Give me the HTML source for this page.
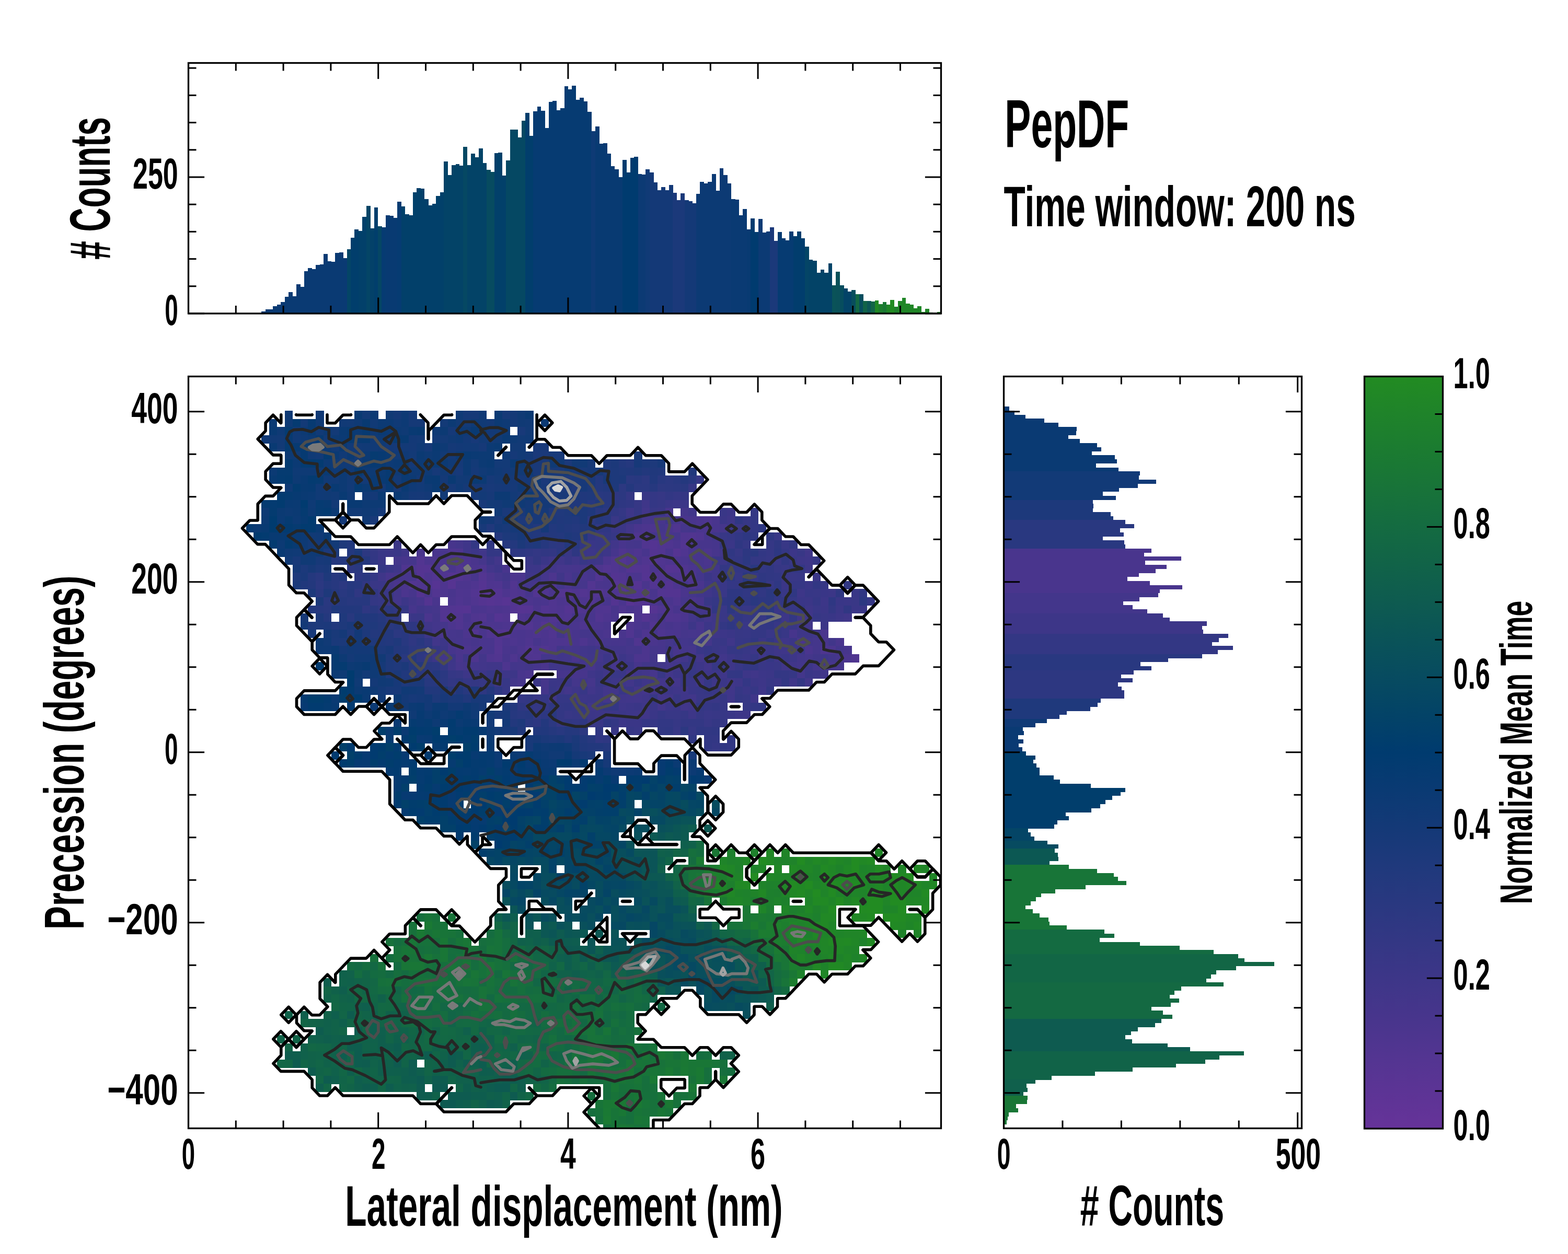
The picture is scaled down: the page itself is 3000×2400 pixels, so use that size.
<!DOCTYPE html>
<html><head><meta charset="utf-8"><title>PepDF</title>
<style>html,body{margin:0;padding:0;background:#fff;}svg{display:block;}</style>
</head><body>
<svg xmlns="http://www.w3.org/2000/svg" width="3000" height="2400" viewBox="0 0 3000 2400">
<rect x="0" y="0" width="3000" height="2400" fill="#fff"/>
<defs><clipPath id="mclip"><rect x="360.5" y="720.5" width="1440.0" height="1439.0"/></clipPath></defs>
<g shape-rendering="crispEdges">
<rect x="500.20" y="596.10" width="7.78" height="3.90" fill="#0a3a73"/>
<rect x="507.63" y="592.20" width="7.78" height="7.80" fill="#0a3a73"/>
<rect x="515.05" y="592.20" width="7.78" height="7.80" fill="#0a3a73"/>
<rect x="522.48" y="586.20" width="7.78" height="13.80" fill="#0a3a73"/>
<rect x="529.91" y="583.10" width="7.78" height="16.90" fill="#0a3a73"/>
<rect x="537.34" y="578.00" width="7.78" height="22.00" fill="#0a3a73"/>
<rect x="544.76" y="568.10" width="7.78" height="31.90" fill="#0a3a73"/>
<rect x="552.19" y="559.20" width="7.78" height="40.80" fill="#0a3a73"/>
<rect x="559.62" y="567.10" width="7.78" height="32.90" fill="#0a3a73"/>
<rect x="567.04" y="544.20" width="7.78" height="55.80" fill="#0a3a73"/>
<rect x="574.47" y="549.10" width="7.78" height="50.90" fill="#0a3a73"/>
<rect x="581.90" y="519.00" width="7.78" height="81.00" fill="#0a3a73"/>
<rect x="589.32" y="513.30" width="7.78" height="86.70" fill="#0a3a73"/>
<rect x="596.75" y="515.00" width="7.78" height="85.00" fill="#0a3a73"/>
<rect x="604.18" y="507.00" width="7.78" height="93.00" fill="#0a3a73"/>
<rect x="611.61" y="506.10" width="7.78" height="93.90" fill="#0a3a73"/>
<rect x="619.03" y="486.20" width="7.78" height="113.80" fill="#0a3a73"/>
<rect x="626.46" y="500.10" width="7.78" height="99.90" fill="#0a3a73"/>
<rect x="633.89" y="501.00" width="7.78" height="99.00" fill="#0a3a73"/>
<rect x="641.31" y="484.10" width="7.78" height="115.90" fill="#0a3a73"/>
<rect x="648.74" y="483.20" width="7.78" height="116.80" fill="#0a3a73"/>
<rect x="656.17" y="494.10" width="7.78" height="105.90" fill="#0a3a73"/>
<rect x="663.59" y="477.00" width="7.78" height="123.00" fill="#044566"/>
<rect x="671.02" y="455.10" width="7.78" height="144.90" fill="#013e6c"/>
<rect x="678.45" y="439.10" width="7.78" height="160.90" fill="#013e6c"/>
<rect x="685.88" y="441.90" width="7.78" height="158.10" fill="#02406a"/>
<rect x="693.30" y="415.20" width="7.78" height="184.80" fill="#02406a"/>
<rect x="700.73" y="394.10" width="7.78" height="205.90" fill="#044566"/>
<rect x="708.16" y="437.00" width="7.78" height="163.00" fill="#034169"/>
<rect x="715.58" y="397.10" width="7.78" height="202.90" fill="#013e6c"/>
<rect x="723.01" y="433.00" width="7.78" height="167.00" fill="#054664"/>
<rect x="730.44" y="435.10" width="7.78" height="164.90" fill="#063b72"/>
<rect x="737.86" y="412.10" width="7.78" height="187.90" fill="#083a72"/>
<rect x="745.29" y="413.00" width="7.78" height="187.00" fill="#083a72"/>
<rect x="752.72" y="417.00" width="7.78" height="183.00" fill="#083a72"/>
<rect x="760.14" y="386.10" width="7.78" height="213.90" fill="#063b72"/>
<rect x="767.57" y="395.00" width="7.78" height="205.00" fill="#02406a"/>
<rect x="775.00" y="410.00" width="7.78" height="190.00" fill="#02406a"/>
<rect x="782.43" y="412.10" width="7.78" height="187.90" fill="#02406a"/>
<rect x="789.85" y="368.20" width="7.78" height="231.80" fill="#02406a"/>
<rect x="797.28" y="360.20" width="7.78" height="239.80" fill="#02406a"/>
<rect x="804.71" y="361.20" width="7.78" height="238.80" fill="#02406a"/>
<rect x="812.13" y="381.20" width="7.78" height="218.80" fill="#02406a"/>
<rect x="819.56" y="393.00" width="7.78" height="207.00" fill="#02406a"/>
<rect x="826.99" y="390.10" width="7.78" height="209.90" fill="#02406a"/>
<rect x="834.41" y="375.10" width="7.78" height="224.90" fill="#02406a"/>
<rect x="841.84" y="367.80" width="7.78" height="232.20" fill="#02406a"/>
<rect x="849.27" y="309.10" width="7.78" height="290.90" fill="#034367"/>
<rect x="856.70" y="335.10" width="7.78" height="264.90" fill="#034367"/>
<rect x="864.12" y="316.20" width="7.78" height="283.80" fill="#034367"/>
<rect x="871.55" y="314.20" width="7.78" height="285.80" fill="#034367"/>
<rect x="878.98" y="317.10" width="7.78" height="282.90" fill="#034367"/>
<rect x="886.40" y="281.20" width="7.78" height="318.80" fill="#054863"/>
<rect x="893.83" y="316.10" width="7.78" height="283.90" fill="#034367"/>
<rect x="901.26" y="294.20" width="7.78" height="305.80" fill="#034367"/>
<rect x="908.68" y="301.00" width="7.78" height="299.00" fill="#034367"/>
<rect x="916.11" y="284.20" width="7.78" height="315.80" fill="#034367"/>
<rect x="923.54" y="312.00" width="7.78" height="288.00" fill="#034367"/>
<rect x="930.97" y="325.20" width="7.78" height="274.80" fill="#074b60"/>
<rect x="938.39" y="329.10" width="7.78" height="270.90" fill="#074b60"/>
<rect x="945.82" y="293.20" width="7.78" height="306.80" fill="#02406a"/>
<rect x="953.25" y="292.20" width="7.78" height="307.80" fill="#02406a"/>
<rect x="960.67" y="336.10" width="7.78" height="263.90" fill="#02406a"/>
<rect x="968.10" y="307.00" width="7.78" height="293.00" fill="#054863"/>
<rect x="975.53" y="248.10" width="7.78" height="351.90" fill="#054863"/>
<rect x="982.95" y="248.10" width="7.78" height="351.90" fill="#054863"/>
<rect x="990.38" y="263.00" width="7.78" height="337.00" fill="#054863"/>
<rect x="997.81" y="231.20" width="7.78" height="368.80" fill="#054863"/>
<rect x="1005.24" y="216.10" width="7.78" height="383.90" fill="#013e6c"/>
<rect x="1012.66" y="260.10" width="7.78" height="339.90" fill="#013e6c"/>
<rect x="1020.09" y="213.00" width="7.78" height="387.00" fill="#063b72"/>
<rect x="1027.52" y="204.10" width="7.78" height="395.90" fill="#063b72"/>
<rect x="1034.94" y="212.00" width="7.78" height="388.00" fill="#063b72"/>
<rect x="1042.37" y="245.10" width="7.78" height="354.90" fill="#063b72"/>
<rect x="1049.80" y="195.10" width="7.78" height="404.90" fill="#063b72"/>
<rect x="1057.22" y="193.10" width="7.78" height="406.90" fill="#063b72"/>
<rect x="1064.65" y="211.00" width="7.78" height="389.00" fill="#063b72"/>
<rect x="1072.08" y="207.10" width="7.78" height="392.90" fill="#063b72"/>
<rect x="1079.51" y="165.10" width="7.78" height="434.90" fill="#063b72"/>
<rect x="1086.93" y="171.00" width="7.78" height="429.00" fill="#063b72"/>
<rect x="1094.36" y="164.20" width="7.78" height="435.80" fill="#063b72"/>
<rect x="1101.79" y="191.20" width="7.78" height="408.80" fill="#063b72"/>
<rect x="1109.21" y="187.20" width="7.78" height="412.80" fill="#063b72"/>
<rect x="1116.64" y="194.10" width="7.78" height="405.90" fill="#063b72"/>
<rect x="1124.07" y="214.10" width="7.78" height="385.90" fill="#063b72"/>
<rect x="1131.49" y="251.20" width="7.78" height="348.80" fill="#0e3a75"/>
<rect x="1138.92" y="242.20" width="7.78" height="357.80" fill="#083a72"/>
<rect x="1146.35" y="275.10" width="7.78" height="324.90" fill="#083a72"/>
<rect x="1153.78" y="274.20" width="7.78" height="325.80" fill="#083a72"/>
<rect x="1161.20" y="294.20" width="7.78" height="305.80" fill="#083a72"/>
<rect x="1168.63" y="318.10" width="7.78" height="281.90" fill="#083a72"/>
<rect x="1176.06" y="324.10" width="7.78" height="275.90" fill="#083a72"/>
<rect x="1183.48" y="339.10" width="7.78" height="260.90" fill="#083a72"/>
<rect x="1190.91" y="306.20" width="7.78" height="293.80" fill="#003b6f"/>
<rect x="1198.34" y="330.10" width="7.78" height="269.90" fill="#003b6f"/>
<rect x="1205.76" y="302.00" width="7.78" height="298.00" fill="#003b6f"/>
<rect x="1213.19" y="300.10" width="7.78" height="299.90" fill="#003b6f"/>
<rect x="1220.62" y="333.20" width="7.78" height="266.80" fill="#0c3a74"/>
<rect x="1228.05" y="334.10" width="7.78" height="265.90" fill="#0c3a74"/>
<rect x="1235.47" y="324.10" width="7.78" height="275.90" fill="#103a76"/>
<rect x="1242.90" y="330.10" width="7.78" height="269.90" fill="#143977"/>
<rect x="1250.33" y="349.10" width="7.78" height="250.90" fill="#143977"/>
<rect x="1257.75" y="364.10" width="7.78" height="235.90" fill="#143977"/>
<rect x="1265.18" y="358.10" width="7.78" height="241.90" fill="#143977"/>
<rect x="1272.61" y="364.10" width="7.78" height="235.90" fill="#143977"/>
<rect x="1280.03" y="354.10" width="7.78" height="245.90" fill="#143977"/>
<rect x="1287.46" y="369.10" width="7.78" height="230.90" fill="#1b397a"/>
<rect x="1294.89" y="383.00" width="7.78" height="217.00" fill="#1b397a"/>
<rect x="1302.32" y="370.10" width="7.78" height="229.90" fill="#1b397a"/>
<rect x="1309.74" y="383.00" width="7.78" height="217.00" fill="#143977"/>
<rect x="1317.17" y="385.10" width="7.78" height="214.90" fill="#143977"/>
<rect x="1324.60" y="389.10" width="7.78" height="210.90" fill="#143977"/>
<rect x="1332.02" y="371.20" width="7.78" height="228.80" fill="#0c3a74"/>
<rect x="1339.45" y="348.10" width="7.78" height="251.90" fill="#0c3a74"/>
<rect x="1346.88" y="351.00" width="7.78" height="249.00" fill="#0c3a74"/>
<rect x="1354.30" y="348.10" width="7.78" height="251.90" fill="#0c3a74"/>
<rect x="1361.73" y="333.20" width="7.78" height="266.80" fill="#0c3a74"/>
<rect x="1369.16" y="365.10" width="7.78" height="234.90" fill="#0c3a74"/>
<rect x="1376.59" y="322.20" width="7.78" height="277.80" fill="#0c3a74"/>
<rect x="1384.01" y="335.10" width="7.78" height="264.90" fill="#0c3a74"/>
<rect x="1391.44" y="351.00" width="7.78" height="249.00" fill="#0c3a74"/>
<rect x="1398.87" y="381.20" width="7.78" height="218.80" fill="#0a3a73"/>
<rect x="1406.29" y="382.20" width="7.78" height="217.80" fill="#0a3a73"/>
<rect x="1413.72" y="412.00" width="7.78" height="188.00" fill="#0a3a73"/>
<rect x="1421.15" y="400.10" width="7.78" height="199.90" fill="#0a3a73"/>
<rect x="1428.58" y="439.10" width="7.78" height="160.90" fill="#083a72"/>
<rect x="1436.00" y="418.30" width="7.78" height="181.70" fill="#003b6f"/>
<rect x="1443.43" y="444.20" width="7.78" height="155.80" fill="#003b6f"/>
<rect x="1450.86" y="419.10" width="7.78" height="180.90" fill="#0c3a74"/>
<rect x="1458.28" y="445.20" width="7.78" height="154.80" fill="#0c3a74"/>
<rect x="1465.71" y="443.20" width="7.78" height="156.80" fill="#0c3a74"/>
<rect x="1473.14" y="435.20" width="7.78" height="164.80" fill="#1b397a"/>
<rect x="1480.56" y="461.00" width="7.78" height="139.00" fill="#1b397a"/>
<rect x="1487.99" y="444.20" width="7.78" height="155.80" fill="#063b72"/>
<rect x="1495.42" y="456.10" width="7.78" height="143.90" fill="#063b72"/>
<rect x="1502.85" y="460.10" width="7.78" height="139.90" fill="#063b72"/>
<rect x="1510.27" y="443.20" width="7.78" height="156.80" fill="#063b72"/>
<rect x="1517.70" y="452.20" width="7.78" height="147.80" fill="#013d6d"/>
<rect x="1525.13" y="443.20" width="7.78" height="156.80" fill="#013d6d"/>
<rect x="1532.55" y="456.10" width="7.78" height="143.90" fill="#013d6d"/>
<rect x="1539.98" y="472.20" width="7.78" height="127.80" fill="#044566"/>
<rect x="1547.41" y="497.10" width="7.78" height="102.90" fill="#034367"/>
<rect x="1554.83" y="499.10" width="7.78" height="100.90" fill="#034367"/>
<rect x="1562.26" y="522.00" width="7.78" height="78.00" fill="#034367"/>
<rect x="1569.69" y="516.10" width="7.78" height="83.90" fill="#034367"/>
<rect x="1577.12" y="522.00" width="7.78" height="78.00" fill="#034367"/>
<rect x="1584.54" y="504.20" width="7.78" height="95.80" fill="#034367"/>
<rect x="1591.97" y="546.00" width="7.78" height="54.00" fill="#0a5358"/>
<rect x="1599.40" y="520.10" width="7.78" height="79.90" fill="#0a5159"/>
<rect x="1606.82" y="546.20" width="7.78" height="53.80" fill="#074d5e"/>
<rect x="1614.25" y="552.20" width="7.78" height="47.80" fill="#034367"/>
<rect x="1621.68" y="558.20" width="7.78" height="41.80" fill="#034367"/>
<rect x="1629.10" y="555.20" width="7.78" height="44.80" fill="#084e5d"/>
<rect x="1636.53" y="563.30" width="7.78" height="36.70" fill="#136844"/>
<rect x="1643.96" y="563.30" width="7.78" height="36.70" fill="#074d5e"/>
<rect x="1651.38" y="576.20" width="7.78" height="23.80" fill="#116348"/>
<rect x="1658.81" y="576.20" width="7.78" height="23.80" fill="#0c5655"/>
<rect x="1666.24" y="577.20" width="7.78" height="22.80" fill="#126547"/>
<rect x="1673.67" y="575.30" width="7.78" height="24.70" fill="#218825"/>
<rect x="1681.09" y="582.30" width="7.78" height="17.70" fill="#1d7e2e"/>
<rect x="1688.52" y="578.40" width="7.78" height="21.60" fill="#1a7834"/>
<rect x="1695.95" y="583.20" width="7.78" height="16.80" fill="#208627"/>
<rect x="1703.37" y="574.30" width="7.78" height="25.70" fill="#228b22"/>
<rect x="1710.80" y="587.30" width="7.78" height="12.70" fill="#1e812b"/>
<rect x="1718.23" y="576.40" width="7.78" height="23.60" fill="#208627"/>
<rect x="1725.65" y="570.40" width="7.78" height="29.60" fill="#208627"/>
<rect x="1733.08" y="581.30" width="7.78" height="18.70" fill="#208627"/>
<rect x="1740.51" y="583.20" width="7.78" height="16.80" fill="#208627"/>
<rect x="1747.94" y="590.40" width="7.78" height="9.60" fill="#208627"/>
<rect x="1755.36" y="586.40" width="7.78" height="13.60" fill="#208627"/>
<rect x="1762.79" y="597.40" width="7.78" height="2.60" fill="#208627"/>
<rect x="1770.22" y="591.30" width="7.78" height="8.70" fill="#208627"/>
<rect x="1777.64" y="598.30" width="7.78" height="1.70" fill="#208627"/>
<rect x="1785.07" y="598.80" width="7.78" height="1.20" fill="#208627"/>
<rect x="1792.50" y="597.20" width="7.78" height="2.80" fill="#208627"/>
</g>
<g shape-rendering="crispEdges">
<rect x="1920.50" y="778.20" width="10.30" height="8.06" fill="#0a3a73"/>
<rect x="1920.50" y="785.96" width="20.30" height="8.06" fill="#0a3a73"/>
<rect x="1920.50" y="793.72" width="41.30" height="8.06" fill="#0a3a73"/>
<rect x="1920.50" y="801.48" width="77.30" height="8.06" fill="#0a3a73"/>
<rect x="1920.50" y="809.24" width="104.30" height="8.06" fill="#0a3a73"/>
<rect x="1920.50" y="817.00" width="139.30" height="8.06" fill="#0a3a73"/>
<rect x="1920.50" y="824.76" width="138.30" height="8.06" fill="#0a3a73"/>
<rect x="1920.50" y="832.52" width="123.50" height="8.06" fill="#0a3a73"/>
<rect x="1920.50" y="840.28" width="145.30" height="8.06" fill="#0a3a73"/>
<rect x="1920.50" y="848.04" width="178.40" height="8.06" fill="#0a3a73"/>
<rect x="1920.50" y="855.80" width="186.30" height="8.06" fill="#0a3a73"/>
<rect x="1920.50" y="863.56" width="168.30" height="8.06" fill="#0a3a73"/>
<rect x="1920.50" y="871.32" width="212.30" height="8.06" fill="#0a3a73"/>
<rect x="1920.50" y="879.08" width="216.20" height="8.06" fill="#0a3a73"/>
<rect x="1920.50" y="886.84" width="176.10" height="8.06" fill="#0a3a73"/>
<rect x="1920.50" y="894.60" width="219.20" height="8.06" fill="#0a3a73"/>
<rect x="1920.50" y="902.36" width="260.40" height="8.06" fill="#123a77"/>
<rect x="1920.50" y="910.12" width="258.30" height="8.06" fill="#123a77"/>
<rect x="1920.50" y="917.88" width="291.40" height="8.06" fill="#123a77"/>
<rect x="1920.50" y="925.64" width="256.30" height="8.06" fill="#123a77"/>
<rect x="1920.50" y="933.40" width="220.30" height="8.06" fill="#123a77"/>
<rect x="1920.50" y="941.16" width="189.30" height="8.06" fill="#123a77"/>
<rect x="1920.50" y="948.92" width="214.40" height="8.06" fill="#123a77"/>
<rect x="1920.50" y="956.68" width="170.40" height="8.06" fill="#1d397b"/>
<rect x="1920.50" y="964.44" width="171.30" height="8.06" fill="#1d397b"/>
<rect x="1920.50" y="972.20" width="170.40" height="8.06" fill="#1d397b"/>
<rect x="1920.50" y="979.96" width="204.30" height="8.06" fill="#1d397b"/>
<rect x="1920.50" y="987.72" width="209.40" height="8.06" fill="#1d397b"/>
<rect x="1920.50" y="995.48" width="232.40" height="8.06" fill="#293880"/>
<rect x="1920.50" y="1003.24" width="249.20" height="8.06" fill="#293880"/>
<rect x="1920.50" y="1011.00" width="222.30" height="8.06" fill="#293880"/>
<rect x="1920.50" y="1018.76" width="229.20" height="8.06" fill="#293880"/>
<rect x="1920.50" y="1026.52" width="189.30" height="8.06" fill="#293880"/>
<rect x="1920.50" y="1034.28" width="230.30" height="8.06" fill="#293880"/>
<rect x="1920.50" y="1042.04" width="232.40" height="8.06" fill="#293880"/>
<rect x="1920.50" y="1049.80" width="282.30" height="8.06" fill="#49358d"/>
<rect x="1920.50" y="1057.56" width="268.40" height="8.06" fill="#49358d"/>
<rect x="1920.50" y="1065.32" width="339.20" height="8.06" fill="#49358d"/>
<rect x="1920.50" y="1073.08" width="270.30" height="8.06" fill="#49358d"/>
<rect x="1920.50" y="1080.84" width="311.40" height="8.06" fill="#49358d"/>
<rect x="1920.50" y="1088.60" width="290.30" height="8.06" fill="#49358d"/>
<rect x="1920.50" y="1096.36" width="258.10" height="8.06" fill="#49358d"/>
<rect x="1920.50" y="1104.12" width="236.50" height="8.06" fill="#49358d"/>
<rect x="1920.50" y="1111.88" width="279.40" height="8.06" fill="#49358d"/>
<rect x="1920.50" y="1119.64" width="341.30" height="8.06" fill="#49358d"/>
<rect x="1920.50" y="1127.40" width="298.40" height="8.06" fill="#49358d"/>
<rect x="1920.50" y="1135.16" width="295.20" height="8.06" fill="#43368b"/>
<rect x="1920.50" y="1142.92" width="259.20" height="8.06" fill="#43368b"/>
<rect x="1920.50" y="1150.68" width="228.40" height="8.06" fill="#43368b"/>
<rect x="1920.50" y="1158.44" width="246.20" height="8.06" fill="#43368b"/>
<rect x="1920.50" y="1166.20" width="274.30" height="8.06" fill="#43368b"/>
<rect x="1920.50" y="1173.96" width="304.40" height="8.06" fill="#3d3688"/>
<rect x="1920.50" y="1181.72" width="317.20" height="8.06" fill="#3d3688"/>
<rect x="1920.50" y="1189.48" width="388.40" height="8.06" fill="#3d3688"/>
<rect x="1920.50" y="1197.24" width="379.60" height="8.06" fill="#3d3688"/>
<rect x="1920.50" y="1205.00" width="381.40" height="8.06" fill="#3d3688"/>
<rect x="1920.50" y="1212.76" width="429.40" height="8.06" fill="#333784"/>
<rect x="1920.50" y="1220.52" width="411.10" height="8.06" fill="#333784"/>
<rect x="1920.50" y="1228.28" width="398.40" height="8.06" fill="#333784"/>
<rect x="1920.50" y="1236.04" width="438.20" height="8.06" fill="#333784"/>
<rect x="1920.50" y="1243.80" width="409.30" height="8.06" fill="#333784"/>
<rect x="1920.50" y="1251.56" width="379.10" height="8.06" fill="#293880"/>
<rect x="1920.50" y="1259.32" width="314.20" height="8.06" fill="#293880"/>
<rect x="1920.50" y="1267.08" width="261.30" height="8.06" fill="#293880"/>
<rect x="1920.50" y="1274.84" width="282.20" height="8.06" fill="#293880"/>
<rect x="1920.50" y="1282.60" width="248.30" height="8.06" fill="#2d3781"/>
<rect x="1920.50" y="1290.36" width="224.40" height="8.06" fill="#2d3781"/>
<rect x="1920.50" y="1298.12" width="246.50" height="8.06" fill="#2d3781"/>
<rect x="1920.50" y="1305.88" width="218.40" height="8.06" fill="#2d3781"/>
<rect x="1920.50" y="1313.64" width="225.40" height="8.06" fill="#2d3781"/>
<rect x="1920.50" y="1321.40" width="230.20" height="8.06" fill="#2d3781"/>
<rect x="1920.50" y="1329.16" width="230.20" height="8.06" fill="#2d3781"/>
<rect x="1920.50" y="1336.92" width="185.50" height="8.06" fill="#1f397c"/>
<rect x="1920.50" y="1344.68" width="179.20" height="8.06" fill="#1f397c"/>
<rect x="1920.50" y="1352.44" width="165.10" height="8.06" fill="#1f397c"/>
<rect x="1920.50" y="1360.20" width="120.10" height="8.06" fill="#1f397c"/>
<rect x="1920.50" y="1367.96" width="106.20" height="8.06" fill="#1f397c"/>
<rect x="1920.50" y="1375.72" width="82.30" height="8.06" fill="#103a76"/>
<rect x="1920.50" y="1383.48" width="60.20" height="8.06" fill="#103a76"/>
<rect x="1920.50" y="1391.24" width="36.30" height="8.06" fill="#0a3a73"/>
<rect x="1920.50" y="1399.00" width="38.20" height="8.06" fill="#0a3a73"/>
<rect x="1920.50" y="1406.76" width="27.40" height="8.06" fill="#0a3a73"/>
<rect x="1920.50" y="1414.52" width="37.20" height="8.06" fill="#0a3a73"/>
<rect x="1920.50" y="1422.28" width="28.50" height="8.06" fill="#0a3a73"/>
<rect x="1920.50" y="1430.04" width="35.10" height="8.06" fill="#0a3a73"/>
<rect x="1920.50" y="1437.80" width="42.20" height="8.06" fill="#013e6c"/>
<rect x="1920.50" y="1445.56" width="60.10" height="8.06" fill="#013e6c"/>
<rect x="1920.50" y="1453.32" width="56.50" height="8.06" fill="#013e6c"/>
<rect x="1920.50" y="1461.08" width="62.10" height="8.06" fill="#013e6c"/>
<rect x="1920.50" y="1468.84" width="68.20" height="8.06" fill="#013e6c"/>
<rect x="1920.50" y="1476.60" width="68.20" height="8.06" fill="#013e6c"/>
<rect x="1920.50" y="1484.36" width="95.00" height="8.06" fill="#013e6c"/>
<rect x="1920.50" y="1492.12" width="107.20" height="8.06" fill="#013e6c"/>
<rect x="1920.50" y="1499.88" width="166.00" height="8.06" fill="#013e6c"/>
<rect x="1920.50" y="1507.64" width="232.10" height="8.06" fill="#013e6c"/>
<rect x="1920.50" y="1515.40" width="223.20" height="8.06" fill="#013e6c"/>
<rect x="1920.50" y="1523.16" width="207.20" height="8.06" fill="#013e6c"/>
<rect x="1920.50" y="1530.92" width="194.00" height="8.06" fill="#013e6c"/>
<rect x="1920.50" y="1538.68" width="184.30" height="8.06" fill="#013e6c"/>
<rect x="1920.50" y="1546.44" width="167.20" height="8.06" fill="#013e6c"/>
<rect x="1920.50" y="1554.20" width="118.30" height="8.06" fill="#013e6c"/>
<rect x="1920.50" y="1561.96" width="124.40" height="8.06" fill="#013e6c"/>
<rect x="1920.50" y="1569.72" width="102.10" height="8.06" fill="#013e6c"/>
<rect x="1920.50" y="1577.48" width="96.40" height="8.06" fill="#013e6c"/>
<rect x="1920.50" y="1585.24" width="46.30" height="8.06" fill="#044566"/>
<rect x="1920.50" y="1593.00" width="51.40" height="8.06" fill="#044566"/>
<rect x="1920.50" y="1600.76" width="58.50" height="8.06" fill="#044566"/>
<rect x="1920.50" y="1608.52" width="83.20" height="8.06" fill="#074b60"/>
<rect x="1920.50" y="1616.28" width="104.30" height="8.06" fill="#074b60"/>
<rect x="1920.50" y="1624.04" width="97.40" height="8.06" fill="#0c5853"/>
<rect x="1920.50" y="1631.80" width="103.10" height="8.06" fill="#0c5853"/>
<rect x="1920.50" y="1639.56" width="104.30" height="8.06" fill="#0c5853"/>
<rect x="1920.50" y="1647.32" width="87.30" height="8.06" fill="#0c5853"/>
<rect x="1920.50" y="1655.08" width="124.20" height="8.06" fill="#187538"/>
<rect x="1920.50" y="1662.84" width="178.20" height="8.06" fill="#187538"/>
<rect x="1920.50" y="1670.60" width="210.20" height="8.06" fill="#187538"/>
<rect x="1920.50" y="1678.36" width="218.30" height="8.06" fill="#187538"/>
<rect x="1920.50" y="1686.12" width="234.40" height="8.06" fill="#187538"/>
<rect x="1920.50" y="1693.88" width="156.30" height="8.06" fill="#187538"/>
<rect x="1920.50" y="1701.64" width="98.00" height="8.06" fill="#187538"/>
<rect x="1920.50" y="1709.40" width="71.10" height="8.06" fill="#187538"/>
<rect x="1920.50" y="1717.16" width="61.10" height="8.06" fill="#187538"/>
<rect x="1920.50" y="1724.92" width="51.30" height="8.06" fill="#187538"/>
<rect x="1920.50" y="1732.68" width="41.10" height="8.06" fill="#187538"/>
<rect x="1920.50" y="1740.44" width="55.20" height="8.06" fill="#187538"/>
<rect x="1920.50" y="1748.20" width="68.30" height="8.06" fill="#187538"/>
<rect x="1920.50" y="1755.96" width="85.20" height="8.06" fill="#187538"/>
<rect x="1920.50" y="1763.72" width="87.30" height="8.06" fill="#187538"/>
<rect x="1920.50" y="1771.48" width="120.40" height="8.06" fill="#187538"/>
<rect x="1920.50" y="1779.24" width="192.40" height="8.06" fill="#146b41"/>
<rect x="1920.50" y="1787.00" width="211.50" height="8.06" fill="#146b41"/>
<rect x="1920.50" y="1794.76" width="183.30" height="8.06" fill="#146b41"/>
<rect x="1920.50" y="1802.52" width="260.20" height="8.06" fill="#146b41"/>
<rect x="1920.50" y="1810.28" width="336.30" height="8.06" fill="#146b41"/>
<rect x="1920.50" y="1818.04" width="401.30" height="8.06" fill="#146b41"/>
<rect x="1920.50" y="1825.80" width="448.40" height="8.06" fill="#126645"/>
<rect x="1920.50" y="1833.56" width="460.40" height="8.06" fill="#126645"/>
<rect x="1920.50" y="1841.32" width="517.40" height="8.06" fill="#126645"/>
<rect x="1920.50" y="1849.08" width="444.30" height="8.06" fill="#126645"/>
<rect x="1920.50" y="1856.84" width="406.40" height="8.06" fill="#126645"/>
<rect x="1920.50" y="1864.60" width="396.30" height="8.06" fill="#126645"/>
<rect x="1920.50" y="1872.36" width="387.30" height="8.06" fill="#126645"/>
<rect x="1920.50" y="1880.12" width="420.50" height="8.06" fill="#146942"/>
<rect x="1920.50" y="1887.88" width="339.50" height="8.06" fill="#146942"/>
<rect x="1920.50" y="1895.64" width="326.50" height="8.06" fill="#146942"/>
<rect x="1920.50" y="1903.40" width="317.40" height="8.06" fill="#146942"/>
<rect x="1920.50" y="1911.16" width="335.60" height="8.06" fill="#146942"/>
<rect x="1920.50" y="1918.92" width="319.30" height="8.06" fill="#146942"/>
<rect x="1920.50" y="1926.68" width="282.30" height="8.06" fill="#146942"/>
<rect x="1920.50" y="1934.44" width="304.30" height="8.06" fill="#146942"/>
<rect x="1920.50" y="1942.20" width="322.50" height="8.06" fill="#146942"/>
<rect x="1920.50" y="1949.96" width="301.40" height="8.06" fill="#0e5b50"/>
<rect x="1920.50" y="1957.72" width="289.40" height="8.06" fill="#0e5b50"/>
<rect x="1920.50" y="1965.48" width="256.30" height="8.06" fill="#0e5b50"/>
<rect x="1920.50" y="1973.24" width="243.30" height="8.06" fill="#0e5b50"/>
<rect x="1920.50" y="1981.00" width="232.30" height="8.06" fill="#0e5b50"/>
<rect x="1920.50" y="1988.76" width="245.40" height="8.06" fill="#0e5b50"/>
<rect x="1920.50" y="1996.52" width="313.40" height="8.06" fill="#0e5b50"/>
<rect x="1920.50" y="2004.28" width="356.50" height="8.06" fill="#0e5b50"/>
<rect x="1920.50" y="2012.04" width="459.40" height="8.06" fill="#116348"/>
<rect x="1920.50" y="2019.80" width="412.50" height="8.06" fill="#116348"/>
<rect x="1920.50" y="2027.56" width="385.50" height="8.06" fill="#116348"/>
<rect x="1920.50" y="2035.32" width="329.40" height="8.06" fill="#116348"/>
<rect x="1920.50" y="2043.08" width="246.40" height="8.06" fill="#116348"/>
<rect x="1920.50" y="2050.84" width="174.40" height="8.06" fill="#116348"/>
<rect x="1920.50" y="2058.60" width="91.20" height="8.06" fill="#116348"/>
<rect x="1920.50" y="2066.36" width="60.40" height="8.06" fill="#10604c"/>
<rect x="1920.50" y="2074.12" width="43.20" height="8.06" fill="#10604c"/>
<rect x="1920.50" y="2081.88" width="45.10" height="8.06" fill="#10604c"/>
<rect x="1920.50" y="2089.64" width="37.20" height="8.06" fill="#10604c"/>
<rect x="1920.50" y="2097.40" width="45.10" height="8.06" fill="#197636"/>
<rect x="1920.50" y="2105.16" width="44.30" height="8.06" fill="#197636"/>
<rect x="1920.50" y="2112.92" width="23.40" height="8.06" fill="#197636"/>
<rect x="1920.50" y="2120.68" width="27.30" height="8.06" fill="#197636"/>
<rect x="1920.50" y="2128.44" width="9.10" height="8.06" fill="#197636"/>
<rect x="1920.50" y="2136.20" width="7.20" height="8.06" fill="#197636"/>
<rect x="1920.50" y="2143.96" width="5.10" height="8.06" fill="#197636"/>
</g>
<g clip-path="url(#mclip)"><g shape-rendering="crispEdges">
<rect x="544.8" y="786.0" width="15.3" height="15.9" fill="#0f3a75"/>
<rect x="604.2" y="786.0" width="15.3" height="15.9" fill="#113a76"/>
<rect x="678.4" y="786.0" width="15.3" height="15.9" fill="#0a3a73"/>
<rect x="693.3" y="786.0" width="15.3" height="15.9" fill="#133a77"/>
<rect x="708.2" y="786.0" width="15.3" height="15.9" fill="#0c3a74"/>
<rect x="737.9" y="786.0" width="15.3" height="15.9" fill="#103a75"/>
<rect x="752.7" y="786.0" width="15.3" height="15.9" fill="#143977"/>
<rect x="767.6" y="786.0" width="15.3" height="15.9" fill="#0e3a75"/>
<rect x="782.4" y="786.0" width="15.3" height="15.9" fill="#153978"/>
<rect x="871.5" y="786.0" width="15.3" height="15.9" fill="#103a76"/>
<rect x="886.4" y="786.0" width="30.1" height="15.9" fill="#163978"/>
<rect x="916.1" y="786.0" width="15.3" height="15.9" fill="#113a76"/>
<rect x="945.8" y="786.0" width="15.3" height="15.9" fill="#0c3a74"/>
<rect x="960.7" y="786.0" width="15.3" height="15.9" fill="#163978"/>
<rect x="975.5" y="786.0" width="15.3" height="15.9" fill="#143977"/>
<rect x="990.4" y="786.0" width="15.3" height="15.9" fill="#0f3a75"/>
<rect x="1005.2" y="786.0" width="15.3" height="15.9" fill="#0a3a73"/>
<rect x="515.1" y="801.5" width="15.3" height="15.9" fill="#0b3a74"/>
<rect x="544.8" y="801.5" width="15.3" height="15.9" fill="#0e3a75"/>
<rect x="559.6" y="801.5" width="15.3" height="15.9" fill="#053b71"/>
<rect x="574.5" y="801.5" width="15.3" height="15.9" fill="#133a77"/>
<rect x="589.3" y="801.5" width="15.3" height="15.9" fill="#073a72"/>
<rect x="604.2" y="801.5" width="15.3" height="15.9" fill="#0f3a75"/>
<rect x="648.7" y="801.5" width="15.3" height="15.9" fill="#113a76"/>
<rect x="663.6" y="801.5" width="15.3" height="15.9" fill="#123a76"/>
<rect x="678.4" y="801.5" width="15.3" height="15.9" fill="#0f3a75"/>
<rect x="693.3" y="801.5" width="15.3" height="15.9" fill="#083a72"/>
<rect x="708.2" y="801.5" width="15.3" height="15.9" fill="#113a76"/>
<rect x="723.0" y="801.5" width="30.1" height="15.9" fill="#0c3a74"/>
<rect x="752.7" y="801.5" width="15.3" height="15.9" fill="#103a76"/>
<rect x="767.6" y="801.5" width="15.3" height="15.9" fill="#0d3a75"/>
<rect x="782.4" y="801.5" width="30.1" height="15.9" fill="#153977"/>
<rect x="841.8" y="801.5" width="15.3" height="15.9" fill="#133a77"/>
<rect x="856.7" y="801.5" width="15.3" height="15.9" fill="#0c3a74"/>
<rect x="871.5" y="801.5" width="15.3" height="15.9" fill="#113a76"/>
<rect x="886.4" y="801.5" width="15.3" height="15.9" fill="#133a77"/>
<rect x="901.3" y="801.5" width="15.3" height="15.9" fill="#0f3a75"/>
<rect x="916.1" y="801.5" width="15.3" height="15.9" fill="#113a76"/>
<rect x="931.0" y="801.5" width="15.3" height="15.9" fill="#133977"/>
<rect x="945.8" y="801.5" width="15.3" height="15.9" fill="#0c3a74"/>
<rect x="960.7" y="801.5" width="15.3" height="15.9" fill="#0e3a75"/>
<rect x="975.5" y="801.5" width="15.3" height="15.9" fill="#143977"/>
<rect x="990.4" y="801.5" width="15.3" height="15.9" fill="#103a75"/>
<rect x="1005.2" y="801.5" width="15.3" height="15.9" fill="#113a76"/>
<rect x="1034.9" y="801.5" width="15.3" height="15.9" fill="#0c3a74"/>
<rect x="515.1" y="817.0" width="15.3" height="15.9" fill="#093a73"/>
<rect x="529.9" y="817.0" width="15.3" height="15.9" fill="#0f3a75"/>
<rect x="544.8" y="817.0" width="15.3" height="15.9" fill="#053b71"/>
<rect x="559.6" y="817.0" width="15.3" height="15.9" fill="#113a76"/>
<rect x="574.5" y="817.0" width="15.3" height="15.9" fill="#0d3a74"/>
<rect x="589.3" y="817.0" width="15.3" height="15.9" fill="#083a72"/>
<rect x="604.2" y="817.0" width="15.3" height="15.9" fill="#113a76"/>
<rect x="619.0" y="817.0" width="15.3" height="15.9" fill="#0c3a74"/>
<rect x="633.9" y="817.0" width="15.3" height="15.9" fill="#133a77"/>
<rect x="648.7" y="817.0" width="15.3" height="15.9" fill="#0a3a73"/>
<rect x="663.6" y="817.0" width="15.3" height="15.9" fill="#083a72"/>
<rect x="678.4" y="817.0" width="15.3" height="15.9" fill="#0b3a74"/>
<rect x="693.3" y="817.0" width="15.3" height="15.9" fill="#073a72"/>
<rect x="708.2" y="817.0" width="15.3" height="15.9" fill="#0f3a75"/>
<rect x="723.0" y="817.0" width="15.3" height="15.9" fill="#0a3a73"/>
<rect x="737.9" y="817.0" width="15.3" height="15.9" fill="#0c3a74"/>
<rect x="752.7" y="817.0" width="15.3" height="15.9" fill="#0d3a74"/>
<rect x="767.6" y="817.0" width="15.3" height="15.9" fill="#0f3a75"/>
<rect x="782.4" y="817.0" width="15.3" height="15.9" fill="#093a73"/>
<rect x="797.3" y="817.0" width="15.3" height="15.9" fill="#083a72"/>
<rect x="827.0" y="817.0" width="15.3" height="15.9" fill="#0f3a75"/>
<rect x="841.8" y="817.0" width="15.3" height="15.9" fill="#0c3a74"/>
<rect x="856.7" y="817.0" width="15.3" height="15.9" fill="#153978"/>
<rect x="871.5" y="817.0" width="15.3" height="15.9" fill="#0d3a74"/>
<rect x="886.4" y="817.0" width="15.3" height="15.9" fill="#0e3a75"/>
<rect x="901.3" y="817.0" width="15.3" height="15.9" fill="#093a73"/>
<rect x="916.1" y="817.0" width="15.3" height="15.9" fill="#0c3a74"/>
<rect x="931.0" y="817.0" width="15.3" height="15.9" fill="#133977"/>
<rect x="945.8" y="817.0" width="15.3" height="15.9" fill="#123a76"/>
<rect x="960.7" y="817.0" width="15.3" height="15.9" fill="#0e3a75"/>
<rect x="990.4" y="817.0" width="15.3" height="15.9" fill="#183979"/>
<rect x="1005.2" y="817.0" width="15.3" height="15.9" fill="#123a76"/>
<rect x="500.2" y="832.6" width="30.1" height="15.9" fill="#113a76"/>
<rect x="529.9" y="832.6" width="15.3" height="15.9" fill="#123a76"/>
<rect x="544.8" y="832.6" width="15.3" height="15.9" fill="#083a72"/>
<rect x="559.6" y="832.6" width="15.3" height="15.9" fill="#113a76"/>
<rect x="574.5" y="832.6" width="15.3" height="15.9" fill="#0f3a75"/>
<rect x="589.3" y="832.6" width="15.3" height="15.9" fill="#0d3a74"/>
<rect x="604.2" y="832.6" width="15.3" height="15.9" fill="#073a72"/>
<rect x="619.0" y="832.6" width="15.3" height="15.9" fill="#123a76"/>
<rect x="633.9" y="832.6" width="15.3" height="15.9" fill="#0d3a74"/>
<rect x="648.7" y="832.6" width="15.3" height="15.9" fill="#0b3a74"/>
<rect x="663.6" y="832.6" width="15.3" height="15.9" fill="#073a72"/>
<rect x="678.4" y="832.6" width="15.3" height="15.9" fill="#083a72"/>
<rect x="693.3" y="832.6" width="15.3" height="15.9" fill="#073a72"/>
<rect x="708.2" y="832.6" width="15.3" height="15.9" fill="#103a76"/>
<rect x="723.0" y="832.6" width="15.3" height="15.9" fill="#0e3a75"/>
<rect x="737.9" y="832.6" width="15.3" height="15.9" fill="#0f3a75"/>
<rect x="752.7" y="832.6" width="30.1" height="15.9" fill="#083a72"/>
<rect x="782.4" y="832.6" width="15.3" height="15.9" fill="#133977"/>
<rect x="797.3" y="832.6" width="15.3" height="15.9" fill="#133a77"/>
<rect x="827.0" y="832.6" width="30.1" height="15.9" fill="#133a77"/>
<rect x="856.7" y="832.6" width="15.3" height="15.9" fill="#103a75"/>
<rect x="871.5" y="832.6" width="15.3" height="15.9" fill="#0e3a75"/>
<rect x="886.4" y="832.6" width="15.3" height="15.9" fill="#133977"/>
<rect x="901.3" y="832.6" width="15.3" height="15.9" fill="#173979"/>
<rect x="916.1" y="832.6" width="15.3" height="15.9" fill="#123a76"/>
<rect x="931.0" y="832.6" width="15.3" height="15.9" fill="#123a77"/>
<rect x="945.8" y="832.6" width="15.3" height="15.9" fill="#103a75"/>
<rect x="960.7" y="832.6" width="15.3" height="15.9" fill="#0a3a73"/>
<rect x="975.5" y="832.6" width="15.3" height="15.9" fill="#0e3a75"/>
<rect x="990.4" y="832.6" width="15.3" height="15.9" fill="#113a76"/>
<rect x="1005.2" y="832.6" width="15.3" height="15.9" fill="#103a76"/>
<rect x="515.1" y="848.1" width="15.3" height="15.9" fill="#093a73"/>
<rect x="529.9" y="848.1" width="15.3" height="15.9" fill="#123a76"/>
<rect x="544.8" y="848.1" width="15.3" height="15.9" fill="#063b71"/>
<rect x="559.6" y="848.1" width="15.3" height="15.9" fill="#073a72"/>
<rect x="574.5" y="848.1" width="15.3" height="15.9" fill="#063b72"/>
<rect x="589.3" y="848.1" width="15.3" height="15.9" fill="#073a72"/>
<rect x="604.2" y="848.1" width="30.1" height="15.9" fill="#0d3a74"/>
<rect x="633.9" y="848.1" width="15.3" height="15.9" fill="#123a76"/>
<rect x="648.7" y="848.1" width="15.3" height="15.9" fill="#0a3a73"/>
<rect x="663.6" y="848.1" width="30.1" height="15.9" fill="#123a77"/>
<rect x="693.3" y="848.1" width="30.1" height="15.9" fill="#113a76"/>
<rect x="723.0" y="848.1" width="15.3" height="15.9" fill="#0f3a75"/>
<rect x="737.9" y="848.1" width="15.3" height="15.9" fill="#143977"/>
<rect x="752.7" y="848.1" width="15.3" height="15.9" fill="#153978"/>
<rect x="767.6" y="848.1" width="15.3" height="15.9" fill="#133a77"/>
<rect x="782.4" y="848.1" width="15.3" height="15.9" fill="#143977"/>
<rect x="797.3" y="848.1" width="15.3" height="15.9" fill="#103a76"/>
<rect x="812.1" y="848.1" width="15.3" height="15.9" fill="#153978"/>
<rect x="827.0" y="848.1" width="15.3" height="15.9" fill="#0a3a73"/>
<rect x="841.8" y="848.1" width="15.3" height="15.9" fill="#0e3a75"/>
<rect x="856.7" y="848.1" width="15.3" height="15.9" fill="#153977"/>
<rect x="871.5" y="848.1" width="15.3" height="15.9" fill="#133977"/>
<rect x="886.4" y="848.1" width="30.1" height="15.9" fill="#123a77"/>
<rect x="916.1" y="848.1" width="15.3" height="15.9" fill="#163978"/>
<rect x="931.0" y="848.1" width="15.3" height="15.9" fill="#0c3a74"/>
<rect x="945.8" y="848.1" width="15.3" height="15.9" fill="#0a3a73"/>
<rect x="975.5" y="848.1" width="30.1" height="15.9" fill="#123a76"/>
<rect x="1020.1" y="848.1" width="15.3" height="15.9" fill="#183979"/>
<rect x="1034.9" y="848.1" width="15.3" height="15.9" fill="#193979"/>
<rect x="544.8" y="863.6" width="15.3" height="15.9" fill="#0d3a75"/>
<rect x="559.6" y="863.6" width="15.3" height="15.9" fill="#0e3a75"/>
<rect x="574.5" y="863.6" width="15.3" height="15.9" fill="#063a72"/>
<rect x="589.3" y="863.6" width="15.3" height="15.9" fill="#103a76"/>
<rect x="604.2" y="863.6" width="15.3" height="15.9" fill="#123a77"/>
<rect x="619.0" y="863.6" width="15.3" height="15.9" fill="#053b71"/>
<rect x="633.9" y="863.6" width="15.3" height="15.9" fill="#0b3a74"/>
<rect x="648.7" y="863.6" width="15.3" height="15.9" fill="#113a76"/>
<rect x="663.6" y="863.6" width="15.3" height="15.9" fill="#0b3a74"/>
<rect x="678.4" y="863.6" width="15.3" height="15.9" fill="#133a77"/>
<rect x="693.3" y="863.6" width="15.3" height="15.9" fill="#0c3a74"/>
<rect x="708.2" y="863.6" width="15.3" height="15.9" fill="#063b71"/>
<rect x="723.0" y="863.6" width="15.3" height="15.9" fill="#083a72"/>
<rect x="737.9" y="863.6" width="15.3" height="15.9" fill="#0a3a73"/>
<rect x="752.7" y="863.6" width="15.3" height="15.9" fill="#113a76"/>
<rect x="767.6" y="863.6" width="15.3" height="15.9" fill="#103a76"/>
<rect x="782.4" y="863.6" width="15.3" height="15.9" fill="#133a77"/>
<rect x="797.3" y="863.6" width="15.3" height="15.9" fill="#0b3a73"/>
<rect x="812.1" y="863.6" width="15.3" height="15.9" fill="#0e3a75"/>
<rect x="827.0" y="863.6" width="15.3" height="15.9" fill="#0b3a74"/>
<rect x="841.8" y="863.6" width="15.3" height="15.9" fill="#123a76"/>
<rect x="856.7" y="863.6" width="15.3" height="15.9" fill="#143977"/>
<rect x="871.5" y="863.6" width="15.3" height="15.9" fill="#0c3a74"/>
<rect x="886.4" y="863.6" width="15.3" height="15.9" fill="#093a73"/>
<rect x="901.3" y="863.6" width="15.3" height="15.9" fill="#0b3a74"/>
<rect x="916.1" y="863.6" width="30.1" height="15.9" fill="#0c3a74"/>
<rect x="960.7" y="863.6" width="15.3" height="15.9" fill="#0e3a75"/>
<rect x="975.5" y="863.6" width="15.3" height="15.9" fill="#153978"/>
<rect x="990.4" y="863.6" width="15.3" height="15.9" fill="#123a76"/>
<rect x="1005.2" y="863.6" width="15.3" height="15.9" fill="#143977"/>
<rect x="1020.1" y="863.6" width="30.1" height="15.9" fill="#1a397a"/>
<rect x="1049.8" y="863.6" width="15.3" height="15.9" fill="#173979"/>
<rect x="1064.7" y="863.6" width="15.3" height="15.9" fill="#183979"/>
<rect x="1213.2" y="863.6" width="15.3" height="15.9" fill="#193979"/>
<rect x="544.8" y="879.1" width="15.3" height="15.9" fill="#043b71"/>
<rect x="559.6" y="879.1" width="15.3" height="15.9" fill="#0b3a74"/>
<rect x="574.5" y="879.1" width="15.3" height="15.9" fill="#053b71"/>
<rect x="589.3" y="879.1" width="15.3" height="15.9" fill="#043b71"/>
<rect x="604.2" y="879.1" width="15.3" height="15.9" fill="#053b71"/>
<rect x="619.0" y="879.1" width="15.3" height="15.9" fill="#0d3a75"/>
<rect x="633.9" y="879.1" width="15.3" height="15.9" fill="#103a75"/>
<rect x="648.7" y="879.1" width="45.0" height="15.9" fill="#103a76"/>
<rect x="693.3" y="879.1" width="15.3" height="15.9" fill="#0b3a73"/>
<rect x="708.2" y="879.1" width="15.3" height="15.9" fill="#073a72"/>
<rect x="723.0" y="879.1" width="15.3" height="15.9" fill="#083a72"/>
<rect x="737.9" y="879.1" width="15.3" height="15.9" fill="#0d3a75"/>
<rect x="752.7" y="879.1" width="15.3" height="15.9" fill="#0b3a74"/>
<rect x="767.6" y="879.1" width="15.3" height="15.9" fill="#0a3a73"/>
<rect x="782.4" y="879.1" width="15.3" height="15.9" fill="#143977"/>
<rect x="797.3" y="879.1" width="15.3" height="15.9" fill="#0c3a74"/>
<rect x="812.1" y="879.1" width="15.3" height="15.9" fill="#093a73"/>
<rect x="827.0" y="879.1" width="15.3" height="15.9" fill="#0b3a74"/>
<rect x="841.8" y="879.1" width="15.3" height="15.9" fill="#0c3a74"/>
<rect x="856.7" y="879.1" width="15.3" height="15.9" fill="#103a76"/>
<rect x="871.5" y="879.1" width="15.3" height="15.9" fill="#153978"/>
<rect x="886.4" y="879.1" width="15.3" height="15.9" fill="#0c3a74"/>
<rect x="901.3" y="879.1" width="15.3" height="15.9" fill="#133a77"/>
<rect x="916.1" y="879.1" width="15.3" height="15.9" fill="#0c3a74"/>
<rect x="931.0" y="879.1" width="15.3" height="15.9" fill="#0a3a73"/>
<rect x="945.8" y="879.1" width="30.1" height="15.9" fill="#133a77"/>
<rect x="975.5" y="879.1" width="15.3" height="15.9" fill="#0b3a74"/>
<rect x="990.4" y="879.1" width="15.3" height="15.9" fill="#0f3a75"/>
<rect x="1005.2" y="879.1" width="15.3" height="15.9" fill="#173979"/>
<rect x="1020.1" y="879.1" width="30.1" height="15.9" fill="#193979"/>
<rect x="1049.8" y="879.1" width="15.3" height="15.9" fill="#0f3a75"/>
<rect x="1064.7" y="879.1" width="15.3" height="15.9" fill="#113a76"/>
<rect x="1079.5" y="879.1" width="15.3" height="15.9" fill="#1b397a"/>
<rect x="1094.4" y="879.1" width="15.3" height="15.9" fill="#123a76"/>
<rect x="1109.2" y="879.1" width="15.3" height="15.9" fill="#113a76"/>
<rect x="1124.1" y="879.1" width="15.3" height="15.9" fill="#173978"/>
<rect x="1153.8" y="879.1" width="15.3" height="15.9" fill="#1e397b"/>
<rect x="1168.6" y="879.1" width="15.3" height="15.9" fill="#1c397a"/>
<rect x="1183.5" y="879.1" width="15.3" height="15.9" fill="#22387d"/>
<rect x="1198.3" y="879.1" width="15.3" height="15.9" fill="#25387e"/>
<rect x="1213.2" y="879.1" width="15.3" height="15.9" fill="#173979"/>
<rect x="1228.0" y="879.1" width="15.3" height="15.9" fill="#1c397a"/>
<rect x="1242.9" y="879.1" width="15.3" height="15.9" fill="#1d397b"/>
<rect x="1257.8" y="879.1" width="15.3" height="15.9" fill="#173979"/>
<rect x="515.1" y="894.6" width="15.3" height="15.9" fill="#0b3a74"/>
<rect x="529.9" y="894.6" width="30.1" height="15.9" fill="#053b71"/>
<rect x="559.6" y="894.6" width="45.0" height="15.9" fill="#0e3a75"/>
<rect x="604.2" y="894.6" width="15.3" height="15.9" fill="#0f3a75"/>
<rect x="619.0" y="894.6" width="15.3" height="15.9" fill="#0a3a73"/>
<rect x="633.9" y="894.6" width="15.3" height="15.9" fill="#0f3a75"/>
<rect x="648.7" y="894.6" width="15.3" height="15.9" fill="#0d3a74"/>
<rect x="663.6" y="894.6" width="15.3" height="15.9" fill="#113a76"/>
<rect x="678.4" y="894.6" width="15.3" height="15.9" fill="#063b72"/>
<rect x="693.3" y="894.6" width="15.3" height="15.9" fill="#0e3a75"/>
<rect x="708.2" y="894.6" width="15.3" height="15.9" fill="#0d3a74"/>
<rect x="723.0" y="894.6" width="15.3" height="15.9" fill="#0b3a74"/>
<rect x="737.9" y="894.6" width="15.3" height="15.9" fill="#073a72"/>
<rect x="752.7" y="894.6" width="15.3" height="15.9" fill="#0f3a75"/>
<rect x="767.6" y="894.6" width="15.3" height="15.9" fill="#083a72"/>
<rect x="782.4" y="894.6" width="45.0" height="15.9" fill="#0f3a75"/>
<rect x="827.0" y="894.6" width="15.3" height="15.9" fill="#163978"/>
<rect x="841.8" y="894.6" width="15.3" height="15.9" fill="#113a76"/>
<rect x="856.7" y="894.6" width="15.3" height="15.9" fill="#153977"/>
<rect x="871.5" y="894.6" width="15.3" height="15.9" fill="#173979"/>
<rect x="886.4" y="894.6" width="15.3" height="15.9" fill="#0c3a74"/>
<rect x="901.3" y="894.6" width="15.3" height="15.9" fill="#153978"/>
<rect x="916.1" y="894.6" width="15.3" height="15.9" fill="#113a76"/>
<rect x="931.0" y="894.6" width="15.3" height="15.9" fill="#0e3a75"/>
<rect x="945.8" y="894.6" width="15.3" height="15.9" fill="#113a76"/>
<rect x="960.7" y="894.6" width="15.3" height="15.9" fill="#143977"/>
<rect x="975.5" y="894.6" width="30.1" height="15.9" fill="#123a76"/>
<rect x="1005.2" y="894.6" width="15.3" height="15.9" fill="#0f3a75"/>
<rect x="1020.1" y="894.6" width="15.3" height="15.9" fill="#193979"/>
<rect x="1034.9" y="894.6" width="15.3" height="15.9" fill="#133977"/>
<rect x="1049.8" y="894.6" width="15.3" height="15.9" fill="#183979"/>
<rect x="1064.7" y="894.6" width="15.3" height="15.9" fill="#193979"/>
<rect x="1079.5" y="894.6" width="15.3" height="15.9" fill="#123a77"/>
<rect x="1094.4" y="894.6" width="15.3" height="15.9" fill="#173979"/>
<rect x="1109.2" y="894.6" width="15.3" height="15.9" fill="#183979"/>
<rect x="1124.1" y="894.6" width="30.1" height="15.9" fill="#163978"/>
<rect x="1153.8" y="894.6" width="15.3" height="15.9" fill="#1e397b"/>
<rect x="1168.6" y="894.6" width="15.3" height="15.9" fill="#1d397b"/>
<rect x="1183.5" y="894.6" width="15.3" height="15.9" fill="#1f397c"/>
<rect x="1198.3" y="894.6" width="15.3" height="15.9" fill="#20387c"/>
<rect x="1213.2" y="894.6" width="15.3" height="15.9" fill="#1e397b"/>
<rect x="1228.0" y="894.6" width="15.3" height="15.9" fill="#22387d"/>
<rect x="1242.9" y="894.6" width="15.3" height="15.9" fill="#20387c"/>
<rect x="1257.8" y="894.6" width="15.3" height="15.9" fill="#21387d"/>
<rect x="1317.2" y="894.6" width="15.3" height="15.9" fill="#21387c"/>
<rect x="515.1" y="910.2" width="15.3" height="15.9" fill="#073a72"/>
<rect x="529.9" y="910.2" width="15.3" height="15.9" fill="#043b71"/>
<rect x="544.8" y="910.2" width="15.3" height="15.9" fill="#033b70"/>
<rect x="559.6" y="910.2" width="15.3" height="15.9" fill="#0d3a74"/>
<rect x="574.5" y="910.2" width="15.3" height="15.9" fill="#093a73"/>
<rect x="589.3" y="910.2" width="15.3" height="15.9" fill="#043b71"/>
<rect x="604.2" y="910.2" width="15.3" height="15.9" fill="#063b71"/>
<rect x="619.0" y="910.2" width="15.3" height="15.9" fill="#103a76"/>
<rect x="633.9" y="910.2" width="15.3" height="15.9" fill="#113a76"/>
<rect x="648.7" y="910.2" width="15.3" height="15.9" fill="#0d3a74"/>
<rect x="663.6" y="910.2" width="15.3" height="15.9" fill="#123a76"/>
<rect x="678.4" y="910.2" width="15.3" height="15.9" fill="#103a76"/>
<rect x="693.3" y="910.2" width="15.3" height="15.9" fill="#133a77"/>
<rect x="708.2" y="910.2" width="15.3" height="15.9" fill="#0a3a73"/>
<rect x="723.0" y="910.2" width="15.3" height="15.9" fill="#093a73"/>
<rect x="737.9" y="910.2" width="15.3" height="15.9" fill="#073a72"/>
<rect x="752.7" y="910.2" width="15.3" height="15.9" fill="#133a77"/>
<rect x="767.6" y="910.2" width="15.3" height="15.9" fill="#0b3a74"/>
<rect x="782.4" y="910.2" width="15.3" height="15.9" fill="#0d3a74"/>
<rect x="797.3" y="910.2" width="15.3" height="15.9" fill="#143977"/>
<rect x="812.1" y="910.2" width="15.3" height="15.9" fill="#0a3a73"/>
<rect x="827.0" y="910.2" width="15.3" height="15.9" fill="#093a73"/>
<rect x="841.8" y="910.2" width="15.3" height="15.9" fill="#143977"/>
<rect x="856.7" y="910.2" width="15.3" height="15.9" fill="#0a3a73"/>
<rect x="871.5" y="910.2" width="15.3" height="15.9" fill="#123a76"/>
<rect x="886.4" y="910.2" width="15.3" height="15.9" fill="#113a76"/>
<rect x="901.3" y="910.2" width="15.3" height="15.9" fill="#0a3a73"/>
<rect x="916.1" y="910.2" width="15.3" height="15.9" fill="#0c3a74"/>
<rect x="931.0" y="910.2" width="15.3" height="15.9" fill="#163978"/>
<rect x="945.8" y="910.2" width="15.3" height="15.9" fill="#133a77"/>
<rect x="960.7" y="910.2" width="15.3" height="15.9" fill="#123a76"/>
<rect x="975.5" y="910.2" width="15.3" height="15.9" fill="#153978"/>
<rect x="990.4" y="910.2" width="15.3" height="15.9" fill="#173979"/>
<rect x="1005.2" y="910.2" width="15.3" height="15.9" fill="#163978"/>
<rect x="1020.1" y="910.2" width="15.3" height="15.9" fill="#113a76"/>
<rect x="1034.9" y="910.2" width="15.3" height="15.9" fill="#1b397a"/>
<rect x="1049.8" y="910.2" width="15.3" height="15.9" fill="#143977"/>
<rect x="1064.7" y="910.2" width="15.3" height="15.9" fill="#173978"/>
<rect x="1079.5" y="910.2" width="15.3" height="15.9" fill="#1e397b"/>
<rect x="1094.4" y="910.2" width="15.3" height="15.9" fill="#1a397a"/>
<rect x="1109.2" y="910.2" width="15.3" height="15.9" fill="#183979"/>
<rect x="1124.1" y="910.2" width="15.3" height="15.9" fill="#1b397a"/>
<rect x="1138.9" y="910.2" width="15.3" height="15.9" fill="#23387e"/>
<rect x="1153.8" y="910.2" width="15.3" height="15.9" fill="#183979"/>
<rect x="1168.6" y="910.2" width="15.3" height="15.9" fill="#1d397b"/>
<rect x="1183.5" y="910.2" width="15.3" height="15.9" fill="#1c397b"/>
<rect x="1198.3" y="910.2" width="15.3" height="15.9" fill="#2a3880"/>
<rect x="1213.2" y="910.2" width="15.3" height="15.9" fill="#283880"/>
<rect x="1228.0" y="910.2" width="15.3" height="15.9" fill="#2c3881"/>
<rect x="1242.9" y="910.2" width="15.3" height="15.9" fill="#21387d"/>
<rect x="1257.8" y="910.2" width="15.3" height="15.9" fill="#283880"/>
<rect x="1272.6" y="910.2" width="15.3" height="15.9" fill="#2b3881"/>
<rect x="1287.5" y="910.2" width="15.3" height="15.9" fill="#283880"/>
<rect x="1302.3" y="910.2" width="15.3" height="15.9" fill="#24387e"/>
<rect x="1317.2" y="910.2" width="15.3" height="15.9" fill="#293880"/>
<rect x="1332.0" y="910.2" width="15.3" height="15.9" fill="#353785"/>
<rect x="544.8" y="925.7" width="15.3" height="15.9" fill="#0e3a75"/>
<rect x="559.6" y="925.7" width="15.3" height="15.9" fill="#033b70"/>
<rect x="574.5" y="925.7" width="15.3" height="15.9" fill="#083a72"/>
<rect x="589.3" y="925.7" width="15.3" height="15.9" fill="#073a72"/>
<rect x="604.2" y="925.7" width="15.3" height="15.9" fill="#103a76"/>
<rect x="619.0" y="925.7" width="15.3" height="15.9" fill="#113a76"/>
<rect x="633.9" y="925.7" width="15.3" height="15.9" fill="#093a73"/>
<rect x="648.7" y="925.7" width="15.3" height="15.9" fill="#0d3a74"/>
<rect x="663.6" y="925.7" width="15.3" height="15.9" fill="#123a77"/>
<rect x="678.4" y="925.7" width="15.3" height="15.9" fill="#063b72"/>
<rect x="693.3" y="925.7" width="15.3" height="15.9" fill="#0b3a73"/>
<rect x="708.2" y="925.7" width="15.3" height="15.9" fill="#093a73"/>
<rect x="723.0" y="925.7" width="15.3" height="15.9" fill="#133977"/>
<rect x="737.9" y="925.7" width="15.3" height="15.9" fill="#093a73"/>
<rect x="752.7" y="925.7" width="15.3" height="15.9" fill="#153977"/>
<rect x="767.6" y="925.7" width="15.3" height="15.9" fill="#0a3a73"/>
<rect x="782.4" y="925.7" width="15.3" height="15.9" fill="#103a76"/>
<rect x="797.3" y="925.7" width="15.3" height="15.9" fill="#123a77"/>
<rect x="812.1" y="925.7" width="15.3" height="15.9" fill="#0f3a75"/>
<rect x="827.0" y="925.7" width="15.3" height="15.9" fill="#0a3a73"/>
<rect x="841.8" y="925.7" width="15.3" height="15.9" fill="#143977"/>
<rect x="856.7" y="925.7" width="15.3" height="15.9" fill="#163978"/>
<rect x="871.5" y="925.7" width="15.3" height="15.9" fill="#103a76"/>
<rect x="886.4" y="925.7" width="15.3" height="15.9" fill="#153977"/>
<rect x="901.3" y="925.7" width="15.3" height="15.9" fill="#173978"/>
<rect x="916.1" y="925.7" width="15.3" height="15.9" fill="#163978"/>
<rect x="931.0" y="925.7" width="15.3" height="15.9" fill="#183979"/>
<rect x="945.8" y="925.7" width="15.3" height="15.9" fill="#163978"/>
<rect x="960.7" y="925.7" width="15.3" height="15.9" fill="#153978"/>
<rect x="975.5" y="925.7" width="15.3" height="15.9" fill="#163978"/>
<rect x="990.4" y="925.7" width="15.3" height="15.9" fill="#103a75"/>
<rect x="1005.2" y="925.7" width="15.3" height="15.9" fill="#173978"/>
<rect x="1020.1" y="925.7" width="15.3" height="15.9" fill="#143977"/>
<rect x="1034.9" y="925.7" width="15.3" height="15.9" fill="#193979"/>
<rect x="1049.8" y="925.7" width="15.3" height="15.9" fill="#183979"/>
<rect x="1064.7" y="925.7" width="15.3" height="15.9" fill="#1d397b"/>
<rect x="1079.5" y="925.7" width="15.3" height="15.9" fill="#1b397a"/>
<rect x="1094.4" y="925.7" width="15.3" height="15.9" fill="#20397c"/>
<rect x="1109.2" y="925.7" width="15.3" height="15.9" fill="#173979"/>
<rect x="1124.1" y="925.7" width="15.3" height="15.9" fill="#1c397b"/>
<rect x="1138.9" y="925.7" width="15.3" height="15.9" fill="#24387e"/>
<rect x="1153.8" y="925.7" width="15.3" height="15.9" fill="#22387d"/>
<rect x="1168.6" y="925.7" width="15.3" height="15.9" fill="#1e397b"/>
<rect x="1183.5" y="925.7" width="15.3" height="15.9" fill="#2c3881"/>
<rect x="1198.3" y="925.7" width="15.3" height="15.9" fill="#24387e"/>
<rect x="1213.2" y="925.7" width="30.1" height="15.9" fill="#2b3881"/>
<rect x="1242.9" y="925.7" width="15.3" height="15.9" fill="#26387f"/>
<rect x="1257.8" y="925.7" width="15.3" height="15.9" fill="#2d3881"/>
<rect x="1272.6" y="925.7" width="15.3" height="15.9" fill="#2c3881"/>
<rect x="1287.5" y="925.7" width="15.3" height="15.9" fill="#2b3881"/>
<rect x="1302.3" y="925.7" width="15.3" height="15.9" fill="#2a3880"/>
<rect x="1317.2" y="925.7" width="15.3" height="15.9" fill="#363785"/>
<rect x="529.9" y="941.2" width="15.3" height="15.9" fill="#033b70"/>
<rect x="544.8" y="941.2" width="15.3" height="15.9" fill="#053b71"/>
<rect x="559.6" y="941.2" width="15.3" height="15.9" fill="#073a72"/>
<rect x="574.5" y="941.2" width="15.3" height="15.9" fill="#0a3a73"/>
<rect x="589.3" y="941.2" width="15.3" height="15.9" fill="#0b3a74"/>
<rect x="604.2" y="941.2" width="15.3" height="15.9" fill="#103a76"/>
<rect x="619.0" y="941.2" width="15.3" height="15.9" fill="#103a75"/>
<rect x="633.9" y="941.2" width="15.3" height="15.9" fill="#113a76"/>
<rect x="648.7" y="941.2" width="15.3" height="15.9" fill="#093a73"/>
<rect x="663.6" y="941.2" width="15.3" height="15.9" fill="#103a76"/>
<rect x="693.3" y="941.2" width="15.3" height="15.9" fill="#123a77"/>
<rect x="708.2" y="941.2" width="15.3" height="15.9" fill="#143977"/>
<rect x="723.0" y="941.2" width="15.3" height="15.9" fill="#0a3a73"/>
<rect x="752.7" y="941.2" width="15.3" height="15.9" fill="#0b3a74"/>
<rect x="767.6" y="941.2" width="15.3" height="15.9" fill="#0f3a75"/>
<rect x="782.4" y="941.2" width="15.3" height="15.9" fill="#153978"/>
<rect x="797.3" y="941.2" width="15.3" height="15.9" fill="#163978"/>
<rect x="812.1" y="941.2" width="15.3" height="15.9" fill="#143977"/>
<rect x="841.8" y="941.2" width="15.3" height="15.9" fill="#123a76"/>
<rect x="901.3" y="941.2" width="15.3" height="15.9" fill="#163978"/>
<rect x="916.1" y="941.2" width="15.3" height="15.9" fill="#133a77"/>
<rect x="931.0" y="941.2" width="15.3" height="15.9" fill="#163978"/>
<rect x="945.8" y="941.2" width="30.1" height="15.9" fill="#0c3a74"/>
<rect x="975.5" y="941.2" width="15.3" height="15.9" fill="#133a77"/>
<rect x="990.4" y="941.2" width="15.3" height="15.9" fill="#173979"/>
<rect x="1005.2" y="941.2" width="15.3" height="15.9" fill="#0d3a75"/>
<rect x="1020.1" y="941.2" width="30.1" height="15.9" fill="#173979"/>
<rect x="1049.8" y="941.2" width="15.3" height="15.9" fill="#1d397b"/>
<rect x="1064.7" y="941.2" width="30.1" height="15.9" fill="#193979"/>
<rect x="1094.4" y="941.2" width="15.3" height="15.9" fill="#1a397a"/>
<rect x="1109.2" y="941.2" width="15.3" height="15.9" fill="#20387c"/>
<rect x="1124.1" y="941.2" width="15.3" height="15.9" fill="#1f397c"/>
<rect x="1138.9" y="941.2" width="15.3" height="15.9" fill="#293880"/>
<rect x="1153.8" y="941.2" width="15.3" height="15.9" fill="#28387f"/>
<rect x="1168.6" y="941.2" width="15.3" height="15.9" fill="#2e3782"/>
<rect x="1183.5" y="941.2" width="15.3" height="15.9" fill="#2c3881"/>
<rect x="1198.3" y="941.2" width="15.3" height="15.9" fill="#343784"/>
<rect x="1228.0" y="941.2" width="15.3" height="15.9" fill="#383786"/>
<rect x="1242.9" y="941.2" width="15.3" height="15.9" fill="#343785"/>
<rect x="1257.8" y="941.2" width="15.3" height="15.9" fill="#363785"/>
<rect x="1272.6" y="941.2" width="15.3" height="15.9" fill="#323784"/>
<rect x="1287.5" y="941.2" width="15.3" height="15.9" fill="#353785"/>
<rect x="1302.3" y="941.2" width="15.3" height="15.9" fill="#343784"/>
<rect x="500.2" y="956.7" width="15.3" height="15.9" fill="#053b71"/>
<rect x="515.1" y="956.7" width="15.3" height="15.9" fill="#043b71"/>
<rect x="529.9" y="956.7" width="15.3" height="15.9" fill="#023b70"/>
<rect x="544.8" y="956.7" width="15.3" height="15.9" fill="#093a73"/>
<rect x="559.6" y="956.7" width="15.3" height="15.9" fill="#0a3a73"/>
<rect x="574.5" y="956.7" width="15.3" height="15.9" fill="#013b70"/>
<rect x="589.3" y="956.7" width="15.3" height="15.9" fill="#0e3a75"/>
<rect x="604.2" y="956.7" width="15.3" height="15.9" fill="#063b72"/>
<rect x="619.0" y="956.7" width="15.3" height="15.9" fill="#083a72"/>
<rect x="633.9" y="956.7" width="15.3" height="15.9" fill="#123a76"/>
<rect x="663.6" y="956.7" width="30.1" height="15.9" fill="#093a73"/>
<rect x="693.3" y="956.7" width="45.0" height="15.9" fill="#0d3a74"/>
<rect x="916.1" y="956.7" width="15.3" height="15.9" fill="#183979"/>
<rect x="931.0" y="956.7" width="15.3" height="15.9" fill="#133a77"/>
<rect x="945.8" y="956.7" width="15.3" height="15.9" fill="#133977"/>
<rect x="960.7" y="956.7" width="30.1" height="15.9" fill="#0f3a75"/>
<rect x="990.4" y="956.7" width="15.3" height="15.9" fill="#103a75"/>
<rect x="1005.2" y="956.7" width="15.3" height="15.9" fill="#143977"/>
<rect x="1020.1" y="956.7" width="15.3" height="15.9" fill="#103a75"/>
<rect x="1034.9" y="956.7" width="30.1" height="15.9" fill="#143977"/>
<rect x="1064.7" y="956.7" width="15.3" height="15.9" fill="#1c397a"/>
<rect x="1079.5" y="956.7" width="30.1" height="15.9" fill="#20387c"/>
<rect x="1109.2" y="956.7" width="15.3" height="15.9" fill="#20397c"/>
<rect x="1124.1" y="956.7" width="15.3" height="15.9" fill="#26387f"/>
<rect x="1138.9" y="956.7" width="15.3" height="15.9" fill="#1f397c"/>
<rect x="1153.8" y="956.7" width="15.3" height="15.9" fill="#27387f"/>
<rect x="1168.6" y="956.7" width="15.3" height="15.9" fill="#2a3880"/>
<rect x="1183.5" y="956.7" width="15.3" height="15.9" fill="#2e3782"/>
<rect x="1198.3" y="956.7" width="15.3" height="15.9" fill="#303783"/>
<rect x="1213.2" y="956.7" width="15.3" height="15.9" fill="#363785"/>
<rect x="1228.0" y="956.7" width="15.3" height="15.9" fill="#3f3689"/>
<rect x="1242.9" y="956.7" width="15.3" height="15.9" fill="#343785"/>
<rect x="1257.8" y="956.7" width="15.3" height="15.9" fill="#363785"/>
<rect x="1272.6" y="956.7" width="15.3" height="15.9" fill="#3a3687"/>
<rect x="1287.5" y="956.7" width="30.1" height="15.9" fill="#3c3688"/>
<rect x="500.2" y="972.2" width="15.3" height="15.9" fill="#0d3a74"/>
<rect x="515.1" y="972.2" width="15.3" height="15.9" fill="#043b70"/>
<rect x="529.9" y="972.2" width="15.3" height="15.9" fill="#0b3a73"/>
<rect x="544.8" y="972.2" width="15.3" height="15.9" fill="#0d3a74"/>
<rect x="559.6" y="972.2" width="15.3" height="15.9" fill="#0b3a73"/>
<rect x="574.5" y="972.2" width="15.3" height="15.9" fill="#053b71"/>
<rect x="589.3" y="972.2" width="15.3" height="15.9" fill="#0d3a74"/>
<rect x="604.2" y="972.2" width="15.3" height="15.9" fill="#063b71"/>
<rect x="619.0" y="972.2" width="15.3" height="15.9" fill="#043b71"/>
<rect x="633.9" y="972.2" width="15.3" height="15.9" fill="#0c3a74"/>
<rect x="663.6" y="972.2" width="30.1" height="15.9" fill="#113a76"/>
<rect x="693.3" y="972.2" width="15.3" height="15.9" fill="#0f3a75"/>
<rect x="708.2" y="972.2" width="15.3" height="15.9" fill="#103a76"/>
<rect x="723.0" y="972.2" width="15.3" height="15.9" fill="#153978"/>
<rect x="945.8" y="972.2" width="15.3" height="15.9" fill="#123a77"/>
<rect x="960.7" y="972.2" width="30.1" height="15.9" fill="#1a397a"/>
<rect x="990.4" y="972.2" width="15.3" height="15.9" fill="#193979"/>
<rect x="1005.2" y="972.2" width="15.3" height="15.9" fill="#123a76"/>
<rect x="1020.1" y="972.2" width="15.3" height="15.9" fill="#193979"/>
<rect x="1034.9" y="972.2" width="15.3" height="15.9" fill="#163978"/>
<rect x="1049.8" y="972.2" width="15.3" height="15.9" fill="#1f397c"/>
<rect x="1064.7" y="972.2" width="15.3" height="15.9" fill="#20397c"/>
<rect x="1079.5" y="972.2" width="15.3" height="15.9" fill="#1e397b"/>
<rect x="1094.4" y="972.2" width="15.3" height="15.9" fill="#1a397a"/>
<rect x="1109.2" y="972.2" width="15.3" height="15.9" fill="#1c397b"/>
<rect x="1124.1" y="972.2" width="15.3" height="15.9" fill="#20387c"/>
<rect x="1138.9" y="972.2" width="15.3" height="15.9" fill="#293880"/>
<rect x="1153.8" y="972.2" width="15.3" height="15.9" fill="#2b3881"/>
<rect x="1168.6" y="972.2" width="15.3" height="15.9" fill="#303783"/>
<rect x="1183.5" y="972.2" width="15.3" height="15.9" fill="#343785"/>
<rect x="1198.3" y="972.2" width="15.3" height="15.9" fill="#3d3688"/>
<rect x="1213.2" y="972.2" width="15.3" height="15.9" fill="#363785"/>
<rect x="1228.0" y="972.2" width="15.3" height="15.9" fill="#42368a"/>
<rect x="1242.9" y="972.2" width="15.3" height="15.9" fill="#383786"/>
<rect x="1257.8" y="972.2" width="15.3" height="15.9" fill="#3a3687"/>
<rect x="1272.6" y="972.2" width="15.3" height="15.9" fill="#48358d"/>
<rect x="1302.3" y="972.2" width="15.3" height="15.9" fill="#45368b"/>
<rect x="1317.2" y="972.2" width="15.3" height="15.9" fill="#41368a"/>
<rect x="1376.6" y="972.2" width="15.3" height="15.9" fill="#393787"/>
<rect x="1391.4" y="972.2" width="15.3" height="15.9" fill="#3c3688"/>
<rect x="1436.0" y="972.2" width="15.3" height="15.9" fill="#343784"/>
<rect x="500.2" y="987.8" width="15.3" height="15.9" fill="#0b3a73"/>
<rect x="515.1" y="987.8" width="15.3" height="15.9" fill="#003b6f"/>
<rect x="529.9" y="987.8" width="15.3" height="15.9" fill="#0b3a74"/>
<rect x="544.8" y="987.8" width="15.3" height="15.9" fill="#063b71"/>
<rect x="559.6" y="987.8" width="15.3" height="15.9" fill="#0c3a74"/>
<rect x="574.5" y="987.8" width="15.3" height="15.9" fill="#073a72"/>
<rect x="589.3" y="987.8" width="15.3" height="15.9" fill="#023b70"/>
<rect x="648.7" y="987.8" width="15.3" height="15.9" fill="#153977"/>
<rect x="693.3" y="987.8" width="15.3" height="15.9" fill="#113a76"/>
<rect x="708.2" y="987.8" width="15.3" height="15.9" fill="#193979"/>
<rect x="916.1" y="987.8" width="15.3" height="15.9" fill="#113a76"/>
<rect x="931.0" y="987.8" width="15.3" height="15.9" fill="#133977"/>
<rect x="945.8" y="987.8" width="15.3" height="15.9" fill="#1a397a"/>
<rect x="960.7" y="987.8" width="15.3" height="15.9" fill="#103a76"/>
<rect x="975.5" y="987.8" width="15.3" height="15.9" fill="#163978"/>
<rect x="990.4" y="987.8" width="15.3" height="15.9" fill="#1d397b"/>
<rect x="1005.2" y="987.8" width="15.3" height="15.9" fill="#1e397b"/>
<rect x="1020.1" y="987.8" width="15.3" height="15.9" fill="#183979"/>
<rect x="1034.9" y="987.8" width="15.3" height="15.9" fill="#1a397a"/>
<rect x="1049.8" y="987.8" width="15.3" height="15.9" fill="#1d397b"/>
<rect x="1064.7" y="987.8" width="15.3" height="15.9" fill="#20387c"/>
<rect x="1079.5" y="987.8" width="15.3" height="15.9" fill="#1f397c"/>
<rect x="1094.4" y="987.8" width="15.3" height="15.9" fill="#21387d"/>
<rect x="1109.2" y="987.8" width="15.3" height="15.9" fill="#1c397b"/>
<rect x="1124.1" y="987.8" width="15.3" height="15.9" fill="#2c3881"/>
<rect x="1138.9" y="987.8" width="15.3" height="15.9" fill="#26387e"/>
<rect x="1153.8" y="987.8" width="15.3" height="15.9" fill="#293880"/>
<rect x="1168.6" y="987.8" width="15.3" height="15.9" fill="#393786"/>
<rect x="1183.5" y="987.8" width="15.3" height="15.9" fill="#323784"/>
<rect x="1198.3" y="987.8" width="15.3" height="15.9" fill="#393787"/>
<rect x="1213.2" y="987.8" width="15.3" height="15.9" fill="#3a3687"/>
<rect x="1228.0" y="987.8" width="15.3" height="15.9" fill="#46368c"/>
<rect x="1242.9" y="987.8" width="15.3" height="15.9" fill="#46358c"/>
<rect x="1257.8" y="987.8" width="15.3" height="15.9" fill="#47358c"/>
<rect x="1272.6" y="987.8" width="15.3" height="15.9" fill="#3f3689"/>
<rect x="1287.5" y="987.8" width="15.3" height="15.9" fill="#46368c"/>
<rect x="1302.3" y="987.8" width="15.3" height="15.9" fill="#4a358d"/>
<rect x="1317.2" y="987.8" width="15.3" height="15.9" fill="#49358d"/>
<rect x="1332.0" y="987.8" width="15.3" height="15.9" fill="#4b358e"/>
<rect x="1346.9" y="987.8" width="15.3" height="15.9" fill="#4d358f"/>
<rect x="1361.7" y="987.8" width="15.3" height="15.9" fill="#49358d"/>
<rect x="1376.6" y="987.8" width="15.3" height="15.9" fill="#3b3687"/>
<rect x="1391.4" y="987.8" width="15.3" height="15.9" fill="#3e3688"/>
<rect x="1406.3" y="987.8" width="15.3" height="15.9" fill="#303783"/>
<rect x="1421.1" y="987.8" width="15.3" height="15.9" fill="#363785"/>
<rect x="1436.0" y="987.8" width="15.3" height="15.9" fill="#333784"/>
<rect x="470.5" y="1003.3" width="15.3" height="15.9" fill="#063b72"/>
<rect x="485.3" y="1003.3" width="15.3" height="15.9" fill="#0b3a73"/>
<rect x="500.2" y="1003.3" width="15.3" height="15.9" fill="#083a72"/>
<rect x="515.1" y="1003.3" width="15.3" height="15.9" fill="#003b6f"/>
<rect x="529.9" y="1003.3" width="15.3" height="15.9" fill="#013b70"/>
<rect x="544.8" y="1003.3" width="15.3" height="15.9" fill="#033b70"/>
<rect x="559.6" y="1003.3" width="15.3" height="15.9" fill="#063b71"/>
<rect x="574.5" y="1003.3" width="15.3" height="15.9" fill="#023b70"/>
<rect x="589.3" y="1003.3" width="15.3" height="15.9" fill="#033b70"/>
<rect x="604.2" y="1003.3" width="15.3" height="15.9" fill="#0a3a73"/>
<rect x="916.1" y="1003.3" width="15.3" height="15.9" fill="#183979"/>
<rect x="931.0" y="1003.3" width="15.3" height="15.9" fill="#20387c"/>
<rect x="945.8" y="1003.3" width="15.3" height="15.9" fill="#163978"/>
<rect x="960.7" y="1003.3" width="15.3" height="15.9" fill="#193979"/>
<rect x="975.5" y="1003.3" width="15.3" height="15.9" fill="#153978"/>
<rect x="990.4" y="1003.3" width="15.3" height="15.9" fill="#173978"/>
<rect x="1005.2" y="1003.3" width="15.3" height="15.9" fill="#1c397b"/>
<rect x="1020.1" y="1003.3" width="15.3" height="15.9" fill="#21387d"/>
<rect x="1034.9" y="1003.3" width="15.3" height="15.9" fill="#163978"/>
<rect x="1049.8" y="1003.3" width="15.3" height="15.9" fill="#22387d"/>
<rect x="1064.7" y="1003.3" width="15.3" height="15.9" fill="#1f397c"/>
<rect x="1079.5" y="1003.3" width="15.3" height="15.9" fill="#22387d"/>
<rect x="1094.4" y="1003.3" width="15.3" height="15.9" fill="#24387e"/>
<rect x="1109.2" y="1003.3" width="15.3" height="15.9" fill="#21387c"/>
<rect x="1124.1" y="1003.3" width="15.3" height="15.9" fill="#21387d"/>
<rect x="1138.9" y="1003.3" width="30.1" height="15.9" fill="#303783"/>
<rect x="1168.6" y="1003.3" width="15.3" height="15.9" fill="#3a3687"/>
<rect x="1183.5" y="1003.3" width="15.3" height="15.9" fill="#3b3687"/>
<rect x="1198.3" y="1003.3" width="15.3" height="15.9" fill="#42368a"/>
<rect x="1213.2" y="1003.3" width="15.3" height="15.9" fill="#49358d"/>
<rect x="1228.0" y="1003.3" width="15.3" height="15.9" fill="#4c358e"/>
<rect x="1242.9" y="1003.3" width="15.3" height="15.9" fill="#4d358f"/>
<rect x="1257.8" y="1003.3" width="15.3" height="15.9" fill="#44368b"/>
<rect x="1272.6" y="1003.3" width="15.3" height="15.9" fill="#4a358e"/>
<rect x="1287.5" y="1003.3" width="15.3" height="15.9" fill="#4f358f"/>
<rect x="1302.3" y="1003.3" width="15.3" height="15.9" fill="#45368b"/>
<rect x="1317.2" y="1003.3" width="15.3" height="15.9" fill="#43368b"/>
<rect x="1332.0" y="1003.3" width="15.3" height="15.9" fill="#4a358e"/>
<rect x="1346.9" y="1003.3" width="15.3" height="15.9" fill="#4c358e"/>
<rect x="1361.7" y="1003.3" width="15.3" height="15.9" fill="#48358d"/>
<rect x="1376.6" y="1003.3" width="15.3" height="15.9" fill="#45368b"/>
<rect x="1391.4" y="1003.3" width="15.3" height="15.9" fill="#3c3688"/>
<rect x="1406.3" y="1003.3" width="15.3" height="15.9" fill="#3b3687"/>
<rect x="1421.1" y="1003.3" width="15.3" height="15.9" fill="#363785"/>
<rect x="1436.0" y="1003.3" width="15.3" height="15.9" fill="#333784"/>
<rect x="1450.9" y="1003.3" width="15.3" height="15.9" fill="#2e3782"/>
<rect x="485.3" y="1018.8" width="15.3" height="15.9" fill="#013b6f"/>
<rect x="500.2" y="1018.8" width="15.3" height="15.9" fill="#033b70"/>
<rect x="515.1" y="1018.8" width="30.1" height="15.9" fill="#083a72"/>
<rect x="544.8" y="1018.8" width="15.3" height="15.9" fill="#073a72"/>
<rect x="559.6" y="1018.8" width="15.3" height="15.9" fill="#0a3a73"/>
<rect x="574.5" y="1018.8" width="15.3" height="15.9" fill="#0c3a74"/>
<rect x="589.3" y="1018.8" width="15.3" height="15.9" fill="#113a76"/>
<rect x="604.2" y="1018.8" width="15.3" height="15.9" fill="#103a76"/>
<rect x="619.0" y="1018.8" width="15.3" height="15.9" fill="#093a73"/>
<rect x="945.8" y="1018.8" width="15.3" height="15.9" fill="#24387e"/>
<rect x="960.7" y="1018.8" width="15.3" height="15.9" fill="#1d397b"/>
<rect x="975.5" y="1018.8" width="15.3" height="15.9" fill="#1b397a"/>
<rect x="990.4" y="1018.8" width="15.3" height="15.9" fill="#173979"/>
<rect x="1005.2" y="1018.8" width="15.3" height="15.9" fill="#21387d"/>
<rect x="1020.1" y="1018.8" width="15.3" height="15.9" fill="#22387d"/>
<rect x="1034.9" y="1018.8" width="15.3" height="15.9" fill="#24387e"/>
<rect x="1049.8" y="1018.8" width="15.3" height="15.9" fill="#23387d"/>
<rect x="1064.7" y="1018.8" width="15.3" height="15.9" fill="#23387e"/>
<rect x="1079.5" y="1018.8" width="15.3" height="15.9" fill="#1e397b"/>
<rect x="1094.4" y="1018.8" width="15.3" height="15.9" fill="#21387d"/>
<rect x="1109.2" y="1018.8" width="15.3" height="15.9" fill="#23387e"/>
<rect x="1124.1" y="1018.8" width="15.3" height="15.9" fill="#333784"/>
<rect x="1138.9" y="1018.8" width="15.3" height="15.9" fill="#383786"/>
<rect x="1153.8" y="1018.8" width="15.3" height="15.9" fill="#333784"/>
<rect x="1168.6" y="1018.8" width="15.3" height="15.9" fill="#363785"/>
<rect x="1183.5" y="1018.8" width="15.3" height="15.9" fill="#40368a"/>
<rect x="1198.3" y="1018.8" width="15.3" height="15.9" fill="#43368b"/>
<rect x="1213.2" y="1018.8" width="15.3" height="15.9" fill="#4f358f"/>
<rect x="1228.0" y="1018.8" width="15.3" height="15.9" fill="#4b358e"/>
<rect x="1242.9" y="1018.8" width="15.3" height="15.9" fill="#45368c"/>
<rect x="1257.8" y="1018.8" width="30.1" height="15.9" fill="#48358c"/>
<rect x="1287.5" y="1018.8" width="15.3" height="15.9" fill="#46368c"/>
<rect x="1302.3" y="1018.8" width="15.3" height="15.9" fill="#503590"/>
<rect x="1317.2" y="1018.8" width="15.3" height="15.9" fill="#513590"/>
<rect x="1332.0" y="1018.8" width="15.3" height="15.9" fill="#4f3590"/>
<rect x="1346.9" y="1018.8" width="15.3" height="15.9" fill="#47358c"/>
<rect x="1361.7" y="1018.8" width="15.3" height="15.9" fill="#40368a"/>
<rect x="1376.6" y="1018.8" width="15.3" height="15.9" fill="#383786"/>
<rect x="1391.4" y="1018.8" width="15.3" height="15.9" fill="#363785"/>
<rect x="1406.3" y="1018.8" width="15.3" height="15.9" fill="#323784"/>
<rect x="1421.1" y="1018.8" width="15.3" height="15.9" fill="#2e3782"/>
<rect x="1436.0" y="1018.8" width="15.3" height="15.9" fill="#303783"/>
<rect x="1465.7" y="1018.8" width="15.3" height="15.9" fill="#2f3782"/>
<rect x="1480.6" y="1018.8" width="15.3" height="15.9" fill="#383786"/>
<rect x="515.1" y="1034.3" width="15.3" height="15.9" fill="#033b70"/>
<rect x="529.9" y="1034.3" width="15.3" height="15.9" fill="#0c3a74"/>
<rect x="544.8" y="1034.3" width="15.3" height="15.9" fill="#033b70"/>
<rect x="559.6" y="1034.3" width="15.3" height="15.9" fill="#083a72"/>
<rect x="574.5" y="1034.3" width="15.3" height="15.9" fill="#0e3a75"/>
<rect x="589.3" y="1034.3" width="15.3" height="15.9" fill="#133a77"/>
<rect x="604.2" y="1034.3" width="15.3" height="15.9" fill="#143977"/>
<rect x="619.0" y="1034.3" width="15.3" height="15.9" fill="#113a76"/>
<rect x="633.9" y="1034.3" width="15.3" height="15.9" fill="#133a77"/>
<rect x="648.7" y="1034.3" width="15.3" height="15.9" fill="#1e397b"/>
<rect x="663.6" y="1034.3" width="15.3" height="15.9" fill="#21387d"/>
<rect x="752.7" y="1034.3" width="15.3" height="15.9" fill="#3b3687"/>
<rect x="856.7" y="1034.3" width="15.3" height="15.9" fill="#47358c"/>
<rect x="871.5" y="1034.3" width="15.3" height="15.9" fill="#44368b"/>
<rect x="886.4" y="1034.3" width="15.3" height="15.9" fill="#3f3689"/>
<rect x="901.3" y="1034.3" width="15.3" height="15.9" fill="#333784"/>
<rect x="931.0" y="1034.3" width="15.3" height="15.9" fill="#313783"/>
<rect x="960.7" y="1034.3" width="15.3" height="15.9" fill="#27387f"/>
<rect x="975.5" y="1034.3" width="15.3" height="15.9" fill="#23387e"/>
<rect x="990.4" y="1034.3" width="15.3" height="15.9" fill="#1c397a"/>
<rect x="1005.2" y="1034.3" width="15.3" height="15.9" fill="#21387d"/>
<rect x="1020.1" y="1034.3" width="15.3" height="15.9" fill="#1f397c"/>
<rect x="1034.9" y="1034.3" width="15.3" height="15.9" fill="#26387f"/>
<rect x="1049.8" y="1034.3" width="15.3" height="15.9" fill="#2b3881"/>
<rect x="1064.7" y="1034.3" width="15.3" height="15.9" fill="#2d3781"/>
<rect x="1079.5" y="1034.3" width="15.3" height="15.9" fill="#24387e"/>
<rect x="1094.4" y="1034.3" width="15.3" height="15.9" fill="#293880"/>
<rect x="1109.2" y="1034.3" width="15.3" height="15.9" fill="#323783"/>
<rect x="1124.1" y="1034.3" width="15.3" height="15.9" fill="#393687"/>
<rect x="1138.9" y="1034.3" width="15.3" height="15.9" fill="#373786"/>
<rect x="1153.8" y="1034.3" width="15.3" height="15.9" fill="#393787"/>
<rect x="1168.6" y="1034.3" width="15.3" height="15.9" fill="#41368a"/>
<rect x="1183.5" y="1034.3" width="15.3" height="15.9" fill="#48358d"/>
<rect x="1198.3" y="1034.3" width="15.3" height="15.9" fill="#45368b"/>
<rect x="1213.2" y="1034.3" width="15.3" height="15.9" fill="#44368b"/>
<rect x="1228.0" y="1034.3" width="15.3" height="15.9" fill="#503590"/>
<rect x="1242.9" y="1034.3" width="15.3" height="15.9" fill="#543492"/>
<rect x="1257.8" y="1034.3" width="15.3" height="15.9" fill="#503590"/>
<rect x="1272.6" y="1034.3" width="15.3" height="15.9" fill="#4f3590"/>
<rect x="1287.5" y="1034.3" width="15.3" height="15.9" fill="#4b358e"/>
<rect x="1302.3" y="1034.3" width="15.3" height="15.9" fill="#523591"/>
<rect x="1317.2" y="1034.3" width="15.3" height="15.9" fill="#48358d"/>
<rect x="1332.0" y="1034.3" width="30.1" height="15.9" fill="#47358c"/>
<rect x="1361.7" y="1034.3" width="15.3" height="15.9" fill="#46358c"/>
<rect x="1376.6" y="1034.3" width="15.3" height="15.9" fill="#363785"/>
<rect x="1391.4" y="1034.3" width="15.3" height="15.9" fill="#3a3687"/>
<rect x="1406.3" y="1034.3" width="15.3" height="15.9" fill="#2f3782"/>
<rect x="1421.1" y="1034.3" width="15.3" height="15.9" fill="#353785"/>
<rect x="1465.7" y="1034.3" width="15.3" height="15.9" fill="#353785"/>
<rect x="1480.6" y="1034.3" width="15.3" height="15.9" fill="#2f3782"/>
<rect x="1495.4" y="1034.3" width="15.3" height="15.9" fill="#383786"/>
<rect x="1510.3" y="1034.3" width="15.3" height="15.9" fill="#323783"/>
<rect x="529.9" y="1049.8" width="15.3" height="15.9" fill="#093a73"/>
<rect x="544.8" y="1049.8" width="15.3" height="15.9" fill="#0f3a75"/>
<rect x="559.6" y="1049.8" width="30.1" height="15.9" fill="#103a76"/>
<rect x="589.3" y="1049.8" width="15.3" height="15.9" fill="#0f3a75"/>
<rect x="604.2" y="1049.8" width="15.3" height="15.9" fill="#0e3a75"/>
<rect x="619.0" y="1049.8" width="15.3" height="15.9" fill="#1c397b"/>
<rect x="633.9" y="1049.8" width="15.3" height="15.9" fill="#1c397a"/>
<rect x="663.6" y="1049.8" width="15.3" height="15.9" fill="#23387e"/>
<rect x="678.4" y="1049.8" width="15.3" height="15.9" fill="#1c397b"/>
<rect x="693.3" y="1049.8" width="15.3" height="15.9" fill="#2c3881"/>
<rect x="708.2" y="1049.8" width="15.3" height="15.9" fill="#333784"/>
<rect x="723.0" y="1049.8" width="15.3" height="15.9" fill="#393787"/>
<rect x="737.9" y="1049.8" width="15.3" height="15.9" fill="#3b3687"/>
<rect x="752.7" y="1049.8" width="15.3" height="15.9" fill="#3a3687"/>
<rect x="767.6" y="1049.8" width="15.3" height="15.9" fill="#403689"/>
<rect x="797.3" y="1049.8" width="15.3" height="15.9" fill="#49358d"/>
<rect x="827.0" y="1049.8" width="30.1" height="15.9" fill="#48358d"/>
<rect x="856.7" y="1049.8" width="15.3" height="15.9" fill="#4f3590"/>
<rect x="871.5" y="1049.8" width="15.3" height="15.9" fill="#4e358f"/>
<rect x="886.4" y="1049.8" width="15.3" height="15.9" fill="#3f3689"/>
<rect x="901.3" y="1049.8" width="15.3" height="15.9" fill="#3c3688"/>
<rect x="916.1" y="1049.8" width="15.3" height="15.9" fill="#403689"/>
<rect x="931.0" y="1049.8" width="30.1" height="15.9" fill="#333784"/>
<rect x="975.5" y="1049.8" width="15.3" height="15.9" fill="#2e3782"/>
<rect x="990.4" y="1049.8" width="15.3" height="15.9" fill="#2d3782"/>
<rect x="1005.2" y="1049.8" width="15.3" height="15.9" fill="#303783"/>
<rect x="1020.1" y="1049.8" width="15.3" height="15.9" fill="#333784"/>
<rect x="1034.9" y="1049.8" width="15.3" height="15.9" fill="#313783"/>
<rect x="1049.8" y="1049.8" width="15.3" height="15.9" fill="#323783"/>
<rect x="1064.7" y="1049.8" width="15.3" height="15.9" fill="#2b3881"/>
<rect x="1079.5" y="1049.8" width="15.3" height="15.9" fill="#383786"/>
<rect x="1094.4" y="1049.8" width="15.3" height="15.9" fill="#2e3782"/>
<rect x="1109.2" y="1049.8" width="15.3" height="15.9" fill="#3b3687"/>
<rect x="1124.1" y="1049.8" width="15.3" height="15.9" fill="#3c3688"/>
<rect x="1138.9" y="1049.8" width="15.3" height="15.9" fill="#393687"/>
<rect x="1153.8" y="1049.8" width="15.3" height="15.9" fill="#3d3688"/>
<rect x="1168.6" y="1049.8" width="15.3" height="15.9" fill="#46358c"/>
<rect x="1183.5" y="1049.8" width="15.3" height="15.9" fill="#4f358f"/>
<rect x="1198.3" y="1049.8" width="15.3" height="15.9" fill="#4b358e"/>
<rect x="1213.2" y="1049.8" width="15.3" height="15.9" fill="#4e358f"/>
<rect x="1228.0" y="1049.8" width="15.3" height="15.9" fill="#48358d"/>
<rect x="1242.9" y="1049.8" width="15.3" height="15.9" fill="#533491"/>
<rect x="1257.8" y="1049.8" width="15.3" height="15.9" fill="#513590"/>
<rect x="1272.6" y="1049.8" width="15.3" height="15.9" fill="#49358d"/>
<rect x="1287.5" y="1049.8" width="15.3" height="15.9" fill="#553492"/>
<rect x="1302.3" y="1049.8" width="15.3" height="15.9" fill="#4f3590"/>
<rect x="1317.2" y="1049.8" width="15.3" height="15.9" fill="#48358d"/>
<rect x="1332.0" y="1049.8" width="15.3" height="15.9" fill="#46368c"/>
<rect x="1346.9" y="1049.8" width="15.3" height="15.9" fill="#4c358e"/>
<rect x="1361.7" y="1049.8" width="15.3" height="15.9" fill="#47358c"/>
<rect x="1376.6" y="1049.8" width="15.3" height="15.9" fill="#41368a"/>
<rect x="1391.4" y="1049.8" width="15.3" height="15.9" fill="#303783"/>
<rect x="1406.3" y="1049.8" width="15.3" height="15.9" fill="#363785"/>
<rect x="1421.1" y="1049.8" width="15.3" height="15.9" fill="#2d3781"/>
<rect x="1436.0" y="1049.8" width="15.3" height="15.9" fill="#2a3880"/>
<rect x="1450.9" y="1049.8" width="15.3" height="15.9" fill="#323784"/>
<rect x="1465.7" y="1049.8" width="15.3" height="15.9" fill="#353785"/>
<rect x="1480.6" y="1049.8" width="15.3" height="15.9" fill="#2d3782"/>
<rect x="1495.4" y="1049.8" width="15.3" height="15.9" fill="#343785"/>
<rect x="1510.3" y="1049.8" width="15.3" height="15.9" fill="#3c3688"/>
<rect x="1525.1" y="1049.8" width="15.3" height="15.9" fill="#383786"/>
<rect x="1540.0" y="1049.8" width="15.3" height="15.9" fill="#403689"/>
<rect x="544.8" y="1065.4" width="15.3" height="15.9" fill="#113a76"/>
<rect x="559.6" y="1065.4" width="15.3" height="15.9" fill="#173979"/>
<rect x="574.5" y="1065.4" width="15.3" height="15.9" fill="#103a75"/>
<rect x="589.3" y="1065.4" width="15.3" height="15.9" fill="#103a76"/>
<rect x="604.2" y="1065.4" width="15.3" height="15.9" fill="#173979"/>
<rect x="619.0" y="1065.4" width="15.3" height="15.9" fill="#163978"/>
<rect x="633.9" y="1065.4" width="30.1" height="15.9" fill="#25387e"/>
<rect x="663.6" y="1065.4" width="15.3" height="15.9" fill="#24387e"/>
<rect x="678.4" y="1065.4" width="15.3" height="15.9" fill="#20387c"/>
<rect x="693.3" y="1065.4" width="15.3" height="15.9" fill="#25387e"/>
<rect x="708.2" y="1065.4" width="15.3" height="15.9" fill="#323784"/>
<rect x="723.0" y="1065.4" width="15.3" height="15.9" fill="#3a3687"/>
<rect x="752.7" y="1065.4" width="15.3" height="15.9" fill="#44368b"/>
<rect x="767.6" y="1065.4" width="15.3" height="15.9" fill="#47358c"/>
<rect x="782.4" y="1065.4" width="15.3" height="15.9" fill="#45368b"/>
<rect x="797.3" y="1065.4" width="15.3" height="15.9" fill="#523591"/>
<rect x="812.1" y="1065.4" width="15.3" height="15.9" fill="#4b358e"/>
<rect x="827.0" y="1065.4" width="15.3" height="15.9" fill="#4c358e"/>
<rect x="841.8" y="1065.4" width="30.1" height="15.9" fill="#4b358e"/>
<rect x="871.5" y="1065.4" width="15.3" height="15.9" fill="#4c358e"/>
<rect x="886.4" y="1065.4" width="15.3" height="15.9" fill="#4d358f"/>
<rect x="901.3" y="1065.4" width="15.3" height="15.9" fill="#4a358d"/>
<rect x="916.1" y="1065.4" width="15.3" height="15.9" fill="#45368b"/>
<rect x="931.0" y="1065.4" width="15.3" height="15.9" fill="#3b3687"/>
<rect x="945.8" y="1065.4" width="15.3" height="15.9" fill="#42368a"/>
<rect x="1005.2" y="1065.4" width="15.3" height="15.9" fill="#393786"/>
<rect x="1020.1" y="1065.4" width="15.3" height="15.9" fill="#323783"/>
<rect x="1034.9" y="1065.4" width="15.3" height="15.9" fill="#3a3687"/>
<rect x="1049.8" y="1065.4" width="15.3" height="15.9" fill="#3e3689"/>
<rect x="1064.7" y="1065.4" width="15.3" height="15.9" fill="#403689"/>
<rect x="1079.5" y="1065.4" width="15.3" height="15.9" fill="#3a3687"/>
<rect x="1094.4" y="1065.4" width="15.3" height="15.9" fill="#3f3689"/>
<rect x="1109.2" y="1065.4" width="15.3" height="15.9" fill="#383786"/>
<rect x="1124.1" y="1065.4" width="15.3" height="15.9" fill="#3c3688"/>
<rect x="1138.9" y="1065.4" width="15.3" height="15.9" fill="#3e3688"/>
<rect x="1153.8" y="1065.4" width="15.3" height="15.9" fill="#4b358e"/>
<rect x="1168.6" y="1065.4" width="15.3" height="15.9" fill="#503590"/>
<rect x="1183.5" y="1065.4" width="15.3" height="15.9" fill="#523591"/>
<rect x="1198.3" y="1065.4" width="15.3" height="15.9" fill="#4d358f"/>
<rect x="1213.2" y="1065.4" width="15.3" height="15.9" fill="#4b358e"/>
<rect x="1228.0" y="1065.4" width="15.3" height="15.9" fill="#503590"/>
<rect x="1242.9" y="1065.4" width="15.3" height="15.9" fill="#533591"/>
<rect x="1257.8" y="1065.4" width="15.3" height="15.9" fill="#503590"/>
<rect x="1272.6" y="1065.4" width="15.3" height="15.9" fill="#4d358f"/>
<rect x="1287.5" y="1065.4" width="15.3" height="15.9" fill="#4c358e"/>
<rect x="1302.3" y="1065.4" width="15.3" height="15.9" fill="#4a358e"/>
<rect x="1317.2" y="1065.4" width="30.1" height="15.9" fill="#47358c"/>
<rect x="1346.9" y="1065.4" width="15.3" height="15.9" fill="#4a358d"/>
<rect x="1361.7" y="1065.4" width="15.3" height="15.9" fill="#3a3687"/>
<rect x="1376.6" y="1065.4" width="15.3" height="15.9" fill="#3c3688"/>
<rect x="1391.4" y="1065.4" width="30.1" height="15.9" fill="#333784"/>
<rect x="1421.1" y="1065.4" width="15.3" height="15.9" fill="#2c3881"/>
<rect x="1436.0" y="1065.4" width="30.1" height="15.9" fill="#343784"/>
<rect x="1465.7" y="1065.4" width="15.3" height="15.9" fill="#363785"/>
<rect x="1480.6" y="1065.4" width="15.3" height="15.9" fill="#393787"/>
<rect x="1495.4" y="1065.4" width="15.3" height="15.9" fill="#313783"/>
<rect x="1510.3" y="1065.4" width="15.3" height="15.9" fill="#383786"/>
<rect x="1525.1" y="1065.4" width="15.3" height="15.9" fill="#3d3688"/>
<rect x="1540.0" y="1065.4" width="15.3" height="15.9" fill="#3e3689"/>
<rect x="1554.8" y="1065.4" width="15.3" height="15.9" fill="#363785"/>
<rect x="559.6" y="1080.9" width="15.3" height="15.9" fill="#153978"/>
<rect x="574.5" y="1080.9" width="15.3" height="15.9" fill="#1c397b"/>
<rect x="589.3" y="1080.9" width="15.3" height="15.9" fill="#173978"/>
<rect x="604.2" y="1080.9" width="15.3" height="15.9" fill="#1c397b"/>
<rect x="619.0" y="1080.9" width="15.3" height="15.9" fill="#1a397a"/>
<rect x="663.6" y="1080.9" width="15.3" height="15.9" fill="#2d3781"/>
<rect x="678.4" y="1080.9" width="15.3" height="15.9" fill="#2a3880"/>
<rect x="723.0" y="1080.9" width="15.3" height="15.9" fill="#353785"/>
<rect x="737.9" y="1080.9" width="15.3" height="15.9" fill="#3a3687"/>
<rect x="752.7" y="1080.9" width="15.3" height="15.9" fill="#3f3689"/>
<rect x="767.6" y="1080.9" width="30.1" height="15.9" fill="#4f3590"/>
<rect x="797.3" y="1080.9" width="15.3" height="15.9" fill="#543491"/>
<rect x="812.1" y="1080.9" width="15.3" height="15.9" fill="#543492"/>
<rect x="827.0" y="1080.9" width="15.3" height="15.9" fill="#49358d"/>
<rect x="841.8" y="1080.9" width="15.3" height="15.9" fill="#4f3590"/>
<rect x="856.7" y="1080.9" width="15.3" height="15.9" fill="#4a358d"/>
<rect x="871.5" y="1080.9" width="15.3" height="15.9" fill="#513590"/>
<rect x="886.4" y="1080.9" width="15.3" height="15.9" fill="#48358d"/>
<rect x="901.3" y="1080.9" width="15.3" height="15.9" fill="#4c358e"/>
<rect x="916.1" y="1080.9" width="15.3" height="15.9" fill="#4d358f"/>
<rect x="931.0" y="1080.9" width="15.3" height="15.9" fill="#43368b"/>
<rect x="945.8" y="1080.9" width="15.3" height="15.9" fill="#3e3689"/>
<rect x="960.7" y="1080.9" width="15.3" height="15.9" fill="#48358d"/>
<rect x="1005.2" y="1080.9" width="30.1" height="15.9" fill="#3c3688"/>
<rect x="1034.9" y="1080.9" width="15.3" height="15.9" fill="#43368b"/>
<rect x="1049.8" y="1080.9" width="15.3" height="15.9" fill="#42368a"/>
<rect x="1064.7" y="1080.9" width="30.1" height="15.9" fill="#46368c"/>
<rect x="1094.4" y="1080.9" width="15.3" height="15.9" fill="#47358c"/>
<rect x="1109.2" y="1080.9" width="15.3" height="15.9" fill="#44368b"/>
<rect x="1124.1" y="1080.9" width="15.3" height="15.9" fill="#45368b"/>
<rect x="1138.9" y="1080.9" width="15.3" height="15.9" fill="#4e358f"/>
<rect x="1153.8" y="1080.9" width="15.3" height="15.9" fill="#533591"/>
<rect x="1168.6" y="1080.9" width="15.3" height="15.9" fill="#503590"/>
<rect x="1183.5" y="1080.9" width="15.3" height="15.9" fill="#4c358e"/>
<rect x="1198.3" y="1080.9" width="15.3" height="15.9" fill="#533491"/>
<rect x="1213.2" y="1080.9" width="15.3" height="15.9" fill="#523591"/>
<rect x="1228.0" y="1080.9" width="15.3" height="15.9" fill="#543491"/>
<rect x="1242.9" y="1080.9" width="15.3" height="15.9" fill="#4b358e"/>
<rect x="1257.8" y="1080.9" width="15.3" height="15.9" fill="#4e358f"/>
<rect x="1272.6" y="1080.9" width="15.3" height="15.9" fill="#553492"/>
<rect x="1287.5" y="1080.9" width="15.3" height="15.9" fill="#543492"/>
<rect x="1302.3" y="1080.9" width="15.3" height="15.9" fill="#4f358f"/>
<rect x="1317.2" y="1080.9" width="15.3" height="15.9" fill="#4b358e"/>
<rect x="1332.0" y="1080.9" width="15.3" height="15.9" fill="#46368c"/>
<rect x="1346.9" y="1080.9" width="15.3" height="15.9" fill="#48358d"/>
<rect x="1361.7" y="1080.9" width="15.3" height="15.9" fill="#41368a"/>
<rect x="1376.6" y="1080.9" width="15.3" height="15.9" fill="#333784"/>
<rect x="1391.4" y="1080.9" width="15.3" height="15.9" fill="#343784"/>
<rect x="1406.3" y="1080.9" width="15.3" height="15.9" fill="#333784"/>
<rect x="1421.1" y="1080.9" width="15.3" height="15.9" fill="#323784"/>
<rect x="1436.0" y="1080.9" width="15.3" height="15.9" fill="#293880"/>
<rect x="1450.9" y="1080.9" width="15.3" height="15.9" fill="#333784"/>
<rect x="1465.7" y="1080.9" width="15.3" height="15.9" fill="#313783"/>
<rect x="1480.6" y="1080.9" width="15.3" height="15.9" fill="#363785"/>
<rect x="1495.4" y="1080.9" width="15.3" height="15.9" fill="#383786"/>
<rect x="1510.3" y="1080.9" width="30.1" height="15.9" fill="#333784"/>
<rect x="1540.0" y="1080.9" width="15.3" height="15.9" fill="#3d3688"/>
<rect x="559.6" y="1096.4" width="15.3" height="15.9" fill="#1e397b"/>
<rect x="574.5" y="1096.4" width="15.3" height="15.9" fill="#1a397a"/>
<rect x="589.3" y="1096.4" width="15.3" height="15.9" fill="#24387e"/>
<rect x="604.2" y="1096.4" width="15.3" height="15.9" fill="#293880"/>
<rect x="619.0" y="1096.4" width="15.3" height="15.9" fill="#1e397b"/>
<rect x="633.9" y="1096.4" width="15.3" height="15.9" fill="#27387f"/>
<rect x="648.7" y="1096.4" width="15.3" height="15.9" fill="#23387d"/>
<rect x="678.4" y="1096.4" width="15.3" height="15.9" fill="#2d3782"/>
<rect x="693.3" y="1096.4" width="15.3" height="15.9" fill="#2a3880"/>
<rect x="708.2" y="1096.4" width="15.3" height="15.9" fill="#353785"/>
<rect x="723.0" y="1096.4" width="15.3" height="15.9" fill="#3f3689"/>
<rect x="737.9" y="1096.4" width="15.3" height="15.9" fill="#47358c"/>
<rect x="752.7" y="1096.4" width="15.3" height="15.9" fill="#45368b"/>
<rect x="767.6" y="1096.4" width="30.1" height="15.9" fill="#47358c"/>
<rect x="797.3" y="1096.4" width="15.3" height="15.9" fill="#543492"/>
<rect x="812.1" y="1096.4" width="15.3" height="15.9" fill="#4e358f"/>
<rect x="827.0" y="1096.4" width="15.3" height="15.9" fill="#523591"/>
<rect x="841.8" y="1096.4" width="15.3" height="15.9" fill="#503590"/>
<rect x="856.7" y="1096.4" width="15.3" height="15.9" fill="#553492"/>
<rect x="871.5" y="1096.4" width="15.3" height="15.9" fill="#533591"/>
<rect x="886.4" y="1096.4" width="15.3" height="15.9" fill="#4f358f"/>
<rect x="901.3" y="1096.4" width="15.3" height="15.9" fill="#48358d"/>
<rect x="916.1" y="1096.4" width="15.3" height="15.9" fill="#533591"/>
<rect x="931.0" y="1096.4" width="15.3" height="15.9" fill="#4c358e"/>
<rect x="945.8" y="1096.4" width="15.3" height="15.9" fill="#46368c"/>
<rect x="960.7" y="1096.4" width="15.3" height="15.9" fill="#42368a"/>
<rect x="975.5" y="1096.4" width="15.3" height="15.9" fill="#4c358e"/>
<rect x="990.4" y="1096.4" width="15.3" height="15.9" fill="#4b358e"/>
<rect x="1005.2" y="1096.4" width="15.3" height="15.9" fill="#3f3689"/>
<rect x="1020.1" y="1096.4" width="15.3" height="15.9" fill="#3e3689"/>
<rect x="1034.9" y="1096.4" width="15.3" height="15.9" fill="#45368c"/>
<rect x="1049.8" y="1096.4" width="15.3" height="15.9" fill="#4c358e"/>
<rect x="1064.7" y="1096.4" width="15.3" height="15.9" fill="#403689"/>
<rect x="1079.5" y="1096.4" width="15.3" height="15.9" fill="#49358d"/>
<rect x="1094.4" y="1096.4" width="15.3" height="15.9" fill="#42368a"/>
<rect x="1109.2" y="1096.4" width="15.3" height="15.9" fill="#48358d"/>
<rect x="1124.1" y="1096.4" width="15.3" height="15.9" fill="#46358c"/>
<rect x="1138.9" y="1096.4" width="15.3" height="15.9" fill="#513591"/>
<rect x="1153.8" y="1096.4" width="15.3" height="15.9" fill="#4a358d"/>
<rect x="1168.6" y="1096.4" width="15.3" height="15.9" fill="#533491"/>
<rect x="1183.5" y="1096.4" width="15.3" height="15.9" fill="#513590"/>
<rect x="1198.3" y="1096.4" width="30.1" height="15.9" fill="#4b358e"/>
<rect x="1228.0" y="1096.4" width="15.3" height="15.9" fill="#543492"/>
<rect x="1242.9" y="1096.4" width="15.3" height="15.9" fill="#533491"/>
<rect x="1257.8" y="1096.4" width="15.3" height="15.9" fill="#503590"/>
<rect x="1272.6" y="1096.4" width="15.3" height="15.9" fill="#4e358f"/>
<rect x="1287.5" y="1096.4" width="15.3" height="15.9" fill="#4f3590"/>
<rect x="1302.3" y="1096.4" width="15.3" height="15.9" fill="#523591"/>
<rect x="1317.2" y="1096.4" width="15.3" height="15.9" fill="#4e358f"/>
<rect x="1332.0" y="1096.4" width="15.3" height="15.9" fill="#43368b"/>
<rect x="1346.9" y="1096.4" width="15.3" height="15.9" fill="#3b3687"/>
<rect x="1361.7" y="1096.4" width="15.3" height="15.9" fill="#403689"/>
<rect x="1376.6" y="1096.4" width="15.3" height="15.9" fill="#333784"/>
<rect x="1391.4" y="1096.4" width="15.3" height="15.9" fill="#2d3782"/>
<rect x="1406.3" y="1096.4" width="15.3" height="15.9" fill="#363785"/>
<rect x="1421.1" y="1096.4" width="15.3" height="15.9" fill="#2a3880"/>
<rect x="1436.0" y="1096.4" width="15.3" height="15.9" fill="#353785"/>
<rect x="1450.9" y="1096.4" width="15.3" height="15.9" fill="#2f3782"/>
<rect x="1465.7" y="1096.4" width="15.3" height="15.9" fill="#313783"/>
<rect x="1480.6" y="1096.4" width="15.3" height="15.9" fill="#323784"/>
<rect x="1495.4" y="1096.4" width="30.1" height="15.9" fill="#393786"/>
<rect x="1525.1" y="1096.4" width="15.3" height="15.9" fill="#383786"/>
<rect x="1554.8" y="1096.4" width="15.3" height="15.9" fill="#3b3687"/>
<rect x="559.6" y="1111.9" width="15.3" height="15.9" fill="#1b397a"/>
<rect x="574.5" y="1111.9" width="15.3" height="15.9" fill="#20387c"/>
<rect x="589.3" y="1111.9" width="15.3" height="15.9" fill="#23387d"/>
<rect x="604.2" y="1111.9" width="15.3" height="15.9" fill="#2b3881"/>
<rect x="619.0" y="1111.9" width="15.3" height="15.9" fill="#24387e"/>
<rect x="633.9" y="1111.9" width="15.3" height="15.9" fill="#27387f"/>
<rect x="648.7" y="1111.9" width="15.3" height="15.9" fill="#2c3881"/>
<rect x="663.6" y="1111.9" width="15.3" height="15.9" fill="#26387f"/>
<rect x="678.4" y="1111.9" width="15.3" height="15.9" fill="#283880"/>
<rect x="693.3" y="1111.9" width="15.3" height="15.9" fill="#303783"/>
<rect x="708.2" y="1111.9" width="15.3" height="15.9" fill="#393786"/>
<rect x="723.0" y="1111.9" width="15.3" height="15.9" fill="#3a3687"/>
<rect x="737.9" y="1111.9" width="15.3" height="15.9" fill="#45368b"/>
<rect x="752.7" y="1111.9" width="30.1" height="15.9" fill="#4a358d"/>
<rect x="782.4" y="1111.9" width="15.3" height="15.9" fill="#523591"/>
<rect x="797.3" y="1111.9" width="15.3" height="15.9" fill="#4f358f"/>
<rect x="812.1" y="1111.9" width="15.3" height="15.9" fill="#4f3590"/>
<rect x="827.0" y="1111.9" width="15.3" height="15.9" fill="#563493"/>
<rect x="841.8" y="1111.9" width="15.3" height="15.9" fill="#4e358f"/>
<rect x="856.7" y="1111.9" width="15.3" height="15.9" fill="#563492"/>
<rect x="871.5" y="1111.9" width="30.1" height="15.9" fill="#4c358e"/>
<rect x="901.3" y="1111.9" width="15.3" height="15.9" fill="#4f3590"/>
<rect x="916.1" y="1111.9" width="15.3" height="15.9" fill="#553492"/>
<rect x="931.0" y="1111.9" width="15.3" height="15.9" fill="#4e358f"/>
<rect x="945.8" y="1111.9" width="15.3" height="15.9" fill="#4f3590"/>
<rect x="960.7" y="1111.9" width="15.3" height="15.9" fill="#46358c"/>
<rect x="975.5" y="1111.9" width="15.3" height="15.9" fill="#513590"/>
<rect x="990.4" y="1111.9" width="15.3" height="15.9" fill="#46368c"/>
<rect x="1005.2" y="1111.9" width="15.3" height="15.9" fill="#43368b"/>
<rect x="1020.1" y="1111.9" width="15.3" height="15.9" fill="#46358c"/>
<rect x="1034.9" y="1111.9" width="15.3" height="15.9" fill="#45368b"/>
<rect x="1049.8" y="1111.9" width="15.3" height="15.9" fill="#4e358f"/>
<rect x="1064.7" y="1111.9" width="15.3" height="15.9" fill="#43368b"/>
<rect x="1079.5" y="1111.9" width="15.3" height="15.9" fill="#4a358e"/>
<rect x="1094.4" y="1111.9" width="15.3" height="15.9" fill="#45368b"/>
<rect x="1109.2" y="1111.9" width="15.3" height="15.9" fill="#46368c"/>
<rect x="1124.1" y="1111.9" width="15.3" height="15.9" fill="#523591"/>
<rect x="1138.9" y="1111.9" width="15.3" height="15.9" fill="#4a358d"/>
<rect x="1153.8" y="1111.9" width="15.3" height="15.9" fill="#49358d"/>
<rect x="1168.6" y="1111.9" width="15.3" height="15.9" fill="#563492"/>
<rect x="1183.5" y="1111.9" width="15.3" height="15.9" fill="#523591"/>
<rect x="1198.3" y="1111.9" width="15.3" height="15.9" fill="#4c358e"/>
<rect x="1213.2" y="1111.9" width="15.3" height="15.9" fill="#553492"/>
<rect x="1228.0" y="1111.9" width="15.3" height="15.9" fill="#4a358d"/>
<rect x="1242.9" y="1111.9" width="15.3" height="15.9" fill="#523591"/>
<rect x="1257.8" y="1111.9" width="15.3" height="15.9" fill="#4a358e"/>
<rect x="1272.6" y="1111.9" width="15.3" height="15.9" fill="#533491"/>
<rect x="1287.5" y="1111.9" width="15.3" height="15.9" fill="#4d358f"/>
<rect x="1302.3" y="1111.9" width="15.3" height="15.9" fill="#46358c"/>
<rect x="1317.2" y="1111.9" width="15.3" height="15.9" fill="#4e358f"/>
<rect x="1332.0" y="1111.9" width="15.3" height="15.9" fill="#49358d"/>
<rect x="1346.9" y="1111.9" width="15.3" height="15.9" fill="#3f3689"/>
<rect x="1361.7" y="1111.9" width="15.3" height="15.9" fill="#3a3687"/>
<rect x="1376.6" y="1111.9" width="15.3" height="15.9" fill="#393787"/>
<rect x="1391.4" y="1111.9" width="15.3" height="15.9" fill="#343785"/>
<rect x="1406.3" y="1111.9" width="15.3" height="15.9" fill="#343784"/>
<rect x="1421.1" y="1111.9" width="15.3" height="15.9" fill="#283880"/>
<rect x="1436.0" y="1111.9" width="15.3" height="15.9" fill="#2d3881"/>
<rect x="1450.9" y="1111.9" width="15.3" height="15.9" fill="#2b3881"/>
<rect x="1465.7" y="1111.9" width="15.3" height="15.9" fill="#363785"/>
<rect x="1480.6" y="1111.9" width="15.3" height="15.9" fill="#2f3783"/>
<rect x="1495.4" y="1111.9" width="15.3" height="15.9" fill="#3b3687"/>
<rect x="1510.3" y="1111.9" width="30.1" height="15.9" fill="#363785"/>
<rect x="1540.0" y="1111.9" width="15.3" height="15.9" fill="#3a3687"/>
<rect x="1554.8" y="1111.9" width="15.3" height="15.9" fill="#323784"/>
<rect x="1569.7" y="1111.9" width="15.3" height="15.9" fill="#363785"/>
<rect x="1614.2" y="1111.9" width="15.3" height="15.9" fill="#313783"/>
<rect x="589.3" y="1127.4" width="15.3" height="15.9" fill="#1d397b"/>
<rect x="604.2" y="1127.4" width="15.3" height="15.9" fill="#293880"/>
<rect x="619.0" y="1127.4" width="15.3" height="15.9" fill="#1e397b"/>
<rect x="633.9" y="1127.4" width="15.3" height="15.9" fill="#25387e"/>
<rect x="648.7" y="1127.4" width="15.3" height="15.9" fill="#293880"/>
<rect x="663.6" y="1127.4" width="15.3" height="15.9" fill="#25387e"/>
<rect x="678.4" y="1127.4" width="15.3" height="15.9" fill="#2f3782"/>
<rect x="693.3" y="1127.4" width="15.3" height="15.9" fill="#27387f"/>
<rect x="708.2" y="1127.4" width="15.3" height="15.9" fill="#313783"/>
<rect x="723.0" y="1127.4" width="30.1" height="15.9" fill="#393786"/>
<rect x="752.7" y="1127.4" width="15.3" height="15.9" fill="#43368a"/>
<rect x="767.6" y="1127.4" width="15.3" height="15.9" fill="#4b358e"/>
<rect x="782.4" y="1127.4" width="15.3" height="15.9" fill="#47358c"/>
<rect x="797.3" y="1127.4" width="15.3" height="15.9" fill="#533491"/>
<rect x="812.1" y="1127.4" width="15.3" height="15.9" fill="#4a358d"/>
<rect x="827.0" y="1127.4" width="15.3" height="15.9" fill="#523591"/>
<rect x="841.8" y="1127.4" width="15.3" height="15.9" fill="#4d358f"/>
<rect x="856.7" y="1127.4" width="15.3" height="15.9" fill="#49358d"/>
<rect x="871.5" y="1127.4" width="15.3" height="15.9" fill="#4e358f"/>
<rect x="886.4" y="1127.4" width="15.3" height="15.9" fill="#4d358f"/>
<rect x="901.3" y="1127.4" width="15.3" height="15.9" fill="#523591"/>
<rect x="916.1" y="1127.4" width="15.3" height="15.9" fill="#573493"/>
<rect x="931.0" y="1127.4" width="15.3" height="15.9" fill="#563492"/>
<rect x="945.8" y="1127.4" width="15.3" height="15.9" fill="#543492"/>
<rect x="960.7" y="1127.4" width="15.3" height="15.9" fill="#4d358f"/>
<rect x="975.5" y="1127.4" width="15.3" height="15.9" fill="#503590"/>
<rect x="990.4" y="1127.4" width="15.3" height="15.9" fill="#4e358f"/>
<rect x="1005.2" y="1127.4" width="15.3" height="15.9" fill="#47358c"/>
<rect x="1020.1" y="1127.4" width="15.3" height="15.9" fill="#523591"/>
<rect x="1034.9" y="1127.4" width="15.3" height="15.9" fill="#503590"/>
<rect x="1049.8" y="1127.4" width="15.3" height="15.9" fill="#4a358d"/>
<rect x="1064.7" y="1127.4" width="15.3" height="15.9" fill="#533591"/>
<rect x="1079.5" y="1127.4" width="15.3" height="15.9" fill="#533491"/>
<rect x="1094.4" y="1127.4" width="15.3" height="15.9" fill="#4f358f"/>
<rect x="1109.2" y="1127.4" width="15.3" height="15.9" fill="#533591"/>
<rect x="1124.1" y="1127.4" width="15.3" height="15.9" fill="#503590"/>
<rect x="1138.9" y="1127.4" width="15.3" height="15.9" fill="#533591"/>
<rect x="1153.8" y="1127.4" width="30.1" height="15.9" fill="#4e358f"/>
<rect x="1183.5" y="1127.4" width="15.3" height="15.9" fill="#543492"/>
<rect x="1198.3" y="1127.4" width="15.3" height="15.9" fill="#4e358f"/>
<rect x="1213.2" y="1127.4" width="15.3" height="15.9" fill="#503590"/>
<rect x="1228.0" y="1127.4" width="15.3" height="15.9" fill="#553492"/>
<rect x="1242.9" y="1127.4" width="15.3" height="15.9" fill="#49358d"/>
<rect x="1257.8" y="1127.4" width="15.3" height="15.9" fill="#523591"/>
<rect x="1272.6" y="1127.4" width="30.1" height="15.9" fill="#533491"/>
<rect x="1302.3" y="1127.4" width="15.3" height="15.9" fill="#4a358d"/>
<rect x="1317.2" y="1127.4" width="15.3" height="15.9" fill="#44368b"/>
<rect x="1332.0" y="1127.4" width="15.3" height="15.9" fill="#41368a"/>
<rect x="1346.9" y="1127.4" width="15.3" height="15.9" fill="#3f3689"/>
<rect x="1361.7" y="1127.4" width="15.3" height="15.9" fill="#3a3687"/>
<rect x="1376.6" y="1127.4" width="15.3" height="15.9" fill="#393787"/>
<rect x="1391.4" y="1127.4" width="30.1" height="15.9" fill="#2e3782"/>
<rect x="1421.1" y="1127.4" width="15.3" height="15.9" fill="#313783"/>
<rect x="1436.0" y="1127.4" width="15.3" height="15.9" fill="#2d3782"/>
<rect x="1450.9" y="1127.4" width="15.3" height="15.9" fill="#313783"/>
<rect x="1465.7" y="1127.4" width="15.3" height="15.9" fill="#2b3881"/>
<rect x="1480.6" y="1127.4" width="15.3" height="15.9" fill="#303783"/>
<rect x="1495.4" y="1127.4" width="15.3" height="15.9" fill="#383786"/>
<rect x="1510.3" y="1127.4" width="15.3" height="15.9" fill="#303783"/>
<rect x="1525.1" y="1127.4" width="15.3" height="15.9" fill="#3d3688"/>
<rect x="1540.0" y="1127.4" width="15.3" height="15.9" fill="#373786"/>
<rect x="1554.8" y="1127.4" width="15.3" height="15.9" fill="#383786"/>
<rect x="1569.7" y="1127.4" width="15.3" height="15.9" fill="#393687"/>
<rect x="1584.5" y="1127.4" width="15.3" height="15.9" fill="#3b3687"/>
<rect x="1599.4" y="1127.4" width="15.3" height="15.9" fill="#2f3782"/>
<rect x="1629.1" y="1127.4" width="15.3" height="15.9" fill="#383786"/>
<rect x="1644.0" y="1127.4" width="15.3" height="15.9" fill="#303783"/>
<rect x="604.2" y="1143.0" width="15.3" height="15.9" fill="#1c397a"/>
<rect x="619.0" y="1143.0" width="30.1" height="15.9" fill="#293880"/>
<rect x="648.7" y="1143.0" width="15.3" height="15.9" fill="#25387e"/>
<rect x="663.6" y="1143.0" width="15.3" height="15.9" fill="#28387f"/>
<rect x="678.4" y="1143.0" width="30.1" height="15.9" fill="#27387f"/>
<rect x="708.2" y="1143.0" width="15.3" height="15.9" fill="#333784"/>
<rect x="723.0" y="1143.0" width="15.3" height="15.9" fill="#353785"/>
<rect x="737.9" y="1143.0" width="15.3" height="15.9" fill="#3a3687"/>
<rect x="752.7" y="1143.0" width="15.3" height="15.9" fill="#43368b"/>
<rect x="767.6" y="1143.0" width="15.3" height="15.9" fill="#3c3688"/>
<rect x="782.4" y="1143.0" width="15.3" height="15.9" fill="#42368a"/>
<rect x="797.3" y="1143.0" width="15.3" height="15.9" fill="#47358c"/>
<rect x="812.1" y="1143.0" width="15.3" height="15.9" fill="#533491"/>
<rect x="827.0" y="1143.0" width="15.3" height="15.9" fill="#49358d"/>
<rect x="856.7" y="1143.0" width="15.3" height="15.9" fill="#4b358e"/>
<rect x="871.5" y="1143.0" width="15.3" height="15.9" fill="#4f3590"/>
<rect x="886.4" y="1143.0" width="15.3" height="15.9" fill="#4c358e"/>
<rect x="901.3" y="1143.0" width="15.3" height="15.9" fill="#503590"/>
<rect x="916.1" y="1143.0" width="15.3" height="15.9" fill="#543491"/>
<rect x="931.0" y="1143.0" width="15.3" height="15.9" fill="#563492"/>
<rect x="945.8" y="1143.0" width="15.3" height="15.9" fill="#543492"/>
<rect x="960.7" y="1143.0" width="15.3" height="15.9" fill="#573493"/>
<rect x="975.5" y="1143.0" width="15.3" height="15.9" fill="#523591"/>
<rect x="990.4" y="1143.0" width="30.1" height="15.9" fill="#4c358e"/>
<rect x="1020.1" y="1143.0" width="15.3" height="15.9" fill="#49358d"/>
<rect x="1034.9" y="1143.0" width="15.3" height="15.9" fill="#4a358e"/>
<rect x="1049.8" y="1143.0" width="15.3" height="15.9" fill="#503590"/>
<rect x="1064.7" y="1143.0" width="15.3" height="15.9" fill="#4c358e"/>
<rect x="1079.5" y="1143.0" width="15.3" height="15.9" fill="#4e358f"/>
<rect x="1094.4" y="1143.0" width="15.3" height="15.9" fill="#49358d"/>
<rect x="1109.2" y="1143.0" width="15.3" height="15.9" fill="#4d358f"/>
<rect x="1124.1" y="1143.0" width="15.3" height="15.9" fill="#513590"/>
<rect x="1138.9" y="1143.0" width="15.3" height="15.9" fill="#4c358e"/>
<rect x="1153.8" y="1143.0" width="15.3" height="15.9" fill="#48358d"/>
<rect x="1168.6" y="1143.0" width="15.3" height="15.9" fill="#533491"/>
<rect x="1183.5" y="1143.0" width="15.3" height="15.9" fill="#4a358e"/>
<rect x="1198.3" y="1143.0" width="15.3" height="15.9" fill="#573493"/>
<rect x="1213.2" y="1143.0" width="30.1" height="15.9" fill="#533491"/>
<rect x="1242.9" y="1143.0" width="15.3" height="15.9" fill="#4b358e"/>
<rect x="1257.8" y="1143.0" width="15.3" height="15.9" fill="#48358d"/>
<rect x="1272.6" y="1143.0" width="15.3" height="15.9" fill="#4a358e"/>
<rect x="1287.5" y="1143.0" width="15.3" height="15.9" fill="#4f3590"/>
<rect x="1302.3" y="1143.0" width="15.3" height="15.9" fill="#46368c"/>
<rect x="1317.2" y="1143.0" width="15.3" height="15.9" fill="#4b358e"/>
<rect x="1332.0" y="1143.0" width="15.3" height="15.9" fill="#48358d"/>
<rect x="1346.9" y="1143.0" width="15.3" height="15.9" fill="#383786"/>
<rect x="1361.7" y="1143.0" width="15.3" height="15.9" fill="#353785"/>
<rect x="1376.6" y="1143.0" width="15.3" height="15.9" fill="#303783"/>
<rect x="1391.4" y="1143.0" width="15.3" height="15.9" fill="#2e3782"/>
<rect x="1406.3" y="1143.0" width="15.3" height="15.9" fill="#283880"/>
<rect x="1421.1" y="1143.0" width="15.3" height="15.9" fill="#2f3782"/>
<rect x="1436.0" y="1143.0" width="15.3" height="15.9" fill="#2a3880"/>
<rect x="1450.9" y="1143.0" width="15.3" height="15.9" fill="#2d3782"/>
<rect x="1465.7" y="1143.0" width="15.3" height="15.9" fill="#2c3881"/>
<rect x="1480.6" y="1143.0" width="15.3" height="15.9" fill="#343784"/>
<rect x="1495.4" y="1143.0" width="15.3" height="15.9" fill="#313783"/>
<rect x="1510.3" y="1143.0" width="15.3" height="15.9" fill="#353785"/>
<rect x="1525.1" y="1143.0" width="15.3" height="15.9" fill="#3a3687"/>
<rect x="1540.0" y="1143.0" width="15.3" height="15.9" fill="#3b3687"/>
<rect x="1554.8" y="1143.0" width="15.3" height="15.9" fill="#353785"/>
<rect x="1569.7" y="1143.0" width="15.3" height="15.9" fill="#3c3688"/>
<rect x="1584.5" y="1143.0" width="15.3" height="15.9" fill="#2f3783"/>
<rect x="1599.4" y="1143.0" width="15.3" height="15.9" fill="#393687"/>
<rect x="1614.2" y="1143.0" width="15.3" height="15.9" fill="#3a3687"/>
<rect x="1629.1" y="1143.0" width="15.3" height="15.9" fill="#393786"/>
<rect x="1644.0" y="1143.0" width="15.3" height="15.9" fill="#2c3881"/>
<rect x="1658.8" y="1143.0" width="15.3" height="15.9" fill="#353785"/>
<rect x="589.3" y="1158.5" width="15.3" height="15.9" fill="#23387e"/>
<rect x="604.2" y="1158.5" width="15.3" height="15.9" fill="#26387f"/>
<rect x="619.0" y="1158.5" width="15.3" height="15.9" fill="#28387f"/>
<rect x="633.9" y="1158.5" width="15.3" height="15.9" fill="#20397c"/>
<rect x="648.7" y="1158.5" width="30.1" height="15.9" fill="#22387d"/>
<rect x="678.4" y="1158.5" width="15.3" height="15.9" fill="#23387d"/>
<rect x="693.3" y="1158.5" width="15.3" height="15.9" fill="#2e3782"/>
<rect x="708.2" y="1158.5" width="15.3" height="15.9" fill="#293880"/>
<rect x="723.0" y="1158.5" width="15.3" height="15.9" fill="#2f3782"/>
<rect x="737.9" y="1158.5" width="15.3" height="15.9" fill="#2c3881"/>
<rect x="752.7" y="1158.5" width="15.3" height="15.9" fill="#313783"/>
<rect x="767.6" y="1158.5" width="15.3" height="15.9" fill="#353785"/>
<rect x="782.4" y="1158.5" width="15.3" height="15.9" fill="#46358c"/>
<rect x="797.3" y="1158.5" width="15.3" height="15.9" fill="#403689"/>
<rect x="812.1" y="1158.5" width="15.3" height="15.9" fill="#43368b"/>
<rect x="827.0" y="1158.5" width="15.3" height="15.9" fill="#45368b"/>
<rect x="841.8" y="1158.5" width="15.3" height="15.9" fill="#533591"/>
<rect x="856.7" y="1158.5" width="15.3" height="15.9" fill="#523591"/>
<rect x="871.5" y="1158.5" width="15.3" height="15.9" fill="#543492"/>
<rect x="886.4" y="1158.5" width="15.3" height="15.9" fill="#553492"/>
<rect x="901.3" y="1158.5" width="15.3" height="15.9" fill="#4a358e"/>
<rect x="916.1" y="1158.5" width="15.3" height="15.9" fill="#4b358e"/>
<rect x="931.0" y="1158.5" width="15.3" height="15.9" fill="#4e358f"/>
<rect x="945.8" y="1158.5" width="15.3" height="15.9" fill="#4c358e"/>
<rect x="960.7" y="1158.5" width="15.3" height="15.9" fill="#4e358f"/>
<rect x="975.5" y="1158.5" width="15.3" height="15.9" fill="#533491"/>
<rect x="990.4" y="1158.5" width="15.3" height="15.9" fill="#563492"/>
<rect x="1005.2" y="1158.5" width="15.3" height="15.9" fill="#553492"/>
<rect x="1020.1" y="1158.5" width="15.3" height="15.9" fill="#4b358e"/>
<rect x="1034.9" y="1158.5" width="15.3" height="15.9" fill="#523591"/>
<rect x="1049.8" y="1158.5" width="15.3" height="15.9" fill="#503590"/>
<rect x="1064.7" y="1158.5" width="15.3" height="15.9" fill="#4e358f"/>
<rect x="1079.5" y="1158.5" width="15.3" height="15.9" fill="#543492"/>
<rect x="1094.4" y="1158.5" width="30.1" height="15.9" fill="#503590"/>
<rect x="1124.1" y="1158.5" width="15.3" height="15.9" fill="#4a358d"/>
<rect x="1138.9" y="1158.5" width="15.3" height="15.9" fill="#4f3590"/>
<rect x="1153.8" y="1158.5" width="15.3" height="15.9" fill="#503590"/>
<rect x="1168.6" y="1158.5" width="15.3" height="15.9" fill="#48358c"/>
<rect x="1183.5" y="1158.5" width="15.3" height="15.9" fill="#4f358f"/>
<rect x="1198.3" y="1158.5" width="15.3" height="15.9" fill="#4a358d"/>
<rect x="1213.2" y="1158.5" width="15.3" height="15.9" fill="#4d358f"/>
<rect x="1242.9" y="1158.5" width="15.3" height="15.9" fill="#553492"/>
<rect x="1257.8" y="1158.5" width="15.3" height="15.9" fill="#4f3590"/>
<rect x="1272.6" y="1158.5" width="15.3" height="15.9" fill="#4e358f"/>
<rect x="1287.5" y="1158.5" width="15.3" height="15.9" fill="#48358d"/>
<rect x="1302.3" y="1158.5" width="15.3" height="15.9" fill="#4c358e"/>
<rect x="1317.2" y="1158.5" width="15.3" height="15.9" fill="#45368b"/>
<rect x="1332.0" y="1158.5" width="15.3" height="15.9" fill="#43368a"/>
<rect x="1346.9" y="1158.5" width="15.3" height="15.9" fill="#42368a"/>
<rect x="1361.7" y="1158.5" width="15.3" height="15.9" fill="#323784"/>
<rect x="1376.6" y="1158.5" width="15.3" height="15.9" fill="#393787"/>
<rect x="1391.4" y="1158.5" width="15.3" height="15.9" fill="#2d3881"/>
<rect x="1406.3" y="1158.5" width="15.3" height="15.9" fill="#353785"/>
<rect x="1421.1" y="1158.5" width="15.3" height="15.9" fill="#373786"/>
<rect x="1436.0" y="1158.5" width="15.3" height="15.9" fill="#343784"/>
<rect x="1450.9" y="1158.5" width="15.3" height="15.9" fill="#2d3781"/>
<rect x="1465.7" y="1158.5" width="15.3" height="15.9" fill="#2b3881"/>
<rect x="1480.6" y="1158.5" width="15.3" height="15.9" fill="#3a3687"/>
<rect x="1495.4" y="1158.5" width="15.3" height="15.9" fill="#353785"/>
<rect x="1510.3" y="1158.5" width="15.3" height="15.9" fill="#373786"/>
<rect x="1525.1" y="1158.5" width="15.3" height="15.9" fill="#343784"/>
<rect x="1540.0" y="1158.5" width="15.3" height="15.9" fill="#3e3688"/>
<rect x="1554.8" y="1158.5" width="15.3" height="15.9" fill="#393787"/>
<rect x="1569.7" y="1158.5" width="15.3" height="15.9" fill="#3b3687"/>
<rect x="1584.5" y="1158.5" width="15.3" height="15.9" fill="#333784"/>
<rect x="1599.4" y="1158.5" width="15.3" height="15.9" fill="#3b3687"/>
<rect x="1614.2" y="1158.5" width="15.3" height="15.9" fill="#313783"/>
<rect x="1629.1" y="1158.5" width="30.1" height="15.9" fill="#3a3687"/>
<rect x="574.5" y="1174.0" width="15.3" height="15.9" fill="#173978"/>
<rect x="604.2" y="1174.0" width="15.3" height="15.9" fill="#1d397b"/>
<rect x="619.0" y="1174.0" width="15.3" height="15.9" fill="#24387e"/>
<rect x="648.7" y="1174.0" width="15.3" height="15.9" fill="#1f397c"/>
<rect x="663.6" y="1174.0" width="15.3" height="15.9" fill="#28387f"/>
<rect x="678.4" y="1174.0" width="15.3" height="15.9" fill="#1f397c"/>
<rect x="693.3" y="1174.0" width="30.1" height="15.9" fill="#21387d"/>
<rect x="723.0" y="1174.0" width="15.3" height="15.9" fill="#25387e"/>
<rect x="737.9" y="1174.0" width="15.3" height="15.9" fill="#2c3881"/>
<rect x="752.7" y="1174.0" width="15.3" height="15.9" fill="#2f3782"/>
<rect x="782.4" y="1174.0" width="15.3" height="15.9" fill="#3a3687"/>
<rect x="797.3" y="1174.0" width="15.3" height="15.9" fill="#393786"/>
<rect x="812.1" y="1174.0" width="15.3" height="15.9" fill="#4a358d"/>
<rect x="827.0" y="1174.0" width="15.3" height="15.9" fill="#43368a"/>
<rect x="841.8" y="1174.0" width="15.3" height="15.9" fill="#523591"/>
<rect x="856.7" y="1174.0" width="30.1" height="15.9" fill="#513590"/>
<rect x="886.4" y="1174.0" width="15.3" height="15.9" fill="#48358d"/>
<rect x="901.3" y="1174.0" width="15.3" height="15.9" fill="#4f358f"/>
<rect x="916.1" y="1174.0" width="15.3" height="15.9" fill="#513590"/>
<rect x="931.0" y="1174.0" width="15.3" height="15.9" fill="#4a358e"/>
<rect x="945.8" y="1174.0" width="15.3" height="15.9" fill="#543492"/>
<rect x="960.7" y="1174.0" width="15.3" height="15.9" fill="#513590"/>
<rect x="990.4" y="1174.0" width="15.3" height="15.9" fill="#4f3590"/>
<rect x="1005.2" y="1174.0" width="15.3" height="15.9" fill="#4c358e"/>
<rect x="1020.1" y="1174.0" width="15.3" height="15.9" fill="#4b358e"/>
<rect x="1034.9" y="1174.0" width="15.3" height="15.9" fill="#4c358e"/>
<rect x="1049.8" y="1174.0" width="15.3" height="15.9" fill="#503590"/>
<rect x="1064.7" y="1174.0" width="15.3" height="15.9" fill="#4f3590"/>
<rect x="1079.5" y="1174.0" width="15.3" height="15.9" fill="#513591"/>
<rect x="1094.4" y="1174.0" width="15.3" height="15.9" fill="#47358c"/>
<rect x="1109.2" y="1174.0" width="15.3" height="15.9" fill="#4a358d"/>
<rect x="1124.1" y="1174.0" width="15.3" height="15.9" fill="#48358d"/>
<rect x="1138.9" y="1174.0" width="15.3" height="15.9" fill="#513590"/>
<rect x="1153.8" y="1174.0" width="15.3" height="15.9" fill="#4d358f"/>
<rect x="1168.6" y="1174.0" width="15.3" height="15.9" fill="#49358d"/>
<rect x="1213.2" y="1174.0" width="15.3" height="15.9" fill="#4d358f"/>
<rect x="1228.0" y="1174.0" width="15.3" height="15.9" fill="#543491"/>
<rect x="1242.9" y="1174.0" width="15.3" height="15.9" fill="#4e358f"/>
<rect x="1257.8" y="1174.0" width="15.3" height="15.9" fill="#48358d"/>
<rect x="1272.6" y="1174.0" width="15.3" height="15.9" fill="#503590"/>
<rect x="1287.5" y="1174.0" width="15.3" height="15.9" fill="#4f3590"/>
<rect x="1302.3" y="1174.0" width="15.3" height="15.9" fill="#4b358e"/>
<rect x="1317.2" y="1174.0" width="15.3" height="15.9" fill="#43368b"/>
<rect x="1332.0" y="1174.0" width="15.3" height="15.9" fill="#3d3688"/>
<rect x="1346.9" y="1174.0" width="15.3" height="15.9" fill="#42368a"/>
<rect x="1361.7" y="1174.0" width="15.3" height="15.9" fill="#3e3688"/>
<rect x="1376.6" y="1174.0" width="15.3" height="15.9" fill="#393786"/>
<rect x="1391.4" y="1174.0" width="15.3" height="15.9" fill="#353785"/>
<rect x="1406.3" y="1174.0" width="15.3" height="15.9" fill="#323783"/>
<rect x="1421.1" y="1174.0" width="15.3" height="15.9" fill="#363785"/>
<rect x="1436.0" y="1174.0" width="15.3" height="15.9" fill="#343784"/>
<rect x="1450.9" y="1174.0" width="15.3" height="15.9" fill="#363785"/>
<rect x="1465.7" y="1174.0" width="15.3" height="15.9" fill="#2c3881"/>
<rect x="1480.6" y="1174.0" width="15.3" height="15.9" fill="#323783"/>
<rect x="1495.4" y="1174.0" width="15.3" height="15.9" fill="#3d3688"/>
<rect x="1510.3" y="1174.0" width="15.3" height="15.9" fill="#333784"/>
<rect x="1525.1" y="1174.0" width="15.3" height="15.9" fill="#41368a"/>
<rect x="1540.0" y="1174.0" width="15.3" height="15.9" fill="#3f3689"/>
<rect x="1554.8" y="1174.0" width="15.3" height="15.9" fill="#363785"/>
<rect x="1569.7" y="1174.0" width="15.3" height="15.9" fill="#393786"/>
<rect x="1584.5" y="1174.0" width="15.3" height="15.9" fill="#393687"/>
<rect x="1599.4" y="1174.0" width="15.3" height="15.9" fill="#3d3688"/>
<rect x="1614.2" y="1174.0" width="15.3" height="15.9" fill="#403689"/>
<rect x="574.5" y="1189.5" width="15.3" height="15.9" fill="#143977"/>
<rect x="589.3" y="1189.5" width="30.1" height="15.9" fill="#1d397b"/>
<rect x="619.0" y="1189.5" width="15.3" height="15.9" fill="#1c397b"/>
<rect x="633.9" y="1189.5" width="15.3" height="15.9" fill="#22387d"/>
<rect x="648.7" y="1189.5" width="15.3" height="15.9" fill="#1e397b"/>
<rect x="663.6" y="1189.5" width="15.3" height="15.9" fill="#1a397a"/>
<rect x="678.4" y="1189.5" width="15.3" height="15.9" fill="#1c397a"/>
<rect x="693.3" y="1189.5" width="15.3" height="15.9" fill="#20397c"/>
<rect x="708.2" y="1189.5" width="15.3" height="15.9" fill="#1f397c"/>
<rect x="723.0" y="1189.5" width="15.3" height="15.9" fill="#23387d"/>
<rect x="737.9" y="1189.5" width="15.3" height="15.9" fill="#2a3880"/>
<rect x="752.7" y="1189.5" width="15.3" height="15.9" fill="#27387f"/>
<rect x="767.6" y="1189.5" width="30.1" height="15.9" fill="#2e3782"/>
<rect x="797.3" y="1189.5" width="15.3" height="15.9" fill="#323784"/>
<rect x="812.1" y="1189.5" width="15.3" height="15.9" fill="#403689"/>
<rect x="827.0" y="1189.5" width="15.3" height="15.9" fill="#43368b"/>
<rect x="841.8" y="1189.5" width="15.3" height="15.9" fill="#45368b"/>
<rect x="856.7" y="1189.5" width="15.3" height="15.9" fill="#4c358e"/>
<rect x="871.5" y="1189.5" width="15.3" height="15.9" fill="#503590"/>
<rect x="886.4" y="1189.5" width="15.3" height="15.9" fill="#4a358e"/>
<rect x="901.3" y="1189.5" width="15.3" height="15.9" fill="#49358d"/>
<rect x="916.1" y="1189.5" width="15.3" height="15.9" fill="#4b358e"/>
<rect x="931.0" y="1189.5" width="15.3" height="15.9" fill="#4c358e"/>
<rect x="945.8" y="1189.5" width="15.3" height="15.9" fill="#4b358e"/>
<rect x="960.7" y="1189.5" width="15.3" height="15.9" fill="#4d358f"/>
<rect x="975.5" y="1189.5" width="15.3" height="15.9" fill="#4e358f"/>
<rect x="990.4" y="1189.5" width="15.3" height="15.9" fill="#503590"/>
<rect x="1005.2" y="1189.5" width="15.3" height="15.9" fill="#523591"/>
<rect x="1020.1" y="1189.5" width="15.3" height="15.9" fill="#4c358e"/>
<rect x="1034.9" y="1189.5" width="15.3" height="15.9" fill="#533491"/>
<rect x="1049.8" y="1189.5" width="15.3" height="15.9" fill="#4e358f"/>
<rect x="1064.7" y="1189.5" width="15.3" height="15.9" fill="#48358d"/>
<rect x="1079.5" y="1189.5" width="30.1" height="15.9" fill="#49358d"/>
<rect x="1109.2" y="1189.5" width="15.3" height="15.9" fill="#4e358f"/>
<rect x="1124.1" y="1189.5" width="30.1" height="15.9" fill="#4b358e"/>
<rect x="1153.8" y="1189.5" width="15.3" height="15.9" fill="#48358d"/>
<rect x="1198.3" y="1189.5" width="15.3" height="15.9" fill="#4e358f"/>
<rect x="1213.2" y="1189.5" width="15.3" height="15.9" fill="#4a358e"/>
<rect x="1228.0" y="1189.5" width="15.3" height="15.9" fill="#47358c"/>
<rect x="1242.9" y="1189.5" width="15.3" height="15.9" fill="#513591"/>
<rect x="1257.8" y="1189.5" width="15.3" height="15.9" fill="#4a358d"/>
<rect x="1272.6" y="1189.5" width="15.3" height="15.9" fill="#47358c"/>
<rect x="1287.5" y="1189.5" width="15.3" height="15.9" fill="#4a358e"/>
<rect x="1302.3" y="1189.5" width="15.3" height="15.9" fill="#46358c"/>
<rect x="1317.2" y="1189.5" width="15.3" height="15.9" fill="#3d3688"/>
<rect x="1332.0" y="1189.5" width="15.3" height="15.9" fill="#47358c"/>
<rect x="1346.9" y="1189.5" width="15.3" height="15.9" fill="#3c3688"/>
<rect x="1361.7" y="1189.5" width="15.3" height="15.9" fill="#3f3689"/>
<rect x="1376.6" y="1189.5" width="15.3" height="15.9" fill="#333784"/>
<rect x="1391.4" y="1189.5" width="15.3" height="15.9" fill="#2f3782"/>
<rect x="1406.3" y="1189.5" width="15.3" height="15.9" fill="#343784"/>
<rect x="1421.1" y="1189.5" width="15.3" height="15.9" fill="#393787"/>
<rect x="1436.0" y="1189.5" width="30.1" height="15.9" fill="#333784"/>
<rect x="1465.7" y="1189.5" width="15.3" height="15.9" fill="#323784"/>
<rect x="1480.6" y="1189.5" width="15.3" height="15.9" fill="#373786"/>
<rect x="1495.4" y="1189.5" width="15.3" height="15.9" fill="#383786"/>
<rect x="1510.3" y="1189.5" width="15.3" height="15.9" fill="#393786"/>
<rect x="1525.1" y="1189.5" width="15.3" height="15.9" fill="#3f3689"/>
<rect x="1540.0" y="1189.5" width="15.3" height="15.9" fill="#42368a"/>
<rect x="1569.7" y="1189.5" width="15.3" height="15.9" fill="#3b3687"/>
<rect x="589.3" y="1205.0" width="15.3" height="15.9" fill="#183979"/>
<rect x="619.0" y="1205.0" width="15.3" height="15.9" fill="#143977"/>
<rect x="633.9" y="1205.0" width="15.3" height="15.9" fill="#193979"/>
<rect x="648.7" y="1205.0" width="15.3" height="15.9" fill="#153978"/>
<rect x="663.6" y="1205.0" width="15.3" height="15.9" fill="#1f397c"/>
<rect x="678.4" y="1205.0" width="15.3" height="15.9" fill="#133977"/>
<rect x="693.3" y="1205.0" width="15.3" height="15.9" fill="#1d397b"/>
<rect x="708.2" y="1205.0" width="15.3" height="15.9" fill="#23387d"/>
<rect x="723.0" y="1205.0" width="15.3" height="15.9" fill="#22387d"/>
<rect x="737.9" y="1205.0" width="15.3" height="15.9" fill="#23387d"/>
<rect x="752.7" y="1205.0" width="15.3" height="15.9" fill="#2b3881"/>
<rect x="767.6" y="1205.0" width="15.3" height="15.9" fill="#293880"/>
<rect x="782.4" y="1205.0" width="15.3" height="15.9" fill="#2e3782"/>
<rect x="797.3" y="1205.0" width="15.3" height="15.9" fill="#303783"/>
<rect x="812.1" y="1205.0" width="15.3" height="15.9" fill="#3c3688"/>
<rect x="827.0" y="1205.0" width="15.3" height="15.9" fill="#44368b"/>
<rect x="841.8" y="1205.0" width="15.3" height="15.9" fill="#4a358d"/>
<rect x="856.7" y="1205.0" width="15.3" height="15.9" fill="#46368c"/>
<rect x="871.5" y="1205.0" width="15.3" height="15.9" fill="#45368b"/>
<rect x="886.4" y="1205.0" width="15.3" height="15.9" fill="#4c358e"/>
<rect x="901.3" y="1205.0" width="15.3" height="15.9" fill="#523591"/>
<rect x="916.1" y="1205.0" width="15.3" height="15.9" fill="#4a358d"/>
<rect x="931.0" y="1205.0" width="15.3" height="15.9" fill="#503590"/>
<rect x="945.8" y="1205.0" width="15.3" height="15.9" fill="#533491"/>
<rect x="960.7" y="1205.0" width="15.3" height="15.9" fill="#543492"/>
<rect x="975.5" y="1205.0" width="15.3" height="15.9" fill="#4b358e"/>
<rect x="990.4" y="1205.0" width="15.3" height="15.9" fill="#4a358e"/>
<rect x="1005.2" y="1205.0" width="15.3" height="15.9" fill="#4c358e"/>
<rect x="1020.1" y="1205.0" width="15.3" height="15.9" fill="#4e358f"/>
<rect x="1034.9" y="1205.0" width="15.3" height="15.9" fill="#4c358e"/>
<rect x="1049.8" y="1205.0" width="15.3" height="15.9" fill="#503590"/>
<rect x="1064.7" y="1205.0" width="15.3" height="15.9" fill="#44368b"/>
<rect x="1079.5" y="1205.0" width="15.3" height="15.9" fill="#4c358e"/>
<rect x="1094.4" y="1205.0" width="15.3" height="15.9" fill="#48358c"/>
<rect x="1109.2" y="1205.0" width="30.1" height="15.9" fill="#44368b"/>
<rect x="1138.9" y="1205.0" width="15.3" height="15.9" fill="#48358d"/>
<rect x="1153.8" y="1205.0" width="15.3" height="15.9" fill="#4b358e"/>
<rect x="1183.5" y="1205.0" width="15.3" height="15.9" fill="#49358d"/>
<rect x="1198.3" y="1205.0" width="15.3" height="15.9" fill="#503590"/>
<rect x="1213.2" y="1205.0" width="15.3" height="15.9" fill="#46358c"/>
<rect x="1228.0" y="1205.0" width="15.3" height="15.9" fill="#4e358f"/>
<rect x="1242.9" y="1205.0" width="15.3" height="15.9" fill="#46358c"/>
<rect x="1257.8" y="1205.0" width="15.3" height="15.9" fill="#4e358f"/>
<rect x="1272.6" y="1205.0" width="15.3" height="15.9" fill="#4a358e"/>
<rect x="1287.5" y="1205.0" width="15.3" height="15.9" fill="#4a358d"/>
<rect x="1302.3" y="1205.0" width="15.3" height="15.9" fill="#45368b"/>
<rect x="1317.2" y="1205.0" width="15.3" height="15.9" fill="#46368c"/>
<rect x="1332.0" y="1205.0" width="15.3" height="15.9" fill="#46358c"/>
<rect x="1346.9" y="1205.0" width="15.3" height="15.9" fill="#3a3687"/>
<rect x="1361.7" y="1205.0" width="15.3" height="15.9" fill="#3e3688"/>
<rect x="1376.6" y="1205.0" width="15.3" height="15.9" fill="#3c3688"/>
<rect x="1391.4" y="1205.0" width="15.3" height="15.9" fill="#3a3687"/>
<rect x="1406.3" y="1205.0" width="15.3" height="15.9" fill="#373785"/>
<rect x="1421.1" y="1205.0" width="15.3" height="15.9" fill="#373786"/>
<rect x="1436.0" y="1205.0" width="30.1" height="15.9" fill="#343784"/>
<rect x="1465.7" y="1205.0" width="15.3" height="15.9" fill="#393787"/>
<rect x="1480.6" y="1205.0" width="15.3" height="15.9" fill="#343784"/>
<rect x="1495.4" y="1205.0" width="15.3" height="15.9" fill="#383786"/>
<rect x="1510.3" y="1205.0" width="15.3" height="15.9" fill="#46358c"/>
<rect x="1525.1" y="1205.0" width="30.1" height="15.9" fill="#3e3688"/>
<rect x="1554.8" y="1205.0" width="15.3" height="15.9" fill="#40368a"/>
<rect x="1569.7" y="1205.0" width="15.3" height="15.9" fill="#4a358d"/>
<rect x="604.2" y="1220.6" width="15.3" height="15.9" fill="#0d3a74"/>
<rect x="619.0" y="1220.6" width="15.3" height="15.9" fill="#113a76"/>
<rect x="633.9" y="1220.6" width="15.3" height="15.9" fill="#1a397a"/>
<rect x="648.7" y="1220.6" width="15.3" height="15.9" fill="#1b397a"/>
<rect x="663.6" y="1220.6" width="15.3" height="15.9" fill="#0e3a75"/>
<rect x="678.4" y="1220.6" width="15.3" height="15.9" fill="#143977"/>
<rect x="693.3" y="1220.6" width="15.3" height="15.9" fill="#1b397a"/>
<rect x="708.2" y="1220.6" width="15.3" height="15.9" fill="#1f397c"/>
<rect x="723.0" y="1220.6" width="15.3" height="15.9" fill="#21387d"/>
<rect x="737.9" y="1220.6" width="15.3" height="15.9" fill="#23387d"/>
<rect x="752.7" y="1220.6" width="15.3" height="15.9" fill="#1f397c"/>
<rect x="767.6" y="1220.6" width="15.3" height="15.9" fill="#283880"/>
<rect x="782.4" y="1220.6" width="15.3" height="15.9" fill="#2f3782"/>
<rect x="797.3" y="1220.6" width="15.3" height="15.9" fill="#293880"/>
<rect x="812.1" y="1220.6" width="15.3" height="15.9" fill="#313783"/>
<rect x="827.0" y="1220.6" width="15.3" height="15.9" fill="#41368a"/>
<rect x="841.8" y="1220.6" width="15.3" height="15.9" fill="#3d3688"/>
<rect x="856.7" y="1220.6" width="15.3" height="15.9" fill="#45368b"/>
<rect x="871.5" y="1220.6" width="15.3" height="15.9" fill="#46368c"/>
<rect x="886.4" y="1220.6" width="15.3" height="15.9" fill="#49358d"/>
<rect x="901.3" y="1220.6" width="15.3" height="15.9" fill="#47358c"/>
<rect x="916.1" y="1220.6" width="30.1" height="15.9" fill="#49358d"/>
<rect x="945.8" y="1220.6" width="15.3" height="15.9" fill="#523591"/>
<rect x="960.7" y="1220.6" width="15.3" height="15.9" fill="#4b358e"/>
<rect x="975.5" y="1220.6" width="15.3" height="15.9" fill="#4d358f"/>
<rect x="990.4" y="1220.6" width="15.3" height="15.9" fill="#4a358e"/>
<rect x="1005.2" y="1220.6" width="15.3" height="15.9" fill="#4e358f"/>
<rect x="1020.1" y="1220.6" width="15.3" height="15.9" fill="#47358c"/>
<rect x="1034.9" y="1220.6" width="15.3" height="15.9" fill="#4b358e"/>
<rect x="1049.8" y="1220.6" width="15.3" height="15.9" fill="#4e358f"/>
<rect x="1064.7" y="1220.6" width="15.3" height="15.9" fill="#4d358f"/>
<rect x="1079.5" y="1220.6" width="15.3" height="15.9" fill="#4e358f"/>
<rect x="1094.4" y="1220.6" width="15.3" height="15.9" fill="#48358d"/>
<rect x="1109.2" y="1220.6" width="15.3" height="15.9" fill="#4d358f"/>
<rect x="1124.1" y="1220.6" width="15.3" height="15.9" fill="#47358c"/>
<rect x="1138.9" y="1220.6" width="15.3" height="15.9" fill="#4b358e"/>
<rect x="1153.8" y="1220.6" width="15.3" height="15.9" fill="#46368c"/>
<rect x="1168.6" y="1220.6" width="15.3" height="15.9" fill="#46358c"/>
<rect x="1183.5" y="1220.6" width="15.3" height="15.9" fill="#47358c"/>
<rect x="1198.3" y="1220.6" width="15.3" height="15.9" fill="#43368b"/>
<rect x="1213.2" y="1220.6" width="15.3" height="15.9" fill="#503590"/>
<rect x="1228.0" y="1220.6" width="15.3" height="15.9" fill="#45368b"/>
<rect x="1242.9" y="1220.6" width="15.3" height="15.9" fill="#4a358d"/>
<rect x="1257.8" y="1220.6" width="15.3" height="15.9" fill="#47358c"/>
<rect x="1272.6" y="1220.6" width="15.3" height="15.9" fill="#44368b"/>
<rect x="1287.5" y="1220.6" width="15.3" height="15.9" fill="#3f3689"/>
<rect x="1302.3" y="1220.6" width="15.3" height="15.9" fill="#43368b"/>
<rect x="1317.2" y="1220.6" width="15.3" height="15.9" fill="#41368a"/>
<rect x="1332.0" y="1220.6" width="15.3" height="15.9" fill="#373786"/>
<rect x="1346.9" y="1220.6" width="15.3" height="15.9" fill="#43368a"/>
<rect x="1361.7" y="1220.6" width="15.3" height="15.9" fill="#393786"/>
<rect x="1376.6" y="1220.6" width="15.3" height="15.9" fill="#383786"/>
<rect x="1391.4" y="1220.6" width="15.3" height="15.9" fill="#3f3689"/>
<rect x="1406.3" y="1220.6" width="15.3" height="15.9" fill="#363785"/>
<rect x="1421.1" y="1220.6" width="15.3" height="15.9" fill="#353785"/>
<rect x="1436.0" y="1220.6" width="15.3" height="15.9" fill="#313783"/>
<rect x="1450.9" y="1220.6" width="15.3" height="15.9" fill="#3a3687"/>
<rect x="1465.7" y="1220.6" width="15.3" height="15.9" fill="#323784"/>
<rect x="1480.6" y="1220.6" width="15.3" height="15.9" fill="#3b3687"/>
<rect x="1495.4" y="1220.6" width="15.3" height="15.9" fill="#3e3689"/>
<rect x="1510.3" y="1220.6" width="15.3" height="15.9" fill="#3b3687"/>
<rect x="1525.1" y="1220.6" width="15.3" height="15.9" fill="#4a358d"/>
<rect x="1540.0" y="1220.6" width="15.3" height="15.9" fill="#41368a"/>
<rect x="1554.8" y="1220.6" width="15.3" height="15.9" fill="#44368b"/>
<rect x="1569.7" y="1220.6" width="15.3" height="15.9" fill="#48358d"/>
<rect x="1584.5" y="1220.6" width="15.3" height="15.9" fill="#41368a"/>
<rect x="1599.4" y="1220.6" width="15.3" height="15.9" fill="#49358d"/>
<rect x="604.2" y="1236.1" width="30.1" height="15.9" fill="#0e3a75"/>
<rect x="633.9" y="1236.1" width="15.3" height="15.9" fill="#0b3a74"/>
<rect x="648.7" y="1236.1" width="15.3" height="15.9" fill="#143977"/>
<rect x="663.6" y="1236.1" width="15.3" height="15.9" fill="#123a76"/>
<rect x="678.4" y="1236.1" width="30.1" height="15.9" fill="#133977"/>
<rect x="708.2" y="1236.1" width="15.3" height="15.9" fill="#123a76"/>
<rect x="723.0" y="1236.1" width="15.3" height="15.9" fill="#1d397b"/>
<rect x="737.9" y="1236.1" width="15.3" height="15.9" fill="#193979"/>
<rect x="752.7" y="1236.1" width="15.3" height="15.9" fill="#23387d"/>
<rect x="767.6" y="1236.1" width="15.3" height="15.9" fill="#24387e"/>
<rect x="782.4" y="1236.1" width="15.3" height="15.9" fill="#2b3881"/>
<rect x="797.3" y="1236.1" width="15.3" height="15.9" fill="#2c3881"/>
<rect x="812.1" y="1236.1" width="15.3" height="15.9" fill="#2b3881"/>
<rect x="827.0" y="1236.1" width="15.3" height="15.9" fill="#363785"/>
<rect x="841.8" y="1236.1" width="15.3" height="15.9" fill="#3b3687"/>
<rect x="856.7" y="1236.1" width="15.3" height="15.9" fill="#46358c"/>
<rect x="871.5" y="1236.1" width="15.3" height="15.9" fill="#4a358d"/>
<rect x="886.4" y="1236.1" width="15.3" height="15.9" fill="#4c358e"/>
<rect x="901.3" y="1236.1" width="30.1" height="15.9" fill="#49358d"/>
<rect x="931.0" y="1236.1" width="15.3" height="15.9" fill="#48358d"/>
<rect x="945.8" y="1236.1" width="15.3" height="15.9" fill="#533591"/>
<rect x="960.7" y="1236.1" width="15.3" height="15.9" fill="#49358d"/>
<rect x="975.5" y="1236.1" width="15.3" height="15.9" fill="#47358c"/>
<rect x="990.4" y="1236.1" width="15.3" height="15.9" fill="#4c358e"/>
<rect x="1005.2" y="1236.1" width="15.3" height="15.9" fill="#523591"/>
<rect x="1020.1" y="1236.1" width="15.3" height="15.9" fill="#4e358f"/>
<rect x="1034.9" y="1236.1" width="15.3" height="15.9" fill="#513590"/>
<rect x="1049.8" y="1236.1" width="15.3" height="15.9" fill="#4d358f"/>
<rect x="1064.7" y="1236.1" width="15.3" height="15.9" fill="#42368a"/>
<rect x="1079.5" y="1236.1" width="15.3" height="15.9" fill="#45368c"/>
<rect x="1094.4" y="1236.1" width="15.3" height="15.9" fill="#44368b"/>
<rect x="1109.2" y="1236.1" width="15.3" height="15.9" fill="#41368a"/>
<rect x="1124.1" y="1236.1" width="15.3" height="15.9" fill="#3f3689"/>
<rect x="1138.9" y="1236.1" width="59.8" height="15.9" fill="#42368a"/>
<rect x="1198.3" y="1236.1" width="15.3" height="15.9" fill="#45368b"/>
<rect x="1213.2" y="1236.1" width="15.3" height="15.9" fill="#44368b"/>
<rect x="1228.0" y="1236.1" width="15.3" height="15.9" fill="#4c358e"/>
<rect x="1242.9" y="1236.1" width="15.3" height="15.9" fill="#45368b"/>
<rect x="1257.8" y="1236.1" width="15.3" height="15.9" fill="#46358c"/>
<rect x="1272.6" y="1236.1" width="15.3" height="15.9" fill="#403689"/>
<rect x="1287.5" y="1236.1" width="15.3" height="15.9" fill="#47358c"/>
<rect x="1302.3" y="1236.1" width="15.3" height="15.9" fill="#44368b"/>
<rect x="1317.2" y="1236.1" width="15.3" height="15.9" fill="#45368b"/>
<rect x="1332.0" y="1236.1" width="15.3" height="15.9" fill="#393687"/>
<rect x="1346.9" y="1236.1" width="15.3" height="15.9" fill="#363785"/>
<rect x="1361.7" y="1236.1" width="15.3" height="15.9" fill="#393786"/>
<rect x="1376.6" y="1236.1" width="15.3" height="15.9" fill="#3c3688"/>
<rect x="1391.4" y="1236.1" width="30.1" height="15.9" fill="#353785"/>
<rect x="1421.1" y="1236.1" width="15.3" height="15.9" fill="#383786"/>
<rect x="1436.0" y="1236.1" width="30.1" height="15.9" fill="#3c3688"/>
<rect x="1465.7" y="1236.1" width="15.3" height="15.9" fill="#3b3687"/>
<rect x="1480.6" y="1236.1" width="15.3" height="15.9" fill="#3e3688"/>
<rect x="1495.4" y="1236.1" width="15.3" height="15.9" fill="#3f3689"/>
<rect x="1510.3" y="1236.1" width="15.3" height="15.9" fill="#3e3689"/>
<rect x="1525.1" y="1236.1" width="15.3" height="15.9" fill="#3c3688"/>
<rect x="1540.0" y="1236.1" width="15.3" height="15.9" fill="#4a358e"/>
<rect x="1554.8" y="1236.1" width="15.3" height="15.9" fill="#44368b"/>
<rect x="1569.7" y="1236.1" width="15.3" height="15.9" fill="#4d358f"/>
<rect x="1584.5" y="1236.1" width="15.3" height="15.9" fill="#4c358e"/>
<rect x="1599.4" y="1236.1" width="15.3" height="15.9" fill="#43368b"/>
<rect x="1614.2" y="1236.1" width="15.3" height="15.9" fill="#47358c"/>
<rect x="633.9" y="1251.6" width="15.3" height="15.9" fill="#063b71"/>
<rect x="648.7" y="1251.6" width="15.3" height="15.9" fill="#0d3a74"/>
<rect x="663.6" y="1251.6" width="15.3" height="15.9" fill="#143977"/>
<rect x="678.4" y="1251.6" width="30.1" height="15.9" fill="#103a76"/>
<rect x="708.2" y="1251.6" width="15.3" height="15.9" fill="#0e3a75"/>
<rect x="723.0" y="1251.6" width="15.3" height="15.9" fill="#123a76"/>
<rect x="737.9" y="1251.6" width="15.3" height="15.9" fill="#1d397b"/>
<rect x="752.7" y="1251.6" width="15.3" height="15.9" fill="#21387d"/>
<rect x="767.6" y="1251.6" width="15.3" height="15.9" fill="#293880"/>
<rect x="782.4" y="1251.6" width="15.3" height="15.9" fill="#24387e"/>
<rect x="797.3" y="1251.6" width="15.3" height="15.9" fill="#2e3782"/>
<rect x="812.1" y="1251.6" width="15.3" height="15.9" fill="#343784"/>
<rect x="827.0" y="1251.6" width="15.3" height="15.9" fill="#3c3688"/>
<rect x="841.8" y="1251.6" width="15.3" height="15.9" fill="#42368a"/>
<rect x="856.7" y="1251.6" width="15.3" height="15.9" fill="#3d3688"/>
<rect x="871.5" y="1251.6" width="15.3" height="15.9" fill="#49358d"/>
<rect x="886.4" y="1251.6" width="15.3" height="15.9" fill="#3f3689"/>
<rect x="901.3" y="1251.6" width="15.3" height="15.9" fill="#4d358f"/>
<rect x="916.1" y="1251.6" width="15.3" height="15.9" fill="#43368a"/>
<rect x="931.0" y="1251.6" width="15.3" height="15.9" fill="#4e358f"/>
<rect x="945.8" y="1251.6" width="15.3" height="15.9" fill="#513590"/>
<rect x="960.7" y="1251.6" width="15.3" height="15.9" fill="#47358c"/>
<rect x="975.5" y="1251.6" width="15.3" height="15.9" fill="#4e358f"/>
<rect x="990.4" y="1251.6" width="15.3" height="15.9" fill="#47358c"/>
<rect x="1005.2" y="1251.6" width="15.3" height="15.9" fill="#4f358f"/>
<rect x="1020.1" y="1251.6" width="15.3" height="15.9" fill="#503590"/>
<rect x="1034.9" y="1251.6" width="30.1" height="15.9" fill="#44368b"/>
<rect x="1064.7" y="1251.6" width="15.3" height="15.9" fill="#41368a"/>
<rect x="1079.5" y="1251.6" width="15.3" height="15.9" fill="#42368a"/>
<rect x="1094.4" y="1251.6" width="15.3" height="15.9" fill="#4a358d"/>
<rect x="1109.2" y="1251.6" width="15.3" height="15.9" fill="#42368a"/>
<rect x="1124.1" y="1251.6" width="15.3" height="15.9" fill="#403689"/>
<rect x="1138.9" y="1251.6" width="15.3" height="15.9" fill="#43368b"/>
<rect x="1153.8" y="1251.6" width="15.3" height="15.9" fill="#3c3688"/>
<rect x="1168.6" y="1251.6" width="15.3" height="15.9" fill="#46368c"/>
<rect x="1183.5" y="1251.6" width="15.3" height="15.9" fill="#3c3688"/>
<rect x="1198.3" y="1251.6" width="15.3" height="15.9" fill="#41368a"/>
<rect x="1213.2" y="1251.6" width="30.1" height="15.9" fill="#4c358e"/>
<rect x="1242.9" y="1251.6" width="15.3" height="15.9" fill="#43368a"/>
<rect x="1272.6" y="1251.6" width="15.3" height="15.9" fill="#3d3688"/>
<rect x="1287.5" y="1251.6" width="15.3" height="15.9" fill="#46368c"/>
<rect x="1302.3" y="1251.6" width="15.3" height="15.9" fill="#41368a"/>
<rect x="1317.2" y="1251.6" width="15.3" height="15.9" fill="#3a3687"/>
<rect x="1332.0" y="1251.6" width="15.3" height="15.9" fill="#42368a"/>
<rect x="1346.9" y="1251.6" width="15.3" height="15.9" fill="#373786"/>
<rect x="1361.7" y="1251.6" width="15.3" height="15.9" fill="#3b3687"/>
<rect x="1376.6" y="1251.6" width="15.3" height="15.9" fill="#41368a"/>
<rect x="1391.4" y="1251.6" width="15.3" height="15.9" fill="#3c3688"/>
<rect x="1406.3" y="1251.6" width="15.3" height="15.9" fill="#383786"/>
<rect x="1421.1" y="1251.6" width="15.3" height="15.9" fill="#3a3687"/>
<rect x="1436.0" y="1251.6" width="15.3" height="15.9" fill="#363785"/>
<rect x="1450.9" y="1251.6" width="15.3" height="15.9" fill="#3e3689"/>
<rect x="1465.7" y="1251.6" width="15.3" height="15.9" fill="#353785"/>
<rect x="1480.6" y="1251.6" width="15.3" height="15.9" fill="#3d3688"/>
<rect x="1495.4" y="1251.6" width="15.3" height="15.9" fill="#3a3687"/>
<rect x="1510.3" y="1251.6" width="15.3" height="15.9" fill="#3d3688"/>
<rect x="1525.1" y="1251.6" width="15.3" height="15.9" fill="#42368a"/>
<rect x="1540.0" y="1251.6" width="15.3" height="15.9" fill="#44368b"/>
<rect x="1554.8" y="1251.6" width="15.3" height="15.9" fill="#403689"/>
<rect x="1569.7" y="1251.6" width="15.3" height="15.9" fill="#3f3689"/>
<rect x="1584.5" y="1251.6" width="15.3" height="15.9" fill="#42368a"/>
<rect x="1599.4" y="1251.6" width="15.3" height="15.9" fill="#46358c"/>
<rect x="1614.2" y="1251.6" width="15.3" height="15.9" fill="#4b358e"/>
<rect x="1629.1" y="1251.6" width="15.3" height="15.9" fill="#4f358f"/>
<rect x="604.2" y="1267.1" width="15.3" height="15.9" fill="#023b70"/>
<rect x="633.9" y="1267.1" width="15.3" height="15.9" fill="#063b71"/>
<rect x="648.7" y="1267.1" width="15.3" height="15.9" fill="#053b71"/>
<rect x="663.6" y="1267.1" width="15.3" height="15.9" fill="#0d3a74"/>
<rect x="678.4" y="1267.1" width="15.3" height="15.9" fill="#0b3a73"/>
<rect x="693.3" y="1267.1" width="15.3" height="15.9" fill="#083a72"/>
<rect x="708.2" y="1267.1" width="15.3" height="15.9" fill="#0e3a75"/>
<rect x="723.0" y="1267.1" width="15.3" height="15.9" fill="#163978"/>
<rect x="737.9" y="1267.1" width="15.3" height="15.9" fill="#1e397b"/>
<rect x="752.7" y="1267.1" width="15.3" height="15.9" fill="#20397c"/>
<rect x="767.6" y="1267.1" width="15.3" height="15.9" fill="#1c397a"/>
<rect x="782.4" y="1267.1" width="15.3" height="15.9" fill="#26387e"/>
<rect x="797.3" y="1267.1" width="15.3" height="15.9" fill="#24387e"/>
<rect x="812.1" y="1267.1" width="15.3" height="15.9" fill="#2a3880"/>
<rect x="827.0" y="1267.1" width="15.3" height="15.9" fill="#2b3881"/>
<rect x="841.8" y="1267.1" width="15.3" height="15.9" fill="#323783"/>
<rect x="856.7" y="1267.1" width="15.3" height="15.9" fill="#3e3689"/>
<rect x="871.5" y="1267.1" width="15.3" height="15.9" fill="#46368c"/>
<rect x="886.4" y="1267.1" width="15.3" height="15.9" fill="#44368b"/>
<rect x="901.3" y="1267.1" width="15.3" height="15.9" fill="#43368b"/>
<rect x="916.1" y="1267.1" width="15.3" height="15.9" fill="#42368a"/>
<rect x="931.0" y="1267.1" width="30.1" height="15.9" fill="#403689"/>
<rect x="960.7" y="1267.1" width="15.3" height="15.9" fill="#4d358f"/>
<rect x="975.5" y="1267.1" width="15.3" height="15.9" fill="#43368b"/>
<rect x="990.4" y="1267.1" width="15.3" height="15.9" fill="#44368b"/>
<rect x="1005.2" y="1267.1" width="15.3" height="15.9" fill="#43368a"/>
<rect x="1020.1" y="1267.1" width="15.3" height="15.9" fill="#46358c"/>
<rect x="1034.9" y="1267.1" width="15.3" height="15.9" fill="#4a358d"/>
<rect x="1049.8" y="1267.1" width="30.1" height="15.9" fill="#403689"/>
<rect x="1079.5" y="1267.1" width="15.3" height="15.9" fill="#40368a"/>
<rect x="1094.4" y="1267.1" width="15.3" height="15.9" fill="#3d3688"/>
<rect x="1109.2" y="1267.1" width="15.3" height="15.9" fill="#44368b"/>
<rect x="1124.1" y="1267.1" width="15.3" height="15.9" fill="#47358c"/>
<rect x="1138.9" y="1267.1" width="15.3" height="15.9" fill="#403689"/>
<rect x="1153.8" y="1267.1" width="15.3" height="15.9" fill="#3d3688"/>
<rect x="1168.6" y="1267.1" width="15.3" height="15.9" fill="#45368c"/>
<rect x="1183.5" y="1267.1" width="15.3" height="15.9" fill="#3e3688"/>
<rect x="1198.3" y="1267.1" width="15.3" height="15.9" fill="#3c3688"/>
<rect x="1213.2" y="1267.1" width="15.3" height="15.9" fill="#46358c"/>
<rect x="1228.0" y="1267.1" width="15.3" height="15.9" fill="#41368a"/>
<rect x="1242.9" y="1267.1" width="15.3" height="15.9" fill="#403689"/>
<rect x="1257.8" y="1267.1" width="15.3" height="15.9" fill="#42368a"/>
<rect x="1272.6" y="1267.1" width="15.3" height="15.9" fill="#44368b"/>
<rect x="1287.5" y="1267.1" width="15.3" height="15.9" fill="#42368a"/>
<rect x="1302.3" y="1267.1" width="15.3" height="15.9" fill="#3a3687"/>
<rect x="1317.2" y="1267.1" width="15.3" height="15.9" fill="#393786"/>
<rect x="1332.0" y="1267.1" width="15.3" height="15.9" fill="#3d3688"/>
<rect x="1346.9" y="1267.1" width="15.3" height="15.9" fill="#42368a"/>
<rect x="1361.7" y="1267.1" width="15.3" height="15.9" fill="#373786"/>
<rect x="1376.6" y="1267.1" width="15.3" height="15.9" fill="#373785"/>
<rect x="1391.4" y="1267.1" width="15.3" height="15.9" fill="#3e3688"/>
<rect x="1406.3" y="1267.1" width="15.3" height="15.9" fill="#383786"/>
<rect x="1421.1" y="1267.1" width="30.1" height="15.9" fill="#333784"/>
<rect x="1450.9" y="1267.1" width="15.3" height="15.9" fill="#393786"/>
<rect x="1465.7" y="1267.1" width="15.3" height="15.9" fill="#393687"/>
<rect x="1480.6" y="1267.1" width="15.3" height="15.9" fill="#393786"/>
<rect x="1495.4" y="1267.1" width="15.3" height="15.9" fill="#403689"/>
<rect x="1510.3" y="1267.1" width="15.3" height="15.9" fill="#41368a"/>
<rect x="1525.1" y="1267.1" width="15.3" height="15.9" fill="#43368b"/>
<rect x="1540.0" y="1267.1" width="15.3" height="15.9" fill="#3d3688"/>
<rect x="1554.8" y="1267.1" width="15.3" height="15.9" fill="#44368b"/>
<rect x="1569.7" y="1267.1" width="15.3" height="15.9" fill="#43368a"/>
<rect x="1584.5" y="1267.1" width="15.3" height="15.9" fill="#46358c"/>
<rect x="1599.4" y="1267.1" width="15.3" height="15.9" fill="#46368c"/>
<rect x="633.9" y="1282.6" width="15.3" height="15.9" fill="#0c3a74"/>
<rect x="648.7" y="1282.6" width="15.3" height="15.9" fill="#0e3a75"/>
<rect x="663.6" y="1282.6" width="15.3" height="15.9" fill="#013b6f"/>
<rect x="678.4" y="1282.6" width="15.3" height="15.9" fill="#0c3a74"/>
<rect x="693.3" y="1282.6" width="15.3" height="15.9" fill="#123a77"/>
<rect x="708.2" y="1282.6" width="15.3" height="15.9" fill="#0f3a75"/>
<rect x="723.0" y="1282.6" width="15.3" height="15.9" fill="#113a76"/>
<rect x="737.9" y="1282.6" width="15.3" height="15.9" fill="#1e397c"/>
<rect x="752.7" y="1282.6" width="15.3" height="15.9" fill="#1b397a"/>
<rect x="767.6" y="1282.6" width="15.3" height="15.9" fill="#21387d"/>
<rect x="782.4" y="1282.6" width="15.3" height="15.9" fill="#21387c"/>
<rect x="797.3" y="1282.6" width="15.3" height="15.9" fill="#2a3880"/>
<rect x="812.1" y="1282.6" width="15.3" height="15.9" fill="#2d3782"/>
<rect x="827.0" y="1282.6" width="15.3" height="15.9" fill="#24387e"/>
<rect x="841.8" y="1282.6" width="15.3" height="15.9" fill="#2b3881"/>
<rect x="856.7" y="1282.6" width="15.3" height="15.9" fill="#353785"/>
<rect x="871.5" y="1282.6" width="15.3" height="15.9" fill="#373785"/>
<rect x="886.4" y="1282.6" width="15.3" height="15.9" fill="#3d3688"/>
<rect x="901.3" y="1282.6" width="15.3" height="15.9" fill="#363785"/>
<rect x="916.1" y="1282.6" width="15.3" height="15.9" fill="#3c3688"/>
<rect x="931.0" y="1282.6" width="15.3" height="15.9" fill="#373786"/>
<rect x="945.8" y="1282.6" width="15.3" height="15.9" fill="#3c3688"/>
<rect x="960.7" y="1282.6" width="30.1" height="15.9" fill="#3d3688"/>
<rect x="990.4" y="1282.6" width="15.3" height="15.9" fill="#48358d"/>
<rect x="1005.2" y="1282.6" width="15.3" height="15.9" fill="#4b358e"/>
<rect x="1064.7" y="1282.6" width="15.3" height="15.9" fill="#46358c"/>
<rect x="1079.5" y="1282.6" width="15.3" height="15.9" fill="#46368c"/>
<rect x="1094.4" y="1282.6" width="30.1" height="15.9" fill="#47358c"/>
<rect x="1124.1" y="1282.6" width="15.3" height="15.9" fill="#3f3689"/>
<rect x="1138.9" y="1282.6" width="15.3" height="15.9" fill="#3b3687"/>
<rect x="1153.8" y="1282.6" width="15.3" height="15.9" fill="#403689"/>
<rect x="1168.6" y="1282.6" width="15.3" height="15.9" fill="#393787"/>
<rect x="1183.5" y="1282.6" width="15.3" height="15.9" fill="#3a3687"/>
<rect x="1198.3" y="1282.6" width="15.3" height="15.9" fill="#46358c"/>
<rect x="1213.2" y="1282.6" width="15.3" height="15.9" fill="#3f3689"/>
<rect x="1228.0" y="1282.6" width="15.3" height="15.9" fill="#42368a"/>
<rect x="1242.9" y="1282.6" width="15.3" height="15.9" fill="#46368c"/>
<rect x="1257.8" y="1282.6" width="15.3" height="15.9" fill="#393786"/>
<rect x="1272.6" y="1282.6" width="15.3" height="15.9" fill="#42368a"/>
<rect x="1287.5" y="1282.6" width="15.3" height="15.9" fill="#3d3688"/>
<rect x="1302.3" y="1282.6" width="15.3" height="15.9" fill="#3b3687"/>
<rect x="1317.2" y="1282.6" width="15.3" height="15.9" fill="#363785"/>
<rect x="1332.0" y="1282.6" width="15.3" height="15.9" fill="#3a3687"/>
<rect x="1346.9" y="1282.6" width="15.3" height="15.9" fill="#3d3688"/>
<rect x="1361.7" y="1282.6" width="15.3" height="15.9" fill="#3c3688"/>
<rect x="1376.6" y="1282.6" width="15.3" height="15.9" fill="#3f3689"/>
<rect x="1391.4" y="1282.6" width="15.3" height="15.9" fill="#333784"/>
<rect x="1406.3" y="1282.6" width="15.3" height="15.9" fill="#323784"/>
<rect x="1421.1" y="1282.6" width="15.3" height="15.9" fill="#3d3688"/>
<rect x="1436.0" y="1282.6" width="15.3" height="15.9" fill="#403689"/>
<rect x="1450.9" y="1282.6" width="15.3" height="15.9" fill="#3c3688"/>
<rect x="1465.7" y="1282.6" width="15.3" height="15.9" fill="#3b3687"/>
<rect x="1480.6" y="1282.6" width="15.3" height="15.9" fill="#333784"/>
<rect x="1495.4" y="1282.6" width="15.3" height="15.9" fill="#343784"/>
<rect x="1510.3" y="1282.6" width="15.3" height="15.9" fill="#363785"/>
<rect x="1525.1" y="1282.6" width="15.3" height="15.9" fill="#43368b"/>
<rect x="1540.0" y="1282.6" width="15.3" height="15.9" fill="#3a3687"/>
<rect x="1554.8" y="1282.6" width="15.3" height="15.9" fill="#3d3688"/>
<rect x="1569.7" y="1282.6" width="15.3" height="15.9" fill="#403689"/>
<rect x="663.6" y="1298.2" width="15.3" height="15.9" fill="#003b6f"/>
<rect x="678.4" y="1298.2" width="15.3" height="15.9" fill="#0f3a75"/>
<rect x="708.2" y="1298.2" width="15.3" height="15.9" fill="#143977"/>
<rect x="723.0" y="1298.2" width="15.3" height="15.9" fill="#103a75"/>
<rect x="737.9" y="1298.2" width="15.3" height="15.9" fill="#113a76"/>
<rect x="752.7" y="1298.2" width="15.3" height="15.9" fill="#173979"/>
<rect x="767.6" y="1298.2" width="15.3" height="15.9" fill="#1e397c"/>
<rect x="782.4" y="1298.2" width="15.3" height="15.9" fill="#1c397a"/>
<rect x="797.3" y="1298.2" width="15.3" height="15.9" fill="#1b397a"/>
<rect x="812.1" y="1298.2" width="30.1" height="15.9" fill="#27387f"/>
<rect x="841.8" y="1298.2" width="15.3" height="15.9" fill="#2c3881"/>
<rect x="856.7" y="1298.2" width="15.3" height="15.9" fill="#323783"/>
<rect x="871.5" y="1298.2" width="15.3" height="15.9" fill="#2f3782"/>
<rect x="886.4" y="1298.2" width="15.3" height="15.9" fill="#353785"/>
<rect x="901.3" y="1298.2" width="15.3" height="15.9" fill="#343784"/>
<rect x="916.1" y="1298.2" width="15.3" height="15.9" fill="#363785"/>
<rect x="931.0" y="1298.2" width="15.3" height="15.9" fill="#313783"/>
<rect x="945.8" y="1298.2" width="15.3" height="15.9" fill="#3e3688"/>
<rect x="960.7" y="1298.2" width="15.3" height="15.9" fill="#373786"/>
<rect x="975.5" y="1298.2" width="15.3" height="15.9" fill="#42368a"/>
<rect x="990.4" y="1298.2" width="15.3" height="15.9" fill="#46368c"/>
<rect x="1020.1" y="1298.2" width="15.3" height="15.9" fill="#3b3687"/>
<rect x="1034.9" y="1298.2" width="15.3" height="15.9" fill="#45368b"/>
<rect x="1049.8" y="1298.2" width="15.3" height="15.9" fill="#3a3687"/>
<rect x="1064.7" y="1298.2" width="15.3" height="15.9" fill="#3b3687"/>
<rect x="1079.5" y="1298.2" width="15.3" height="15.9" fill="#3a3687"/>
<rect x="1094.4" y="1298.2" width="15.3" height="15.9" fill="#44368b"/>
<rect x="1109.2" y="1298.2" width="15.3" height="15.9" fill="#403689"/>
<rect x="1124.1" y="1298.2" width="15.3" height="15.9" fill="#45368b"/>
<rect x="1138.9" y="1298.2" width="15.3" height="15.9" fill="#393786"/>
<rect x="1153.8" y="1298.2" width="15.3" height="15.9" fill="#3a3687"/>
<rect x="1168.6" y="1298.2" width="15.3" height="15.9" fill="#3d3688"/>
<rect x="1183.5" y="1298.2" width="15.3" height="15.9" fill="#3f3689"/>
<rect x="1198.3" y="1298.2" width="15.3" height="15.9" fill="#41368a"/>
<rect x="1213.2" y="1298.2" width="15.3" height="15.9" fill="#3a3687"/>
<rect x="1228.0" y="1298.2" width="15.3" height="15.9" fill="#3f3689"/>
<rect x="1242.9" y="1298.2" width="15.3" height="15.9" fill="#3d3688"/>
<rect x="1257.8" y="1298.2" width="15.3" height="15.9" fill="#43368b"/>
<rect x="1272.6" y="1298.2" width="15.3" height="15.9" fill="#42368a"/>
<rect x="1287.5" y="1298.2" width="15.3" height="15.9" fill="#43368b"/>
<rect x="1302.3" y="1298.2" width="15.3" height="15.9" fill="#393787"/>
<rect x="1317.2" y="1298.2" width="15.3" height="15.9" fill="#3b3687"/>
<rect x="1332.0" y="1298.2" width="15.3" height="15.9" fill="#40368a"/>
<rect x="1346.9" y="1298.2" width="15.3" height="15.9" fill="#363785"/>
<rect x="1361.7" y="1298.2" width="15.3" height="15.9" fill="#3e3688"/>
<rect x="1376.6" y="1298.2" width="15.3" height="15.9" fill="#3b3687"/>
<rect x="1391.4" y="1298.2" width="15.3" height="15.9" fill="#3f3689"/>
<rect x="1406.3" y="1298.2" width="15.3" height="15.9" fill="#3d3688"/>
<rect x="1421.1" y="1298.2" width="15.3" height="15.9" fill="#343785"/>
<rect x="1436.0" y="1298.2" width="15.3" height="15.9" fill="#3b3687"/>
<rect x="1450.9" y="1298.2" width="15.3" height="15.9" fill="#3d3688"/>
<rect x="1465.7" y="1298.2" width="15.3" height="15.9" fill="#383786"/>
<rect x="1480.6" y="1298.2" width="15.3" height="15.9" fill="#3b3687"/>
<rect x="1495.4" y="1298.2" width="15.3" height="15.9" fill="#333784"/>
<rect x="1510.3" y="1298.2" width="15.3" height="15.9" fill="#3f3689"/>
<rect x="1525.1" y="1298.2" width="15.3" height="15.9" fill="#343784"/>
<rect x="1540.0" y="1298.2" width="15.3" height="15.9" fill="#42368a"/>
<rect x="648.7" y="1313.7" width="15.3" height="15.9" fill="#003c6e"/>
<rect x="663.6" y="1313.7" width="15.3" height="15.9" fill="#033b70"/>
<rect x="678.4" y="1313.7" width="15.3" height="15.9" fill="#0b3a73"/>
<rect x="693.3" y="1313.7" width="15.3" height="15.9" fill="#093a73"/>
<rect x="708.2" y="1313.7" width="15.3" height="15.9" fill="#0f3a75"/>
<rect x="723.0" y="1313.7" width="15.3" height="15.9" fill="#143977"/>
<rect x="737.9" y="1313.7" width="30.1" height="15.9" fill="#183979"/>
<rect x="767.6" y="1313.7" width="15.3" height="15.9" fill="#103a76"/>
<rect x="782.4" y="1313.7" width="15.3" height="15.9" fill="#113a76"/>
<rect x="797.3" y="1313.7" width="15.3" height="15.9" fill="#133a77"/>
<rect x="812.1" y="1313.7" width="30.1" height="15.9" fill="#21387c"/>
<rect x="841.8" y="1313.7" width="15.3" height="15.9" fill="#1b397a"/>
<rect x="856.7" y="1313.7" width="15.3" height="15.9" fill="#2a3880"/>
<rect x="871.5" y="1313.7" width="15.3" height="15.9" fill="#21387d"/>
<rect x="886.4" y="1313.7" width="15.3" height="15.9" fill="#28387f"/>
<rect x="901.3" y="1313.7" width="15.3" height="15.9" fill="#1e397c"/>
<rect x="916.1" y="1313.7" width="15.3" height="15.9" fill="#2d3782"/>
<rect x="931.0" y="1313.7" width="15.3" height="15.9" fill="#25387e"/>
<rect x="945.8" y="1313.7" width="15.3" height="15.9" fill="#2f3783"/>
<rect x="960.7" y="1313.7" width="15.3" height="15.9" fill="#373786"/>
<rect x="1034.9" y="1313.7" width="15.3" height="15.9" fill="#44368b"/>
<rect x="1049.8" y="1313.7" width="15.3" height="15.9" fill="#383786"/>
<rect x="1064.7" y="1313.7" width="15.3" height="15.9" fill="#3d3688"/>
<rect x="1079.5" y="1313.7" width="15.3" height="15.9" fill="#42368a"/>
<rect x="1094.4" y="1313.7" width="15.3" height="15.9" fill="#3e3689"/>
<rect x="1109.2" y="1313.7" width="15.3" height="15.9" fill="#383786"/>
<rect x="1124.1" y="1313.7" width="15.3" height="15.9" fill="#41368a"/>
<rect x="1138.9" y="1313.7" width="15.3" height="15.9" fill="#3c3688"/>
<rect x="1153.8" y="1313.7" width="30.1" height="15.9" fill="#42368a"/>
<rect x="1183.5" y="1313.7" width="15.3" height="15.9" fill="#393687"/>
<rect x="1198.3" y="1313.7" width="15.3" height="15.9" fill="#3a3687"/>
<rect x="1213.2" y="1313.7" width="15.3" height="15.9" fill="#42368a"/>
<rect x="1228.0" y="1313.7" width="15.3" height="15.9" fill="#44368b"/>
<rect x="1242.9" y="1313.7" width="15.3" height="15.9" fill="#43368b"/>
<rect x="1257.8" y="1313.7" width="15.3" height="15.9" fill="#3c3688"/>
<rect x="1272.6" y="1313.7" width="15.3" height="15.9" fill="#3d3688"/>
<rect x="1287.5" y="1313.7" width="15.3" height="15.9" fill="#3f3689"/>
<rect x="1302.3" y="1313.7" width="15.3" height="15.9" fill="#403689"/>
<rect x="1317.2" y="1313.7" width="15.3" height="15.9" fill="#3a3687"/>
<rect x="1332.0" y="1313.7" width="15.3" height="15.9" fill="#383786"/>
<rect x="1346.9" y="1313.7" width="15.3" height="15.9" fill="#363785"/>
<rect x="1361.7" y="1313.7" width="15.3" height="15.9" fill="#393786"/>
<rect x="1376.6" y="1313.7" width="15.3" height="15.9" fill="#3e3689"/>
<rect x="1391.4" y="1313.7" width="15.3" height="15.9" fill="#403689"/>
<rect x="1406.3" y="1313.7" width="15.3" height="15.9" fill="#363785"/>
<rect x="1421.1" y="1313.7" width="15.3" height="15.9" fill="#3a3687"/>
<rect x="1436.0" y="1313.7" width="15.3" height="15.9" fill="#363785"/>
<rect x="1450.9" y="1313.7" width="15.3" height="15.9" fill="#3e3689"/>
<rect x="1465.7" y="1313.7" width="15.3" height="15.9" fill="#333784"/>
<rect x="574.5" y="1329.2" width="15.3" height="15.9" fill="#053b71"/>
<rect x="589.3" y="1329.2" width="30.1" height="15.9" fill="#013d6d"/>
<rect x="619.0" y="1329.2" width="15.3" height="15.9" fill="#033b70"/>
<rect x="633.9" y="1329.2" width="15.3" height="15.9" fill="#0a3a73"/>
<rect x="648.7" y="1329.2" width="15.3" height="15.9" fill="#013d6d"/>
<rect x="663.6" y="1329.2" width="15.3" height="15.9" fill="#043b71"/>
<rect x="678.4" y="1329.2" width="15.3" height="15.9" fill="#003b6f"/>
<rect x="693.3" y="1329.2" width="15.3" height="15.9" fill="#0a3a73"/>
<rect x="723.0" y="1329.2" width="15.3" height="15.9" fill="#123a76"/>
<rect x="752.7" y="1329.2" width="15.3" height="15.9" fill="#0d3a74"/>
<rect x="767.6" y="1329.2" width="15.3" height="15.9" fill="#143977"/>
<rect x="782.4" y="1329.2" width="15.3" height="15.9" fill="#173979"/>
<rect x="797.3" y="1329.2" width="15.3" height="15.9" fill="#153978"/>
<rect x="812.1" y="1329.2" width="15.3" height="15.9" fill="#133977"/>
<rect x="827.0" y="1329.2" width="15.3" height="15.9" fill="#1d397b"/>
<rect x="841.8" y="1329.2" width="15.3" height="15.9" fill="#183979"/>
<rect x="856.7" y="1329.2" width="15.3" height="15.9" fill="#1b397a"/>
<rect x="871.5" y="1329.2" width="15.3" height="15.9" fill="#1a397a"/>
<rect x="886.4" y="1329.2" width="15.3" height="15.9" fill="#20387c"/>
<rect x="901.3" y="1329.2" width="30.1" height="15.9" fill="#183979"/>
<rect x="931.0" y="1329.2" width="15.3" height="15.9" fill="#1a397a"/>
<rect x="990.4" y="1329.2" width="15.3" height="15.9" fill="#343785"/>
<rect x="1005.2" y="1329.2" width="15.3" height="15.9" fill="#323783"/>
<rect x="1020.1" y="1329.2" width="15.3" height="15.9" fill="#383786"/>
<rect x="1034.9" y="1329.2" width="15.3" height="15.9" fill="#353785"/>
<rect x="1049.8" y="1329.2" width="15.3" height="15.9" fill="#403689"/>
<rect x="1064.7" y="1329.2" width="30.1" height="15.9" fill="#353785"/>
<rect x="1094.4" y="1329.2" width="30.1" height="15.9" fill="#3c3688"/>
<rect x="1124.1" y="1329.2" width="30.1" height="15.9" fill="#3b3687"/>
<rect x="1153.8" y="1329.2" width="15.3" height="15.9" fill="#43368a"/>
<rect x="1168.6" y="1329.2" width="15.3" height="15.9" fill="#353785"/>
<rect x="1183.5" y="1329.2" width="15.3" height="15.9" fill="#403689"/>
<rect x="1198.3" y="1329.2" width="15.3" height="15.9" fill="#41368a"/>
<rect x="1213.2" y="1329.2" width="15.3" height="15.9" fill="#42368a"/>
<rect x="1228.0" y="1329.2" width="15.3" height="15.9" fill="#403689"/>
<rect x="1242.9" y="1329.2" width="15.3" height="15.9" fill="#383786"/>
<rect x="1257.8" y="1329.2" width="15.3" height="15.9" fill="#43368b"/>
<rect x="1272.6" y="1329.2" width="15.3" height="15.9" fill="#42368a"/>
<rect x="1287.5" y="1329.2" width="15.3" height="15.9" fill="#393786"/>
<rect x="1302.3" y="1329.2" width="15.3" height="15.9" fill="#3f3689"/>
<rect x="1317.2" y="1329.2" width="15.3" height="15.9" fill="#41368a"/>
<rect x="1332.0" y="1329.2" width="30.1" height="15.9" fill="#393786"/>
<rect x="1361.7" y="1329.2" width="15.3" height="15.9" fill="#393787"/>
<rect x="1376.6" y="1329.2" width="15.3" height="15.9" fill="#373785"/>
<rect x="1391.4" y="1329.2" width="15.3" height="15.9" fill="#3f3689"/>
<rect x="1406.3" y="1329.2" width="15.3" height="15.9" fill="#343784"/>
<rect x="1421.1" y="1329.2" width="15.3" height="15.9" fill="#363785"/>
<rect x="1436.0" y="1329.2" width="15.3" height="15.9" fill="#3f3689"/>
<rect x="574.5" y="1344.7" width="15.3" height="15.9" fill="#073a72"/>
<rect x="589.3" y="1344.7" width="30.1" height="15.9" fill="#023b70"/>
<rect x="619.0" y="1344.7" width="15.3" height="15.9" fill="#053b71"/>
<rect x="633.9" y="1344.7" width="15.3" height="15.9" fill="#083a72"/>
<rect x="663.6" y="1344.7" width="15.3" height="15.9" fill="#043b71"/>
<rect x="708.2" y="1344.7" width="15.3" height="15.9" fill="#0c3a74"/>
<rect x="737.9" y="1344.7" width="15.3" height="15.9" fill="#0a3a73"/>
<rect x="752.7" y="1344.7" width="15.3" height="15.9" fill="#073a72"/>
<rect x="767.6" y="1344.7" width="15.3" height="15.9" fill="#123a76"/>
<rect x="782.4" y="1344.7" width="15.3" height="15.9" fill="#0c3a74"/>
<rect x="797.3" y="1344.7" width="15.3" height="15.9" fill="#0a3a73"/>
<rect x="812.1" y="1344.7" width="15.3" height="15.9" fill="#133977"/>
<rect x="827.0" y="1344.7" width="15.3" height="15.9" fill="#0b3a74"/>
<rect x="841.8" y="1344.7" width="15.3" height="15.9" fill="#0b3a73"/>
<rect x="856.7" y="1344.7" width="30.1" height="15.9" fill="#133977"/>
<rect x="886.4" y="1344.7" width="15.3" height="15.9" fill="#0d3a74"/>
<rect x="901.3" y="1344.7" width="15.3" height="15.9" fill="#123a76"/>
<rect x="916.1" y="1344.7" width="15.3" height="15.9" fill="#163978"/>
<rect x="960.7" y="1344.7" width="15.3" height="15.9" fill="#1c397b"/>
<rect x="975.5" y="1344.7" width="15.3" height="15.9" fill="#24387e"/>
<rect x="990.4" y="1344.7" width="15.3" height="15.9" fill="#2e3782"/>
<rect x="1005.2" y="1344.7" width="15.3" height="15.9" fill="#323784"/>
<rect x="1020.1" y="1344.7" width="15.3" height="15.9" fill="#343784"/>
<rect x="1034.9" y="1344.7" width="15.3" height="15.9" fill="#343785"/>
<rect x="1049.8" y="1344.7" width="15.3" height="15.9" fill="#2f3782"/>
<rect x="1064.7" y="1344.7" width="15.3" height="15.9" fill="#333784"/>
<rect x="1079.5" y="1344.7" width="15.3" height="15.9" fill="#323784"/>
<rect x="1094.4" y="1344.7" width="30.1" height="15.9" fill="#353785"/>
<rect x="1124.1" y="1344.7" width="15.3" height="15.9" fill="#403689"/>
<rect x="1138.9" y="1344.7" width="15.3" height="15.9" fill="#3a3687"/>
<rect x="1153.8" y="1344.7" width="15.3" height="15.9" fill="#343784"/>
<rect x="1168.6" y="1344.7" width="15.3" height="15.9" fill="#343785"/>
<rect x="1183.5" y="1344.7" width="15.3" height="15.9" fill="#3e3689"/>
<rect x="1198.3" y="1344.7" width="15.3" height="15.9" fill="#3c3688"/>
<rect x="1213.2" y="1344.7" width="15.3" height="15.9" fill="#3a3687"/>
<rect x="1228.0" y="1344.7" width="15.3" height="15.9" fill="#3e3688"/>
<rect x="1242.9" y="1344.7" width="15.3" height="15.9" fill="#3b3687"/>
<rect x="1257.8" y="1344.7" width="15.3" height="15.9" fill="#42368a"/>
<rect x="1272.6" y="1344.7" width="15.3" height="15.9" fill="#3c3688"/>
<rect x="1287.5" y="1344.7" width="15.3" height="15.9" fill="#3a3687"/>
<rect x="1302.3" y="1344.7" width="15.3" height="15.9" fill="#41368a"/>
<rect x="1317.2" y="1344.7" width="15.3" height="15.9" fill="#3f3689"/>
<rect x="1332.0" y="1344.7" width="15.3" height="15.9" fill="#333784"/>
<rect x="1346.9" y="1344.7" width="15.3" height="15.9" fill="#353785"/>
<rect x="1361.7" y="1344.7" width="15.3" height="15.9" fill="#333784"/>
<rect x="1376.6" y="1344.7" width="15.3" height="15.9" fill="#373786"/>
<rect x="1421.1" y="1344.7" width="15.3" height="15.9" fill="#353785"/>
<rect x="1436.0" y="1344.7" width="15.3" height="15.9" fill="#333784"/>
<rect x="1450.9" y="1344.7" width="15.3" height="15.9" fill="#323784"/>
<rect x="782.4" y="1360.2" width="15.3" height="15.9" fill="#0f3a75"/>
<rect x="797.3" y="1360.2" width="15.3" height="15.9" fill="#073a72"/>
<rect x="812.1" y="1360.2" width="15.3" height="15.9" fill="#0d3a74"/>
<rect x="827.0" y="1360.2" width="15.3" height="15.9" fill="#083a72"/>
<rect x="841.8" y="1360.2" width="15.3" height="15.9" fill="#0e3a75"/>
<rect x="856.7" y="1360.2" width="15.3" height="15.9" fill="#0b3a73"/>
<rect x="871.5" y="1360.2" width="15.3" height="15.9" fill="#053b71"/>
<rect x="886.4" y="1360.2" width="15.3" height="15.9" fill="#0a3a73"/>
<rect x="901.3" y="1360.2" width="15.3" height="15.9" fill="#103a76"/>
<rect x="931.0" y="1360.2" width="15.3" height="15.9" fill="#133a77"/>
<rect x="945.8" y="1360.2" width="15.3" height="15.9" fill="#193979"/>
<rect x="960.7" y="1360.2" width="15.3" height="15.9" fill="#173979"/>
<rect x="975.5" y="1360.2" width="15.3" height="15.9" fill="#26387f"/>
<rect x="990.4" y="1360.2" width="15.3" height="15.9" fill="#293880"/>
<rect x="1005.2" y="1360.2" width="15.3" height="15.9" fill="#27387f"/>
<rect x="1020.1" y="1360.2" width="15.3" height="15.9" fill="#313783"/>
<rect x="1034.9" y="1360.2" width="15.3" height="15.9" fill="#2d3782"/>
<rect x="1049.8" y="1360.2" width="15.3" height="15.9" fill="#2a3880"/>
<rect x="1064.7" y="1360.2" width="15.3" height="15.9" fill="#333784"/>
<rect x="1079.5" y="1360.2" width="15.3" height="15.9" fill="#383786"/>
<rect x="1094.4" y="1360.2" width="30.1" height="15.9" fill="#363785"/>
<rect x="1124.1" y="1360.2" width="15.3" height="15.9" fill="#3c3688"/>
<rect x="1138.9" y="1360.2" width="30.1" height="15.9" fill="#3d3688"/>
<rect x="1168.6" y="1360.2" width="15.3" height="15.9" fill="#3c3688"/>
<rect x="1183.5" y="1360.2" width="15.3" height="15.9" fill="#3b3687"/>
<rect x="1198.3" y="1360.2" width="15.3" height="15.9" fill="#3d3688"/>
<rect x="1213.2" y="1360.2" width="15.3" height="15.9" fill="#3e3688"/>
<rect x="1228.0" y="1360.2" width="15.3" height="15.9" fill="#403689"/>
<rect x="1242.9" y="1360.2" width="15.3" height="15.9" fill="#3a3687"/>
<rect x="1257.8" y="1360.2" width="15.3" height="15.9" fill="#353785"/>
<rect x="1272.6" y="1360.2" width="30.1" height="15.9" fill="#383786"/>
<rect x="1302.3" y="1360.2" width="15.3" height="15.9" fill="#363785"/>
<rect x="1317.2" y="1360.2" width="15.3" height="15.9" fill="#3d3688"/>
<rect x="1332.0" y="1360.2" width="15.3" height="15.9" fill="#363785"/>
<rect x="1346.9" y="1360.2" width="15.3" height="15.9" fill="#393787"/>
<rect x="1361.7" y="1360.2" width="15.3" height="15.9" fill="#383786"/>
<rect x="1376.6" y="1360.2" width="15.3" height="15.9" fill="#373786"/>
<rect x="1391.4" y="1360.2" width="15.3" height="15.9" fill="#393687"/>
<rect x="1406.3" y="1360.2" width="15.3" height="15.9" fill="#3c3688"/>
<rect x="1421.1" y="1360.2" width="15.3" height="15.9" fill="#3d3688"/>
<rect x="752.7" y="1375.8" width="15.3" height="15.9" fill="#093a73"/>
<rect x="782.4" y="1375.8" width="15.3" height="15.9" fill="#053b71"/>
<rect x="797.3" y="1375.8" width="15.3" height="15.9" fill="#073a72"/>
<rect x="812.1" y="1375.8" width="15.3" height="15.9" fill="#053b71"/>
<rect x="827.0" y="1375.8" width="15.3" height="15.9" fill="#0d3a74"/>
<rect x="841.8" y="1375.8" width="15.3" height="15.9" fill="#093a73"/>
<rect x="856.7" y="1375.8" width="15.3" height="15.9" fill="#023b70"/>
<rect x="871.5" y="1375.8" width="15.3" height="15.9" fill="#0b3a73"/>
<rect x="886.4" y="1375.8" width="15.3" height="15.9" fill="#073a72"/>
<rect x="901.3" y="1375.8" width="15.3" height="15.9" fill="#093a73"/>
<rect x="931.0" y="1375.8" width="15.3" height="15.9" fill="#133a77"/>
<rect x="960.7" y="1375.8" width="15.3" height="15.9" fill="#133977"/>
<rect x="975.5" y="1375.8" width="15.3" height="15.9" fill="#22387d"/>
<rect x="990.4" y="1375.8" width="15.3" height="15.9" fill="#1e397b"/>
<rect x="1005.2" y="1375.8" width="15.3" height="15.9" fill="#2a3880"/>
<rect x="1020.1" y="1375.8" width="15.3" height="15.9" fill="#2d3781"/>
<rect x="1034.9" y="1375.8" width="15.3" height="15.9" fill="#23387e"/>
<rect x="1049.8" y="1375.8" width="15.3" height="15.9" fill="#2c3881"/>
<rect x="1064.7" y="1375.8" width="15.3" height="15.9" fill="#343784"/>
<rect x="1079.5" y="1375.8" width="15.3" height="15.9" fill="#313783"/>
<rect x="1094.4" y="1375.8" width="15.3" height="15.9" fill="#323784"/>
<rect x="1109.2" y="1375.8" width="15.3" height="15.9" fill="#2f3782"/>
<rect x="1124.1" y="1375.8" width="15.3" height="15.9" fill="#393786"/>
<rect x="1138.9" y="1375.8" width="15.3" height="15.9" fill="#383786"/>
<rect x="1153.8" y="1375.8" width="15.3" height="15.9" fill="#2f3782"/>
<rect x="1168.6" y="1375.8" width="15.3" height="15.9" fill="#333784"/>
<rect x="1183.5" y="1375.8" width="15.3" height="15.9" fill="#3c3688"/>
<rect x="1198.3" y="1375.8" width="30.1" height="15.9" fill="#3a3687"/>
<rect x="1228.0" y="1375.8" width="15.3" height="15.9" fill="#353785"/>
<rect x="1242.9" y="1375.8" width="15.3" height="15.9" fill="#363785"/>
<rect x="1257.8" y="1375.8" width="30.1" height="15.9" fill="#323784"/>
<rect x="1287.5" y="1375.8" width="15.3" height="15.9" fill="#363785"/>
<rect x="1302.3" y="1375.8" width="45.0" height="15.9" fill="#333784"/>
<rect x="1346.9" y="1375.8" width="15.3" height="15.9" fill="#383786"/>
<rect x="1361.7" y="1375.8" width="15.3" height="15.9" fill="#343784"/>
<rect x="1376.6" y="1375.8" width="15.3" height="15.9" fill="#353785"/>
<rect x="723.0" y="1391.3" width="15.3" height="15.9" fill="#013e6c"/>
<rect x="737.9" y="1391.3" width="15.3" height="15.9" fill="#083a72"/>
<rect x="752.7" y="1391.3" width="15.3" height="15.9" fill="#013d6d"/>
<rect x="767.6" y="1391.3" width="15.3" height="15.9" fill="#0a3a73"/>
<rect x="782.4" y="1391.3" width="15.3" height="15.9" fill="#003c6e"/>
<rect x="797.3" y="1391.3" width="15.3" height="15.9" fill="#023b70"/>
<rect x="812.1" y="1391.3" width="15.3" height="15.9" fill="#033b70"/>
<rect x="827.0" y="1391.3" width="15.3" height="15.9" fill="#013d6d"/>
<rect x="856.7" y="1391.3" width="15.3" height="15.9" fill="#033b70"/>
<rect x="871.5" y="1391.3" width="15.3" height="15.9" fill="#053b71"/>
<rect x="886.4" y="1391.3" width="30.1" height="15.9" fill="#013b6f"/>
<rect x="916.1" y="1391.3" width="15.3" height="15.9" fill="#083a72"/>
<rect x="931.0" y="1391.3" width="15.3" height="15.9" fill="#0f3a75"/>
<rect x="945.8" y="1391.3" width="15.3" height="15.9" fill="#133a77"/>
<rect x="960.7" y="1391.3" width="15.3" height="15.9" fill="#173979"/>
<rect x="975.5" y="1391.3" width="15.3" height="15.9" fill="#183979"/>
<rect x="990.4" y="1391.3" width="15.3" height="15.9" fill="#21387c"/>
<rect x="1020.1" y="1391.3" width="15.3" height="15.9" fill="#22387d"/>
<rect x="1034.9" y="1391.3" width="15.3" height="15.9" fill="#21387d"/>
<rect x="1049.8" y="1391.3" width="15.3" height="15.9" fill="#25387e"/>
<rect x="1064.7" y="1391.3" width="15.3" height="15.9" fill="#283880"/>
<rect x="1079.5" y="1391.3" width="15.3" height="15.9" fill="#24387e"/>
<rect x="1094.4" y="1391.3" width="15.3" height="15.9" fill="#25387e"/>
<rect x="1109.2" y="1391.3" width="15.3" height="15.9" fill="#2c3881"/>
<rect x="1138.9" y="1391.3" width="15.3" height="15.9" fill="#313783"/>
<rect x="1168.6" y="1391.3" width="15.3" height="15.9" fill="#383786"/>
<rect x="1198.3" y="1391.3" width="15.3" height="15.9" fill="#373786"/>
<rect x="1213.2" y="1391.3" width="15.3" height="15.9" fill="#393787"/>
<rect x="1257.8" y="1391.3" width="15.3" height="15.9" fill="#313783"/>
<rect x="1272.6" y="1391.3" width="15.3" height="15.9" fill="#303783"/>
<rect x="1287.5" y="1391.3" width="15.3" height="15.9" fill="#373786"/>
<rect x="1302.3" y="1391.3" width="15.3" height="15.9" fill="#2c3881"/>
<rect x="1317.2" y="1391.3" width="15.3" height="15.9" fill="#363785"/>
<rect x="1332.0" y="1391.3" width="15.3" height="15.9" fill="#303783"/>
<rect x="1346.9" y="1391.3" width="15.3" height="15.9" fill="#313783"/>
<rect x="1361.7" y="1391.3" width="15.3" height="15.9" fill="#303783"/>
<rect x="737.9" y="1406.8" width="15.3" height="15.9" fill="#053b71"/>
<rect x="767.6" y="1406.8" width="15.3" height="15.9" fill="#023b70"/>
<rect x="782.4" y="1406.8" width="15.3" height="15.9" fill="#013e6c"/>
<rect x="797.3" y="1406.8" width="15.3" height="15.9" fill="#093a73"/>
<rect x="812.1" y="1406.8" width="15.3" height="15.9" fill="#083a72"/>
<rect x="827.0" y="1406.8" width="15.3" height="15.9" fill="#013b6f"/>
<rect x="841.8" y="1406.8" width="15.3" height="15.9" fill="#023b70"/>
<rect x="856.7" y="1406.8" width="15.3" height="15.9" fill="#013e6c"/>
<rect x="871.5" y="1406.8" width="15.3" height="15.9" fill="#003c6e"/>
<rect x="886.4" y="1406.8" width="15.3" height="15.9" fill="#033b70"/>
<rect x="901.3" y="1406.8" width="15.3" height="15.9" fill="#013d6d"/>
<rect x="931.0" y="1406.8" width="15.3" height="15.9" fill="#0a3a73"/>
<rect x="1005.2" y="1406.8" width="15.3" height="15.9" fill="#193979"/>
<rect x="1020.1" y="1406.8" width="15.3" height="15.9" fill="#173978"/>
<rect x="1034.9" y="1406.8" width="15.3" height="15.9" fill="#1b397a"/>
<rect x="1049.8" y="1406.8" width="15.3" height="15.9" fill="#1d397b"/>
<rect x="1064.7" y="1406.8" width="15.3" height="15.9" fill="#1b397a"/>
<rect x="1079.5" y="1406.8" width="15.3" height="15.9" fill="#21387d"/>
<rect x="1094.4" y="1406.8" width="15.3" height="15.9" fill="#1b397a"/>
<rect x="1109.2" y="1406.8" width="15.3" height="15.9" fill="#22387d"/>
<rect x="1124.1" y="1406.8" width="15.3" height="15.9" fill="#27387f"/>
<rect x="1138.9" y="1406.8" width="15.3" height="15.9" fill="#303783"/>
<rect x="1153.8" y="1406.8" width="15.3" height="15.9" fill="#2e3782"/>
<rect x="1317.2" y="1406.8" width="15.3" height="15.9" fill="#303783"/>
<rect x="1346.9" y="1406.8" width="15.3" height="15.9" fill="#323784"/>
<rect x="1361.7" y="1406.8" width="15.3" height="15.9" fill="#333784"/>
<rect x="1391.4" y="1406.8" width="15.3" height="15.9" fill="#313783"/>
<rect x="648.7" y="1422.3" width="15.3" height="15.9" fill="#02406a"/>
<rect x="663.6" y="1422.3" width="15.3" height="15.9" fill="#013b6f"/>
<rect x="708.2" y="1422.3" width="15.3" height="15.9" fill="#013b70"/>
<rect x="723.0" y="1422.3" width="15.3" height="15.9" fill="#003c6e"/>
<rect x="737.9" y="1422.3" width="15.3" height="15.9" fill="#02406a"/>
<rect x="752.7" y="1422.3" width="15.3" height="15.9" fill="#033b70"/>
<rect x="782.4" y="1422.3" width="15.3" height="15.9" fill="#003b6f"/>
<rect x="797.3" y="1422.3" width="15.3" height="15.9" fill="#013e6c"/>
<rect x="827.0" y="1422.3" width="15.3" height="15.9" fill="#063b71"/>
<rect x="841.8" y="1422.3" width="15.3" height="15.9" fill="#043b70"/>
<rect x="886.4" y="1422.3" width="15.3" height="15.9" fill="#023f6b"/>
<rect x="901.3" y="1422.3" width="15.3" height="15.9" fill="#003c6e"/>
<rect x="931.0" y="1422.3" width="15.3" height="15.9" fill="#083a72"/>
<rect x="1005.2" y="1422.3" width="15.3" height="15.9" fill="#183979"/>
<rect x="1020.1" y="1422.3" width="15.3" height="15.9" fill="#0c3a74"/>
<rect x="1034.9" y="1422.3" width="15.3" height="15.9" fill="#0f3a75"/>
<rect x="1049.8" y="1422.3" width="15.3" height="15.9" fill="#0d3a74"/>
<rect x="1064.7" y="1422.3" width="15.3" height="15.9" fill="#0c3a74"/>
<rect x="1079.5" y="1422.3" width="15.3" height="15.9" fill="#0f3a75"/>
<rect x="1094.4" y="1422.3" width="15.3" height="15.9" fill="#193979"/>
<rect x="1109.2" y="1422.3" width="15.3" height="15.9" fill="#20387c"/>
<rect x="1124.1" y="1422.3" width="30.1" height="15.9" fill="#22387d"/>
<rect x="1153.8" y="1422.3" width="15.3" height="15.9" fill="#25387e"/>
<rect x="1346.9" y="1422.3" width="15.3" height="15.9" fill="#323784"/>
<rect x="1361.7" y="1422.3" width="15.3" height="15.9" fill="#353785"/>
<rect x="1376.6" y="1422.3" width="15.3" height="15.9" fill="#303783"/>
<rect x="1391.4" y="1422.3" width="15.3" height="15.9" fill="#323784"/>
<rect x="633.9" y="1437.8" width="15.3" height="15.9" fill="#023b70"/>
<rect x="663.6" y="1437.8" width="15.3" height="15.9" fill="#02406a"/>
<rect x="678.4" y="1437.8" width="15.3" height="15.9" fill="#013c6e"/>
<rect x="693.3" y="1437.8" width="15.3" height="15.9" fill="#073a72"/>
<rect x="708.2" y="1437.8" width="15.3" height="15.9" fill="#013b70"/>
<rect x="723.0" y="1437.8" width="15.3" height="15.9" fill="#013e6c"/>
<rect x="737.9" y="1437.8" width="15.3" height="15.9" fill="#033b70"/>
<rect x="752.7" y="1437.8" width="15.3" height="15.9" fill="#013d6d"/>
<rect x="767.6" y="1437.8" width="15.3" height="15.9" fill="#073a72"/>
<rect x="812.1" y="1437.8" width="15.3" height="15.9" fill="#033b70"/>
<rect x="856.7" y="1437.8" width="15.3" height="15.9" fill="#013e6c"/>
<rect x="871.5" y="1437.8" width="15.3" height="15.9" fill="#003b6f"/>
<rect x="886.4" y="1437.8" width="15.3" height="15.9" fill="#003c6e"/>
<rect x="901.3" y="1437.8" width="15.3" height="15.9" fill="#073a72"/>
<rect x="916.1" y="1437.8" width="15.3" height="15.9" fill="#043b71"/>
<rect x="931.0" y="1437.8" width="15.3" height="15.9" fill="#053b71"/>
<rect x="945.8" y="1437.8" width="15.3" height="15.9" fill="#0b3a74"/>
<rect x="975.5" y="1437.8" width="15.3" height="15.9" fill="#0a3a73"/>
<rect x="990.4" y="1437.8" width="15.3" height="15.9" fill="#0c3a74"/>
<rect x="1005.2" y="1437.8" width="15.3" height="15.9" fill="#053b71"/>
<rect x="1020.1" y="1437.8" width="15.3" height="15.9" fill="#0a3a73"/>
<rect x="1034.9" y="1437.8" width="15.3" height="15.9" fill="#0c3a74"/>
<rect x="1049.8" y="1437.8" width="30.1" height="15.9" fill="#103a75"/>
<rect x="1079.5" y="1437.8" width="15.3" height="15.9" fill="#093a73"/>
<rect x="1094.4" y="1437.8" width="15.3" height="15.9" fill="#143977"/>
<rect x="1109.2" y="1437.8" width="15.3" height="15.9" fill="#183979"/>
<rect x="1124.1" y="1437.8" width="15.3" height="15.9" fill="#1b397a"/>
<rect x="1153.8" y="1437.8" width="15.3" height="15.9" fill="#1c397b"/>
<rect x="1317.2" y="1437.8" width="15.3" height="15.9" fill="#173979"/>
<rect x="648.7" y="1453.4" width="15.3" height="15.9" fill="#003c6e"/>
<rect x="663.6" y="1453.4" width="15.3" height="15.9" fill="#013e6c"/>
<rect x="678.4" y="1453.4" width="15.3" height="15.9" fill="#063a72"/>
<rect x="693.3" y="1453.4" width="15.3" height="15.9" fill="#073a72"/>
<rect x="708.2" y="1453.4" width="15.3" height="15.9" fill="#013e6c"/>
<rect x="723.0" y="1453.4" width="15.3" height="15.9" fill="#033b70"/>
<rect x="737.9" y="1453.4" width="15.3" height="15.9" fill="#013d6d"/>
<rect x="752.7" y="1453.4" width="15.3" height="15.9" fill="#023b70"/>
<rect x="767.6" y="1453.4" width="15.3" height="15.9" fill="#053b71"/>
<rect x="782.4" y="1453.4" width="15.3" height="15.9" fill="#033b70"/>
<rect x="856.7" y="1453.4" width="15.3" height="15.9" fill="#063b71"/>
<rect x="871.5" y="1453.4" width="15.3" height="15.9" fill="#023f6b"/>
<rect x="886.4" y="1453.4" width="15.3" height="15.9" fill="#003b6f"/>
<rect x="901.3" y="1453.4" width="15.3" height="15.9" fill="#043b70"/>
<rect x="916.1" y="1453.4" width="15.3" height="15.9" fill="#033b70"/>
<rect x="931.0" y="1453.4" width="15.3" height="15.9" fill="#053b71"/>
<rect x="945.8" y="1453.4" width="15.3" height="15.9" fill="#0b3a74"/>
<rect x="960.7" y="1453.4" width="15.3" height="15.9" fill="#013b6f"/>
<rect x="975.5" y="1453.4" width="15.3" height="15.9" fill="#063b72"/>
<rect x="990.4" y="1453.4" width="15.3" height="15.9" fill="#013b6f"/>
<rect x="1005.2" y="1453.4" width="15.3" height="15.9" fill="#083a72"/>
<rect x="1020.1" y="1453.4" width="15.3" height="15.9" fill="#043b71"/>
<rect x="1034.9" y="1453.4" width="15.3" height="15.9" fill="#093a73"/>
<rect x="1049.8" y="1453.4" width="15.3" height="15.9" fill="#0b3a74"/>
<rect x="1064.7" y="1453.4" width="15.3" height="15.9" fill="#003c6e"/>
<rect x="1079.5" y="1453.4" width="15.3" height="15.9" fill="#003b6f"/>
<rect x="1094.4" y="1453.4" width="15.3" height="15.9" fill="#0a3a73"/>
<rect x="1109.2" y="1453.4" width="15.3" height="15.9" fill="#043b71"/>
<rect x="1138.9" y="1453.4" width="15.3" height="15.9" fill="#0c3a74"/>
<rect x="1153.8" y="1453.4" width="15.3" height="15.9" fill="#163978"/>
<rect x="1257.8" y="1453.4" width="15.3" height="15.9" fill="#063a72"/>
<rect x="1272.6" y="1453.4" width="15.3" height="15.9" fill="#013b6f"/>
<rect x="1287.5" y="1453.4" width="15.3" height="15.9" fill="#0a3a73"/>
<rect x="1317.2" y="1453.4" width="15.3" height="15.9" fill="#0a3a73"/>
<rect x="737.9" y="1468.9" width="15.3" height="15.9" fill="#043b71"/>
<rect x="752.7" y="1468.9" width="15.3" height="15.9" fill="#023b70"/>
<rect x="782.4" y="1468.9" width="15.3" height="15.9" fill="#013d6d"/>
<rect x="797.3" y="1468.9" width="15.3" height="15.9" fill="#043b71"/>
<rect x="812.1" y="1468.9" width="15.3" height="15.9" fill="#033b70"/>
<rect x="827.0" y="1468.9" width="15.3" height="15.9" fill="#023f6b"/>
<rect x="841.8" y="1468.9" width="15.3" height="15.9" fill="#003b6f"/>
<rect x="856.7" y="1468.9" width="15.3" height="15.9" fill="#013e6c"/>
<rect x="871.5" y="1468.9" width="15.3" height="15.9" fill="#043b71"/>
<rect x="886.4" y="1468.9" width="15.3" height="15.9" fill="#053b71"/>
<rect x="901.3" y="1468.9" width="15.3" height="15.9" fill="#033b70"/>
<rect x="916.1" y="1468.9" width="15.3" height="15.9" fill="#063b71"/>
<rect x="931.0" y="1468.9" width="15.3" height="15.9" fill="#023f6b"/>
<rect x="945.8" y="1468.9" width="15.3" height="15.9" fill="#063b71"/>
<rect x="960.7" y="1468.9" width="15.3" height="15.9" fill="#033b70"/>
<rect x="975.5" y="1468.9" width="15.3" height="15.9" fill="#093a73"/>
<rect x="990.4" y="1468.9" width="15.3" height="15.9" fill="#033b70"/>
<rect x="1005.2" y="1468.9" width="15.3" height="15.9" fill="#053b71"/>
<rect x="1020.1" y="1468.9" width="15.3" height="15.9" fill="#043b71"/>
<rect x="1034.9" y="1468.9" width="15.3" height="15.9" fill="#083a72"/>
<rect x="1049.8" y="1468.9" width="15.3" height="15.9" fill="#063b72"/>
<rect x="1138.9" y="1468.9" width="15.3" height="15.9" fill="#043b71"/>
<rect x="1153.8" y="1468.9" width="15.3" height="15.9" fill="#0c3a74"/>
<rect x="1168.6" y="1468.9" width="30.1" height="15.9" fill="#0f3a75"/>
<rect x="1198.3" y="1468.9" width="15.3" height="15.9" fill="#0c3a74"/>
<rect x="1213.2" y="1468.9" width="15.3" height="15.9" fill="#0a3a73"/>
<rect x="1257.8" y="1468.9" width="15.3" height="15.9" fill="#063a72"/>
<rect x="1272.6" y="1468.9" width="15.3" height="15.9" fill="#013d6d"/>
<rect x="1287.5" y="1468.9" width="15.3" height="15.9" fill="#033b70"/>
<rect x="1317.2" y="1468.9" width="15.3" height="15.9" fill="#0c3a74"/>
<rect x="1332.0" y="1468.9" width="15.3" height="15.9" fill="#073a72"/>
<rect x="752.7" y="1484.4" width="15.3" height="15.9" fill="#063b71"/>
<rect x="767.6" y="1484.4" width="15.3" height="15.9" fill="#033b70"/>
<rect x="782.4" y="1484.4" width="15.3" height="15.9" fill="#023f6b"/>
<rect x="797.3" y="1484.4" width="15.3" height="15.9" fill="#053b71"/>
<rect x="812.1" y="1484.4" width="15.3" height="15.9" fill="#013b6f"/>
<rect x="827.0" y="1484.4" width="15.3" height="15.9" fill="#023f6b"/>
<rect x="841.8" y="1484.4" width="15.3" height="15.9" fill="#013e6c"/>
<rect x="856.7" y="1484.4" width="15.3" height="15.9" fill="#053b71"/>
<rect x="871.5" y="1484.4" width="15.3" height="15.9" fill="#023b70"/>
<rect x="886.4" y="1484.4" width="15.3" height="15.9" fill="#013d6d"/>
<rect x="901.3" y="1484.4" width="15.3" height="15.9" fill="#023b70"/>
<rect x="916.1" y="1484.4" width="15.3" height="15.9" fill="#02406b"/>
<rect x="931.0" y="1484.4" width="15.3" height="15.9" fill="#053b71"/>
<rect x="945.8" y="1484.4" width="15.3" height="15.9" fill="#023f6b"/>
<rect x="960.7" y="1484.4" width="15.3" height="15.9" fill="#013b70"/>
<rect x="975.5" y="1484.4" width="15.3" height="15.9" fill="#063b71"/>
<rect x="990.4" y="1484.4" width="15.3" height="15.9" fill="#023b70"/>
<rect x="1005.2" y="1484.4" width="15.3" height="15.9" fill="#063b71"/>
<rect x="1020.1" y="1484.4" width="15.3" height="15.9" fill="#013d6d"/>
<rect x="1034.9" y="1484.4" width="15.3" height="15.9" fill="#023b70"/>
<rect x="1049.8" y="1484.4" width="15.3" height="15.9" fill="#024169"/>
<rect x="1064.7" y="1484.4" width="15.3" height="15.9" fill="#013e6c"/>
<rect x="1079.5" y="1484.4" width="15.3" height="15.9" fill="#003b6f"/>
<rect x="1109.2" y="1484.4" width="15.3" height="15.9" fill="#033b70"/>
<rect x="1124.1" y="1484.4" width="15.3" height="15.9" fill="#003c6e"/>
<rect x="1138.9" y="1484.4" width="15.3" height="15.9" fill="#063b71"/>
<rect x="1153.8" y="1484.4" width="15.3" height="15.9" fill="#013d6d"/>
<rect x="1168.6" y="1484.4" width="15.3" height="15.9" fill="#083a72"/>
<rect x="1198.3" y="1484.4" width="15.3" height="15.9" fill="#013b6f"/>
<rect x="1213.2" y="1484.4" width="15.3" height="15.9" fill="#013c6e"/>
<rect x="1228.0" y="1484.4" width="15.3" height="15.9" fill="#003b6f"/>
<rect x="1242.9" y="1484.4" width="15.3" height="15.9" fill="#034269"/>
<rect x="1257.8" y="1484.4" width="15.3" height="15.9" fill="#013e6c"/>
<rect x="1272.6" y="1484.4" width="15.3" height="15.9" fill="#034169"/>
<rect x="1287.5" y="1484.4" width="15.3" height="15.9" fill="#02406b"/>
<rect x="1317.2" y="1484.4" width="15.3" height="15.9" fill="#013b70"/>
<rect x="1332.0" y="1484.4" width="15.3" height="15.9" fill="#033b70"/>
<rect x="1346.9" y="1484.4" width="15.3" height="15.9" fill="#0a3a73"/>
<rect x="752.7" y="1499.9" width="15.3" height="15.9" fill="#053b71"/>
<rect x="767.6" y="1499.9" width="15.3" height="15.9" fill="#023f6b"/>
<rect x="797.3" y="1499.9" width="15.3" height="15.9" fill="#033b70"/>
<rect x="812.1" y="1499.9" width="15.3" height="15.9" fill="#013d6d"/>
<rect x="827.0" y="1499.9" width="15.3" height="15.9" fill="#063b71"/>
<rect x="841.8" y="1499.9" width="15.3" height="15.9" fill="#003c6e"/>
<rect x="856.7" y="1499.9" width="15.3" height="15.9" fill="#023b70"/>
<rect x="871.5" y="1499.9" width="15.3" height="15.9" fill="#003b6f"/>
<rect x="886.4" y="1499.9" width="15.3" height="15.9" fill="#033b70"/>
<rect x="901.3" y="1499.9" width="15.3" height="15.9" fill="#063a72"/>
<rect x="916.1" y="1499.9" width="15.3" height="15.9" fill="#033b70"/>
<rect x="931.0" y="1499.9" width="15.3" height="15.9" fill="#043b71"/>
<rect x="945.8" y="1499.9" width="15.3" height="15.9" fill="#063b71"/>
<rect x="960.7" y="1499.9" width="15.3" height="15.9" fill="#013d6d"/>
<rect x="975.5" y="1499.9" width="15.3" height="15.9" fill="#033b70"/>
<rect x="1005.2" y="1499.9" width="15.3" height="15.9" fill="#003b6f"/>
<rect x="1020.1" y="1499.9" width="15.3" height="15.9" fill="#034169"/>
<rect x="1034.9" y="1499.9" width="15.3" height="15.9" fill="#02406a"/>
<rect x="1049.8" y="1499.9" width="30.1" height="15.9" fill="#034268"/>
<rect x="1079.5" y="1499.9" width="15.3" height="15.9" fill="#013b6f"/>
<rect x="1094.4" y="1499.9" width="15.3" height="15.9" fill="#003c6e"/>
<rect x="1109.2" y="1499.9" width="15.3" height="15.9" fill="#033b70"/>
<rect x="1124.1" y="1499.9" width="15.3" height="15.9" fill="#02406a"/>
<rect x="1138.9" y="1499.9" width="15.3" height="15.9" fill="#023f6b"/>
<rect x="1153.8" y="1499.9" width="15.3" height="15.9" fill="#003b6f"/>
<rect x="1168.6" y="1499.9" width="15.3" height="15.9" fill="#003c6e"/>
<rect x="1183.5" y="1499.9" width="15.3" height="15.9" fill="#023f6b"/>
<rect x="1198.3" y="1499.9" width="15.3" height="15.9" fill="#034169"/>
<rect x="1213.2" y="1499.9" width="15.3" height="15.9" fill="#013d6d"/>
<rect x="1228.0" y="1499.9" width="15.3" height="15.9" fill="#044566"/>
<rect x="1242.9" y="1499.9" width="15.3" height="15.9" fill="#02406a"/>
<rect x="1257.8" y="1499.9" width="15.3" height="15.9" fill="#044467"/>
<rect x="1272.6" y="1499.9" width="15.3" height="15.9" fill="#023f6b"/>
<rect x="1287.5" y="1499.9" width="15.3" height="15.9" fill="#013e6c"/>
<rect x="1302.3" y="1499.9" width="15.3" height="15.9" fill="#054664"/>
<rect x="1317.2" y="1499.9" width="15.3" height="15.9" fill="#034367"/>
<rect x="752.7" y="1515.4" width="15.3" height="15.9" fill="#013d6d"/>
<rect x="767.6" y="1515.4" width="30.1" height="15.9" fill="#073a72"/>
<rect x="797.3" y="1515.4" width="15.3" height="15.9" fill="#053b71"/>
<rect x="812.1" y="1515.4" width="15.3" height="15.9" fill="#043b71"/>
<rect x="827.0" y="1515.4" width="15.3" height="15.9" fill="#033b70"/>
<rect x="841.8" y="1515.4" width="15.3" height="15.9" fill="#023b70"/>
<rect x="856.7" y="1515.4" width="15.3" height="15.9" fill="#073a72"/>
<rect x="871.5" y="1515.4" width="15.3" height="15.9" fill="#033b70"/>
<rect x="886.4" y="1515.4" width="15.3" height="15.9" fill="#013d6e"/>
<rect x="901.3" y="1515.4" width="15.3" height="15.9" fill="#053b71"/>
<rect x="916.1" y="1515.4" width="15.3" height="15.9" fill="#023f6b"/>
<rect x="931.0" y="1515.4" width="15.3" height="15.9" fill="#003c6e"/>
<rect x="945.8" y="1515.4" width="15.3" height="15.9" fill="#013e6c"/>
<rect x="960.7" y="1515.4" width="15.3" height="15.9" fill="#033b70"/>
<rect x="975.5" y="1515.4" width="15.3" height="15.9" fill="#003b6f"/>
<rect x="990.4" y="1515.4" width="15.3" height="15.9" fill="#013e6c"/>
<rect x="1005.2" y="1515.4" width="15.3" height="15.9" fill="#003b6f"/>
<rect x="1020.1" y="1515.4" width="15.3" height="15.9" fill="#043b71"/>
<rect x="1034.9" y="1515.4" width="30.1" height="15.9" fill="#034268"/>
<rect x="1064.7" y="1515.4" width="15.3" height="15.9" fill="#013d6d"/>
<rect x="1079.5" y="1515.4" width="15.3" height="15.9" fill="#003b6f"/>
<rect x="1094.4" y="1515.4" width="15.3" height="15.9" fill="#044466"/>
<rect x="1109.2" y="1515.4" width="15.3" height="15.9" fill="#034169"/>
<rect x="1124.1" y="1515.4" width="15.3" height="15.9" fill="#003b6f"/>
<rect x="1138.9" y="1515.4" width="15.3" height="15.9" fill="#013d6d"/>
<rect x="1153.8" y="1515.4" width="15.3" height="15.9" fill="#003c6e"/>
<rect x="1168.6" y="1515.4" width="15.3" height="15.9" fill="#044367"/>
<rect x="1183.5" y="1515.4" width="15.3" height="15.9" fill="#013e6d"/>
<rect x="1198.3" y="1515.4" width="15.3" height="15.9" fill="#054664"/>
<rect x="1213.2" y="1515.4" width="15.3" height="15.9" fill="#044565"/>
<rect x="1228.0" y="1515.4" width="15.3" height="15.9" fill="#023f6b"/>
<rect x="1242.9" y="1515.4" width="15.3" height="15.9" fill="#054664"/>
<rect x="1257.8" y="1515.4" width="15.3" height="15.9" fill="#044367"/>
<rect x="1272.6" y="1515.4" width="15.3" height="15.9" fill="#054863"/>
<rect x="1287.5" y="1515.4" width="15.3" height="15.9" fill="#064862"/>
<rect x="1302.3" y="1515.4" width="15.3" height="15.9" fill="#034268"/>
<rect x="1317.2" y="1515.4" width="15.3" height="15.9" fill="#023f6b"/>
<rect x="1332.0" y="1515.4" width="15.3" height="15.9" fill="#064962"/>
<rect x="752.7" y="1531.0" width="15.3" height="15.9" fill="#013b6f"/>
<rect x="767.6" y="1531.0" width="15.3" height="15.9" fill="#02406a"/>
<rect x="782.4" y="1531.0" width="15.3" height="15.9" fill="#013d6d"/>
<rect x="797.3" y="1531.0" width="15.3" height="15.9" fill="#013e6c"/>
<rect x="812.1" y="1531.0" width="15.3" height="15.9" fill="#023f6b"/>
<rect x="827.0" y="1531.0" width="15.3" height="15.9" fill="#013c6e"/>
<rect x="841.8" y="1531.0" width="15.3" height="15.9" fill="#013b6f"/>
<rect x="856.7" y="1531.0" width="15.3" height="15.9" fill="#063b72"/>
<rect x="871.5" y="1531.0" width="15.3" height="15.9" fill="#013d6d"/>
<rect x="901.3" y="1531.0" width="15.3" height="15.9" fill="#013b6f"/>
<rect x="916.1" y="1531.0" width="15.3" height="15.9" fill="#003b6f"/>
<rect x="931.0" y="1531.0" width="15.3" height="15.9" fill="#02406a"/>
<rect x="945.8" y="1531.0" width="15.3" height="15.9" fill="#043b71"/>
<rect x="960.7" y="1531.0" width="15.3" height="15.9" fill="#023f6b"/>
<rect x="975.5" y="1531.0" width="15.3" height="15.9" fill="#043b71"/>
<rect x="990.4" y="1531.0" width="15.3" height="15.9" fill="#02406b"/>
<rect x="1005.2" y="1531.0" width="15.3" height="15.9" fill="#034269"/>
<rect x="1020.1" y="1531.0" width="15.3" height="15.9" fill="#013c6e"/>
<rect x="1034.9" y="1531.0" width="15.3" height="15.9" fill="#02406a"/>
<rect x="1049.8" y="1531.0" width="15.3" height="15.9" fill="#044565"/>
<rect x="1064.7" y="1531.0" width="15.3" height="15.9" fill="#034268"/>
<rect x="1079.5" y="1531.0" width="15.3" height="15.9" fill="#034169"/>
<rect x="1094.4" y="1531.0" width="15.3" height="15.9" fill="#013e6c"/>
<rect x="1109.2" y="1531.0" width="15.3" height="15.9" fill="#013c6e"/>
<rect x="1124.1" y="1531.0" width="15.3" height="15.9" fill="#02406a"/>
<rect x="1138.9" y="1531.0" width="15.3" height="15.9" fill="#02416a"/>
<rect x="1153.8" y="1531.0" width="15.3" height="15.9" fill="#023f6c"/>
<rect x="1168.6" y="1531.0" width="15.3" height="15.9" fill="#02406a"/>
<rect x="1183.5" y="1531.0" width="15.3" height="15.9" fill="#023f6b"/>
<rect x="1198.3" y="1531.0" width="15.3" height="15.9" fill="#054664"/>
<rect x="1228.0" y="1531.0" width="15.3" height="15.9" fill="#054863"/>
<rect x="1242.9" y="1531.0" width="15.3" height="15.9" fill="#044467"/>
<rect x="1257.8" y="1531.0" width="15.3" height="15.9" fill="#044466"/>
<rect x="1272.6" y="1531.0" width="15.3" height="15.9" fill="#054863"/>
<rect x="1287.5" y="1531.0" width="15.3" height="15.9" fill="#054764"/>
<rect x="1302.3" y="1531.0" width="15.3" height="15.9" fill="#074c5e"/>
<rect x="1317.2" y="1531.0" width="15.3" height="15.9" fill="#054665"/>
<rect x="1332.0" y="1531.0" width="15.3" height="15.9" fill="#044565"/>
<rect x="1361.7" y="1531.0" width="15.3" height="15.9" fill="#074c5f"/>
<rect x="767.6" y="1546.5" width="15.3" height="15.9" fill="#053b71"/>
<rect x="782.4" y="1546.5" width="15.3" height="15.9" fill="#003c6e"/>
<rect x="797.3" y="1546.5" width="15.3" height="15.9" fill="#023b70"/>
<rect x="812.1" y="1546.5" width="15.3" height="15.9" fill="#023f6c"/>
<rect x="827.0" y="1546.5" width="15.3" height="15.9" fill="#003c6e"/>
<rect x="841.8" y="1546.5" width="15.3" height="15.9" fill="#013e6c"/>
<rect x="856.7" y="1546.5" width="15.3" height="15.9" fill="#053b71"/>
<rect x="871.5" y="1546.5" width="15.3" height="15.9" fill="#013d6d"/>
<rect x="886.4" y="1546.5" width="15.3" height="15.9" fill="#013c6e"/>
<rect x="901.3" y="1546.5" width="15.3" height="15.9" fill="#003b6f"/>
<rect x="916.1" y="1546.5" width="15.3" height="15.9" fill="#013e6c"/>
<rect x="931.0" y="1546.5" width="15.3" height="15.9" fill="#02406b"/>
<rect x="945.8" y="1546.5" width="15.3" height="15.9" fill="#043b71"/>
<rect x="960.7" y="1546.5" width="15.3" height="15.9" fill="#013b6f"/>
<rect x="975.5" y="1546.5" width="15.3" height="15.9" fill="#003c6e"/>
<rect x="990.4" y="1546.5" width="15.3" height="15.9" fill="#003b6f"/>
<rect x="1005.2" y="1546.5" width="15.3" height="15.9" fill="#013b6f"/>
<rect x="1020.1" y="1546.5" width="15.3" height="15.9" fill="#013e6d"/>
<rect x="1034.9" y="1546.5" width="15.3" height="15.9" fill="#013d6d"/>
<rect x="1049.8" y="1546.5" width="15.3" height="15.9" fill="#044367"/>
<rect x="1064.7" y="1546.5" width="15.3" height="15.9" fill="#024169"/>
<rect x="1079.5" y="1546.5" width="15.3" height="15.9" fill="#013d6d"/>
<rect x="1094.4" y="1546.5" width="15.3" height="15.9" fill="#02406a"/>
<rect x="1109.2" y="1546.5" width="15.3" height="15.9" fill="#034268"/>
<rect x="1124.1" y="1546.5" width="15.3" height="15.9" fill="#034169"/>
<rect x="1138.9" y="1546.5" width="15.3" height="15.9" fill="#023f6b"/>
<rect x="1153.8" y="1546.5" width="30.1" height="15.9" fill="#013f6c"/>
<rect x="1183.5" y="1546.5" width="15.3" height="15.9" fill="#074a60"/>
<rect x="1198.3" y="1546.5" width="15.3" height="15.9" fill="#064962"/>
<rect x="1213.2" y="1546.5" width="15.3" height="15.9" fill="#034368"/>
<rect x="1228.0" y="1546.5" width="15.3" height="15.9" fill="#074b60"/>
<rect x="1242.9" y="1546.5" width="15.3" height="15.9" fill="#084f5c"/>
<rect x="1257.8" y="1546.5" width="15.3" height="15.9" fill="#074b60"/>
<rect x="1272.6" y="1546.5" width="15.3" height="15.9" fill="#054664"/>
<rect x="1287.5" y="1546.5" width="15.3" height="15.9" fill="#074b60"/>
<rect x="1302.3" y="1546.5" width="15.3" height="15.9" fill="#064a60"/>
<rect x="1317.2" y="1546.5" width="15.3" height="15.9" fill="#054863"/>
<rect x="1332.0" y="1546.5" width="15.3" height="15.9" fill="#074c5e"/>
<rect x="1361.7" y="1546.5" width="15.3" height="15.9" fill="#064862"/>
<rect x="797.3" y="1562.0" width="15.3" height="15.9" fill="#02406a"/>
<rect x="812.1" y="1562.0" width="30.1" height="15.9" fill="#013d6d"/>
<rect x="841.8" y="1562.0" width="15.3" height="15.9" fill="#02406a"/>
<rect x="856.7" y="1562.0" width="15.3" height="15.9" fill="#013d6d"/>
<rect x="871.5" y="1562.0" width="30.1" height="15.9" fill="#033b70"/>
<rect x="901.3" y="1562.0" width="15.3" height="15.9" fill="#053b71"/>
<rect x="916.1" y="1562.0" width="15.3" height="15.9" fill="#063b71"/>
<rect x="931.0" y="1562.0" width="15.3" height="15.9" fill="#023f6b"/>
<rect x="945.8" y="1562.0" width="15.3" height="15.9" fill="#024169"/>
<rect x="960.7" y="1562.0" width="30.1" height="15.9" fill="#003b6f"/>
<rect x="990.4" y="1562.0" width="15.3" height="15.9" fill="#034169"/>
<rect x="1005.2" y="1562.0" width="15.3" height="15.9" fill="#044466"/>
<rect x="1020.1" y="1562.0" width="15.3" height="15.9" fill="#054665"/>
<rect x="1034.9" y="1562.0" width="15.3" height="15.9" fill="#013e6c"/>
<rect x="1049.8" y="1562.0" width="15.3" height="15.9" fill="#044565"/>
<rect x="1064.7" y="1562.0" width="15.3" height="15.9" fill="#054665"/>
<rect x="1079.5" y="1562.0" width="15.3" height="15.9" fill="#044565"/>
<rect x="1094.4" y="1562.0" width="15.3" height="15.9" fill="#02416a"/>
<rect x="1109.2" y="1562.0" width="15.3" height="15.9" fill="#023f6b"/>
<rect x="1124.1" y="1562.0" width="15.3" height="15.9" fill="#054764"/>
<rect x="1138.9" y="1562.0" width="15.3" height="15.9" fill="#034268"/>
<rect x="1153.8" y="1562.0" width="15.3" height="15.9" fill="#034367"/>
<rect x="1168.6" y="1562.0" width="15.3" height="15.9" fill="#054664"/>
<rect x="1183.5" y="1562.0" width="15.3" height="15.9" fill="#044565"/>
<rect x="1198.3" y="1562.0" width="15.3" height="15.9" fill="#074c5f"/>
<rect x="1242.9" y="1562.0" width="15.3" height="15.9" fill="#064a61"/>
<rect x="1257.8" y="1562.0" width="15.3" height="15.9" fill="#064962"/>
<rect x="1272.6" y="1562.0" width="15.3" height="15.9" fill="#094f5c"/>
<rect x="1287.5" y="1562.0" width="15.3" height="15.9" fill="#09505a"/>
<rect x="1302.3" y="1562.0" width="30.1" height="15.9" fill="#0a5358"/>
<rect x="841.8" y="1577.5" width="30.1" height="15.9" fill="#02406a"/>
<rect x="871.5" y="1577.5" width="15.3" height="15.9" fill="#003b6f"/>
<rect x="886.4" y="1577.5" width="15.3" height="15.9" fill="#003c6e"/>
<rect x="901.3" y="1577.5" width="15.3" height="15.9" fill="#043b71"/>
<rect x="916.1" y="1577.5" width="15.3" height="15.9" fill="#013b6f"/>
<rect x="931.0" y="1577.5" width="15.3" height="15.9" fill="#013e6c"/>
<rect x="945.8" y="1577.5" width="15.3" height="15.9" fill="#023b70"/>
<rect x="960.7" y="1577.5" width="15.3" height="15.9" fill="#034169"/>
<rect x="975.5" y="1577.5" width="15.3" height="15.9" fill="#003c6e"/>
<rect x="990.4" y="1577.5" width="15.3" height="15.9" fill="#02406a"/>
<rect x="1005.2" y="1577.5" width="15.3" height="15.9" fill="#054764"/>
<rect x="1020.1" y="1577.5" width="30.1" height="15.9" fill="#013d6d"/>
<rect x="1049.8" y="1577.5" width="15.3" height="15.9" fill="#034268"/>
<rect x="1064.7" y="1577.5" width="15.3" height="15.9" fill="#023f6b"/>
<rect x="1079.5" y="1577.5" width="15.3" height="15.9" fill="#054665"/>
<rect x="1094.4" y="1577.5" width="15.3" height="15.9" fill="#013e6c"/>
<rect x="1109.2" y="1577.5" width="15.3" height="15.9" fill="#054763"/>
<rect x="1124.1" y="1577.5" width="15.3" height="15.9" fill="#064862"/>
<rect x="1138.9" y="1577.5" width="15.3" height="15.9" fill="#054863"/>
<rect x="1153.8" y="1577.5" width="15.3" height="15.9" fill="#044566"/>
<rect x="1168.6" y="1577.5" width="15.3" height="15.9" fill="#044466"/>
<rect x="1183.5" y="1577.5" width="15.3" height="15.9" fill="#064a61"/>
<rect x="1213.2" y="1577.5" width="15.3" height="15.9" fill="#074d5e"/>
<rect x="1228.0" y="1577.5" width="15.3" height="15.9" fill="#084e5d"/>
<rect x="1257.8" y="1577.5" width="15.3" height="15.9" fill="#09505b"/>
<rect x="1272.6" y="1577.5" width="15.3" height="15.9" fill="#0a5259"/>
<rect x="1287.5" y="1577.5" width="15.3" height="15.9" fill="#0b5655"/>
<rect x="1302.3" y="1577.5" width="15.3" height="15.9" fill="#0d5952"/>
<rect x="1317.2" y="1577.5" width="15.3" height="15.9" fill="#0e5c4f"/>
<rect x="1346.9" y="1577.5" width="15.3" height="15.9" fill="#0d5953"/>
<rect x="871.5" y="1593.0" width="15.3" height="15.9" fill="#013b70"/>
<rect x="901.3" y="1593.0" width="15.3" height="15.9" fill="#003c6e"/>
<rect x="931.0" y="1593.0" width="15.3" height="15.9" fill="#023f6b"/>
<rect x="945.8" y="1593.0" width="30.1" height="15.9" fill="#013d6d"/>
<rect x="975.5" y="1593.0" width="15.3" height="15.9" fill="#013c6e"/>
<rect x="990.4" y="1593.0" width="15.3" height="15.9" fill="#02406a"/>
<rect x="1005.2" y="1593.0" width="15.3" height="15.9" fill="#034268"/>
<rect x="1020.1" y="1593.0" width="15.3" height="15.9" fill="#064862"/>
<rect x="1034.9" y="1593.0" width="30.1" height="15.9" fill="#054863"/>
<rect x="1064.7" y="1593.0" width="30.1" height="15.9" fill="#064962"/>
<rect x="1094.4" y="1593.0" width="15.3" height="15.9" fill="#044565"/>
<rect x="1109.2" y="1593.0" width="15.3" height="15.9" fill="#054863"/>
<rect x="1124.1" y="1593.0" width="15.3" height="15.9" fill="#02406a"/>
<rect x="1138.9" y="1593.0" width="30.1" height="15.9" fill="#054763"/>
<rect x="1168.6" y="1593.0" width="15.3" height="15.9" fill="#044565"/>
<rect x="1213.2" y="1593.0" width="15.3" height="15.9" fill="#09505b"/>
<rect x="1242.9" y="1593.0" width="15.3" height="15.9" fill="#0d5953"/>
<rect x="1257.8" y="1593.0" width="15.3" height="15.9" fill="#0b5556"/>
<rect x="1272.6" y="1593.0" width="15.3" height="15.9" fill="#0d5952"/>
<rect x="1287.5" y="1593.0" width="15.3" height="15.9" fill="#0c5754"/>
<rect x="1302.3" y="1593.0" width="15.3" height="15.9" fill="#0d5a51"/>
<rect x="901.3" y="1608.6" width="15.3" height="15.9" fill="#034268"/>
<rect x="945.8" y="1608.6" width="15.3" height="15.9" fill="#003b6f"/>
<rect x="960.7" y="1608.6" width="15.3" height="15.9" fill="#013e6c"/>
<rect x="975.5" y="1608.6" width="15.3" height="15.9" fill="#044466"/>
<rect x="990.4" y="1608.6" width="15.3" height="15.9" fill="#034368"/>
<rect x="1005.2" y="1608.6" width="15.3" height="15.9" fill="#023f6b"/>
<rect x="1020.1" y="1608.6" width="15.3" height="15.9" fill="#054665"/>
<rect x="1034.9" y="1608.6" width="15.3" height="15.9" fill="#034368"/>
<rect x="1049.8" y="1608.6" width="15.3" height="15.9" fill="#044565"/>
<rect x="1064.7" y="1608.6" width="15.3" height="15.9" fill="#044367"/>
<rect x="1079.5" y="1608.6" width="15.3" height="15.9" fill="#044566"/>
<rect x="1094.4" y="1608.6" width="15.3" height="15.9" fill="#044565"/>
<rect x="1109.2" y="1608.6" width="15.3" height="15.9" fill="#044467"/>
<rect x="1124.1" y="1608.6" width="15.3" height="15.9" fill="#034169"/>
<rect x="1138.9" y="1608.6" width="15.3" height="15.9" fill="#034268"/>
<rect x="1153.8" y="1608.6" width="15.3" height="15.9" fill="#074b5f"/>
<rect x="1168.6" y="1608.6" width="15.3" height="15.9" fill="#064961"/>
<rect x="1183.5" y="1608.6" width="15.3" height="15.9" fill="#054664"/>
<rect x="1198.3" y="1608.6" width="15.3" height="15.9" fill="#0a5259"/>
<rect x="1302.3" y="1608.6" width="15.3" height="15.9" fill="#0f5f4d"/>
<rect x="1317.2" y="1608.6" width="15.3" height="15.9" fill="#10614a"/>
<rect x="1332.0" y="1608.6" width="15.3" height="15.9" fill="#146a41"/>
<rect x="916.1" y="1624.1" width="15.3" height="15.9" fill="#013e6c"/>
<rect x="931.0" y="1624.1" width="15.3" height="15.9" fill="#034169"/>
<rect x="945.8" y="1624.1" width="15.3" height="15.9" fill="#034367"/>
<rect x="960.7" y="1624.1" width="15.3" height="15.9" fill="#02406a"/>
<rect x="975.5" y="1624.1" width="15.3" height="15.9" fill="#044566"/>
<rect x="990.4" y="1624.1" width="15.3" height="15.9" fill="#02406a"/>
<rect x="1005.2" y="1624.1" width="15.3" height="15.9" fill="#044566"/>
<rect x="1020.1" y="1624.1" width="15.3" height="15.9" fill="#054665"/>
<rect x="1034.9" y="1624.1" width="15.3" height="15.9" fill="#02406a"/>
<rect x="1049.8" y="1624.1" width="15.3" height="15.9" fill="#044466"/>
<rect x="1064.7" y="1624.1" width="15.3" height="15.9" fill="#02406a"/>
<rect x="1079.5" y="1624.1" width="15.3" height="15.9" fill="#044466"/>
<rect x="1094.4" y="1624.1" width="15.3" height="15.9" fill="#064961"/>
<rect x="1109.2" y="1624.1" width="15.3" height="15.9" fill="#054664"/>
<rect x="1124.1" y="1624.1" width="15.3" height="15.9" fill="#064862"/>
<rect x="1138.9" y="1624.1" width="15.3" height="15.9" fill="#064961"/>
<rect x="1153.8" y="1624.1" width="15.3" height="15.9" fill="#044367"/>
<rect x="1168.6" y="1624.1" width="15.3" height="15.9" fill="#084f5c"/>
<rect x="1183.5" y="1624.1" width="15.3" height="15.9" fill="#084e5d"/>
<rect x="1198.3" y="1624.1" width="15.3" height="15.9" fill="#064a61"/>
<rect x="1213.2" y="1624.1" width="15.3" height="15.9" fill="#0b5556"/>
<rect x="1228.0" y="1624.1" width="30.1" height="15.9" fill="#0b5457"/>
<rect x="1257.8" y="1624.1" width="15.3" height="15.9" fill="#10604b"/>
<rect x="1272.6" y="1624.1" width="15.3" height="15.9" fill="#0f5f4c"/>
<rect x="1287.5" y="1624.1" width="15.3" height="15.9" fill="#126546"/>
<rect x="1302.3" y="1624.1" width="15.3" height="15.9" fill="#116349"/>
<rect x="1317.2" y="1624.1" width="15.3" height="15.9" fill="#166f3d"/>
<rect x="1332.0" y="1624.1" width="15.3" height="15.9" fill="#156c40"/>
<rect x="1361.7" y="1624.1" width="15.3" height="15.9" fill="#1a7735"/>
<rect x="1391.4" y="1624.1" width="15.3" height="15.9" fill="#1d802d"/>
<rect x="1436.0" y="1624.1" width="15.3" height="15.9" fill="#1e812c"/>
<rect x="1465.7" y="1624.1" width="15.3" height="15.9" fill="#218825"/>
<rect x="1495.4" y="1624.1" width="15.3" height="15.9" fill="#1f8428"/>
<rect x="1673.7" y="1624.1" width="15.3" height="15.9" fill="#208627"/>
<rect x="931.0" y="1639.6" width="15.3" height="15.9" fill="#054664"/>
<rect x="945.8" y="1639.6" width="15.3" height="15.9" fill="#034367"/>
<rect x="960.7" y="1639.6" width="15.3" height="15.9" fill="#064962"/>
<rect x="975.5" y="1639.6" width="15.3" height="15.9" fill="#054664"/>
<rect x="990.4" y="1639.6" width="15.3" height="15.9" fill="#064961"/>
<rect x="1005.2" y="1639.6" width="15.3" height="15.9" fill="#054664"/>
<rect x="1020.1" y="1639.6" width="15.3" height="15.9" fill="#064a60"/>
<rect x="1034.9" y="1639.6" width="15.3" height="15.9" fill="#064a61"/>
<rect x="1049.8" y="1639.6" width="15.3" height="15.9" fill="#034268"/>
<rect x="1064.7" y="1639.6" width="15.3" height="15.9" fill="#064862"/>
<rect x="1079.5" y="1639.6" width="15.3" height="15.9" fill="#044466"/>
<rect x="1094.4" y="1639.6" width="15.3" height="15.9" fill="#064962"/>
<rect x="1109.2" y="1639.6" width="15.3" height="15.9" fill="#064862"/>
<rect x="1124.1" y="1639.6" width="15.3" height="15.9" fill="#064a61"/>
<rect x="1138.9" y="1639.6" width="15.3" height="15.9" fill="#034368"/>
<rect x="1153.8" y="1639.6" width="15.3" height="15.9" fill="#054764"/>
<rect x="1168.6" y="1639.6" width="15.3" height="15.9" fill="#074c5e"/>
<rect x="1183.5" y="1639.6" width="30.1" height="15.9" fill="#09515a"/>
<rect x="1213.2" y="1639.6" width="15.3" height="15.9" fill="#084d5e"/>
<rect x="1228.0" y="1639.6" width="15.3" height="15.9" fill="#0c5754"/>
<rect x="1242.9" y="1639.6" width="15.3" height="15.9" fill="#0b5457"/>
<rect x="1257.8" y="1639.6" width="15.3" height="15.9" fill="#0e5d4e"/>
<rect x="1272.6" y="1639.6" width="15.3" height="15.9" fill="#116448"/>
<rect x="1317.2" y="1639.6" width="15.3" height="15.9" fill="#156c40"/>
<rect x="1332.0" y="1639.6" width="15.3" height="15.9" fill="#1b7a32"/>
<rect x="1376.6" y="1639.6" width="15.3" height="15.9" fill="#1f8429"/>
<rect x="1391.4" y="1639.6" width="15.3" height="15.9" fill="#1e812c"/>
<rect x="1406.3" y="1639.6" width="15.3" height="15.9" fill="#1e822b"/>
<rect x="1421.1" y="1639.6" width="15.3" height="15.9" fill="#208527"/>
<rect x="1450.9" y="1639.6" width="15.3" height="15.9" fill="#228b22"/>
<rect x="1465.7" y="1639.6" width="15.3" height="15.9" fill="#218825"/>
<rect x="1480.6" y="1639.6" width="15.3" height="15.9" fill="#1f832a"/>
<rect x="1495.4" y="1639.6" width="15.3" height="15.9" fill="#1e822b"/>
<rect x="1510.3" y="1639.6" width="15.3" height="15.9" fill="#1f832a"/>
<rect x="1525.1" y="1639.6" width="15.3" height="15.9" fill="#228b22"/>
<rect x="1540.0" y="1639.6" width="15.3" height="15.9" fill="#1f8429"/>
<rect x="1554.8" y="1639.6" width="15.3" height="15.9" fill="#218825"/>
<rect x="1569.7" y="1639.6" width="15.3" height="15.9" fill="#208527"/>
<rect x="1584.5" y="1639.6" width="15.3" height="15.9" fill="#228a23"/>
<rect x="1599.4" y="1639.6" width="15.3" height="15.9" fill="#208626"/>
<rect x="1614.2" y="1639.6" width="15.3" height="15.9" fill="#1f8429"/>
<rect x="1629.1" y="1639.6" width="15.3" height="15.9" fill="#228b22"/>
<rect x="1644.0" y="1639.6" width="15.3" height="15.9" fill="#218825"/>
<rect x="1658.8" y="1639.6" width="15.3" height="15.9" fill="#228a23"/>
<rect x="975.5" y="1655.1" width="15.3" height="15.9" fill="#064961"/>
<rect x="1034.9" y="1655.1" width="15.3" height="15.9" fill="#074b5f"/>
<rect x="1049.8" y="1655.1" width="15.3" height="15.9" fill="#024169"/>
<rect x="1079.5" y="1655.1" width="15.3" height="15.9" fill="#044466"/>
<rect x="1094.4" y="1655.1" width="15.3" height="15.9" fill="#034268"/>
<rect x="1109.2" y="1655.1" width="15.3" height="15.9" fill="#054664"/>
<rect x="1124.1" y="1655.1" width="30.1" height="15.9" fill="#074b60"/>
<rect x="1153.8" y="1655.1" width="15.3" height="15.9" fill="#034367"/>
<rect x="1168.6" y="1655.1" width="15.3" height="15.9" fill="#054664"/>
<rect x="1183.5" y="1655.1" width="15.3" height="15.9" fill="#094f5b"/>
<rect x="1198.3" y="1655.1" width="15.3" height="15.9" fill="#09505a"/>
<rect x="1213.2" y="1655.1" width="15.3" height="15.9" fill="#09505b"/>
<rect x="1228.0" y="1655.1" width="30.1" height="15.9" fill="#0b5457"/>
<rect x="1257.8" y="1655.1" width="15.3" height="15.9" fill="#10604b"/>
<rect x="1287.5" y="1655.1" width="15.3" height="15.9" fill="#126547"/>
<rect x="1302.3" y="1655.1" width="15.3" height="15.9" fill="#17703c"/>
<rect x="1317.2" y="1655.1" width="30.1" height="15.9" fill="#187339"/>
<rect x="1346.9" y="1655.1" width="15.3" height="15.9" fill="#1b7b31"/>
<rect x="1361.7" y="1655.1" width="15.3" height="15.9" fill="#1c7d2f"/>
<rect x="1376.6" y="1655.1" width="15.3" height="15.9" fill="#218825"/>
<rect x="1391.4" y="1655.1" width="15.3" height="15.9" fill="#208627"/>
<rect x="1406.3" y="1655.1" width="15.3" height="15.9" fill="#1e812c"/>
<rect x="1436.0" y="1655.1" width="15.3" height="15.9" fill="#1e832a"/>
<rect x="1450.9" y="1655.1" width="15.3" height="15.9" fill="#1f8528"/>
<rect x="1480.6" y="1655.1" width="15.3" height="15.9" fill="#208626"/>
<rect x="1510.3" y="1655.1" width="15.3" height="15.9" fill="#218825"/>
<rect x="1525.1" y="1655.1" width="30.1" height="15.9" fill="#208627"/>
<rect x="1554.8" y="1655.1" width="15.3" height="15.9" fill="#1e822b"/>
<rect x="1569.7" y="1655.1" width="15.3" height="15.9" fill="#218924"/>
<rect x="1584.5" y="1655.1" width="15.3" height="15.9" fill="#208627"/>
<rect x="1599.4" y="1655.1" width="15.3" height="15.9" fill="#1e822a"/>
<rect x="1614.2" y="1655.1" width="15.3" height="15.9" fill="#208726"/>
<rect x="1629.1" y="1655.1" width="15.3" height="15.9" fill="#228b22"/>
<rect x="1644.0" y="1655.1" width="15.3" height="15.9" fill="#1e832a"/>
<rect x="1658.8" y="1655.1" width="15.3" height="15.9" fill="#1f8429"/>
<rect x="1673.7" y="1655.1" width="15.3" height="15.9" fill="#218a23"/>
<rect x="1688.5" y="1655.1" width="15.3" height="15.9" fill="#208528"/>
<rect x="1718.2" y="1655.1" width="15.3" height="15.9" fill="#208528"/>
<rect x="1747.9" y="1655.1" width="15.3" height="15.9" fill="#218825"/>
<rect x="1762.8" y="1655.1" width="15.3" height="15.9" fill="#208528"/>
<rect x="975.5" y="1670.6" width="15.3" height="15.9" fill="#054863"/>
<rect x="1020.1" y="1670.6" width="15.3" height="15.9" fill="#054763"/>
<rect x="1034.9" y="1670.6" width="15.3" height="15.9" fill="#074c5f"/>
<rect x="1049.8" y="1670.6" width="15.3" height="15.9" fill="#074c5e"/>
<rect x="1064.7" y="1670.6" width="15.3" height="15.9" fill="#034269"/>
<rect x="1079.5" y="1670.6" width="15.3" height="15.9" fill="#054763"/>
<rect x="1094.4" y="1670.6" width="15.3" height="15.9" fill="#064a61"/>
<rect x="1109.2" y="1670.6" width="15.3" height="15.9" fill="#074b60"/>
<rect x="1124.1" y="1670.6" width="15.3" height="15.9" fill="#064a61"/>
<rect x="1138.9" y="1670.6" width="15.3" height="15.9" fill="#064962"/>
<rect x="1153.8" y="1670.6" width="15.3" height="15.9" fill="#064a61"/>
<rect x="1168.6" y="1670.6" width="15.3" height="15.9" fill="#064862"/>
<rect x="1183.5" y="1670.6" width="15.3" height="15.9" fill="#064961"/>
<rect x="1198.3" y="1670.6" width="15.3" height="15.9" fill="#09515a"/>
<rect x="1213.2" y="1670.6" width="15.3" height="15.9" fill="#0b5457"/>
<rect x="1228.0" y="1670.6" width="45.0" height="15.9" fill="#0c5853"/>
<rect x="1272.6" y="1670.6" width="15.3" height="15.9" fill="#116249"/>
<rect x="1287.5" y="1670.6" width="15.3" height="15.9" fill="#136744"/>
<rect x="1302.3" y="1670.6" width="15.3" height="15.9" fill="#156b40"/>
<rect x="1317.2" y="1670.6" width="15.3" height="15.9" fill="#187339"/>
<rect x="1332.0" y="1670.6" width="15.3" height="15.9" fill="#197736"/>
<rect x="1346.9" y="1670.6" width="15.3" height="15.9" fill="#1c7e2f"/>
<rect x="1361.7" y="1670.6" width="15.3" height="15.9" fill="#1d802d"/>
<rect x="1376.6" y="1670.6" width="15.3" height="15.9" fill="#1d7e2e"/>
<rect x="1391.4" y="1670.6" width="15.3" height="15.9" fill="#1f832a"/>
<rect x="1406.3" y="1670.6" width="15.3" height="15.9" fill="#1f8329"/>
<rect x="1436.0" y="1670.6" width="15.3" height="15.9" fill="#228b22"/>
<rect x="1465.7" y="1670.6" width="15.3" height="15.9" fill="#208627"/>
<rect x="1480.6" y="1670.6" width="15.3" height="15.9" fill="#1f8528"/>
<rect x="1495.4" y="1670.6" width="30.1" height="15.9" fill="#1f8429"/>
<rect x="1525.1" y="1670.6" width="15.3" height="15.9" fill="#208527"/>
<rect x="1540.0" y="1670.6" width="15.3" height="15.9" fill="#1f8329"/>
<rect x="1554.8" y="1670.6" width="15.3" height="15.9" fill="#1e822b"/>
<rect x="1569.7" y="1670.6" width="15.3" height="15.9" fill="#228b22"/>
<rect x="1584.5" y="1670.6" width="30.1" height="15.9" fill="#208726"/>
<rect x="1614.2" y="1670.6" width="15.3" height="15.9" fill="#218924"/>
<rect x="1629.1" y="1670.6" width="15.3" height="15.9" fill="#208627"/>
<rect x="1644.0" y="1670.6" width="15.3" height="15.9" fill="#1f8429"/>
<rect x="1658.8" y="1670.6" width="15.3" height="15.9" fill="#1f832a"/>
<rect x="1673.7" y="1670.6" width="30.1" height="15.9" fill="#208627"/>
<rect x="1703.4" y="1670.6" width="15.3" height="15.9" fill="#228a23"/>
<rect x="1718.2" y="1670.6" width="15.3" height="15.9" fill="#218825"/>
<rect x="1733.1" y="1670.6" width="15.3" height="15.9" fill="#228b22"/>
<rect x="1777.6" y="1670.6" width="15.3" height="15.9" fill="#208627"/>
<rect x="960.7" y="1686.2" width="15.3" height="15.9" fill="#084d5e"/>
<rect x="975.5" y="1686.2" width="15.3" height="15.9" fill="#064962"/>
<rect x="990.4" y="1686.2" width="15.3" height="15.9" fill="#034367"/>
<rect x="1005.2" y="1686.2" width="15.3" height="15.9" fill="#044466"/>
<rect x="1020.1" y="1686.2" width="15.3" height="15.9" fill="#064862"/>
<rect x="1034.9" y="1686.2" width="15.3" height="15.9" fill="#084d5e"/>
<rect x="1049.8" y="1686.2" width="15.3" height="15.9" fill="#054664"/>
<rect x="1064.7" y="1686.2" width="15.3" height="15.9" fill="#074b60"/>
<rect x="1079.5" y="1686.2" width="15.3" height="15.9" fill="#054764"/>
<rect x="1094.4" y="1686.2" width="15.3" height="15.9" fill="#074b5f"/>
<rect x="1109.2" y="1686.2" width="15.3" height="15.9" fill="#034268"/>
<rect x="1124.1" y="1686.2" width="15.3" height="15.9" fill="#054763"/>
<rect x="1138.9" y="1686.2" width="15.3" height="15.9" fill="#074c5e"/>
<rect x="1153.8" y="1686.2" width="15.3" height="15.9" fill="#054664"/>
<rect x="1168.6" y="1686.2" width="15.3" height="15.9" fill="#054764"/>
<rect x="1183.5" y="1686.2" width="15.3" height="15.9" fill="#054665"/>
<rect x="1198.3" y="1686.2" width="15.3" height="15.9" fill="#064962"/>
<rect x="1213.2" y="1686.2" width="15.3" height="15.9" fill="#074c5f"/>
<rect x="1228.0" y="1686.2" width="15.3" height="15.9" fill="#0a5358"/>
<rect x="1242.9" y="1686.2" width="15.3" height="15.9" fill="#09515a"/>
<rect x="1257.8" y="1686.2" width="15.3" height="15.9" fill="#0b5655"/>
<rect x="1272.6" y="1686.2" width="15.3" height="15.9" fill="#0c5853"/>
<rect x="1287.5" y="1686.2" width="15.3" height="15.9" fill="#116249"/>
<rect x="1302.3" y="1686.2" width="15.3" height="15.9" fill="#156c40"/>
<rect x="1317.2" y="1686.2" width="15.3" height="15.9" fill="#17713b"/>
<rect x="1332.0" y="1686.2" width="15.3" height="15.9" fill="#18733a"/>
<rect x="1346.9" y="1686.2" width="15.3" height="15.9" fill="#1d7e2e"/>
<rect x="1361.7" y="1686.2" width="15.3" height="15.9" fill="#1f8528"/>
<rect x="1376.6" y="1686.2" width="15.3" height="15.9" fill="#1f8329"/>
<rect x="1391.4" y="1686.2" width="15.3" height="15.9" fill="#1d7f2d"/>
<rect x="1406.3" y="1686.2" width="15.3" height="15.9" fill="#218825"/>
<rect x="1421.1" y="1686.2" width="15.3" height="15.9" fill="#218924"/>
<rect x="1450.9" y="1686.2" width="15.3" height="15.9" fill="#1f832a"/>
<rect x="1465.7" y="1686.2" width="15.3" height="15.9" fill="#1e812c"/>
<rect x="1480.6" y="1686.2" width="15.3" height="15.9" fill="#1e822b"/>
<rect x="1495.4" y="1686.2" width="15.3" height="15.9" fill="#208627"/>
<rect x="1510.3" y="1686.2" width="15.3" height="15.9" fill="#228a23"/>
<rect x="1525.1" y="1686.2" width="15.3" height="15.9" fill="#218825"/>
<rect x="1540.0" y="1686.2" width="15.3" height="15.9" fill="#228b22"/>
<rect x="1554.8" y="1686.2" width="15.3" height="15.9" fill="#1f8429"/>
<rect x="1569.7" y="1686.2" width="15.3" height="15.9" fill="#208627"/>
<rect x="1584.5" y="1686.2" width="15.3" height="15.9" fill="#228a23"/>
<rect x="1599.4" y="1686.2" width="15.3" height="15.9" fill="#218924"/>
<rect x="1614.2" y="1686.2" width="15.3" height="15.9" fill="#208726"/>
<rect x="1629.1" y="1686.2" width="15.3" height="15.9" fill="#218a23"/>
<rect x="1644.0" y="1686.2" width="15.3" height="15.9" fill="#208627"/>
<rect x="1658.8" y="1686.2" width="15.3" height="15.9" fill="#1f832a"/>
<rect x="1673.7" y="1686.2" width="15.3" height="15.9" fill="#208726"/>
<rect x="1688.5" y="1686.2" width="15.3" height="15.9" fill="#1e832a"/>
<rect x="1703.4" y="1686.2" width="15.3" height="15.9" fill="#218924"/>
<rect x="1718.2" y="1686.2" width="15.3" height="15.9" fill="#208627"/>
<rect x="1733.1" y="1686.2" width="15.3" height="15.9" fill="#218825"/>
<rect x="1747.9" y="1686.2" width="15.3" height="15.9" fill="#218924"/>
<rect x="1762.8" y="1686.2" width="15.3" height="15.9" fill="#1f8528"/>
<rect x="1777.6" y="1686.2" width="15.3" height="15.9" fill="#208725"/>
<rect x="960.7" y="1701.7" width="15.3" height="15.9" fill="#044566"/>
<rect x="975.5" y="1701.7" width="15.3" height="15.9" fill="#084e5d"/>
<rect x="990.4" y="1701.7" width="15.3" height="15.9" fill="#064961"/>
<rect x="1005.2" y="1701.7" width="15.3" height="15.9" fill="#084e5d"/>
<rect x="1020.1" y="1701.7" width="15.3" height="15.9" fill="#044467"/>
<rect x="1034.9" y="1701.7" width="15.3" height="15.9" fill="#064a61"/>
<rect x="1049.8" y="1701.7" width="15.3" height="15.9" fill="#074b60"/>
<rect x="1064.7" y="1701.7" width="15.3" height="15.9" fill="#054764"/>
<rect x="1079.5" y="1701.7" width="15.3" height="15.9" fill="#044467"/>
<rect x="1094.4" y="1701.7" width="30.1" height="15.9" fill="#044466"/>
<rect x="1138.9" y="1701.7" width="15.3" height="15.9" fill="#074b5f"/>
<rect x="1153.8" y="1701.7" width="15.3" height="15.9" fill="#044466"/>
<rect x="1168.6" y="1701.7" width="15.3" height="15.9" fill="#084d5e"/>
<rect x="1183.5" y="1701.7" width="15.3" height="15.9" fill="#064a61"/>
<rect x="1198.3" y="1701.7" width="15.3" height="15.9" fill="#074c5e"/>
<rect x="1213.2" y="1701.7" width="15.3" height="15.9" fill="#084e5d"/>
<rect x="1228.0" y="1701.7" width="15.3" height="15.9" fill="#094f5b"/>
<rect x="1242.9" y="1701.7" width="15.3" height="15.9" fill="#0a5358"/>
<rect x="1257.8" y="1701.7" width="30.1" height="15.9" fill="#0b5556"/>
<rect x="1287.5" y="1701.7" width="15.3" height="15.9" fill="#0f5f4c"/>
<rect x="1302.3" y="1701.7" width="15.3" height="15.9" fill="#10604c"/>
<rect x="1317.2" y="1701.7" width="15.3" height="15.9" fill="#156c40"/>
<rect x="1332.0" y="1701.7" width="15.3" height="15.9" fill="#187438"/>
<rect x="1346.9" y="1701.7" width="15.3" height="15.9" fill="#1b7b31"/>
<rect x="1361.7" y="1701.7" width="15.3" height="15.9" fill="#1b7b32"/>
<rect x="1376.6" y="1701.7" width="15.3" height="15.9" fill="#1f832a"/>
<rect x="1391.4" y="1701.7" width="15.3" height="15.9" fill="#208726"/>
<rect x="1406.3" y="1701.7" width="15.3" height="15.9" fill="#1e822a"/>
<rect x="1421.1" y="1701.7" width="15.3" height="15.9" fill="#1e812c"/>
<rect x="1436.0" y="1701.7" width="15.3" height="15.9" fill="#1f8329"/>
<rect x="1450.9" y="1701.7" width="15.3" height="15.9" fill="#218825"/>
<rect x="1465.7" y="1701.7" width="15.3" height="15.9" fill="#1d7f2d"/>
<rect x="1480.6" y="1701.7" width="15.3" height="15.9" fill="#1d7e2e"/>
<rect x="1495.4" y="1701.7" width="15.3" height="15.9" fill="#1f8429"/>
<rect x="1510.3" y="1701.7" width="15.3" height="15.9" fill="#208726"/>
<rect x="1525.1" y="1701.7" width="15.3" height="15.9" fill="#218924"/>
<rect x="1540.0" y="1701.7" width="15.3" height="15.9" fill="#1f8528"/>
<rect x="1554.8" y="1701.7" width="15.3" height="15.9" fill="#228b22"/>
<rect x="1569.7" y="1701.7" width="15.3" height="15.9" fill="#1f8429"/>
<rect x="1584.5" y="1701.7" width="15.3" height="15.9" fill="#228a23"/>
<rect x="1599.4" y="1701.7" width="15.3" height="15.9" fill="#1f832a"/>
<rect x="1614.2" y="1701.7" width="15.3" height="15.9" fill="#1e822a"/>
<rect x="1629.1" y="1701.7" width="15.3" height="15.9" fill="#1f8429"/>
<rect x="1644.0" y="1701.7" width="15.3" height="15.9" fill="#1f832a"/>
<rect x="1658.8" y="1701.7" width="30.1" height="15.9" fill="#218825"/>
<rect x="1688.5" y="1701.7" width="15.3" height="15.9" fill="#1f8429"/>
<rect x="1703.4" y="1701.7" width="15.3" height="15.9" fill="#228b22"/>
<rect x="1718.2" y="1701.7" width="15.3" height="15.9" fill="#208627"/>
<rect x="1733.1" y="1701.7" width="30.1" height="15.9" fill="#1f8429"/>
<rect x="1762.8" y="1701.7" width="15.3" height="15.9" fill="#228a23"/>
<rect x="960.7" y="1717.2" width="15.3" height="15.9" fill="#0a5358"/>
<rect x="975.5" y="1717.2" width="15.3" height="15.9" fill="#064863"/>
<rect x="990.4" y="1717.2" width="15.3" height="15.9" fill="#054665"/>
<rect x="1034.9" y="1717.2" width="15.3" height="15.9" fill="#084d5d"/>
<rect x="1049.8" y="1717.2" width="15.3" height="15.9" fill="#054763"/>
<rect x="1064.7" y="1717.2" width="15.3" height="15.9" fill="#094f5b"/>
<rect x="1079.5" y="1717.2" width="15.3" height="15.9" fill="#064a61"/>
<rect x="1124.1" y="1717.2" width="15.3" height="15.9" fill="#074a60"/>
<rect x="1138.9" y="1717.2" width="15.3" height="15.9" fill="#054763"/>
<rect x="1153.8" y="1717.2" width="15.3" height="15.9" fill="#074d5e"/>
<rect x="1168.6" y="1717.2" width="15.3" height="15.9" fill="#064961"/>
<rect x="1213.2" y="1717.2" width="15.3" height="15.9" fill="#064a61"/>
<rect x="1228.0" y="1717.2" width="15.3" height="15.9" fill="#0a5259"/>
<rect x="1242.9" y="1717.2" width="15.3" height="15.9" fill="#064a60"/>
<rect x="1257.8" y="1717.2" width="15.3" height="15.9" fill="#0a5358"/>
<rect x="1272.6" y="1717.2" width="15.3" height="15.9" fill="#084e5c"/>
<rect x="1287.5" y="1717.2" width="15.3" height="15.9" fill="#0d5952"/>
<rect x="1302.3" y="1717.2" width="15.3" height="15.9" fill="#0e5b50"/>
<rect x="1317.2" y="1717.2" width="15.3" height="15.9" fill="#136744"/>
<rect x="1332.0" y="1717.2" width="15.3" height="15.9" fill="#126646"/>
<rect x="1346.9" y="1717.2" width="15.3" height="15.9" fill="#187339"/>
<rect x="1376.6" y="1717.2" width="15.3" height="15.9" fill="#1b7b31"/>
<rect x="1391.4" y="1717.2" width="15.3" height="15.9" fill="#1f8329"/>
<rect x="1406.3" y="1717.2" width="15.3" height="15.9" fill="#1f8528"/>
<rect x="1421.1" y="1717.2" width="15.3" height="15.9" fill="#1e822b"/>
<rect x="1436.0" y="1717.2" width="15.3" height="15.9" fill="#1c7e2f"/>
<rect x="1450.9" y="1717.2" width="15.3" height="15.9" fill="#1d7f2e"/>
<rect x="1465.7" y="1717.2" width="15.3" height="15.9" fill="#1d7f2d"/>
<rect x="1480.6" y="1717.2" width="15.3" height="15.9" fill="#1e822b"/>
<rect x="1495.4" y="1717.2" width="15.3" height="15.9" fill="#1d802c"/>
<rect x="1540.0" y="1717.2" width="15.3" height="15.9" fill="#1e832a"/>
<rect x="1554.8" y="1717.2" width="30.1" height="15.9" fill="#218924"/>
<rect x="1584.5" y="1717.2" width="15.3" height="15.9" fill="#1f8528"/>
<rect x="1599.4" y="1717.2" width="15.3" height="15.9" fill="#228b22"/>
<rect x="1614.2" y="1717.2" width="15.3" height="15.9" fill="#1f8428"/>
<rect x="1629.1" y="1717.2" width="15.3" height="15.9" fill="#218825"/>
<rect x="1644.0" y="1717.2" width="15.3" height="15.9" fill="#1f8429"/>
<rect x="1658.8" y="1717.2" width="30.1" height="15.9" fill="#228b22"/>
<rect x="1688.5" y="1717.2" width="15.3" height="15.9" fill="#208528"/>
<rect x="1703.4" y="1717.2" width="30.1" height="15.9" fill="#228b22"/>
<rect x="1733.1" y="1717.2" width="15.3" height="15.9" fill="#208527"/>
<rect x="1747.9" y="1717.2" width="15.3" height="15.9" fill="#208627"/>
<rect x="1762.8" y="1717.2" width="15.3" height="15.9" fill="#218825"/>
<rect x="975.5" y="1732.7" width="15.3" height="15.9" fill="#0b5556"/>
<rect x="990.4" y="1732.7" width="15.3" height="15.9" fill="#074b60"/>
<rect x="1064.7" y="1732.7" width="15.3" height="15.9" fill="#084e5c"/>
<rect x="1079.5" y="1732.7" width="15.3" height="15.9" fill="#084d5e"/>
<rect x="1109.2" y="1732.7" width="15.3" height="15.9" fill="#074b60"/>
<rect x="1124.1" y="1732.7" width="15.3" height="15.9" fill="#074b5f"/>
<rect x="1138.9" y="1732.7" width="15.3" height="15.9" fill="#084f5c"/>
<rect x="1153.8" y="1732.7" width="15.3" height="15.9" fill="#054764"/>
<rect x="1168.6" y="1732.7" width="15.3" height="15.9" fill="#084e5c"/>
<rect x="1183.5" y="1732.7" width="15.3" height="15.9" fill="#064962"/>
<rect x="1198.3" y="1732.7" width="15.3" height="15.9" fill="#084e5d"/>
<rect x="1213.2" y="1732.7" width="15.3" height="15.9" fill="#094f5b"/>
<rect x="1228.0" y="1732.7" width="15.3" height="15.9" fill="#064862"/>
<rect x="1242.9" y="1732.7" width="15.3" height="15.9" fill="#09515a"/>
<rect x="1257.8" y="1732.7" width="15.3" height="15.9" fill="#0b5457"/>
<rect x="1272.6" y="1732.7" width="30.1" height="15.9" fill="#084e5d"/>
<rect x="1302.3" y="1732.7" width="15.3" height="15.9" fill="#0a5358"/>
<rect x="1317.2" y="1732.7" width="15.3" height="15.9" fill="#116249"/>
<rect x="1421.1" y="1732.7" width="15.3" height="15.9" fill="#1a7834"/>
<rect x="1450.9" y="1732.7" width="15.3" height="15.9" fill="#1f8429"/>
<rect x="1465.7" y="1732.7" width="15.3" height="15.9" fill="#1c7c30"/>
<rect x="1495.4" y="1732.7" width="15.3" height="15.9" fill="#1f8528"/>
<rect x="1510.3" y="1732.7" width="15.3" height="15.9" fill="#1d7f2e"/>
<rect x="1525.1" y="1732.7" width="15.3" height="15.9" fill="#1e802c"/>
<rect x="1540.0" y="1732.7" width="15.3" height="15.9" fill="#208726"/>
<rect x="1554.8" y="1732.7" width="15.3" height="15.9" fill="#1e812b"/>
<rect x="1569.7" y="1732.7" width="15.3" height="15.9" fill="#1f8528"/>
<rect x="1584.5" y="1732.7" width="15.3" height="15.9" fill="#228b22"/>
<rect x="1644.0" y="1732.7" width="15.3" height="15.9" fill="#228a23"/>
<rect x="1658.8" y="1732.7" width="30.1" height="15.9" fill="#228b22"/>
<rect x="1688.5" y="1732.7" width="15.3" height="15.9" fill="#1e832a"/>
<rect x="1703.4" y="1732.7" width="15.3" height="15.9" fill="#1f8528"/>
<rect x="1718.2" y="1732.7" width="15.3" height="15.9" fill="#228b22"/>
<rect x="1762.8" y="1732.7" width="15.3" height="15.9" fill="#228a23"/>
<rect x="797.3" y="1748.2" width="15.3" height="15.9" fill="#166f3d"/>
<rect x="812.1" y="1748.2" width="15.3" height="15.9" fill="#187438"/>
<rect x="827.0" y="1748.2" width="15.3" height="15.9" fill="#17713b"/>
<rect x="856.7" y="1748.2" width="15.3" height="15.9" fill="#187339"/>
<rect x="945.8" y="1748.2" width="15.3" height="15.9" fill="#0f5f4c"/>
<rect x="960.7" y="1748.2" width="15.3" height="15.9" fill="#0c5754"/>
<rect x="975.5" y="1748.2" width="15.3" height="15.9" fill="#0e5d4e"/>
<rect x="1005.2" y="1748.2" width="15.3" height="15.9" fill="#09515a"/>
<rect x="1020.1" y="1748.2" width="15.3" height="15.9" fill="#0b5655"/>
<rect x="1034.9" y="1748.2" width="15.3" height="15.9" fill="#074c5e"/>
<rect x="1049.8" y="1748.2" width="15.3" height="15.9" fill="#09505b"/>
<rect x="1079.5" y="1748.2" width="15.3" height="15.9" fill="#074b60"/>
<rect x="1094.4" y="1748.2" width="15.3" height="15.9" fill="#084e5d"/>
<rect x="1109.2" y="1748.2" width="15.3" height="15.9" fill="#064a60"/>
<rect x="1124.1" y="1748.2" width="15.3" height="15.9" fill="#094f5c"/>
<rect x="1138.9" y="1748.2" width="15.3" height="15.9" fill="#064862"/>
<rect x="1168.6" y="1748.2" width="15.3" height="15.9" fill="#084e5d"/>
<rect x="1183.5" y="1748.2" width="15.3" height="15.9" fill="#074b60"/>
<rect x="1198.3" y="1748.2" width="15.3" height="15.9" fill="#054764"/>
<rect x="1213.2" y="1748.2" width="15.3" height="15.9" fill="#064961"/>
<rect x="1228.0" y="1748.2" width="15.3" height="15.9" fill="#074b5f"/>
<rect x="1242.9" y="1748.2" width="15.3" height="15.9" fill="#09515a"/>
<rect x="1257.8" y="1748.2" width="30.1" height="15.9" fill="#074b5f"/>
<rect x="1287.5" y="1748.2" width="15.3" height="15.9" fill="#0b5655"/>
<rect x="1302.3" y="1748.2" width="15.3" height="15.9" fill="#0c5853"/>
<rect x="1317.2" y="1748.2" width="15.3" height="15.9" fill="#0d5b51"/>
<rect x="1421.1" y="1748.2" width="15.3" height="15.9" fill="#1a7735"/>
<rect x="1436.0" y="1748.2" width="15.3" height="15.9" fill="#1a7835"/>
<rect x="1450.9" y="1748.2" width="15.3" height="15.9" fill="#1b7a32"/>
<rect x="1465.7" y="1748.2" width="15.3" height="15.9" fill="#1a7933"/>
<rect x="1480.6" y="1748.2" width="15.3" height="15.9" fill="#1b7a32"/>
<rect x="1495.4" y="1748.2" width="30.1" height="15.9" fill="#1e812c"/>
<rect x="1525.1" y="1748.2" width="15.3" height="15.9" fill="#1f8429"/>
<rect x="1540.0" y="1748.2" width="15.3" height="15.9" fill="#1f832a"/>
<rect x="1554.8" y="1748.2" width="15.3" height="15.9" fill="#1d802d"/>
<rect x="1569.7" y="1748.2" width="30.1" height="15.9" fill="#218825"/>
<rect x="1629.1" y="1748.2" width="30.1" height="15.9" fill="#218825"/>
<rect x="1658.8" y="1748.2" width="15.3" height="15.9" fill="#218a23"/>
<rect x="1688.5" y="1748.2" width="30.1" height="15.9" fill="#228b22"/>
<rect x="1718.2" y="1748.2" width="15.3" height="15.9" fill="#228a23"/>
<rect x="1733.1" y="1748.2" width="15.3" height="15.9" fill="#208726"/>
<rect x="1747.9" y="1748.2" width="15.3" height="15.9" fill="#208627"/>
<rect x="782.4" y="1763.8" width="15.3" height="15.9" fill="#18733a"/>
<rect x="812.1" y="1763.8" width="15.3" height="15.9" fill="#1a7933"/>
<rect x="827.0" y="1763.8" width="15.3" height="15.9" fill="#187339"/>
<rect x="841.8" y="1763.8" width="15.3" height="15.9" fill="#18723a"/>
<rect x="945.8" y="1763.8" width="15.3" height="15.9" fill="#136843"/>
<rect x="960.7" y="1763.8" width="15.3" height="15.9" fill="#10604c"/>
<rect x="975.5" y="1763.8" width="15.3" height="15.9" fill="#126447"/>
<rect x="1005.2" y="1763.8" width="15.3" height="15.9" fill="#0a5358"/>
<rect x="1034.9" y="1763.8" width="15.3" height="15.9" fill="#0c5655"/>
<rect x="1049.8" y="1763.8" width="15.3" height="15.9" fill="#0d5952"/>
<rect x="1064.7" y="1763.8" width="15.3" height="15.9" fill="#09515a"/>
<rect x="1079.5" y="1763.8" width="15.3" height="15.9" fill="#0b5457"/>
<rect x="1109.2" y="1763.8" width="15.3" height="15.9" fill="#09505b"/>
<rect x="1124.1" y="1763.8" width="15.3" height="15.9" fill="#084d5e"/>
<rect x="1168.6" y="1763.8" width="15.3" height="15.9" fill="#064a61"/>
<rect x="1183.5" y="1763.8" width="15.3" height="15.9" fill="#064862"/>
<rect x="1198.3" y="1763.8" width="15.3" height="15.9" fill="#09505b"/>
<rect x="1213.2" y="1763.8" width="15.3" height="15.9" fill="#084f5c"/>
<rect x="1228.0" y="1763.8" width="15.3" height="15.9" fill="#09505b"/>
<rect x="1242.9" y="1763.8" width="15.3" height="15.9" fill="#054764"/>
<rect x="1257.8" y="1763.8" width="15.3" height="15.9" fill="#084f5c"/>
<rect x="1272.6" y="1763.8" width="15.3" height="15.9" fill="#074c5f"/>
<rect x="1287.5" y="1763.8" width="15.3" height="15.9" fill="#09515a"/>
<rect x="1302.3" y="1763.8" width="15.3" height="15.9" fill="#0a5259"/>
<rect x="1317.2" y="1763.8" width="15.3" height="15.9" fill="#0a5258"/>
<rect x="1332.0" y="1763.8" width="15.3" height="15.9" fill="#0f5e4d"/>
<rect x="1346.9" y="1763.8" width="15.3" height="15.9" fill="#0d5953"/>
<rect x="1361.7" y="1763.8" width="15.3" height="15.9" fill="#136745"/>
<rect x="1391.4" y="1763.8" width="30.1" height="15.9" fill="#17723a"/>
<rect x="1421.1" y="1763.8" width="15.3" height="15.9" fill="#197636"/>
<rect x="1436.0" y="1763.8" width="15.3" height="15.9" fill="#1c7d2f"/>
<rect x="1450.9" y="1763.8" width="15.3" height="15.9" fill="#197735"/>
<rect x="1465.7" y="1763.8" width="15.3" height="15.9" fill="#1c7d2f"/>
<rect x="1480.6" y="1763.8" width="15.3" height="15.9" fill="#1e812c"/>
<rect x="1495.4" y="1763.8" width="15.3" height="15.9" fill="#1d7e2e"/>
<rect x="1510.3" y="1763.8" width="15.3" height="15.9" fill="#1f8429"/>
<rect x="1525.1" y="1763.8" width="15.3" height="15.9" fill="#1e822b"/>
<rect x="1540.0" y="1763.8" width="15.3" height="15.9" fill="#1f8428"/>
<rect x="1554.8" y="1763.8" width="15.3" height="15.9" fill="#208626"/>
<rect x="1569.7" y="1763.8" width="15.3" height="15.9" fill="#218825"/>
<rect x="1584.5" y="1763.8" width="15.3" height="15.9" fill="#1f8428"/>
<rect x="1703.4" y="1763.8" width="15.3" height="15.9" fill="#218924"/>
<rect x="1718.2" y="1763.8" width="15.3" height="15.9" fill="#218825"/>
<rect x="1733.1" y="1763.8" width="15.3" height="15.9" fill="#1f8528"/>
<rect x="1747.9" y="1763.8" width="15.3" height="15.9" fill="#218924"/>
<rect x="782.4" y="1779.3" width="15.3" height="15.9" fill="#17713b"/>
<rect x="797.3" y="1779.3" width="15.3" height="15.9" fill="#1a7834"/>
<rect x="812.1" y="1779.3" width="15.3" height="15.9" fill="#187339"/>
<rect x="827.0" y="1779.3" width="15.3" height="15.9" fill="#197636"/>
<rect x="841.8" y="1779.3" width="15.3" height="15.9" fill="#187438"/>
<rect x="856.7" y="1779.3" width="15.3" height="15.9" fill="#187339"/>
<rect x="871.5" y="1779.3" width="15.3" height="15.9" fill="#16703c"/>
<rect x="931.0" y="1779.3" width="15.3" height="15.9" fill="#156c40"/>
<rect x="945.8" y="1779.3" width="15.3" height="15.9" fill="#17723a"/>
<rect x="960.7" y="1779.3" width="15.3" height="15.9" fill="#146943"/>
<rect x="975.5" y="1779.3" width="15.3" height="15.9" fill="#126547"/>
<rect x="1005.2" y="1779.3" width="15.3" height="15.9" fill="#0f5e4d"/>
<rect x="1020.1" y="1779.3" width="15.3" height="15.9" fill="#0f5f4c"/>
<rect x="1034.9" y="1779.3" width="15.3" height="15.9" fill="#0c5754"/>
<rect x="1049.8" y="1779.3" width="15.3" height="15.9" fill="#0b5556"/>
<rect x="1064.7" y="1779.3" width="15.3" height="15.9" fill="#0e5b50"/>
<rect x="1079.5" y="1779.3" width="15.3" height="15.9" fill="#0b5655"/>
<rect x="1094.4" y="1779.3" width="15.3" height="15.9" fill="#0c5754"/>
<rect x="1109.2" y="1779.3" width="15.3" height="15.9" fill="#0c5853"/>
<rect x="1138.9" y="1779.3" width="15.3" height="15.9" fill="#0c5754"/>
<rect x="1168.6" y="1779.3" width="15.3" height="15.9" fill="#0b5457"/>
<rect x="1242.9" y="1779.3" width="15.3" height="15.9" fill="#054763"/>
<rect x="1257.8" y="1779.3" width="15.3" height="15.9" fill="#074b5f"/>
<rect x="1272.6" y="1779.3" width="15.3" height="15.9" fill="#09515a"/>
<rect x="1287.5" y="1779.3" width="15.3" height="15.9" fill="#0a5259"/>
<rect x="1302.3" y="1779.3" width="15.3" height="15.9" fill="#074b5f"/>
<rect x="1317.2" y="1779.3" width="15.3" height="15.9" fill="#084e5d"/>
<rect x="1332.0" y="1779.3" width="15.3" height="15.9" fill="#0a5259"/>
<rect x="1346.9" y="1779.3" width="15.3" height="15.9" fill="#0b5457"/>
<rect x="1361.7" y="1779.3" width="15.3" height="15.9" fill="#0e5c50"/>
<rect x="1376.6" y="1779.3" width="15.3" height="15.9" fill="#126646"/>
<rect x="1391.4" y="1779.3" width="15.3" height="15.9" fill="#136745"/>
<rect x="1406.3" y="1779.3" width="30.1" height="15.9" fill="#146b41"/>
<rect x="1436.0" y="1779.3" width="15.3" height="15.9" fill="#17723a"/>
<rect x="1450.9" y="1779.3" width="15.3" height="15.9" fill="#1c7c31"/>
<rect x="1465.7" y="1779.3" width="15.3" height="15.9" fill="#1b7c31"/>
<rect x="1480.6" y="1779.3" width="15.3" height="15.9" fill="#1b7b31"/>
<rect x="1495.4" y="1779.3" width="15.3" height="15.9" fill="#1d7e2e"/>
<rect x="1510.3" y="1779.3" width="15.3" height="15.9" fill="#1f8429"/>
<rect x="1525.1" y="1779.3" width="15.3" height="15.9" fill="#1f8528"/>
<rect x="1540.0" y="1779.3" width="15.3" height="15.9" fill="#1d802d"/>
<rect x="1554.8" y="1779.3" width="15.3" height="15.9" fill="#208726"/>
<rect x="1569.7" y="1779.3" width="15.3" height="15.9" fill="#1f8429"/>
<rect x="1584.5" y="1779.3" width="15.3" height="15.9" fill="#208627"/>
<rect x="1599.4" y="1779.3" width="15.3" height="15.9" fill="#1f8429"/>
<rect x="1614.2" y="1779.3" width="30.1" height="15.9" fill="#208528"/>
<rect x="1644.0" y="1779.3" width="15.3" height="15.9" fill="#208627"/>
<rect x="1718.2" y="1779.3" width="15.3" height="15.9" fill="#1e822a"/>
<rect x="1747.9" y="1779.3" width="15.3" height="15.9" fill="#1f8428"/>
<rect x="737.9" y="1794.8" width="15.3" height="15.9" fill="#17713b"/>
<rect x="752.7" y="1794.8" width="15.3" height="15.9" fill="#156c40"/>
<rect x="767.6" y="1794.8" width="15.3" height="15.9" fill="#166f3d"/>
<rect x="782.4" y="1794.8" width="15.3" height="15.9" fill="#197537"/>
<rect x="797.3" y="1794.8" width="30.1" height="15.9" fill="#17713b"/>
<rect x="827.0" y="1794.8" width="15.3" height="15.9" fill="#17703c"/>
<rect x="841.8" y="1794.8" width="15.3" height="15.9" fill="#197735"/>
<rect x="856.7" y="1794.8" width="15.3" height="15.9" fill="#166e3e"/>
<rect x="871.5" y="1794.8" width="15.3" height="15.9" fill="#187438"/>
<rect x="886.4" y="1794.8" width="15.3" height="15.9" fill="#197636"/>
<rect x="916.1" y="1794.8" width="15.3" height="15.9" fill="#166e3e"/>
<rect x="931.0" y="1794.8" width="15.3" height="15.9" fill="#16703c"/>
<rect x="945.8" y="1794.8" width="15.3" height="15.9" fill="#17723a"/>
<rect x="960.7" y="1794.8" width="15.3" height="15.9" fill="#156d3f"/>
<rect x="975.5" y="1794.8" width="15.3" height="15.9" fill="#136744"/>
<rect x="990.4" y="1794.8" width="15.3" height="15.9" fill="#10604b"/>
<rect x="1005.2" y="1794.8" width="15.3" height="15.9" fill="#10624a"/>
<rect x="1020.1" y="1794.8" width="15.3" height="15.9" fill="#0f5e4d"/>
<rect x="1034.9" y="1794.8" width="15.3" height="15.9" fill="#10604b"/>
<rect x="1049.8" y="1794.8" width="30.1" height="15.9" fill="#0d5a51"/>
<rect x="1079.5" y="1794.8" width="15.3" height="15.9" fill="#0e5c50"/>
<rect x="1094.4" y="1794.8" width="15.3" height="15.9" fill="#0e5d4f"/>
<rect x="1124.1" y="1794.8" width="15.3" height="15.9" fill="#0b5556"/>
<rect x="1168.6" y="1794.8" width="15.3" height="15.9" fill="#0a5259"/>
<rect x="1183.5" y="1794.8" width="15.3" height="15.9" fill="#0a5358"/>
<rect x="1213.2" y="1794.8" width="15.3" height="15.9" fill="#0b5457"/>
<rect x="1228.0" y="1794.8" width="15.3" height="15.9" fill="#074a60"/>
<rect x="1242.9" y="1794.8" width="15.3" height="15.9" fill="#0a5258"/>
<rect x="1257.8" y="1794.8" width="15.3" height="15.9" fill="#094f5b"/>
<rect x="1272.6" y="1794.8" width="15.3" height="15.9" fill="#074c5f"/>
<rect x="1287.5" y="1794.8" width="15.3" height="15.9" fill="#09505b"/>
<rect x="1302.3" y="1794.8" width="15.3" height="15.9" fill="#084d5e"/>
<rect x="1317.2" y="1794.8" width="15.3" height="15.9" fill="#074b5f"/>
<rect x="1332.0" y="1794.8" width="15.3" height="15.9" fill="#0b5556"/>
<rect x="1346.9" y="1794.8" width="15.3" height="15.9" fill="#0a5358"/>
<rect x="1361.7" y="1794.8" width="15.3" height="15.9" fill="#0c5853"/>
<rect x="1376.6" y="1794.8" width="15.3" height="15.9" fill="#0e5c4f"/>
<rect x="1391.4" y="1794.8" width="15.3" height="15.9" fill="#126547"/>
<rect x="1406.3" y="1794.8" width="15.3" height="15.9" fill="#136844"/>
<rect x="1421.1" y="1794.8" width="15.3" height="15.9" fill="#116447"/>
<rect x="1436.0" y="1794.8" width="15.3" height="15.9" fill="#166f3d"/>
<rect x="1450.9" y="1794.8" width="15.3" height="15.9" fill="#17723a"/>
<rect x="1465.7" y="1794.8" width="15.3" height="15.9" fill="#197636"/>
<rect x="1480.6" y="1794.8" width="15.3" height="15.9" fill="#1c7e2f"/>
<rect x="1495.4" y="1794.8" width="15.3" height="15.9" fill="#1c7c30"/>
<rect x="1510.3" y="1794.8" width="15.3" height="15.9" fill="#1d7f2d"/>
<rect x="1525.1" y="1794.8" width="15.3" height="15.9" fill="#208627"/>
<rect x="1540.0" y="1794.8" width="15.3" height="15.9" fill="#1e832a"/>
<rect x="1554.8" y="1794.8" width="15.3" height="15.9" fill="#1f8428"/>
<rect x="1569.7" y="1794.8" width="15.3" height="15.9" fill="#208527"/>
<rect x="1584.5" y="1794.8" width="15.3" height="15.9" fill="#218924"/>
<rect x="1599.4" y="1794.8" width="15.3" height="15.9" fill="#218825"/>
<rect x="1614.2" y="1794.8" width="15.3" height="15.9" fill="#218924"/>
<rect x="1629.1" y="1794.8" width="15.3" height="15.9" fill="#208627"/>
<rect x="1644.0" y="1794.8" width="15.3" height="15.9" fill="#1e822b"/>
<rect x="1658.8" y="1794.8" width="15.3" height="15.9" fill="#218924"/>
<rect x="752.7" y="1810.3" width="15.3" height="15.9" fill="#17713b"/>
<rect x="767.6" y="1810.3" width="15.3" height="15.9" fill="#187538"/>
<rect x="782.4" y="1810.3" width="15.3" height="15.9" fill="#197537"/>
<rect x="797.3" y="1810.3" width="15.3" height="15.9" fill="#166e3e"/>
<rect x="812.1" y="1810.3" width="15.3" height="15.9" fill="#16703c"/>
<rect x="827.0" y="1810.3" width="15.3" height="15.9" fill="#166e3e"/>
<rect x="841.8" y="1810.3" width="15.3" height="15.9" fill="#197636"/>
<rect x="856.7" y="1810.3" width="15.3" height="15.9" fill="#166e3e"/>
<rect x="871.5" y="1810.3" width="15.3" height="15.9" fill="#156e3e"/>
<rect x="886.4" y="1810.3" width="15.3" height="15.9" fill="#197537"/>
<rect x="901.3" y="1810.3" width="15.3" height="15.9" fill="#18733a"/>
<rect x="916.1" y="1810.3" width="15.3" height="15.9" fill="#156c3f"/>
<rect x="931.0" y="1810.3" width="15.3" height="15.9" fill="#187339"/>
<rect x="945.8" y="1810.3" width="15.3" height="15.9" fill="#17723a"/>
<rect x="960.7" y="1810.3" width="15.3" height="15.9" fill="#156d3f"/>
<rect x="975.5" y="1810.3" width="15.3" height="15.9" fill="#126646"/>
<rect x="990.4" y="1810.3" width="15.3" height="15.9" fill="#146a41"/>
<rect x="1005.2" y="1810.3" width="15.3" height="15.9" fill="#126547"/>
<rect x="1020.1" y="1810.3" width="15.3" height="15.9" fill="#126447"/>
<rect x="1034.9" y="1810.3" width="15.3" height="15.9" fill="#136745"/>
<rect x="1049.8" y="1810.3" width="15.3" height="15.9" fill="#116348"/>
<rect x="1064.7" y="1810.3" width="15.3" height="15.9" fill="#116349"/>
<rect x="1079.5" y="1810.3" width="15.3" height="15.9" fill="#0d5952"/>
<rect x="1094.4" y="1810.3" width="15.3" height="15.9" fill="#0d5a51"/>
<rect x="1109.2" y="1810.3" width="15.3" height="15.9" fill="#0e5b50"/>
<rect x="1124.1" y="1810.3" width="15.3" height="15.9" fill="#0b5556"/>
<rect x="1138.9" y="1810.3" width="15.3" height="15.9" fill="#0f5f4d"/>
<rect x="1153.8" y="1810.3" width="15.3" height="15.9" fill="#0b5655"/>
<rect x="1168.6" y="1810.3" width="15.3" height="15.9" fill="#0b5457"/>
<rect x="1183.5" y="1810.3" width="15.3" height="15.9" fill="#0a5357"/>
<rect x="1198.3" y="1810.3" width="15.3" height="15.9" fill="#09515a"/>
<rect x="1213.2" y="1810.3" width="15.3" height="15.9" fill="#0c5655"/>
<rect x="1228.0" y="1810.3" width="15.3" height="15.9" fill="#09515a"/>
<rect x="1242.9" y="1810.3" width="15.3" height="15.9" fill="#084f5c"/>
<rect x="1257.8" y="1810.3" width="15.3" height="15.9" fill="#084d5e"/>
<rect x="1272.6" y="1810.3" width="15.3" height="15.9" fill="#064862"/>
<rect x="1287.5" y="1810.3" width="15.3" height="15.9" fill="#074b5f"/>
<rect x="1302.3" y="1810.3" width="30.1" height="15.9" fill="#0a5259"/>
<rect x="1332.0" y="1810.3" width="15.3" height="15.9" fill="#0b5457"/>
<rect x="1346.9" y="1810.3" width="15.3" height="15.9" fill="#084f5c"/>
<rect x="1361.7" y="1810.3" width="15.3" height="15.9" fill="#09515a"/>
<rect x="1376.6" y="1810.3" width="15.3" height="15.9" fill="#0a5259"/>
<rect x="1391.4" y="1810.3" width="15.3" height="15.9" fill="#0e5b50"/>
<rect x="1406.3" y="1810.3" width="15.3" height="15.9" fill="#0f5d4e"/>
<rect x="1421.1" y="1810.3" width="15.3" height="15.9" fill="#116348"/>
<rect x="1436.0" y="1810.3" width="15.3" height="15.9" fill="#136843"/>
<rect x="1450.9" y="1810.3" width="15.3" height="15.9" fill="#166f3d"/>
<rect x="1465.7" y="1810.3" width="15.3" height="15.9" fill="#17713b"/>
<rect x="1480.6" y="1810.3" width="15.3" height="15.9" fill="#1b7b32"/>
<rect x="1495.4" y="1810.3" width="15.3" height="15.9" fill="#1a7834"/>
<rect x="1510.3" y="1810.3" width="15.3" height="15.9" fill="#1f8329"/>
<rect x="1525.1" y="1810.3" width="15.3" height="15.9" fill="#1e822b"/>
<rect x="1540.0" y="1810.3" width="15.3" height="15.9" fill="#1c7e2f"/>
<rect x="1554.8" y="1810.3" width="15.3" height="15.9" fill="#1e822b"/>
<rect x="1569.7" y="1810.3" width="15.3" height="15.9" fill="#208528"/>
<rect x="1584.5" y="1810.3" width="15.3" height="15.9" fill="#1f8428"/>
<rect x="1599.4" y="1810.3" width="15.3" height="15.9" fill="#208726"/>
<rect x="1614.2" y="1810.3" width="30.1" height="15.9" fill="#1f8429"/>
<rect x="708.2" y="1825.8" width="15.3" height="15.9" fill="#17703c"/>
<rect x="737.9" y="1825.8" width="15.3" height="15.9" fill="#156d3f"/>
<rect x="752.7" y="1825.8" width="15.3" height="15.9" fill="#18723a"/>
<rect x="767.6" y="1825.8" width="15.3" height="15.9" fill="#187438"/>
<rect x="782.4" y="1825.8" width="15.3" height="15.9" fill="#187339"/>
<rect x="797.3" y="1825.8" width="15.3" height="15.9" fill="#17713b"/>
<rect x="812.1" y="1825.8" width="15.3" height="15.9" fill="#197735"/>
<rect x="827.0" y="1825.8" width="15.3" height="15.9" fill="#17713b"/>
<rect x="841.8" y="1825.8" width="15.3" height="15.9" fill="#197636"/>
<rect x="856.7" y="1825.8" width="15.3" height="15.9" fill="#156d3f"/>
<rect x="871.5" y="1825.8" width="15.3" height="15.9" fill="#17713b"/>
<rect x="886.4" y="1825.8" width="15.3" height="15.9" fill="#187339"/>
<rect x="901.3" y="1825.8" width="15.3" height="15.9" fill="#156c3f"/>
<rect x="916.1" y="1825.8" width="15.3" height="15.9" fill="#197537"/>
<rect x="931.0" y="1825.8" width="15.3" height="15.9" fill="#156c40"/>
<rect x="945.8" y="1825.8" width="15.3" height="15.9" fill="#17713b"/>
<rect x="960.7" y="1825.8" width="15.3" height="15.9" fill="#146b41"/>
<rect x="975.5" y="1825.8" width="15.3" height="15.9" fill="#17713b"/>
<rect x="990.4" y="1825.8" width="15.3" height="15.9" fill="#146b41"/>
<rect x="1005.2" y="1825.8" width="15.3" height="15.9" fill="#156b40"/>
<rect x="1020.1" y="1825.8" width="30.1" height="15.9" fill="#126646"/>
<rect x="1049.8" y="1825.8" width="15.3" height="15.9" fill="#126447"/>
<rect x="1064.7" y="1825.8" width="15.3" height="15.9" fill="#0f5f4d"/>
<rect x="1079.5" y="1825.8" width="15.3" height="15.9" fill="#0e5d4f"/>
<rect x="1094.4" y="1825.8" width="15.3" height="15.9" fill="#116349"/>
<rect x="1109.2" y="1825.8" width="15.3" height="15.9" fill="#0d5a51"/>
<rect x="1124.1" y="1825.8" width="15.3" height="15.9" fill="#116249"/>
<rect x="1138.9" y="1825.8" width="15.3" height="15.9" fill="#0d5952"/>
<rect x="1153.8" y="1825.8" width="15.3" height="15.9" fill="#0c5754"/>
<rect x="1168.6" y="1825.8" width="15.3" height="15.9" fill="#0c5655"/>
<rect x="1183.5" y="1825.8" width="15.3" height="15.9" fill="#0e5d4e"/>
<rect x="1198.3" y="1825.8" width="15.3" height="15.9" fill="#0f5d4e"/>
<rect x="1213.2" y="1825.8" width="30.1" height="15.9" fill="#0b5655"/>
<rect x="1242.9" y="1825.8" width="15.3" height="15.9" fill="#084f5c"/>
<rect x="1257.8" y="1825.8" width="15.3" height="15.9" fill="#0b5457"/>
<rect x="1272.6" y="1825.8" width="15.3" height="15.9" fill="#09505b"/>
<rect x="1287.5" y="1825.8" width="15.3" height="15.9" fill="#064a61"/>
<rect x="1302.3" y="1825.8" width="15.3" height="15.9" fill="#064962"/>
<rect x="1317.2" y="1825.8" width="15.3" height="15.9" fill="#09505b"/>
<rect x="1332.0" y="1825.8" width="15.3" height="15.9" fill="#064961"/>
<rect x="1346.9" y="1825.8" width="15.3" height="15.9" fill="#0a5358"/>
<rect x="1361.7" y="1825.8" width="15.3" height="15.9" fill="#084f5c"/>
<rect x="1376.6" y="1825.8" width="15.3" height="15.9" fill="#09505b"/>
<rect x="1391.4" y="1825.8" width="30.1" height="15.9" fill="#0c5754"/>
<rect x="1421.1" y="1825.8" width="15.3" height="15.9" fill="#0f5f4d"/>
<rect x="1436.0" y="1825.8" width="15.3" height="15.9" fill="#0f5f4c"/>
<rect x="1450.9" y="1825.8" width="15.3" height="15.9" fill="#156d3f"/>
<rect x="1465.7" y="1825.8" width="15.3" height="15.9" fill="#156c3f"/>
<rect x="1480.6" y="1825.8" width="15.3" height="15.9" fill="#1a7834"/>
<rect x="1495.4" y="1825.8" width="15.3" height="15.9" fill="#197537"/>
<rect x="1510.3" y="1825.8" width="15.3" height="15.9" fill="#1e812c"/>
<rect x="1525.1" y="1825.8" width="15.3" height="15.9" fill="#208627"/>
<rect x="1540.0" y="1825.8" width="15.3" height="15.9" fill="#1e812b"/>
<rect x="1554.8" y="1825.8" width="15.3" height="15.9" fill="#1d7e2e"/>
<rect x="1569.7" y="1825.8" width="15.3" height="15.9" fill="#1f832a"/>
<rect x="1584.5" y="1825.8" width="15.3" height="15.9" fill="#208726"/>
<rect x="1599.4" y="1825.8" width="15.3" height="15.9" fill="#1e822a"/>
<rect x="1614.2" y="1825.8" width="15.3" height="15.9" fill="#208626"/>
<rect x="1629.1" y="1825.8" width="15.3" height="15.9" fill="#1e822b"/>
<rect x="1644.0" y="1825.8" width="15.3" height="15.9" fill="#208627"/>
<rect x="663.6" y="1841.4" width="15.3" height="15.9" fill="#146b41"/>
<rect x="678.4" y="1841.4" width="15.3" height="15.9" fill="#136943"/>
<rect x="693.3" y="1841.4" width="15.3" height="15.9" fill="#156d3f"/>
<rect x="708.2" y="1841.4" width="15.3" height="15.9" fill="#136844"/>
<rect x="723.0" y="1841.4" width="15.3" height="15.9" fill="#17713b"/>
<rect x="752.7" y="1841.4" width="15.3" height="15.9" fill="#146b41"/>
<rect x="767.6" y="1841.4" width="15.3" height="15.9" fill="#197537"/>
<rect x="782.4" y="1841.4" width="30.1" height="15.9" fill="#197636"/>
<rect x="812.1" y="1841.4" width="15.3" height="15.9" fill="#17713b"/>
<rect x="827.0" y="1841.4" width="30.1" height="15.9" fill="#166f3d"/>
<rect x="856.7" y="1841.4" width="15.3" height="15.9" fill="#187438"/>
<rect x="871.5" y="1841.4" width="15.3" height="15.9" fill="#17713b"/>
<rect x="886.4" y="1841.4" width="15.3" height="15.9" fill="#197636"/>
<rect x="901.3" y="1841.4" width="15.3" height="15.9" fill="#156d3f"/>
<rect x="916.1" y="1841.4" width="15.3" height="15.9" fill="#17713b"/>
<rect x="931.0" y="1841.4" width="15.3" height="15.9" fill="#197537"/>
<rect x="945.8" y="1841.4" width="15.3" height="15.9" fill="#17713b"/>
<rect x="960.7" y="1841.4" width="15.3" height="15.9" fill="#166f3d"/>
<rect x="975.5" y="1841.4" width="15.3" height="15.9" fill="#136943"/>
<rect x="990.4" y="1841.4" width="15.3" height="15.9" fill="#136844"/>
<rect x="1005.2" y="1841.4" width="15.3" height="15.9" fill="#136745"/>
<rect x="1020.1" y="1841.4" width="15.3" height="15.9" fill="#156c40"/>
<rect x="1034.9" y="1841.4" width="15.3" height="15.9" fill="#146a42"/>
<rect x="1049.8" y="1841.4" width="15.3" height="15.9" fill="#10624a"/>
<rect x="1064.7" y="1841.4" width="15.3" height="15.9" fill="#136844"/>
<rect x="1079.5" y="1841.4" width="15.3" height="15.9" fill="#0e5d4e"/>
<rect x="1094.4" y="1841.4" width="15.3" height="15.9" fill="#116249"/>
<rect x="1109.2" y="1841.4" width="15.3" height="15.9" fill="#126646"/>
<rect x="1124.1" y="1841.4" width="15.3" height="15.9" fill="#0f5e4d"/>
<rect x="1138.9" y="1841.4" width="15.3" height="15.9" fill="#126547"/>
<rect x="1153.8" y="1841.4" width="15.3" height="15.9" fill="#10614b"/>
<rect x="1168.6" y="1841.4" width="15.3" height="15.9" fill="#0d5a52"/>
<rect x="1183.5" y="1841.4" width="30.1" height="15.9" fill="#0e5c4f"/>
<rect x="1213.2" y="1841.4" width="15.3" height="15.9" fill="#0d5853"/>
<rect x="1228.0" y="1841.4" width="15.3" height="15.9" fill="#0e5b50"/>
<rect x="1242.9" y="1841.4" width="15.3" height="15.9" fill="#0a5159"/>
<rect x="1257.8" y="1841.4" width="15.3" height="15.9" fill="#0b5556"/>
<rect x="1272.6" y="1841.4" width="15.3" height="15.9" fill="#074d5e"/>
<rect x="1287.5" y="1841.4" width="15.3" height="15.9" fill="#064962"/>
<rect x="1302.3" y="1841.4" width="15.3" height="15.9" fill="#084e5d"/>
<rect x="1317.2" y="1841.4" width="15.3" height="15.9" fill="#064962"/>
<rect x="1332.0" y="1841.4" width="15.3" height="15.9" fill="#084e5d"/>
<rect x="1346.9" y="1841.4" width="15.3" height="15.9" fill="#09515a"/>
<rect x="1361.7" y="1841.4" width="30.1" height="15.9" fill="#09505b"/>
<rect x="1391.4" y="1841.4" width="15.3" height="15.9" fill="#084d5d"/>
<rect x="1406.3" y="1841.4" width="15.3" height="15.9" fill="#0b5655"/>
<rect x="1421.1" y="1841.4" width="15.3" height="15.9" fill="#0b5556"/>
<rect x="1436.0" y="1841.4" width="15.3" height="15.9" fill="#105f4c"/>
<rect x="1450.9" y="1841.4" width="15.3" height="15.9" fill="#0f5f4c"/>
<rect x="1465.7" y="1841.4" width="15.3" height="15.9" fill="#146b41"/>
<rect x="1480.6" y="1841.4" width="15.3" height="15.9" fill="#166f3d"/>
<rect x="1495.4" y="1841.4" width="15.3" height="15.9" fill="#197537"/>
<rect x="1510.3" y="1841.4" width="15.3" height="15.9" fill="#1c7e2f"/>
<rect x="1525.1" y="1841.4" width="15.3" height="15.9" fill="#1c7c31"/>
<rect x="1540.0" y="1841.4" width="15.3" height="15.9" fill="#1d7e2e"/>
<rect x="1554.8" y="1841.4" width="15.3" height="15.9" fill="#218825"/>
<rect x="1569.7" y="1841.4" width="15.3" height="15.9" fill="#1e822a"/>
<rect x="1584.5" y="1841.4" width="30.1" height="15.9" fill="#218924"/>
<rect x="1614.2" y="1841.4" width="15.3" height="15.9" fill="#208527"/>
<rect x="648.7" y="1856.9" width="15.3" height="15.9" fill="#10614b"/>
<rect x="663.6" y="1856.9" width="15.3" height="15.9" fill="#11624a"/>
<rect x="678.4" y="1856.9" width="15.3" height="15.9" fill="#156c40"/>
<rect x="693.3" y="1856.9" width="15.3" height="15.9" fill="#126546"/>
<rect x="708.2" y="1856.9" width="15.3" height="15.9" fill="#146b41"/>
<rect x="723.0" y="1856.9" width="15.3" height="15.9" fill="#156c3f"/>
<rect x="737.9" y="1856.9" width="15.3" height="15.9" fill="#136943"/>
<rect x="752.7" y="1856.9" width="15.3" height="15.9" fill="#166e3e"/>
<rect x="767.6" y="1856.9" width="15.3" height="15.9" fill="#146b41"/>
<rect x="782.4" y="1856.9" width="30.1" height="15.9" fill="#16703c"/>
<rect x="812.1" y="1856.9" width="15.3" height="15.9" fill="#166e3e"/>
<rect x="827.0" y="1856.9" width="15.3" height="15.9" fill="#156c3f"/>
<rect x="841.8" y="1856.9" width="15.3" height="15.9" fill="#166f3d"/>
<rect x="856.7" y="1856.9" width="15.3" height="15.9" fill="#156d3f"/>
<rect x="871.5" y="1856.9" width="15.3" height="15.9" fill="#156c40"/>
<rect x="886.4" y="1856.9" width="15.3" height="15.9" fill="#166e3e"/>
<rect x="901.3" y="1856.9" width="15.3" height="15.9" fill="#197537"/>
<rect x="916.1" y="1856.9" width="15.3" height="15.9" fill="#17713b"/>
<rect x="931.0" y="1856.9" width="15.3" height="15.9" fill="#197537"/>
<rect x="945.8" y="1856.9" width="15.3" height="15.9" fill="#146a41"/>
<rect x="960.7" y="1856.9" width="15.3" height="15.9" fill="#187438"/>
<rect x="975.5" y="1856.9" width="15.3" height="15.9" fill="#166e3e"/>
<rect x="990.4" y="1856.9" width="15.3" height="15.9" fill="#16703c"/>
<rect x="1005.2" y="1856.9" width="15.3" height="15.9" fill="#156c40"/>
<rect x="1020.1" y="1856.9" width="15.3" height="15.9" fill="#156b41"/>
<rect x="1034.9" y="1856.9" width="15.3" height="15.9" fill="#126547"/>
<rect x="1049.8" y="1856.9" width="15.3" height="15.9" fill="#146943"/>
<rect x="1064.7" y="1856.9" width="30.1" height="15.9" fill="#10614a"/>
<rect x="1094.4" y="1856.9" width="15.3" height="15.9" fill="#0f5e4d"/>
<rect x="1109.2" y="1856.9" width="15.3" height="15.9" fill="#10624a"/>
<rect x="1124.1" y="1856.9" width="15.3" height="15.9" fill="#116349"/>
<rect x="1138.9" y="1856.9" width="15.3" height="15.9" fill="#10604b"/>
<rect x="1153.8" y="1856.9" width="15.3" height="15.9" fill="#136745"/>
<rect x="1168.6" y="1856.9" width="15.3" height="15.9" fill="#0f5d4e"/>
<rect x="1183.5" y="1856.9" width="15.3" height="15.9" fill="#116349"/>
<rect x="1198.3" y="1856.9" width="15.3" height="15.9" fill="#0f5e4d"/>
<rect x="1213.2" y="1856.9" width="15.3" height="15.9" fill="#10614a"/>
<rect x="1228.0" y="1856.9" width="15.3" height="15.9" fill="#10614b"/>
<rect x="1242.9" y="1856.9" width="15.3" height="15.9" fill="#0e5c50"/>
<rect x="1257.8" y="1856.9" width="15.3" height="15.9" fill="#094f5b"/>
<rect x="1272.6" y="1856.9" width="15.3" height="15.9" fill="#084d5d"/>
<rect x="1287.5" y="1856.9" width="15.3" height="15.9" fill="#094f5c"/>
<rect x="1302.3" y="1856.9" width="15.3" height="15.9" fill="#0a5258"/>
<rect x="1317.2" y="1856.9" width="15.3" height="15.9" fill="#054863"/>
<rect x="1332.0" y="1856.9" width="15.3" height="15.9" fill="#084e5d"/>
<rect x="1346.9" y="1856.9" width="15.3" height="15.9" fill="#094f5c"/>
<rect x="1361.7" y="1856.9" width="15.3" height="15.9" fill="#09515a"/>
<rect x="1376.6" y="1856.9" width="15.3" height="15.9" fill="#084d5e"/>
<rect x="1391.4" y="1856.9" width="15.3" height="15.9" fill="#0b5457"/>
<rect x="1406.3" y="1856.9" width="15.3" height="15.9" fill="#0a5259"/>
<rect x="1421.1" y="1856.9" width="15.3" height="15.9" fill="#0d5a51"/>
<rect x="1436.0" y="1856.9" width="15.3" height="15.9" fill="#0b5457"/>
<rect x="1450.9" y="1856.9" width="15.3" height="15.9" fill="#116448"/>
<rect x="1465.7" y="1856.9" width="15.3" height="15.9" fill="#126547"/>
<rect x="1480.6" y="1856.9" width="15.3" height="15.9" fill="#156c40"/>
<rect x="1495.4" y="1856.9" width="15.3" height="15.9" fill="#16703c"/>
<rect x="1510.3" y="1856.9" width="15.3" height="15.9" fill="#1a7735"/>
<rect x="1525.1" y="1856.9" width="15.3" height="15.9" fill="#1e812c"/>
<rect x="1569.7" y="1856.9" width="15.3" height="15.9" fill="#208627"/>
<rect x="619.0" y="1872.4" width="15.3" height="15.9" fill="#0f5e4d"/>
<rect x="648.7" y="1872.4" width="15.3" height="15.9" fill="#10624a"/>
<rect x="663.6" y="1872.4" width="15.3" height="15.9" fill="#10614b"/>
<rect x="678.4" y="1872.4" width="15.3" height="15.9" fill="#116349"/>
<rect x="693.3" y="1872.4" width="15.3" height="15.9" fill="#126447"/>
<rect x="708.2" y="1872.4" width="15.3" height="15.9" fill="#136745"/>
<rect x="723.0" y="1872.4" width="15.3" height="15.9" fill="#16703c"/>
<rect x="737.9" y="1872.4" width="15.3" height="15.9" fill="#17713b"/>
<rect x="752.7" y="1872.4" width="15.3" height="15.9" fill="#16703c"/>
<rect x="767.6" y="1872.4" width="15.3" height="15.9" fill="#156d3f"/>
<rect x="782.4" y="1872.4" width="15.3" height="15.9" fill="#166e3e"/>
<rect x="797.3" y="1872.4" width="15.3" height="15.9" fill="#17713b"/>
<rect x="812.1" y="1872.4" width="15.3" height="15.9" fill="#187339"/>
<rect x="827.0" y="1872.4" width="15.3" height="15.9" fill="#17713b"/>
<rect x="841.8" y="1872.4" width="15.3" height="15.9" fill="#17703c"/>
<rect x="856.7" y="1872.4" width="15.3" height="15.9" fill="#156c40"/>
<rect x="871.5" y="1872.4" width="15.3" height="15.9" fill="#17713b"/>
<rect x="886.4" y="1872.4" width="15.3" height="15.9" fill="#187439"/>
<rect x="901.3" y="1872.4" width="15.3" height="15.9" fill="#187339"/>
<rect x="916.1" y="1872.4" width="15.3" height="15.9" fill="#156b40"/>
<rect x="931.0" y="1872.4" width="15.3" height="15.9" fill="#17723a"/>
<rect x="945.8" y="1872.4" width="15.3" height="15.9" fill="#166e3e"/>
<rect x="960.7" y="1872.4" width="15.3" height="15.9" fill="#146b41"/>
<rect x="975.5" y="1872.4" width="15.3" height="15.9" fill="#187339"/>
<rect x="990.4" y="1872.4" width="15.3" height="15.9" fill="#166f3d"/>
<rect x="1005.2" y="1872.4" width="15.3" height="15.9" fill="#166e3e"/>
<rect x="1020.1" y="1872.4" width="15.3" height="15.9" fill="#126646"/>
<rect x="1034.9" y="1872.4" width="30.1" height="15.9" fill="#156d3f"/>
<rect x="1064.7" y="1872.4" width="15.3" height="15.9" fill="#146b41"/>
<rect x="1079.5" y="1872.4" width="15.3" height="15.9" fill="#136943"/>
<rect x="1094.4" y="1872.4" width="15.3" height="15.9" fill="#146943"/>
<rect x="1109.2" y="1872.4" width="15.3" height="15.9" fill="#136843"/>
<rect x="1124.1" y="1872.4" width="15.3" height="15.9" fill="#126646"/>
<rect x="1138.9" y="1872.4" width="15.3" height="15.9" fill="#126447"/>
<rect x="1153.8" y="1872.4" width="15.3" height="15.9" fill="#136943"/>
<rect x="1168.6" y="1872.4" width="15.3" height="15.9" fill="#136843"/>
<rect x="1183.5" y="1872.4" width="15.3" height="15.9" fill="#146942"/>
<rect x="1198.3" y="1872.4" width="15.3" height="15.9" fill="#116349"/>
<rect x="1213.2" y="1872.4" width="15.3" height="15.9" fill="#146942"/>
<rect x="1228.0" y="1872.4" width="30.1" height="15.9" fill="#116349"/>
<rect x="1257.8" y="1872.4" width="15.3" height="15.9" fill="#0a5358"/>
<rect x="1272.6" y="1872.4" width="15.3" height="15.9" fill="#0c5754"/>
<rect x="1287.5" y="1872.4" width="15.3" height="15.9" fill="#0a5259"/>
<rect x="1302.3" y="1872.4" width="15.3" height="15.9" fill="#064a60"/>
<rect x="1317.2" y="1872.4" width="15.3" height="15.9" fill="#09505b"/>
<rect x="1332.0" y="1872.4" width="15.3" height="15.9" fill="#064961"/>
<rect x="1346.9" y="1872.4" width="15.3" height="15.9" fill="#064962"/>
<rect x="1361.7" y="1872.4" width="15.3" height="15.9" fill="#074c5e"/>
<rect x="1376.6" y="1872.4" width="15.3" height="15.9" fill="#074b60"/>
<rect x="1391.4" y="1872.4" width="15.3" height="15.9" fill="#084f5c"/>
<rect x="1406.3" y="1872.4" width="30.1" height="15.9" fill="#0b5556"/>
<rect x="1436.0" y="1872.4" width="15.3" height="15.9" fill="#0d5952"/>
<rect x="1450.9" y="1872.4" width="15.3" height="15.9" fill="#0d5a51"/>
<rect x="1465.7" y="1872.4" width="15.3" height="15.9" fill="#126547"/>
<rect x="1480.6" y="1872.4" width="15.3" height="15.9" fill="#156d3f"/>
<rect x="1495.4" y="1872.4" width="15.3" height="15.9" fill="#187439"/>
<rect x="1510.3" y="1872.4" width="15.3" height="15.9" fill="#1c7d2f"/>
<rect x="619.0" y="1887.9" width="15.3" height="15.9" fill="#126546"/>
<rect x="633.9" y="1887.9" width="15.3" height="15.9" fill="#10614a"/>
<rect x="648.7" y="1887.9" width="15.3" height="15.9" fill="#0f5e4d"/>
<rect x="663.6" y="1887.9" width="15.3" height="15.9" fill="#126547"/>
<rect x="678.4" y="1887.9" width="15.3" height="15.9" fill="#136844"/>
<rect x="693.3" y="1887.9" width="15.3" height="15.9" fill="#116448"/>
<rect x="708.2" y="1887.9" width="15.3" height="15.9" fill="#136844"/>
<rect x="723.0" y="1887.9" width="15.3" height="15.9" fill="#156c40"/>
<rect x="737.9" y="1887.9" width="15.3" height="15.9" fill="#156d3f"/>
<rect x="752.7" y="1887.9" width="15.3" height="15.9" fill="#126547"/>
<rect x="767.6" y="1887.9" width="15.3" height="15.9" fill="#156b41"/>
<rect x="782.4" y="1887.9" width="15.3" height="15.9" fill="#126745"/>
<rect x="797.3" y="1887.9" width="15.3" height="15.9" fill="#136844"/>
<rect x="812.1" y="1887.9" width="15.3" height="15.9" fill="#17703c"/>
<rect x="827.0" y="1887.9" width="15.3" height="15.9" fill="#156c40"/>
<rect x="841.8" y="1887.9" width="15.3" height="15.9" fill="#166e3e"/>
<rect x="856.7" y="1887.9" width="15.3" height="15.9" fill="#156d3f"/>
<rect x="871.5" y="1887.9" width="15.3" height="15.9" fill="#156c40"/>
<rect x="886.4" y="1887.9" width="15.3" height="15.9" fill="#156b41"/>
<rect x="901.3" y="1887.9" width="15.3" height="15.9" fill="#156d3f"/>
<rect x="916.1" y="1887.9" width="15.3" height="15.9" fill="#187339"/>
<rect x="931.0" y="1887.9" width="15.3" height="15.9" fill="#17703c"/>
<rect x="945.8" y="1887.9" width="15.3" height="15.9" fill="#156c40"/>
<rect x="960.7" y="1887.9" width="15.3" height="15.9" fill="#146a42"/>
<rect x="975.5" y="1887.9" width="15.3" height="15.9" fill="#146b41"/>
<rect x="990.4" y="1887.9" width="15.3" height="15.9" fill="#166f3d"/>
<rect x="1005.2" y="1887.9" width="15.3" height="15.9" fill="#146b41"/>
<rect x="1020.1" y="1887.9" width="15.3" height="15.9" fill="#156c3f"/>
<rect x="1034.9" y="1887.9" width="15.3" height="15.9" fill="#156d3f"/>
<rect x="1049.8" y="1887.9" width="15.3" height="15.9" fill="#126547"/>
<rect x="1064.7" y="1887.9" width="15.3" height="15.9" fill="#146a41"/>
<rect x="1079.5" y="1887.9" width="15.3" height="15.9" fill="#116349"/>
<rect x="1094.4" y="1887.9" width="15.3" height="15.9" fill="#146b41"/>
<rect x="1109.2" y="1887.9" width="15.3" height="15.9" fill="#116448"/>
<rect x="1124.1" y="1887.9" width="15.3" height="15.9" fill="#126547"/>
<rect x="1138.9" y="1887.9" width="15.3" height="15.9" fill="#156c3f"/>
<rect x="1153.8" y="1887.9" width="15.3" height="15.9" fill="#126646"/>
<rect x="1168.6" y="1887.9" width="15.3" height="15.9" fill="#126547"/>
<rect x="1183.5" y="1887.9" width="15.3" height="15.9" fill="#156c40"/>
<rect x="1198.3" y="1887.9" width="15.3" height="15.9" fill="#146943"/>
<rect x="1213.2" y="1887.9" width="15.3" height="15.9" fill="#156c40"/>
<rect x="1228.0" y="1887.9" width="15.3" height="15.9" fill="#126547"/>
<rect x="1242.9" y="1887.9" width="15.3" height="15.9" fill="#116249"/>
<rect x="1257.8" y="1887.9" width="15.3" height="15.9" fill="#10614b"/>
<rect x="1272.6" y="1887.9" width="30.1" height="15.9" fill="#0b5556"/>
<rect x="1332.0" y="1887.9" width="15.3" height="15.9" fill="#064962"/>
<rect x="1346.9" y="1887.9" width="15.3" height="15.9" fill="#09505b"/>
<rect x="1361.7" y="1887.9" width="15.3" height="15.9" fill="#064962"/>
<rect x="1376.6" y="1887.9" width="15.3" height="15.9" fill="#084d5d"/>
<rect x="1391.4" y="1887.9" width="15.3" height="15.9" fill="#064862"/>
<rect x="1406.3" y="1887.9" width="15.3" height="15.9" fill="#074b5f"/>
<rect x="1421.1" y="1887.9" width="15.3" height="15.9" fill="#0b5655"/>
<rect x="1436.0" y="1887.9" width="15.3" height="15.9" fill="#0a5357"/>
<rect x="1450.9" y="1887.9" width="15.3" height="15.9" fill="#0e5c4f"/>
<rect x="1465.7" y="1887.9" width="15.3" height="15.9" fill="#0e5c50"/>
<rect x="1480.6" y="1887.9" width="15.3" height="15.9" fill="#126547"/>
<rect x="1495.4" y="1887.9" width="15.3" height="15.9" fill="#146a41"/>
<rect x="619.0" y="1903.4" width="15.3" height="15.9" fill="#116249"/>
<rect x="633.9" y="1903.4" width="15.3" height="15.9" fill="#126646"/>
<rect x="648.7" y="1903.4" width="15.3" height="15.9" fill="#116249"/>
<rect x="663.6" y="1903.4" width="15.3" height="15.9" fill="#10614a"/>
<rect x="678.4" y="1903.4" width="30.1" height="15.9" fill="#136844"/>
<rect x="708.2" y="1903.4" width="15.3" height="15.9" fill="#126645"/>
<rect x="723.0" y="1903.4" width="15.3" height="15.9" fill="#10614a"/>
<rect x="737.9" y="1903.4" width="15.3" height="15.9" fill="#136843"/>
<rect x="752.7" y="1903.4" width="15.3" height="15.9" fill="#136844"/>
<rect x="767.6" y="1903.4" width="15.3" height="15.9" fill="#166f3d"/>
<rect x="782.4" y="1903.4" width="15.3" height="15.9" fill="#136943"/>
<rect x="797.3" y="1903.4" width="30.1" height="15.9" fill="#156d3f"/>
<rect x="827.0" y="1903.4" width="15.3" height="15.9" fill="#146a42"/>
<rect x="841.8" y="1903.4" width="15.3" height="15.9" fill="#156c40"/>
<rect x="856.7" y="1903.4" width="15.3" height="15.9" fill="#166e3e"/>
<rect x="871.5" y="1903.4" width="15.3" height="15.9" fill="#17713b"/>
<rect x="886.4" y="1903.4" width="15.3" height="15.9" fill="#156d3f"/>
<rect x="901.3" y="1903.4" width="15.3" height="15.9" fill="#156c40"/>
<rect x="916.1" y="1903.4" width="15.3" height="15.9" fill="#187339"/>
<rect x="931.0" y="1903.4" width="15.3" height="15.9" fill="#136943"/>
<rect x="945.8" y="1903.4" width="15.3" height="15.9" fill="#17713b"/>
<rect x="960.7" y="1903.4" width="15.3" height="15.9" fill="#166f3d"/>
<rect x="975.5" y="1903.4" width="15.3" height="15.9" fill="#156d3f"/>
<rect x="990.4" y="1903.4" width="15.3" height="15.9" fill="#156b40"/>
<rect x="1005.2" y="1903.4" width="15.3" height="15.9" fill="#166e3e"/>
<rect x="1020.1" y="1903.4" width="15.3" height="15.9" fill="#166f3d"/>
<rect x="1034.9" y="1903.4" width="30.1" height="15.9" fill="#156d3f"/>
<rect x="1064.7" y="1903.4" width="15.3" height="15.9" fill="#126447"/>
<rect x="1079.5" y="1903.4" width="15.3" height="15.9" fill="#136844"/>
<rect x="1094.4" y="1903.4" width="15.3" height="15.9" fill="#126546"/>
<rect x="1109.2" y="1903.4" width="15.3" height="15.9" fill="#166f3d"/>
<rect x="1124.1" y="1903.4" width="15.3" height="15.9" fill="#166e3e"/>
<rect x="1138.9" y="1903.4" width="15.3" height="15.9" fill="#126546"/>
<rect x="1153.8" y="1903.4" width="30.1" height="15.9" fill="#146b41"/>
<rect x="1183.5" y="1903.4" width="15.3" height="15.9" fill="#126547"/>
<rect x="1198.3" y="1903.4" width="15.3" height="15.9" fill="#146943"/>
<rect x="1213.2" y="1903.4" width="15.3" height="15.9" fill="#156d3f"/>
<rect x="1228.0" y="1903.4" width="15.3" height="15.9" fill="#146b41"/>
<rect x="1242.9" y="1903.4" width="15.3" height="15.9" fill="#116448"/>
<rect x="1346.9" y="1903.4" width="15.3" height="15.9" fill="#084f5c"/>
<rect x="1361.7" y="1903.4" width="15.3" height="15.9" fill="#064a61"/>
<rect x="1376.6" y="1903.4" width="15.3" height="15.9" fill="#084d5e"/>
<rect x="1391.4" y="1903.4" width="15.3" height="15.9" fill="#074c5e"/>
<rect x="1406.3" y="1903.4" width="15.3" height="15.9" fill="#0a5457"/>
<rect x="1421.1" y="1903.4" width="15.3" height="15.9" fill="#0a5259"/>
<rect x="1436.0" y="1903.4" width="15.3" height="15.9" fill="#0b5655"/>
<rect x="1450.9" y="1903.4" width="15.3" height="15.9" fill="#0c5853"/>
<rect x="1465.7" y="1903.4" width="15.3" height="15.9" fill="#0d5b51"/>
<rect x="633.9" y="1919.0" width="15.3" height="15.9" fill="#136745"/>
<rect x="648.7" y="1919.0" width="15.3" height="15.9" fill="#116447"/>
<rect x="663.6" y="1919.0" width="15.3" height="15.9" fill="#116448"/>
<rect x="678.4" y="1919.0" width="15.3" height="15.9" fill="#10604c"/>
<rect x="693.3" y="1919.0" width="15.3" height="15.9" fill="#0f5f4d"/>
<rect x="708.2" y="1919.0" width="15.3" height="15.9" fill="#116448"/>
<rect x="723.0" y="1919.0" width="15.3" height="15.9" fill="#136844"/>
<rect x="737.9" y="1919.0" width="15.3" height="15.9" fill="#136843"/>
<rect x="752.7" y="1919.0" width="15.3" height="15.9" fill="#126547"/>
<rect x="767.6" y="1919.0" width="15.3" height="15.9" fill="#116448"/>
<rect x="782.4" y="1919.0" width="15.3" height="15.9" fill="#146943"/>
<rect x="797.3" y="1919.0" width="15.3" height="15.9" fill="#166e3e"/>
<rect x="812.1" y="1919.0" width="15.3" height="15.9" fill="#126645"/>
<rect x="827.0" y="1919.0" width="15.3" height="15.9" fill="#156d3f"/>
<rect x="841.8" y="1919.0" width="15.3" height="15.9" fill="#136745"/>
<rect x="856.7" y="1919.0" width="15.3" height="15.9" fill="#136943"/>
<rect x="871.5" y="1919.0" width="15.3" height="15.9" fill="#126646"/>
<rect x="886.4" y="1919.0" width="15.3" height="15.9" fill="#146943"/>
<rect x="901.3" y="1919.0" width="15.3" height="15.9" fill="#146a41"/>
<rect x="916.1" y="1919.0" width="30.1" height="15.9" fill="#17713b"/>
<rect x="945.8" y="1919.0" width="15.3" height="15.9" fill="#136943"/>
<rect x="960.7" y="1919.0" width="15.3" height="15.9" fill="#146a42"/>
<rect x="975.5" y="1919.0" width="15.3" height="15.9" fill="#17703c"/>
<rect x="990.4" y="1919.0" width="15.3" height="15.9" fill="#136844"/>
<rect x="1005.2" y="1919.0" width="15.3" height="15.9" fill="#136843"/>
<rect x="1020.1" y="1919.0" width="15.3" height="15.9" fill="#146942"/>
<rect x="1034.9" y="1919.0" width="15.3" height="15.9" fill="#126646"/>
<rect x="1049.8" y="1919.0" width="15.3" height="15.9" fill="#136844"/>
<rect x="1064.7" y="1919.0" width="15.3" height="15.9" fill="#146942"/>
<rect x="1079.5" y="1919.0" width="15.3" height="15.9" fill="#146a42"/>
<rect x="1094.4" y="1919.0" width="15.3" height="15.9" fill="#17703c"/>
<rect x="1109.2" y="1919.0" width="15.3" height="15.9" fill="#136943"/>
<rect x="1124.1" y="1919.0" width="15.3" height="15.9" fill="#136844"/>
<rect x="1138.9" y="1919.0" width="15.3" height="15.9" fill="#16703c"/>
<rect x="1153.8" y="1919.0" width="15.3" height="15.9" fill="#146b41"/>
<rect x="1168.6" y="1919.0" width="15.3" height="15.9" fill="#166f3d"/>
<rect x="1183.5" y="1919.0" width="15.3" height="15.9" fill="#156d3e"/>
<rect x="1198.3" y="1919.0" width="15.3" height="15.9" fill="#166f3d"/>
<rect x="1213.2" y="1919.0" width="15.3" height="15.9" fill="#146a41"/>
<rect x="1228.0" y="1919.0" width="15.3" height="15.9" fill="#136844"/>
<rect x="1257.8" y="1919.0" width="15.3" height="15.9" fill="#136844"/>
<rect x="1346.9" y="1919.0" width="15.3" height="15.9" fill="#074c5f"/>
<rect x="1361.7" y="1919.0" width="15.3" height="15.9" fill="#084d5e"/>
<rect x="1376.6" y="1919.0" width="15.3" height="15.9" fill="#084e5c"/>
<rect x="1391.4" y="1919.0" width="15.3" height="15.9" fill="#09505b"/>
<rect x="1406.3" y="1919.0" width="15.3" height="15.9" fill="#074b5f"/>
<rect x="1421.1" y="1919.0" width="15.3" height="15.9" fill="#084e5d"/>
<rect x="1465.7" y="1919.0" width="15.3" height="15.9" fill="#0f5f4d"/>
<rect x="544.8" y="1934.5" width="15.3" height="15.9" fill="#10624a"/>
<rect x="574.5" y="1934.5" width="15.3" height="15.9" fill="#0f5f4c"/>
<rect x="619.0" y="1934.5" width="15.3" height="15.9" fill="#116349"/>
<rect x="633.9" y="1934.5" width="15.3" height="15.9" fill="#0f5f4d"/>
<rect x="648.7" y="1934.5" width="15.3" height="15.9" fill="#126547"/>
<rect x="663.6" y="1934.5" width="15.3" height="15.9" fill="#0e5c4f"/>
<rect x="678.4" y="1934.5" width="15.3" height="15.9" fill="#126546"/>
<rect x="693.3" y="1934.5" width="15.3" height="15.9" fill="#116349"/>
<rect x="708.2" y="1934.5" width="15.3" height="15.9" fill="#10614b"/>
<rect x="723.0" y="1934.5" width="15.3" height="15.9" fill="#136844"/>
<rect x="737.9" y="1934.5" width="15.3" height="15.9" fill="#10614a"/>
<rect x="752.7" y="1934.5" width="15.3" height="15.9" fill="#116249"/>
<rect x="767.6" y="1934.5" width="15.3" height="15.9" fill="#10614a"/>
<rect x="782.4" y="1934.5" width="15.3" height="15.9" fill="#136844"/>
<rect x="797.3" y="1934.5" width="30.1" height="15.9" fill="#146b41"/>
<rect x="827.0" y="1934.5" width="15.3" height="15.9" fill="#136844"/>
<rect x="841.8" y="1934.5" width="15.3" height="15.9" fill="#156c40"/>
<rect x="856.7" y="1934.5" width="15.3" height="15.9" fill="#126547"/>
<rect x="871.5" y="1934.5" width="15.3" height="15.9" fill="#136745"/>
<rect x="886.4" y="1934.5" width="15.3" height="15.9" fill="#146b41"/>
<rect x="901.3" y="1934.5" width="15.3" height="15.9" fill="#166f3d"/>
<rect x="916.1" y="1934.5" width="15.3" height="15.9" fill="#156c40"/>
<rect x="931.0" y="1934.5" width="15.3" height="15.9" fill="#156d3f"/>
<rect x="945.8" y="1934.5" width="15.3" height="15.9" fill="#166e3e"/>
<rect x="960.7" y="1934.5" width="15.3" height="15.9" fill="#146942"/>
<rect x="975.5" y="1934.5" width="15.3" height="15.9" fill="#166f3d"/>
<rect x="990.4" y="1934.5" width="15.3" height="15.9" fill="#156c3f"/>
<rect x="1005.2" y="1934.5" width="30.1" height="15.9" fill="#136844"/>
<rect x="1034.9" y="1934.5" width="15.3" height="15.9" fill="#156d3f"/>
<rect x="1049.8" y="1934.5" width="15.3" height="15.9" fill="#136943"/>
<rect x="1064.7" y="1934.5" width="15.3" height="15.9" fill="#136844"/>
<rect x="1079.5" y="1934.5" width="15.3" height="15.9" fill="#16703c"/>
<rect x="1094.4" y="1934.5" width="15.3" height="15.9" fill="#156c3f"/>
<rect x="1109.2" y="1934.5" width="15.3" height="15.9" fill="#156d3f"/>
<rect x="1124.1" y="1934.5" width="15.3" height="15.9" fill="#166e3e"/>
<rect x="1138.9" y="1934.5" width="15.3" height="15.9" fill="#17713b"/>
<rect x="1153.8" y="1934.5" width="15.3" height="15.9" fill="#136943"/>
<rect x="1168.6" y="1934.5" width="15.3" height="15.9" fill="#156b41"/>
<rect x="1183.5" y="1934.5" width="15.3" height="15.9" fill="#136943"/>
<rect x="1198.3" y="1934.5" width="15.3" height="15.9" fill="#156d3f"/>
<rect x="1421.1" y="1934.5" width="15.3" height="15.9" fill="#084f5c"/>
<rect x="574.5" y="1950.0" width="15.3" height="15.9" fill="#126546"/>
<rect x="589.3" y="1950.0" width="15.3" height="15.9" fill="#116348"/>
<rect x="604.2" y="1950.0" width="15.3" height="15.9" fill="#116249"/>
<rect x="619.0" y="1950.0" width="15.3" height="15.9" fill="#10604b"/>
<rect x="633.9" y="1950.0" width="15.3" height="15.9" fill="#116249"/>
<rect x="648.7" y="1950.0" width="15.3" height="15.9" fill="#0f5f4c"/>
<rect x="663.6" y="1950.0" width="15.3" height="15.9" fill="#126546"/>
<rect x="678.4" y="1950.0" width="15.3" height="15.9" fill="#126547"/>
<rect x="693.3" y="1950.0" width="15.3" height="15.9" fill="#126546"/>
<rect x="708.2" y="1950.0" width="15.3" height="15.9" fill="#0f5e4d"/>
<rect x="723.0" y="1950.0" width="15.3" height="15.9" fill="#126447"/>
<rect x="737.9" y="1950.0" width="15.3" height="15.9" fill="#126646"/>
<rect x="752.7" y="1950.0" width="15.3" height="15.9" fill="#116448"/>
<rect x="767.6" y="1950.0" width="15.3" height="15.9" fill="#146942"/>
<rect x="782.4" y="1950.0" width="15.3" height="15.9" fill="#146a41"/>
<rect x="797.3" y="1950.0" width="15.3" height="15.9" fill="#146942"/>
<rect x="812.1" y="1950.0" width="15.3" height="15.9" fill="#146b41"/>
<rect x="827.0" y="1950.0" width="15.3" height="15.9" fill="#136943"/>
<rect x="841.8" y="1950.0" width="15.3" height="15.9" fill="#156b41"/>
<rect x="856.7" y="1950.0" width="15.3" height="15.9" fill="#116349"/>
<rect x="871.5" y="1950.0" width="15.3" height="15.9" fill="#146943"/>
<rect x="886.4" y="1950.0" width="15.3" height="15.9" fill="#146a42"/>
<rect x="901.3" y="1950.0" width="15.3" height="15.9" fill="#146943"/>
<rect x="916.1" y="1950.0" width="15.3" height="15.9" fill="#126646"/>
<rect x="931.0" y="1950.0" width="15.3" height="15.9" fill="#126447"/>
<rect x="945.8" y="1950.0" width="15.3" height="15.9" fill="#146a41"/>
<rect x="960.7" y="1950.0" width="15.3" height="15.9" fill="#156d3f"/>
<rect x="975.5" y="1950.0" width="15.3" height="15.9" fill="#126645"/>
<rect x="990.4" y="1950.0" width="30.1" height="15.9" fill="#126546"/>
<rect x="1020.1" y="1950.0" width="15.3" height="15.9" fill="#116448"/>
<rect x="1034.9" y="1950.0" width="15.3" height="15.9" fill="#146b41"/>
<rect x="1049.8" y="1950.0" width="15.3" height="15.9" fill="#166f3d"/>
<rect x="1064.7" y="1950.0" width="15.3" height="15.9" fill="#166e3d"/>
<rect x="1079.5" y="1950.0" width="15.3" height="15.9" fill="#146a41"/>
<rect x="1094.4" y="1950.0" width="15.3" height="15.9" fill="#166f3d"/>
<rect x="1109.2" y="1950.0" width="15.3" height="15.9" fill="#136844"/>
<rect x="1124.1" y="1950.0" width="15.3" height="15.9" fill="#17713b"/>
<rect x="1138.9" y="1950.0" width="15.3" height="15.9" fill="#156c40"/>
<rect x="1153.8" y="1950.0" width="15.3" height="15.9" fill="#136843"/>
<rect x="1168.6" y="1950.0" width="15.3" height="15.9" fill="#16703c"/>
<rect x="1183.5" y="1950.0" width="15.3" height="15.9" fill="#146b41"/>
<rect x="1198.3" y="1950.0" width="15.3" height="15.9" fill="#156d3f"/>
<rect x="604.2" y="1965.5" width="15.3" height="15.9" fill="#0e5c4f"/>
<rect x="619.0" y="1965.5" width="15.3" height="15.9" fill="#10614b"/>
<rect x="633.9" y="1965.5" width="15.3" height="15.9" fill="#116249"/>
<rect x="648.7" y="1965.5" width="15.3" height="15.9" fill="#126547"/>
<rect x="678.4" y="1965.5" width="15.3" height="15.9" fill="#0e5c4f"/>
<rect x="693.3" y="1965.5" width="15.3" height="15.9" fill="#126546"/>
<rect x="708.2" y="1965.5" width="15.3" height="15.9" fill="#0f5d4e"/>
<rect x="723.0" y="1965.5" width="15.3" height="15.9" fill="#0f5f4d"/>
<rect x="737.9" y="1965.5" width="15.3" height="15.9" fill="#116448"/>
<rect x="752.7" y="1965.5" width="15.3" height="15.9" fill="#10614a"/>
<rect x="767.6" y="1965.5" width="15.3" height="15.9" fill="#10624a"/>
<rect x="782.4" y="1965.5" width="15.3" height="15.9" fill="#126546"/>
<rect x="797.3" y="1965.5" width="15.3" height="15.9" fill="#11624a"/>
<rect x="812.1" y="1965.5" width="15.3" height="15.9" fill="#136943"/>
<rect x="827.0" y="1965.5" width="15.3" height="15.9" fill="#116249"/>
<rect x="841.8" y="1965.5" width="15.3" height="15.9" fill="#136943"/>
<rect x="856.7" y="1965.5" width="15.3" height="15.9" fill="#136844"/>
<rect x="871.5" y="1965.5" width="15.3" height="15.9" fill="#126546"/>
<rect x="886.4" y="1965.5" width="15.3" height="15.9" fill="#10604c"/>
<rect x="901.3" y="1965.5" width="15.3" height="15.9" fill="#146943"/>
<rect x="916.1" y="1965.5" width="15.3" height="15.9" fill="#10614a"/>
<rect x="931.0" y="1965.5" width="15.3" height="15.9" fill="#136744"/>
<rect x="945.8" y="1965.5" width="15.3" height="15.9" fill="#136745"/>
<rect x="960.7" y="1965.5" width="15.3" height="15.9" fill="#116349"/>
<rect x="975.5" y="1965.5" width="15.3" height="15.9" fill="#146943"/>
<rect x="990.4" y="1965.5" width="15.3" height="15.9" fill="#146a42"/>
<rect x="1005.2" y="1965.5" width="15.3" height="15.9" fill="#136844"/>
<rect x="1020.1" y="1965.5" width="15.3" height="15.9" fill="#136745"/>
<rect x="1034.9" y="1965.5" width="15.3" height="15.9" fill="#136943"/>
<rect x="1049.8" y="1965.5" width="15.3" height="15.9" fill="#146b41"/>
<rect x="1064.7" y="1965.5" width="15.3" height="15.9" fill="#136844"/>
<rect x="1079.5" y="1965.5" width="15.3" height="15.9" fill="#16703c"/>
<rect x="1094.4" y="1965.5" width="15.3" height="15.9" fill="#17723a"/>
<rect x="1109.2" y="1965.5" width="15.3" height="15.9" fill="#17713b"/>
<rect x="1124.1" y="1965.5" width="15.3" height="15.9" fill="#187339"/>
<rect x="1138.9" y="1965.5" width="15.3" height="15.9" fill="#156c40"/>
<rect x="1153.8" y="1965.5" width="15.3" height="15.9" fill="#187438"/>
<rect x="1168.6" y="1965.5" width="15.3" height="15.9" fill="#146a41"/>
<rect x="1183.5" y="1965.5" width="15.3" height="15.9" fill="#166f3d"/>
<rect x="1198.3" y="1965.5" width="15.3" height="15.9" fill="#156c40"/>
<rect x="1213.2" y="1965.5" width="15.3" height="15.9" fill="#17703c"/>
<rect x="529.9" y="1981.0" width="15.3" height="15.9" fill="#116348"/>
<rect x="559.6" y="1981.0" width="15.3" height="15.9" fill="#116448"/>
<rect x="589.3" y="1981.0" width="15.3" height="15.9" fill="#10614b"/>
<rect x="604.2" y="1981.0" width="15.3" height="15.9" fill="#10604c"/>
<rect x="619.0" y="1981.0" width="15.3" height="15.9" fill="#0f5e4d"/>
<rect x="633.9" y="1981.0" width="15.3" height="15.9" fill="#10604b"/>
<rect x="648.7" y="1981.0" width="15.3" height="15.9" fill="#0f5f4c"/>
<rect x="663.6" y="1981.0" width="15.3" height="15.9" fill="#0f5e4d"/>
<rect x="678.4" y="1981.0" width="15.3" height="15.9" fill="#116447"/>
<rect x="693.3" y="1981.0" width="15.3" height="15.9" fill="#10624a"/>
<rect x="708.2" y="1981.0" width="15.3" height="15.9" fill="#10614b"/>
<rect x="723.0" y="1981.0" width="15.3" height="15.9" fill="#0f5e4d"/>
<rect x="737.9" y="1981.0" width="15.3" height="15.9" fill="#126447"/>
<rect x="752.7" y="1981.0" width="15.3" height="15.9" fill="#0f5f4c"/>
<rect x="767.6" y="1981.0" width="15.3" height="15.9" fill="#10604b"/>
<rect x="782.4" y="1981.0" width="15.3" height="15.9" fill="#116448"/>
<rect x="797.3" y="1981.0" width="15.3" height="15.9" fill="#126646"/>
<rect x="812.1" y="1981.0" width="15.3" height="15.9" fill="#136943"/>
<rect x="827.0" y="1981.0" width="15.3" height="15.9" fill="#126646"/>
<rect x="841.8" y="1981.0" width="15.3" height="15.9" fill="#136844"/>
<rect x="856.7" y="1981.0" width="15.3" height="15.9" fill="#136744"/>
<rect x="871.5" y="1981.0" width="15.3" height="15.9" fill="#126546"/>
<rect x="886.4" y="1981.0" width="15.3" height="15.9" fill="#126646"/>
<rect x="901.3" y="1981.0" width="15.3" height="15.9" fill="#0f5f4c"/>
<rect x="916.1" y="1981.0" width="15.3" height="15.9" fill="#10614a"/>
<rect x="931.0" y="1981.0" width="15.3" height="15.9" fill="#10604b"/>
<rect x="945.8" y="1981.0" width="15.3" height="15.9" fill="#146a42"/>
<rect x="960.7" y="1981.0" width="15.3" height="15.9" fill="#136943"/>
<rect x="975.5" y="1981.0" width="15.3" height="15.9" fill="#136844"/>
<rect x="990.4" y="1981.0" width="15.3" height="15.9" fill="#116448"/>
<rect x="1005.2" y="1981.0" width="15.3" height="15.9" fill="#126547"/>
<rect x="1020.1" y="1981.0" width="15.3" height="15.9" fill="#116348"/>
<rect x="1034.9" y="1981.0" width="15.3" height="15.9" fill="#146a42"/>
<rect x="1049.8" y="1981.0" width="15.3" height="15.9" fill="#166f3d"/>
<rect x="1064.7" y="1981.0" width="15.3" height="15.9" fill="#136843"/>
<rect x="1079.5" y="1981.0" width="15.3" height="15.9" fill="#126645"/>
<rect x="1094.4" y="1981.0" width="15.3" height="15.9" fill="#136943"/>
<rect x="1109.2" y="1981.0" width="15.3" height="15.9" fill="#156c40"/>
<rect x="1124.1" y="1981.0" width="15.3" height="15.9" fill="#18723a"/>
<rect x="1138.9" y="1981.0" width="15.3" height="15.9" fill="#17723a"/>
<rect x="1153.8" y="1981.0" width="15.3" height="15.9" fill="#166f3d"/>
<rect x="1168.6" y="1981.0" width="15.3" height="15.9" fill="#156b40"/>
<rect x="1183.5" y="1981.0" width="15.3" height="15.9" fill="#156c40"/>
<rect x="1198.3" y="1981.0" width="15.3" height="15.9" fill="#156d3f"/>
<rect x="544.8" y="1996.6" width="15.3" height="15.9" fill="#126547"/>
<rect x="574.5" y="1996.6" width="15.3" height="15.9" fill="#10614a"/>
<rect x="589.3" y="1996.6" width="15.3" height="15.9" fill="#136745"/>
<rect x="604.2" y="1996.6" width="15.3" height="15.9" fill="#126646"/>
<rect x="619.0" y="1996.6" width="15.3" height="15.9" fill="#126547"/>
<rect x="633.9" y="1996.6" width="15.3" height="15.9" fill="#10614a"/>
<rect x="648.7" y="1996.6" width="15.3" height="15.9" fill="#126547"/>
<rect x="663.6" y="1996.6" width="15.3" height="15.9" fill="#0f5d4e"/>
<rect x="678.4" y="1996.6" width="15.3" height="15.9" fill="#0e5d4e"/>
<rect x="693.3" y="1996.6" width="15.3" height="15.9" fill="#116249"/>
<rect x="708.2" y="1996.6" width="15.3" height="15.9" fill="#10624a"/>
<rect x="723.0" y="1996.6" width="15.3" height="15.9" fill="#0f5e4d"/>
<rect x="737.9" y="1996.6" width="15.3" height="15.9" fill="#0f5f4d"/>
<rect x="752.7" y="1996.6" width="15.3" height="15.9" fill="#0e5c4f"/>
<rect x="767.6" y="1996.6" width="15.3" height="15.9" fill="#126645"/>
<rect x="782.4" y="1996.6" width="15.3" height="15.9" fill="#126447"/>
<rect x="797.3" y="1996.6" width="15.3" height="15.9" fill="#136745"/>
<rect x="812.1" y="1996.6" width="15.3" height="15.9" fill="#136744"/>
<rect x="827.0" y="1996.6" width="15.3" height="15.9" fill="#10614b"/>
<rect x="841.8" y="1996.6" width="15.3" height="15.9" fill="#116448"/>
<rect x="856.7" y="1996.6" width="15.3" height="15.9" fill="#10604c"/>
<rect x="871.5" y="1996.6" width="15.3" height="15.9" fill="#126547"/>
<rect x="886.4" y="1996.6" width="15.3" height="15.9" fill="#126546"/>
<rect x="901.3" y="1996.6" width="15.3" height="15.9" fill="#0f5e4d"/>
<rect x="916.1" y="1996.6" width="15.3" height="15.9" fill="#0f5d4e"/>
<rect x="931.0" y="1996.6" width="15.3" height="15.9" fill="#10614b"/>
<rect x="945.8" y="1996.6" width="15.3" height="15.9" fill="#126546"/>
<rect x="960.7" y="1996.6" width="15.3" height="15.9" fill="#116448"/>
<rect x="975.5" y="1996.6" width="15.3" height="15.9" fill="#10604c"/>
<rect x="990.4" y="1996.6" width="15.3" height="15.9" fill="#146943"/>
<rect x="1005.2" y="1996.6" width="15.3" height="15.9" fill="#146942"/>
<rect x="1020.1" y="1996.6" width="15.3" height="15.9" fill="#126645"/>
<rect x="1034.9" y="1996.6" width="15.3" height="15.9" fill="#116349"/>
<rect x="1049.8" y="1996.6" width="15.3" height="15.9" fill="#156d3e"/>
<rect x="1064.7" y="1996.6" width="15.3" height="15.9" fill="#146b41"/>
<rect x="1079.5" y="1996.6" width="15.3" height="15.9" fill="#126745"/>
<rect x="1094.4" y="1996.6" width="15.3" height="15.9" fill="#146a41"/>
<rect x="1109.2" y="1996.6" width="15.3" height="15.9" fill="#166f3d"/>
<rect x="1124.1" y="1996.6" width="15.3" height="15.9" fill="#18723a"/>
<rect x="1138.9" y="1996.6" width="15.3" height="15.9" fill="#166f3d"/>
<rect x="1153.8" y="1996.6" width="15.3" height="15.9" fill="#17713b"/>
<rect x="1168.6" y="1996.6" width="15.3" height="15.9" fill="#156d3f"/>
<rect x="1183.5" y="1996.6" width="15.3" height="15.9" fill="#166e3e"/>
<rect x="1198.3" y="1996.6" width="15.3" height="15.9" fill="#197636"/>
<rect x="1213.2" y="1996.6" width="15.3" height="15.9" fill="#17713b"/>
<rect x="1228.0" y="1996.6" width="15.3" height="15.9" fill="#166e3e"/>
<rect x="1242.9" y="1996.6" width="15.3" height="15.9" fill="#187339"/>
<rect x="544.8" y="2012.1" width="15.3" height="15.9" fill="#0f5d4e"/>
<rect x="559.6" y="2012.1" width="15.3" height="15.9" fill="#0f5e4d"/>
<rect x="574.5" y="2012.1" width="15.3" height="15.9" fill="#10614b"/>
<rect x="589.3" y="2012.1" width="15.3" height="15.9" fill="#116249"/>
<rect x="604.2" y="2012.1" width="15.3" height="15.9" fill="#116349"/>
<rect x="619.0" y="2012.1" width="15.3" height="15.9" fill="#116448"/>
<rect x="633.9" y="2012.1" width="15.3" height="15.9" fill="#10614b"/>
<rect x="648.7" y="2012.1" width="15.3" height="15.9" fill="#0e5d4f"/>
<rect x="663.6" y="2012.1" width="15.3" height="15.9" fill="#116448"/>
<rect x="678.4" y="2012.1" width="15.3" height="15.9" fill="#0e5c4f"/>
<rect x="693.3" y="2012.1" width="15.3" height="15.9" fill="#10614a"/>
<rect x="708.2" y="2012.1" width="15.3" height="15.9" fill="#10604b"/>
<rect x="723.0" y="2012.1" width="15.3" height="15.9" fill="#116348"/>
<rect x="737.9" y="2012.1" width="15.3" height="15.9" fill="#116448"/>
<rect x="752.7" y="2012.1" width="15.3" height="15.9" fill="#0f5e4d"/>
<rect x="767.6" y="2012.1" width="15.3" height="15.9" fill="#116349"/>
<rect x="782.4" y="2012.1" width="15.3" height="15.9" fill="#116348"/>
<rect x="797.3" y="2012.1" width="15.3" height="15.9" fill="#10604b"/>
<rect x="812.1" y="2012.1" width="15.3" height="15.9" fill="#0e5c4f"/>
<rect x="827.0" y="2012.1" width="15.3" height="15.9" fill="#126547"/>
<rect x="841.8" y="2012.1" width="15.3" height="15.9" fill="#10614a"/>
<rect x="856.7" y="2012.1" width="15.3" height="15.9" fill="#0e5b50"/>
<rect x="871.5" y="2012.1" width="15.3" height="15.9" fill="#0e5d4e"/>
<rect x="886.4" y="2012.1" width="15.3" height="15.9" fill="#126646"/>
<rect x="901.3" y="2012.1" width="15.3" height="15.9" fill="#0f5e4e"/>
<rect x="916.1" y="2012.1" width="15.3" height="15.9" fill="#10604b"/>
<rect x="931.0" y="2012.1" width="15.3" height="15.9" fill="#126546"/>
<rect x="945.8" y="2012.1" width="15.3" height="15.9" fill="#136745"/>
<rect x="960.7" y="2012.1" width="15.3" height="15.9" fill="#126546"/>
<rect x="975.5" y="2012.1" width="15.3" height="15.9" fill="#136745"/>
<rect x="990.4" y="2012.1" width="15.3" height="15.9" fill="#10604c"/>
<rect x="1005.2" y="2012.1" width="15.3" height="15.9" fill="#10614a"/>
<rect x="1020.1" y="2012.1" width="15.3" height="15.9" fill="#156c40"/>
<rect x="1034.9" y="2012.1" width="15.3" height="15.9" fill="#146b41"/>
<rect x="1049.8" y="2012.1" width="15.3" height="15.9" fill="#116448"/>
<rect x="1064.7" y="2012.1" width="15.3" height="15.9" fill="#126547"/>
<rect x="1079.5" y="2012.1" width="15.3" height="15.9" fill="#136843"/>
<rect x="1094.4" y="2012.1" width="15.3" height="15.9" fill="#17713b"/>
<rect x="1109.2" y="2012.1" width="15.3" height="15.9" fill="#146a42"/>
<rect x="1124.1" y="2012.1" width="15.3" height="15.9" fill="#17703c"/>
<rect x="1138.9" y="2012.1" width="15.3" height="15.9" fill="#187438"/>
<rect x="1153.8" y="2012.1" width="15.3" height="15.9" fill="#17723a"/>
<rect x="1168.6" y="2012.1" width="15.3" height="15.9" fill="#197636"/>
<rect x="1183.5" y="2012.1" width="15.3" height="15.9" fill="#166f3d"/>
<rect x="1198.3" y="2012.1" width="15.3" height="15.9" fill="#166e3e"/>
<rect x="1213.2" y="2012.1" width="15.3" height="15.9" fill="#156d3f"/>
<rect x="1228.0" y="2012.1" width="15.3" height="15.9" fill="#197537"/>
<rect x="1242.9" y="2012.1" width="15.3" height="15.9" fill="#166e3e"/>
<rect x="1257.8" y="2012.1" width="15.3" height="15.9" fill="#1a7834"/>
<rect x="1272.6" y="2012.1" width="15.3" height="15.9" fill="#197537"/>
<rect x="1287.5" y="2012.1" width="15.3" height="15.9" fill="#166f3c"/>
<rect x="1302.3" y="2012.1" width="15.3" height="15.9" fill="#197636"/>
<rect x="1332.0" y="2012.1" width="15.3" height="15.9" fill="#156d3f"/>
<rect x="1346.9" y="2012.1" width="15.3" height="15.9" fill="#166e3e"/>
<rect x="1376.6" y="2012.1" width="15.3" height="15.9" fill="#10614a"/>
<rect x="1391.4" y="2012.1" width="15.3" height="15.9" fill="#116249"/>
<rect x="529.9" y="2027.6" width="30.1" height="15.9" fill="#126646"/>
<rect x="559.6" y="2027.6" width="15.3" height="15.9" fill="#0e5c4f"/>
<rect x="574.5" y="2027.6" width="15.3" height="15.9" fill="#126546"/>
<rect x="589.3" y="2027.6" width="15.3" height="15.9" fill="#116249"/>
<rect x="604.2" y="2027.6" width="15.3" height="15.9" fill="#126547"/>
<rect x="619.0" y="2027.6" width="15.3" height="15.9" fill="#10614a"/>
<rect x="633.9" y="2027.6" width="15.3" height="15.9" fill="#116349"/>
<rect x="648.7" y="2027.6" width="15.3" height="15.9" fill="#116249"/>
<rect x="663.6" y="2027.6" width="15.3" height="15.9" fill="#126547"/>
<rect x="678.4" y="2027.6" width="15.3" height="15.9" fill="#0e5d4f"/>
<rect x="693.3" y="2027.6" width="15.3" height="15.9" fill="#0e5c4f"/>
<rect x="708.2" y="2027.6" width="15.3" height="15.9" fill="#11624a"/>
<rect x="723.0" y="2027.6" width="15.3" height="15.9" fill="#0f5f4c"/>
<rect x="737.9" y="2027.6" width="15.3" height="15.9" fill="#10604b"/>
<rect x="752.7" y="2027.6" width="15.3" height="15.9" fill="#0e5b50"/>
<rect x="767.6" y="2027.6" width="15.3" height="15.9" fill="#116348"/>
<rect x="782.4" y="2027.6" width="15.3" height="15.9" fill="#0e5b50"/>
<rect x="812.1" y="2027.6" width="15.3" height="15.9" fill="#116348"/>
<rect x="827.0" y="2027.6" width="15.3" height="15.9" fill="#116349"/>
<rect x="841.8" y="2027.6" width="15.3" height="15.9" fill="#0f5f4d"/>
<rect x="856.7" y="2027.6" width="15.3" height="15.9" fill="#0e5b50"/>
<rect x="871.5" y="2027.6" width="15.3" height="15.9" fill="#10614b"/>
<rect x="886.4" y="2027.6" width="15.3" height="15.9" fill="#0e5c4f"/>
<rect x="901.3" y="2027.6" width="15.3" height="15.9" fill="#0f5f4c"/>
<rect x="916.1" y="2027.6" width="15.3" height="15.9" fill="#0e5c4f"/>
<rect x="931.0" y="2027.6" width="15.3" height="15.9" fill="#126645"/>
<rect x="945.8" y="2027.6" width="15.3" height="15.9" fill="#116249"/>
<rect x="960.7" y="2027.6" width="15.3" height="15.9" fill="#10614b"/>
<rect x="975.5" y="2027.6" width="15.3" height="15.9" fill="#0f5f4d"/>
<rect x="990.4" y="2027.6" width="15.3" height="15.9" fill="#136745"/>
<rect x="1005.2" y="2027.6" width="15.3" height="15.9" fill="#146942"/>
<rect x="1020.1" y="2027.6" width="15.3" height="15.9" fill="#146b41"/>
<rect x="1034.9" y="2027.6" width="15.3" height="15.9" fill="#116348"/>
<rect x="1049.8" y="2027.6" width="30.1" height="15.9" fill="#136844"/>
<rect x="1079.5" y="2027.6" width="15.3" height="15.9" fill="#166e3e"/>
<rect x="1094.4" y="2027.6" width="15.3" height="15.9" fill="#136843"/>
<rect x="1109.2" y="2027.6" width="15.3" height="15.9" fill="#166f3d"/>
<rect x="1124.1" y="2027.6" width="15.3" height="15.9" fill="#187438"/>
<rect x="1138.9" y="2027.6" width="15.3" height="15.9" fill="#187339"/>
<rect x="1153.8" y="2027.6" width="15.3" height="15.9" fill="#156c40"/>
<rect x="1168.6" y="2027.6" width="15.3" height="15.9" fill="#156d3f"/>
<rect x="1183.5" y="2027.6" width="15.3" height="15.9" fill="#166e3e"/>
<rect x="1198.3" y="2027.6" width="15.3" height="15.9" fill="#197537"/>
<rect x="1213.2" y="2027.6" width="15.3" height="15.9" fill="#187438"/>
<rect x="1228.0" y="2027.6" width="30.1" height="15.9" fill="#187339"/>
<rect x="1257.8" y="2027.6" width="15.3" height="15.9" fill="#18723a"/>
<rect x="1272.6" y="2027.6" width="30.1" height="15.9" fill="#197537"/>
<rect x="1302.3" y="2027.6" width="15.3" height="15.9" fill="#1a7834"/>
<rect x="1317.2" y="2027.6" width="45.0" height="15.9" fill="#197636"/>
<rect x="1361.7" y="2027.6" width="15.3" height="15.9" fill="#187438"/>
<rect x="1376.6" y="2027.6" width="15.3" height="15.9" fill="#16703c"/>
<rect x="589.3" y="2043.1" width="15.3" height="15.9" fill="#0e5c4f"/>
<rect x="604.2" y="2043.1" width="15.3" height="15.9" fill="#116348"/>
<rect x="619.0" y="2043.1" width="15.3" height="15.9" fill="#126546"/>
<rect x="633.9" y="2043.1" width="15.3" height="15.9" fill="#10614b"/>
<rect x="648.7" y="2043.1" width="15.3" height="15.9" fill="#126646"/>
<rect x="663.6" y="2043.1" width="15.3" height="15.9" fill="#0f5e4d"/>
<rect x="678.4" y="2043.1" width="15.3" height="15.9" fill="#126645"/>
<rect x="693.3" y="2043.1" width="15.3" height="15.9" fill="#10614b"/>
<rect x="708.2" y="2043.1" width="15.3" height="15.9" fill="#116448"/>
<rect x="723.0" y="2043.1" width="15.3" height="15.9" fill="#0f5e4d"/>
<rect x="737.9" y="2043.1" width="15.3" height="15.9" fill="#0f5f4d"/>
<rect x="752.7" y="2043.1" width="15.3" height="15.9" fill="#0f5f4c"/>
<rect x="767.6" y="2043.1" width="15.3" height="15.9" fill="#0f5e4d"/>
<rect x="782.4" y="2043.1" width="15.3" height="15.9" fill="#0e5b50"/>
<rect x="797.3" y="2043.1" width="15.3" height="15.9" fill="#0f5f4d"/>
<rect x="812.1" y="2043.1" width="15.3" height="15.9" fill="#126447"/>
<rect x="827.0" y="2043.1" width="15.3" height="15.9" fill="#10614b"/>
<rect x="841.8" y="2043.1" width="15.3" height="15.9" fill="#116448"/>
<rect x="856.7" y="2043.1" width="15.3" height="15.9" fill="#10624a"/>
<rect x="871.5" y="2043.1" width="15.3" height="15.9" fill="#116249"/>
<rect x="886.4" y="2043.1" width="15.3" height="15.9" fill="#126447"/>
<rect x="901.3" y="2043.1" width="15.3" height="15.9" fill="#11624a"/>
<rect x="916.1" y="2043.1" width="15.3" height="15.9" fill="#0e5d4e"/>
<rect x="931.0" y="2043.1" width="15.3" height="15.9" fill="#0f5d4e"/>
<rect x="945.8" y="2043.1" width="15.3" height="15.9" fill="#10604c"/>
<rect x="960.7" y="2043.1" width="15.3" height="15.9" fill="#0e5c4f"/>
<rect x="975.5" y="2043.1" width="15.3" height="15.9" fill="#0f5f4c"/>
<rect x="990.4" y="2043.1" width="15.3" height="15.9" fill="#136844"/>
<rect x="1005.2" y="2043.1" width="15.3" height="15.9" fill="#146a42"/>
<rect x="1020.1" y="2043.1" width="15.3" height="15.9" fill="#126547"/>
<rect x="1034.9" y="2043.1" width="15.3" height="15.9" fill="#146b41"/>
<rect x="1049.8" y="2043.1" width="15.3" height="15.9" fill="#156c40"/>
<rect x="1064.7" y="2043.1" width="30.1" height="15.9" fill="#166f3d"/>
<rect x="1094.4" y="2043.1" width="15.3" height="15.9" fill="#156d3f"/>
<rect x="1109.2" y="2043.1" width="15.3" height="15.9" fill="#146942"/>
<rect x="1124.1" y="2043.1" width="15.3" height="15.9" fill="#187339"/>
<rect x="1138.9" y="2043.1" width="15.3" height="15.9" fill="#166f3d"/>
<rect x="1153.8" y="2043.1" width="15.3" height="15.9" fill="#187339"/>
<rect x="1168.6" y="2043.1" width="15.3" height="15.9" fill="#17713b"/>
<rect x="1183.5" y="2043.1" width="15.3" height="15.9" fill="#187339"/>
<rect x="1198.3" y="2043.1" width="15.3" height="15.9" fill="#1a7834"/>
<rect x="1213.2" y="2043.1" width="15.3" height="15.9" fill="#166f3d"/>
<rect x="1228.0" y="2043.1" width="15.3" height="15.9" fill="#187439"/>
<rect x="1242.9" y="2043.1" width="15.3" height="15.9" fill="#197537"/>
<rect x="1257.8" y="2043.1" width="15.3" height="15.9" fill="#187438"/>
<rect x="1272.6" y="2043.1" width="15.3" height="15.9" fill="#1a7934"/>
<rect x="1287.5" y="2043.1" width="15.3" height="15.9" fill="#187339"/>
<rect x="1302.3" y="2043.1" width="15.3" height="15.9" fill="#1a7934"/>
<rect x="1317.2" y="2043.1" width="15.3" height="15.9" fill="#197636"/>
<rect x="1332.0" y="2043.1" width="15.3" height="15.9" fill="#1a7933"/>
<rect x="1346.9" y="2043.1" width="15.3" height="15.9" fill="#166f3d"/>
<rect x="1376.6" y="2043.1" width="15.3" height="15.9" fill="#166e3e"/>
<rect x="1391.4" y="2043.1" width="15.3" height="15.9" fill="#156d3f"/>
<rect x="604.2" y="2058.6" width="15.3" height="15.9" fill="#126646"/>
<rect x="619.0" y="2058.6" width="15.3" height="15.9" fill="#0e5c4f"/>
<rect x="633.9" y="2058.6" width="15.3" height="15.9" fill="#0f5f4d"/>
<rect x="648.7" y="2058.6" width="15.3" height="15.9" fill="#116448"/>
<rect x="663.6" y="2058.6" width="15.3" height="15.9" fill="#136745"/>
<rect x="678.4" y="2058.6" width="15.3" height="15.9" fill="#0f5e4e"/>
<rect x="693.3" y="2058.6" width="15.3" height="15.9" fill="#10614b"/>
<rect x="708.2" y="2058.6" width="30.1" height="15.9" fill="#116348"/>
<rect x="737.9" y="2058.6" width="15.3" height="15.9" fill="#116448"/>
<rect x="752.7" y="2058.6" width="15.3" height="15.9" fill="#116348"/>
<rect x="767.6" y="2058.6" width="15.3" height="15.9" fill="#0e5d4e"/>
<rect x="782.4" y="2058.6" width="15.3" height="15.9" fill="#0e5d4f"/>
<rect x="797.3" y="2058.6" width="15.3" height="15.9" fill="#0d5a51"/>
<rect x="812.1" y="2058.6" width="15.3" height="15.9" fill="#10614b"/>
<rect x="827.0" y="2058.6" width="15.3" height="15.9" fill="#0e5b50"/>
<rect x="841.8" y="2058.6" width="15.3" height="15.9" fill="#0e5c4f"/>
<rect x="856.7" y="2058.6" width="15.3" height="15.9" fill="#116448"/>
<rect x="871.5" y="2058.6" width="15.3" height="15.9" fill="#10604b"/>
<rect x="886.4" y="2058.6" width="15.3" height="15.9" fill="#10604c"/>
<rect x="901.3" y="2058.6" width="30.1" height="15.9" fill="#10604b"/>
<rect x="931.0" y="2058.6" width="15.3" height="15.9" fill="#10614a"/>
<rect x="945.8" y="2058.6" width="15.3" height="15.9" fill="#0f5e4e"/>
<rect x="960.7" y="2058.6" width="15.3" height="15.9" fill="#0e5c50"/>
<rect x="975.5" y="2058.6" width="15.3" height="15.9" fill="#0e5d4f"/>
<rect x="990.4" y="2058.6" width="15.3" height="15.9" fill="#0f5e4e"/>
<rect x="1005.2" y="2058.6" width="15.3" height="15.9" fill="#116348"/>
<rect x="1020.1" y="2058.6" width="15.3" height="15.9" fill="#116249"/>
<rect x="1034.9" y="2058.6" width="15.3" height="15.9" fill="#116448"/>
<rect x="1049.8" y="2058.6" width="15.3" height="15.9" fill="#146943"/>
<rect x="1064.7" y="2058.6" width="15.3" height="15.9" fill="#16703c"/>
<rect x="1079.5" y="2058.6" width="15.3" height="15.9" fill="#156e3e"/>
<rect x="1094.4" y="2058.6" width="15.3" height="15.9" fill="#146a42"/>
<rect x="1109.2" y="2058.6" width="15.3" height="15.9" fill="#17713b"/>
<rect x="1124.1" y="2058.6" width="15.3" height="15.9" fill="#156c40"/>
<rect x="1138.9" y="2058.6" width="15.3" height="15.9" fill="#156d3f"/>
<rect x="1153.8" y="2058.6" width="15.3" height="15.9" fill="#17703c"/>
<rect x="1168.6" y="2058.6" width="15.3" height="15.9" fill="#17723a"/>
<rect x="1183.5" y="2058.6" width="15.3" height="15.9" fill="#197537"/>
<rect x="1198.3" y="2058.6" width="15.3" height="15.9" fill="#187339"/>
<rect x="1213.2" y="2058.6" width="15.3" height="15.9" fill="#197636"/>
<rect x="1228.0" y="2058.6" width="15.3" height="15.9" fill="#166f3d"/>
<rect x="1242.9" y="2058.6" width="15.3" height="15.9" fill="#1a7934"/>
<rect x="1317.2" y="2058.6" width="15.3" height="15.9" fill="#18723a"/>
<rect x="1332.0" y="2058.6" width="15.3" height="15.9" fill="#1a7834"/>
<rect x="1346.9" y="2058.6" width="15.3" height="15.9" fill="#166f3d"/>
<rect x="1376.6" y="2058.6" width="15.3" height="15.9" fill="#1a7735"/>
<rect x="604.2" y="2074.2" width="15.3" height="15.9" fill="#0f5e4d"/>
<rect x="619.0" y="2074.2" width="15.3" height="15.9" fill="#126546"/>
<rect x="648.7" y="2074.2" width="15.3" height="15.9" fill="#126547"/>
<rect x="663.6" y="2074.2" width="15.3" height="15.9" fill="#116348"/>
<rect x="678.4" y="2074.2" width="15.3" height="15.9" fill="#0f5f4c"/>
<rect x="693.3" y="2074.2" width="15.3" height="15.9" fill="#0e5c4f"/>
<rect x="708.2" y="2074.2" width="15.3" height="15.9" fill="#0f5e4e"/>
<rect x="723.0" y="2074.2" width="15.3" height="15.9" fill="#126546"/>
<rect x="737.9" y="2074.2" width="15.3" height="15.9" fill="#0e5d4f"/>
<rect x="752.7" y="2074.2" width="15.3" height="15.9" fill="#10624a"/>
<rect x="767.6" y="2074.2" width="15.3" height="15.9" fill="#10604b"/>
<rect x="782.4" y="2074.2" width="15.3" height="15.9" fill="#10614b"/>
<rect x="797.3" y="2074.2" width="15.3" height="15.9" fill="#0e5b50"/>
<rect x="827.0" y="2074.2" width="30.1" height="15.9" fill="#0d5a51"/>
<rect x="871.5" y="2074.2" width="15.3" height="15.9" fill="#116448"/>
<rect x="886.4" y="2074.2" width="15.3" height="15.9" fill="#0e5d4e"/>
<rect x="901.3" y="2074.2" width="15.3" height="15.9" fill="#10604b"/>
<rect x="916.1" y="2074.2" width="15.3" height="15.9" fill="#0f5f4c"/>
<rect x="931.0" y="2074.2" width="15.3" height="15.9" fill="#0e5c4f"/>
<rect x="945.8" y="2074.2" width="30.1" height="15.9" fill="#0d5a51"/>
<rect x="975.5" y="2074.2" width="15.3" height="15.9" fill="#126547"/>
<rect x="990.4" y="2074.2" width="15.3" height="15.9" fill="#0f5e4d"/>
<rect x="1020.1" y="2074.2" width="15.3" height="15.9" fill="#146b41"/>
<rect x="1034.9" y="2074.2" width="15.3" height="15.9" fill="#126645"/>
<rect x="1049.8" y="2074.2" width="15.3" height="15.9" fill="#156c40"/>
<rect x="1153.8" y="2074.2" width="15.3" height="15.9" fill="#166f3d"/>
<rect x="1168.6" y="2074.2" width="15.3" height="15.9" fill="#197736"/>
<rect x="1183.5" y="2074.2" width="15.3" height="15.9" fill="#17713b"/>
<rect x="1198.3" y="2074.2" width="15.3" height="15.9" fill="#17723a"/>
<rect x="1213.2" y="2074.2" width="15.3" height="15.9" fill="#187438"/>
<rect x="1228.0" y="2074.2" width="15.3" height="15.9" fill="#166f3c"/>
<rect x="1242.9" y="2074.2" width="15.3" height="15.9" fill="#17713b"/>
<rect x="1317.2" y="2074.2" width="15.3" height="15.9" fill="#1a7835"/>
<rect x="797.3" y="2089.7" width="15.3" height="15.9" fill="#0e5c4f"/>
<rect x="812.1" y="2089.7" width="15.3" height="15.9" fill="#0e5d4e"/>
<rect x="827.0" y="2089.7" width="15.3" height="15.9" fill="#10614a"/>
<rect x="856.7" y="2089.7" width="45.0" height="15.9" fill="#0e5b50"/>
<rect x="901.3" y="2089.7" width="30.1" height="15.9" fill="#0e5d4e"/>
<rect x="931.0" y="2089.7" width="15.3" height="15.9" fill="#10604b"/>
<rect x="945.8" y="2089.7" width="15.3" height="15.9" fill="#0f5f4d"/>
<rect x="960.7" y="2089.7" width="15.3" height="15.9" fill="#116448"/>
<rect x="975.5" y="2089.7" width="15.3" height="15.9" fill="#0e5b50"/>
<rect x="990.4" y="2089.7" width="15.3" height="15.9" fill="#116348"/>
<rect x="1005.2" y="2089.7" width="15.3" height="15.9" fill="#136745"/>
<rect x="1124.1" y="2089.7" width="15.3" height="15.9" fill="#166e3e"/>
<rect x="1153.8" y="2089.7" width="15.3" height="15.9" fill="#166e3e"/>
<rect x="1168.6" y="2089.7" width="15.3" height="15.9" fill="#187339"/>
<rect x="1183.5" y="2089.7" width="15.3" height="15.9" fill="#16703c"/>
<rect x="1198.3" y="2089.7" width="15.3" height="15.9" fill="#187439"/>
<rect x="1213.2" y="2089.7" width="15.3" height="15.9" fill="#197636"/>
<rect x="1228.0" y="2089.7" width="30.1" height="15.9" fill="#16703c"/>
<rect x="1257.8" y="2089.7" width="15.3" height="15.9" fill="#187438"/>
<rect x="1287.5" y="2089.7" width="30.1" height="15.9" fill="#17713b"/>
<rect x="1317.2" y="2089.7" width="15.3" height="15.9" fill="#187438"/>
<rect x="841.8" y="2105.2" width="15.3" height="15.9" fill="#0d5a51"/>
<rect x="856.7" y="2105.2" width="15.3" height="15.9" fill="#0d5952"/>
<rect x="871.5" y="2105.2" width="15.3" height="15.9" fill="#0e5d4f"/>
<rect x="886.4" y="2105.2" width="15.3" height="15.9" fill="#0f5e4d"/>
<rect x="901.3" y="2105.2" width="15.3" height="15.9" fill="#116348"/>
<rect x="916.1" y="2105.2" width="15.3" height="15.9" fill="#0f5f4c"/>
<rect x="931.0" y="2105.2" width="15.3" height="15.9" fill="#0d5a51"/>
<rect x="945.8" y="2105.2" width="15.3" height="15.9" fill="#0e5c50"/>
<rect x="960.7" y="2105.2" width="15.3" height="15.9" fill="#10624a"/>
<rect x="1138.9" y="2105.2" width="15.3" height="15.9" fill="#187438"/>
<rect x="1153.8" y="2105.2" width="15.3" height="15.9" fill="#1a7834"/>
<rect x="1168.6" y="2105.2" width="15.3" height="15.9" fill="#1a7933"/>
<rect x="1183.5" y="2105.2" width="15.3" height="15.9" fill="#1a7834"/>
<rect x="1198.3" y="2105.2" width="15.3" height="15.9" fill="#16703c"/>
<rect x="1213.2" y="2105.2" width="15.3" height="15.9" fill="#1a7933"/>
<rect x="1228.0" y="2105.2" width="15.3" height="15.9" fill="#187538"/>
<rect x="1242.9" y="2105.2" width="30.1" height="15.9" fill="#17713b"/>
<rect x="1272.6" y="2105.2" width="15.3" height="15.9" fill="#1a7834"/>
<rect x="1287.5" y="2105.2" width="15.3" height="15.9" fill="#17713b"/>
<rect x="1124.1" y="2120.7" width="15.3" height="15.9" fill="#166e3e"/>
<rect x="1138.9" y="2120.7" width="15.3" height="15.9" fill="#17713b"/>
<rect x="1153.8" y="2120.7" width="15.3" height="15.9" fill="#1a7934"/>
<rect x="1168.6" y="2120.7" width="15.3" height="15.9" fill="#187438"/>
<rect x="1183.5" y="2120.7" width="15.3" height="15.9" fill="#197735"/>
<rect x="1198.3" y="2120.7" width="15.3" height="15.9" fill="#16703c"/>
<rect x="1213.2" y="2120.7" width="15.3" height="15.9" fill="#187438"/>
<rect x="1228.0" y="2120.7" width="15.3" height="15.9" fill="#18723a"/>
<rect x="1242.9" y="2120.7" width="15.3" height="15.9" fill="#17713b"/>
<rect x="1257.8" y="2120.7" width="15.3" height="15.9" fill="#197636"/>
<rect x="1272.6" y="2120.7" width="15.3" height="15.9" fill="#187339"/>
<rect x="1138.9" y="2136.2" width="15.3" height="15.9" fill="#166f3d"/>
<rect x="1153.8" y="2136.2" width="15.3" height="15.9" fill="#1b7a33"/>
<rect x="1168.6" y="2136.2" width="15.3" height="15.9" fill="#187438"/>
<rect x="1183.5" y="2136.2" width="15.3" height="15.9" fill="#17713b"/>
<rect x="1198.3" y="2136.2" width="15.3" height="15.9" fill="#166f3d"/>
<rect x="1213.2" y="2136.2" width="15.3" height="15.9" fill="#197636"/>
<rect x="1228.0" y="2136.2" width="15.3" height="15.9" fill="#187538"/>
<rect x="1153.8" y="2151.8" width="15.3" height="15.9" fill="#166f3d"/>
<rect x="1168.6" y="2151.8" width="15.3" height="15.9" fill="#187438"/>
<rect x="1183.5" y="2151.8" width="15.3" height="15.9" fill="#1a7735"/>
<rect x="1198.3" y="2151.8" width="15.3" height="15.9" fill="#197537"/>
<rect x="1213.2" y="2151.8" width="15.3" height="15.9" fill="#17723b"/>
<rect x="1228.0" y="2151.8" width="15.3" height="15.9" fill="#187438"/>
</g>
<path d="M1146.8,2159.5 L1146.3,2159.1 L1131.9,2144.0 L1131.5,2143.5 L1117.1,2128.5 L1131.5,2113.4 L1131.9,2113.0 L1146.3,2097.9 L1146.8,2097.4 L1146.8,2081.9 L1146.3,2081.5 L1131.5,2081.5 L1116.6,2081.5 L1101.8,2081.5 L1086.9,2081.5 L1072.1,2081.5 L1071.6,2081.9 L1057.2,2097.0 L1042.4,2097.0 L1027.5,2097.0 L1013.1,2081.9 L1012.7,2081.5 L1012.2,2081.9 L1012.7,2082.4 L1027.1,2097.4 L1012.7,2112.5 L997.8,2112.5 L983.0,2112.5 L982.5,2113.0 L968.1,2128.0 L953.2,2128.0 L938.4,2128.0 L923.5,2128.0 L908.7,2128.0 L893.8,2128.0 L879.0,2128.0 L864.1,2128.0 L849.3,2128.0 L834.9,2113.0 L849.3,2097.9 L849.7,2097.4 L864.1,2082.4 L864.6,2081.9 L864.1,2081.5 L863.7,2081.9 L849.3,2097.0 L848.8,2097.4 L834.4,2112.5 L819.6,2112.5 L804.7,2112.5 L790.3,2097.4 L789.9,2097.0 L775.0,2097.0 L760.1,2097.0 L745.3,2097.0 L730.4,2097.0 L715.6,2097.0 L700.7,2097.0 L685.9,2097.0 L671.0,2097.0 L656.2,2097.0 L641.8,2081.9 L641.3,2081.5 L640.9,2081.9 L626.5,2097.0 L611.6,2097.0 L597.2,2081.9 L597.2,2066.4 L596.8,2065.9 L582.3,2050.9 L581.9,2050.4 L567.0,2050.4 L552.2,2050.4 L537.3,2050.4 L522.9,2035.4 L537.3,2020.3 L537.8,2019.8 L537.8,2004.3 L552.2,1989.3 L566.6,2004.3 L567.0,2004.8 L567.5,2004.3 L581.9,1989.3 L582.3,1988.8 L596.8,1973.7 L597.2,1973.3 L596.8,1972.8 L581.9,1972.8 L567.5,1957.8 L567.5,1942.2 L581.9,1927.2 L596.3,1942.2 L596.8,1942.7 L611.6,1942.7 L612.1,1942.2 L626.5,1927.2 L626.9,1926.7 L626.5,1926.3 L612.1,1911.2 L612.1,1895.7 L612.1,1880.2 L626.5,1865.1 L640.9,1880.2 L641.3,1880.6 L641.8,1880.2 L641.8,1864.6 L656.2,1849.6 L656.6,1849.1 L671.0,1834.1 L685.9,1834.1 L700.7,1834.1 L701.2,1833.6 L715.6,1818.5 L730.0,1833.6 L730.4,1834.1 L744.8,1849.1 L745.3,1849.6 L745.7,1849.1 L745.3,1848.7 L730.9,1833.6 L745.3,1818.5 L745.7,1818.1 L745.3,1817.6 L730.9,1802.6 L745.3,1787.5 L760.1,1787.5 L775.0,1787.5 L775.4,1787.0 L775.4,1771.5 L789.9,1756.5 L804.3,1771.5 L804.7,1772.0 L805.2,1771.5 L804.7,1771.1 L790.3,1756.0 L804.7,1740.9 L819.6,1740.9 L834.4,1740.9 L848.8,1756.0 L849.3,1756.5 L863.7,1771.5 L864.1,1772.0 L879.0,1772.0 L893.4,1787.0 L893.8,1787.5 L908.2,1802.6 L908.7,1803.0 L909.1,1802.6 L923.5,1787.5 L924.0,1787.0 L938.4,1772.0 L938.8,1771.5 L938.8,1756.0 L953.2,1740.9 L968.1,1740.9 L968.5,1740.5 L968.1,1740.0 L953.7,1725.0 L953.7,1709.4 L953.7,1693.9 L968.1,1678.9 L968.5,1678.4 L968.5,1662.9 L968.1,1662.4 L953.2,1662.4 L938.4,1662.4 L924.0,1647.4 L923.5,1646.9 L909.1,1631.8 L923.5,1616.8 L938.4,1616.8 L938.8,1616.3 L938.4,1615.9 L924.0,1600.8 L923.5,1600.3 L923.1,1600.8 L923.1,1616.3 L908.7,1631.4 L894.3,1616.3 L894.3,1600.8 L893.8,1600.3 L893.4,1600.8 L879.0,1615.9 L864.6,1600.8 L864.1,1600.3 L849.3,1600.3 L834.9,1585.3 L834.4,1584.8 L819.6,1584.8 L804.7,1584.8 L790.3,1569.8 L789.9,1569.3 L775.0,1569.3 L760.6,1554.2 L760.1,1553.8 L745.7,1538.7 L745.7,1523.2 L745.7,1507.7 L745.7,1492.2 L745.3,1491.7 L730.9,1476.6 L730.4,1476.2 L715.6,1476.2 L700.7,1476.2 L685.9,1476.2 L671.0,1476.2 L656.2,1476.2 L641.8,1461.1 L656.2,1446.1 L656.6,1445.6 L656.2,1445.1 L641.8,1430.1 L656.2,1415.0 L671.0,1415.0 L685.4,1430.1 L685.9,1430.5 L700.7,1430.5 L701.2,1430.1 L715.6,1415.0 L730.4,1415.0 L730.9,1414.6 L730.4,1414.1 L716.0,1399.0 L730.4,1384.0 L745.3,1384.0 L745.7,1383.5 L760.1,1368.5 L774.6,1383.5 L775.0,1384.0 L775.4,1383.5 L775.4,1368.0 L775.0,1367.5 L760.1,1367.5 L745.3,1367.5 L730.9,1352.5 L745.3,1337.4 L745.7,1337.0 L745.3,1336.5 L744.8,1337.0 L730.4,1352.0 L716.0,1337.0 L715.6,1336.5 L715.1,1337.0 L700.7,1352.0 L685.9,1352.0 L685.4,1352.5 L671.0,1367.5 L656.6,1352.5 L656.2,1352.0 L655.7,1352.5 L641.3,1367.5 L626.5,1367.5 L611.6,1367.5 L596.8,1367.5 L581.9,1367.5 L567.5,1352.5 L567.5,1337.0 L581.9,1321.9 L596.8,1321.9 L611.6,1321.9 L626.5,1321.9 L641.3,1321.9 L641.8,1321.4 L656.2,1306.4 L656.6,1305.9 L656.2,1305.5 L641.3,1305.5 L626.9,1290.4 L626.9,1274.9 L626.9,1259.4 L626.5,1258.9 L611.6,1258.9 L597.2,1243.8 L597.2,1228.3 L611.6,1213.3 L612.1,1212.8 L611.6,1212.3 L611.2,1212.8 L596.8,1227.9 L582.3,1212.8 L581.9,1212.3 L567.5,1197.3 L567.5,1181.8 L581.9,1166.7 L596.3,1181.8 L596.8,1182.2 L597.2,1181.8 L596.8,1181.3 L582.3,1166.2 L596.8,1151.2 L597.2,1150.7 L596.8,1150.3 L582.3,1135.2 L581.9,1134.7 L567.0,1134.7 L552.6,1119.7 L552.6,1104.2 L552.6,1088.6 L552.2,1088.2 L537.8,1073.1 L537.3,1072.7 L522.9,1057.6 L522.5,1057.1 L508.1,1042.1 L507.6,1041.6 L492.8,1041.6 L478.4,1026.6 L477.9,1026.1 L463.5,1011.0 L477.9,996.0 L492.8,996.0 L493.2,995.5 L493.2,980.0 L493.2,964.5 L507.6,949.4 L522.5,949.4 L522.9,949.0 L537.3,933.9 L537.8,933.4 L537.3,933.0 L522.5,933.0 L508.1,917.9 L508.1,902.4 L522.5,887.3 L537.3,887.3 L537.8,886.9 L537.8,871.4 L537.3,870.9 L522.5,870.9 L508.1,855.8 L507.6,855.4 L493.2,840.3 L507.6,825.3 L508.1,824.8 L508.1,809.3 L522.5,794.2 L536.9,809.3 L537.3,809.7 L537.8,809.3 L537.8,793.8 M566.6,793.8 L567.0,794.2 L581.9,794.2 L596.8,794.2 L597.2,793.8 M626.0,793.8 L626.0,809.3 L626.5,809.7 L641.3,809.7 L641.8,809.3 L656.2,794.2 L671.0,794.2 L671.5,793.8 M804.3,793.8 L804.7,794.2 L819.1,809.3 L819.1,824.8 L819.1,840.3 L819.6,840.8 L820.0,840.3 L820.0,824.8 L834.4,809.7 L834.9,809.3 L849.3,794.2 L864.1,794.2 L864.6,793.8 M1027.1,793.8 L1027.1,809.3 L1027.1,824.8 L1027.1,840.3 L1012.7,855.4 L1012.2,855.8 L1012.7,856.3 L1013.1,855.8 L1027.5,840.8 L1042.4,840.8 L1056.8,855.8 L1057.2,856.3 L1072.1,856.3 L1086.5,871.4 L1086.9,871.8 L1101.8,871.8 L1116.6,871.8 L1131.5,871.8 L1145.9,886.9 L1146.3,887.3 L1146.8,886.9 L1161.2,871.8 L1176.1,871.8 L1190.9,871.8 L1205.8,871.8 L1206.2,871.4 L1220.6,856.3 L1235.0,871.4 L1235.5,871.8 L1250.3,871.8 L1265.2,871.8 L1279.6,886.9 L1279.6,902.4 L1280.0,902.9 L1294.9,902.9 L1309.7,902.9 L1310.2,902.4 L1324.6,887.3 L1339.0,902.4 L1339.5,902.9 L1353.9,917.9 L1339.5,933.0 L1339.0,933.4 L1324.6,948.5 L1324.2,949.0 L1324.2,964.5 L1324.6,964.9 L1339.0,980.0 L1339.5,980.5 L1354.3,980.5 L1369.2,980.5 L1369.6,980.0 L1384.0,964.9 L1398.9,964.9 L1413.3,980.0 L1413.7,980.5 L1428.6,980.5 L1429.0,980.0 L1443.4,964.9 L1457.8,980.0 L1457.8,995.5 L1458.3,996.0 L1472.7,1011.0 L1458.3,1026.1 L1457.8,1026.6 L1443.4,1041.6 L1443.0,1042.1 L1443.4,1042.5 L1458.3,1042.5 L1458.7,1042.1 L1458.7,1026.6 L1473.1,1011.5 L1488.0,1011.5 L1502.4,1026.6 L1502.8,1027.0 L1517.7,1027.0 L1532.1,1042.1 L1532.6,1042.5 L1547.4,1042.5 L1561.8,1057.6 L1562.3,1058.1 L1576.7,1073.1 L1562.3,1088.2 L1561.8,1088.6 L1547.4,1103.7 L1547.0,1104.2 L1547.4,1104.6 L1547.9,1104.2 L1562.3,1089.1 L1576.7,1104.2 L1577.1,1104.6 L1591.5,1119.7 L1592.0,1120.1 L1606.8,1120.1 L1621.2,1135.2 L1621.7,1135.7 L1622.1,1135.2 L1636.5,1120.1 L1651.4,1120.1 L1665.8,1135.2 L1666.2,1135.7 L1680.6,1150.7 L1666.2,1165.8 L1665.8,1166.2 L1651.4,1181.3 L1636.5,1181.3 L1636.1,1181.8 L1636.5,1182.2 L1651.4,1182.2 L1665.8,1197.3 L1665.8,1212.8 L1666.2,1213.3 L1680.6,1228.3 L1681.1,1228.8 L1695.9,1228.8 L1710.4,1243.8 L1695.9,1258.9 L1695.5,1259.4 L1681.1,1274.4 L1666.2,1274.4 L1651.4,1274.4 L1650.9,1274.9 L1636.5,1289.9 L1621.7,1289.9 L1606.8,1289.9 L1592.0,1289.9 L1591.5,1290.4 L1577.1,1305.5 L1562.3,1305.5 L1561.8,1305.9 L1547.4,1321.0 L1532.6,1321.0 L1517.7,1321.0 L1502.8,1321.0 L1488.0,1321.0 L1487.5,1321.4 L1473.1,1336.5 L1458.3,1336.5 L1457.8,1337.0 L1458.3,1337.4 L1472.7,1352.5 L1458.3,1367.5 L1443.4,1367.5 L1443.0,1368.0 L1428.6,1383.1 L1413.7,1383.1 L1398.9,1383.1 L1398.4,1383.5 L1384.0,1398.6 L1383.6,1399.0 L1383.6,1414.6 L1384.0,1415.0 L1384.5,1414.6 L1398.9,1399.5 L1413.3,1414.6 L1413.3,1430.1 L1398.9,1445.1 L1384.0,1445.1 L1369.2,1445.1 L1354.3,1445.1 L1339.9,1430.1 L1339.9,1414.6 L1339.5,1414.1 L1339.0,1414.6 L1324.6,1429.6 L1310.2,1414.6 L1309.7,1414.1 L1294.9,1414.1 L1280.0,1414.1 L1265.2,1414.1 L1250.8,1399.0 L1250.3,1398.6 L1235.5,1398.6 L1235.0,1399.0 L1220.6,1414.1 L1205.8,1414.1 L1191.4,1399.0 L1190.9,1398.6 L1190.5,1399.0 L1176.1,1414.1 L1161.6,1399.0 L1161.2,1398.6 L1160.8,1399.0 L1161.2,1399.5 L1175.6,1414.6 L1175.6,1430.1 L1175.6,1445.6 L1175.6,1461.1 L1176.1,1461.6 L1190.9,1461.6 L1205.8,1461.6 L1220.6,1461.6 L1235.0,1476.6 L1235.5,1477.1 L1250.3,1477.1 L1250.8,1476.6 L1250.8,1461.1 L1265.2,1446.1 L1280.0,1446.1 L1294.9,1446.1 L1309.3,1461.1 L1309.3,1476.6 L1309.3,1492.2 L1309.7,1492.6 L1310.2,1492.2 L1310.2,1476.6 L1310.2,1461.1 L1310.2,1445.6 L1324.6,1430.5 L1339.0,1445.6 L1339.0,1461.1 L1339.5,1461.6 L1353.9,1476.6 L1354.3,1477.1 L1368.7,1492.2 L1354.3,1507.2 L1339.5,1507.2 L1339.0,1507.7 L1339.5,1508.1 L1353.9,1523.2 L1353.9,1538.7 L1353.9,1554.2 L1339.5,1569.3 L1339.0,1569.8 L1339.0,1585.3 L1324.6,1600.3 L1324.2,1600.8 L1324.6,1601.3 L1339.5,1601.3 L1353.9,1616.3 L1353.9,1631.8 L1353.9,1647.4 L1354.3,1647.8 L1369.2,1647.8 L1369.6,1647.4 L1384.0,1632.3 L1384.5,1631.8 L1398.9,1616.8 L1413.3,1631.8 L1413.7,1632.3 L1428.6,1632.3 L1443.0,1647.4 L1428.6,1662.4 L1428.1,1662.9 L1428.1,1678.4 L1428.6,1678.9 L1443.0,1693.9 L1443.4,1694.4 L1443.9,1693.9 L1458.3,1678.9 L1458.7,1678.4 L1473.1,1663.3 L1473.6,1662.9 L1473.1,1662.4 L1472.7,1662.9 L1458.3,1677.9 L1457.8,1678.4 L1443.4,1693.5 L1429.0,1678.4 L1429.0,1662.9 L1443.4,1647.8 L1443.9,1647.4 L1458.3,1632.3 L1458.7,1631.8 L1473.1,1616.8 L1487.5,1631.8 L1488.0,1632.3 L1488.4,1631.8 L1502.8,1616.8 L1517.3,1631.8 L1517.7,1632.3 L1532.6,1632.3 L1547.4,1632.3 L1562.3,1632.3 L1577.1,1632.3 L1592.0,1632.3 L1606.8,1632.3 L1621.7,1632.3 L1636.5,1632.3 L1651.4,1632.3 L1666.2,1632.3 L1680.6,1647.4 L1681.1,1647.8 L1695.9,1647.8 L1710.4,1662.9 L1710.8,1663.3 L1711.2,1662.9 L1725.7,1647.8 L1740.1,1662.9 L1740.5,1663.3 L1754.9,1678.4 L1755.4,1678.9 L1770.2,1678.9 L1770.7,1678.4 L1785.1,1663.3 L1799.5,1678.4 L1799.5,1693.9 L1785.1,1709.0 L1784.6,1709.4 L1784.6,1725.0 L1784.6,1740.5 L1770.2,1755.5 L1755.8,1740.5 L1755.4,1740.0 L1740.5,1740.0 L1740.1,1740.5 L1740.5,1740.9 L1755.4,1740.9 L1769.8,1756.0 L1769.8,1771.5 L1769.8,1787.0 L1755.4,1802.1 L1741.0,1787.0 L1740.5,1786.6 L1740.1,1787.0 L1725.7,1802.1 L1711.2,1787.0 L1710.8,1786.6 L1696.4,1771.5 L1695.9,1771.1 L1681.5,1756.0 L1681.1,1755.5 L1680.6,1756.0 L1666.2,1771.1 L1651.4,1771.1 L1636.5,1771.1 L1622.1,1756.0 L1636.5,1740.9 L1637.0,1740.5 L1636.5,1740.0 L1621.7,1740.0 L1606.8,1740.0 L1606.4,1740.5 L1606.4,1756.0 L1606.4,1771.5 L1606.8,1772.0 L1621.7,1772.0 L1636.5,1772.0 L1651.4,1772.0 L1665.8,1787.0 L1666.2,1787.5 L1680.6,1802.6 L1666.2,1817.6 L1651.4,1817.6 L1650.9,1818.1 L1651.4,1818.5 L1665.8,1833.6 L1651.4,1848.7 L1636.5,1848.7 L1636.1,1849.1 L1621.7,1864.2 L1606.8,1864.2 L1592.0,1864.2 L1591.5,1864.6 L1577.1,1879.7 L1562.7,1864.6 L1562.3,1864.2 L1547.4,1864.2 L1547.0,1864.6 L1532.6,1879.7 L1532.1,1880.2 L1517.7,1895.2 L1517.3,1895.7 L1502.8,1910.7 L1488.0,1910.7 L1487.5,1911.2 L1487.5,1926.7 L1473.1,1941.8 L1458.7,1926.7 L1458.3,1926.3 L1443.4,1926.3 L1443.0,1926.7 L1443.0,1942.2 L1428.6,1957.3 L1414.2,1942.2 L1413.7,1941.8 L1398.9,1941.8 L1384.0,1941.8 L1369.2,1941.8 L1354.3,1941.8 L1339.9,1926.7 L1339.9,1911.2 L1339.5,1910.7 L1325.0,1895.7 L1324.6,1895.2 L1309.7,1895.2 L1309.3,1895.7 L1294.9,1910.7 L1280.0,1910.7 L1265.2,1910.7 L1264.7,1911.2 L1250.3,1926.3 L1249.9,1926.7 L1235.5,1941.8 L1220.6,1941.8 L1220.2,1942.2 L1220.2,1957.8 L1220.6,1958.2 L1235.0,1973.3 L1220.6,1988.3 L1220.2,1988.8 L1220.6,1989.3 L1235.5,1989.3 L1250.3,1989.3 L1264.7,2004.3 L1265.2,2004.8 L1280.0,2004.8 L1294.9,2004.8 L1309.7,2004.8 L1324.2,2019.8 L1324.6,2020.3 L1325.0,2019.8 L1339.5,2004.8 L1354.3,2004.8 L1368.7,2019.8 L1369.2,2020.3 L1369.6,2019.8 L1384.0,2004.8 L1398.9,2004.8 L1413.3,2019.8 L1398.9,2034.9 L1398.4,2035.4 L1398.9,2035.8 L1413.3,2050.9 L1398.9,2065.9 L1398.4,2066.4 L1384.0,2081.5 L1369.6,2066.4 L1369.6,2050.9 L1369.2,2050.4 L1368.7,2050.9 L1368.7,2066.4 L1354.3,2081.5 L1339.5,2081.5 L1339.0,2081.9 L1339.0,2097.4 L1324.6,2112.5 L1309.7,2112.5 L1309.3,2113.0 L1294.9,2128.0 L1294.4,2128.5 L1280.0,2143.5 L1265.2,2143.5 L1250.3,2143.5 L1249.9,2144.0 L1249.9,2159.5 M1042.4,824.3 L1028.0,809.3 L1042.4,794.2 L1056.8,809.3 L1042.4,824.3 M953.7,871.4 L968.1,856.3 L968.5,855.8 L968.1,855.4 L967.7,855.8 L953.2,870.9 L952.8,871.4 L953.2,871.8 L953.7,871.4 M998.3,1088.6 L998.3,1073.1 L997.8,1072.7 L983.0,1072.7 L968.5,1057.6 L968.1,1057.1 L953.7,1042.1 L953.2,1041.6 L938.8,1026.6 L938.4,1026.1 L923.5,1026.1 L909.1,1011.0 L909.1,995.5 L923.5,980.5 L938.4,980.5 L938.8,980.0 L938.4,979.5 L923.5,979.5 L909.1,964.5 L908.7,964.0 L894.3,949.0 L893.8,948.5 L879.0,948.5 L864.1,948.5 L863.7,949.0 L849.3,964.0 L834.9,949.0 L834.4,948.5 L834.0,949.0 L819.6,964.0 L804.7,964.0 L789.9,964.0 L775.0,964.0 L760.1,964.0 L745.7,949.0 L745.3,948.5 L744.8,949.0 L744.8,964.5 L744.8,980.0 L730.4,995.1 L730.0,995.5 L715.6,1010.6 L700.7,1010.6 L686.3,995.5 L685.9,995.1 L671.0,995.1 L656.6,980.0 L656.6,964.5 L656.2,964.0 L655.7,964.5 L655.7,980.0 L641.3,995.1 L626.5,995.1 L611.6,995.1 L611.2,995.5 L611.6,996.0 L626.0,1011.0 L626.5,1011.5 L640.9,1026.6 L641.3,1027.0 L656.2,1027.0 L671.0,1027.0 L685.4,1042.1 L685.9,1042.5 L700.7,1042.5 L715.6,1042.5 L730.4,1042.5 L745.3,1042.5 L745.7,1042.1 L760.1,1027.0 L774.6,1042.1 L775.0,1042.5 L789.4,1057.6 L789.9,1058.1 L790.3,1057.6 L804.7,1042.5 L819.1,1057.6 L819.6,1058.1 L820.0,1057.6 L834.4,1042.5 L849.3,1042.5 L849.7,1042.1 L864.1,1027.0 L879.0,1027.0 L893.8,1027.0 L908.7,1027.0 L923.1,1042.1 L923.5,1042.5 L924.0,1042.1 L938.4,1027.0 L952.8,1042.1 L953.2,1042.5 L967.7,1057.6 L967.7,1073.1 L968.1,1073.6 L982.5,1088.6 L983.0,1089.1 L997.8,1089.1 L998.3,1088.6 M656.2,1010.6 L641.8,995.5 L656.2,980.5 L670.6,995.5 L656.2,1010.6 M671.5,1104.2 L671.0,1103.7 L656.6,1088.6 L656.2,1088.2 L641.3,1088.2 L640.9,1088.6 L641.3,1089.1 L656.2,1089.1 L670.6,1104.2 L671.0,1104.6 L671.5,1104.2 M716.0,1088.6 L715.6,1088.2 L700.7,1088.2 L700.3,1088.6 L700.7,1089.1 L715.6,1089.1 L716.0,1088.6 M1621.7,1134.7 L1607.3,1119.7 L1621.7,1104.6 L1636.1,1119.7 L1621.7,1134.7 M1176.5,1212.8 L1190.9,1197.7 L1191.4,1197.3 L1205.8,1182.2 L1206.2,1181.8 L1205.8,1181.3 L1190.9,1181.3 L1190.5,1181.8 L1176.1,1196.8 L1175.6,1197.3 L1175.6,1212.8 L1176.1,1213.3 L1176.5,1212.8 M611.6,1289.9 L597.2,1274.9 L611.6,1259.8 L626.0,1274.9 L611.6,1289.9 M924.0,1383.5 L924.0,1368.0 L938.4,1352.9 L953.2,1352.9 L953.7,1352.5 L968.1,1337.4 L983.0,1337.4 L983.4,1337.0 L997.8,1321.9 L1012.7,1321.9 L1027.5,1321.9 L1028.0,1321.4 L1027.5,1321.0 L1013.1,1305.9 L1027.5,1290.9 L1042.4,1290.9 L1057.2,1290.9 L1057.7,1290.4 L1057.2,1289.9 L1042.4,1289.9 L1027.5,1289.9 L1027.1,1290.4 L1012.7,1305.5 L1012.2,1305.9 L997.8,1321.0 L983.0,1321.0 L982.5,1321.4 L968.1,1336.5 L953.2,1336.5 L952.8,1337.0 L938.4,1352.0 L937.9,1352.5 L923.5,1367.5 L923.1,1368.0 L923.1,1383.5 L923.5,1384.0 L924.0,1383.5 M715.6,1367.5 L701.2,1352.5 L715.6,1337.4 L730.0,1352.5 L715.6,1367.5 M1414.2,1352.5 L1413.7,1352.0 L1398.9,1352.0 L1398.4,1352.5 L1398.9,1352.9 L1413.7,1352.9 L1414.2,1352.5 M968.5,1445.6 L983.0,1430.5 L997.8,1430.5 L998.3,1430.1 L998.3,1414.6 L1012.7,1399.5 L1013.1,1399.0 L1012.7,1398.6 L1012.2,1399.0 L997.8,1414.1 L983.0,1414.1 L968.1,1414.1 L953.2,1414.1 L952.8,1414.6 L952.8,1430.1 L953.2,1430.5 L967.7,1445.6 L968.1,1446.1 L968.5,1445.6 M849.7,1461.1 L849.7,1445.6 L864.1,1430.5 L879.0,1430.5 L879.4,1430.1 L879.0,1429.6 L864.1,1429.6 L863.7,1430.1 L849.3,1445.1 L834.4,1445.1 L820.0,1430.1 L819.6,1429.6 L819.1,1430.1 L804.7,1445.1 L789.9,1445.1 L775.4,1430.1 L775.0,1429.6 L760.6,1414.6 L760.1,1414.1 L759.7,1414.6 L760.1,1415.0 L774.6,1430.1 L775.0,1430.5 L789.4,1445.6 L789.9,1446.1 L804.3,1461.1 L804.7,1461.6 L819.6,1461.6 L834.4,1461.6 L849.3,1461.6 L849.7,1461.1 M924.0,1430.1 L924.0,1414.6 L923.5,1414.1 L923.1,1414.6 L923.1,1430.1 L923.5,1430.5 L924.0,1430.1 M641.3,1460.7 L626.9,1445.6 L641.3,1430.5 L655.7,1445.6 L641.3,1460.7 M819.6,1460.7 L805.2,1445.6 L819.6,1430.5 L834.0,1445.6 L819.6,1460.7 M1102.2,1492.2 L1116.6,1477.1 L1131.5,1477.1 L1131.9,1476.6 L1131.9,1461.1 L1146.3,1446.1 L1146.8,1445.6 L1146.3,1445.1 L1145.9,1445.6 L1131.5,1460.7 L1131.0,1461.1 L1116.6,1476.2 L1101.8,1476.2 L1086.9,1476.2 L1072.1,1476.2 L1071.6,1476.6 L1072.1,1477.1 L1086.9,1477.1 L1101.3,1492.2 L1101.8,1492.6 L1102.2,1492.2 M1369.2,1569.3 L1354.8,1554.2 L1354.8,1538.7 L1369.2,1523.7 L1383.6,1538.7 L1383.6,1554.2 L1369.2,1569.3 M1295.3,1616.3 L1294.9,1615.9 L1280.0,1615.9 L1265.2,1615.9 L1250.3,1615.9 L1235.9,1600.8 L1250.3,1585.7 L1250.8,1585.3 L1250.3,1584.8 L1235.9,1569.8 L1235.5,1569.3 L1220.6,1569.3 L1220.2,1569.8 L1205.8,1584.8 L1205.3,1585.3 L1190.9,1600.3 L1190.5,1600.8 L1190.9,1601.3 L1205.8,1601.3 L1220.2,1616.3 L1220.6,1616.8 L1235.5,1616.8 L1250.3,1616.8 L1265.2,1616.8 L1280.0,1616.8 L1294.9,1616.8 L1295.3,1616.3 M1220.6,1615.9 L1206.2,1600.8 L1206.2,1585.3 L1220.6,1570.2 L1235.5,1570.2 L1249.9,1585.3 L1235.5,1600.3 L1235.0,1600.8 L1220.6,1615.9 M1354.3,1600.3 L1339.9,1585.3 L1354.3,1570.2 L1368.7,1585.3 L1354.3,1600.3 M1369.2,1646.9 L1354.8,1631.8 L1369.2,1616.8 L1383.6,1631.8 L1369.2,1646.9 M1443.4,1646.9 L1429.0,1631.8 L1443.4,1616.8 L1457.8,1631.8 L1443.4,1646.9 M1681.1,1646.9 L1666.7,1631.8 L1681.1,1616.8 L1695.5,1631.8 L1681.1,1646.9 M1280.5,1662.9 L1294.9,1647.8 L1309.7,1647.8 L1310.2,1647.4 L1309.7,1646.9 L1294.9,1646.9 L1294.4,1647.4 L1280.0,1662.4 L1279.6,1662.9 L1280.0,1663.3 L1280.5,1662.9 M1013.1,1678.4 L1027.5,1663.3 L1028.0,1662.9 L1027.5,1662.4 L1012.7,1662.4 L997.8,1662.4 L997.4,1662.9 L997.4,1678.4 L997.8,1678.9 L1012.7,1678.9 L1013.1,1678.4 M1770.2,1677.9 L1755.4,1677.9 L1741.0,1662.9 L1755.4,1647.8 L1770.2,1647.8 L1784.6,1662.9 L1770.2,1677.9 M1102.2,1740.5 L1116.6,1725.4 L1117.1,1725.0 L1131.5,1709.9 L1131.9,1709.4 L1131.5,1709.0 L1131.0,1709.4 L1116.6,1724.5 L1101.8,1724.5 L1101.3,1725.0 L1101.3,1740.5 L1101.8,1740.9 L1102.2,1740.5 M998.3,1787.0 L998.3,1771.5 L998.3,1756.0 L1012.7,1740.9 L1027.5,1740.9 L1042.4,1740.9 L1057.2,1740.9 L1071.6,1756.0 L1072.1,1756.5 L1072.5,1756.0 L1072.1,1755.5 L1057.7,1740.5 L1057.2,1740.0 L1042.4,1740.0 L1028.0,1725.0 L1027.5,1724.5 L1012.7,1724.5 L1012.2,1725.0 L1012.2,1740.5 L997.8,1755.5 L997.4,1756.0 L997.4,1771.5 L997.4,1787.0 L997.8,1787.5 L998.3,1787.0 M1206.2,1725.0 L1205.8,1724.5 L1190.9,1724.5 L1190.5,1725.0 L1190.9,1725.4 L1205.8,1725.4 L1206.2,1725.0 M1384.5,1771.5 L1398.9,1756.5 L1413.7,1756.5 L1414.2,1756.0 L1414.2,1740.5 L1413.7,1740.0 L1398.9,1740.0 L1384.0,1740.0 L1369.6,1725.0 L1369.2,1724.5 L1368.7,1725.0 L1354.3,1740.0 L1339.5,1740.0 L1339.0,1740.5 L1339.0,1756.0 L1339.5,1756.5 L1354.3,1756.5 L1369.2,1756.5 L1383.6,1771.5 L1384.0,1772.0 L1384.5,1771.5 M1533.0,1725.0 L1532.6,1724.5 L1517.7,1724.5 L1517.3,1725.0 L1517.7,1725.4 L1532.6,1725.4 L1533.0,1725.0 M864.1,1771.1 L849.7,1756.0 L864.1,1740.9 L878.5,1756.0 L864.1,1771.1 M1161.6,1802.6 L1161.6,1787.0 L1161.6,1771.5 L1161.6,1756.0 L1161.2,1755.5 L1160.8,1756.0 L1146.3,1771.1 L1145.9,1771.5 L1131.5,1786.6 L1131.0,1787.0 L1116.6,1802.1 L1116.2,1802.6 L1116.6,1803.0 L1117.1,1802.6 L1131.5,1787.5 L1145.9,1802.6 L1146.3,1803.0 L1161.2,1803.0 L1161.6,1802.6 M1146.3,1802.1 L1131.9,1787.0 L1146.3,1772.0 L1160.8,1787.0 L1146.3,1802.1 M1206.2,1802.6 L1220.6,1787.5 L1235.5,1787.5 L1235.9,1787.0 L1235.5,1786.6 L1220.6,1786.6 L1205.8,1786.6 L1190.9,1786.6 L1190.5,1787.0 L1190.9,1787.5 L1205.3,1802.6 L1205.8,1803.0 L1206.2,1802.6 M1265.2,1941.8 L1250.8,1926.7 L1265.2,1911.7 L1279.6,1926.7 L1265.2,1941.8 M552.2,1957.3 L537.8,1942.2 L552.2,1927.2 L566.6,1942.2 L552.2,1957.3 M537.3,2003.9 L522.9,1988.8 L537.3,1973.7 L551.7,1988.8 L537.3,2003.9 M567.0,2003.9 L552.6,1988.8 L567.0,1973.7 L581.5,1988.8 L567.0,2003.9 M1280.5,2097.4 L1294.9,2082.4 L1309.7,2082.4 L1310.2,2081.9 L1310.2,2066.4 L1309.7,2065.9 L1294.9,2065.9 L1280.0,2065.9 L1265.2,2065.9 L1264.7,2066.4 L1264.7,2081.9 L1265.2,2082.4 L1279.6,2097.4 L1280.0,2097.9 L1280.5,2097.4 M1131.5,2112.5 L1117.1,2097.4 L1131.5,2082.4 L1145.9,2097.4 L1131.5,2112.5" fill="none" stroke="#000" stroke-width="5.6" stroke-linejoin="round" stroke-linecap="round"/>
<path d="M548.5,839.3 L554.1,826.8 L562.4,822.6 L579.1,821.8 L595.8,826.2 L609.7,817.9 L629.2,822.6 L629.2,839.3 L654.2,849.0 L670.9,839.3 L670.9,822.6 L684.9,817.9 L712.7,822.6 L729.4,825.4 L746.1,817.0 L757.2,825.4 L762.8,840.7 L762.8,854.6 L773.9,885.2 L787.8,879.6 L810.1,901.9 L804.5,920.0 L787.8,920.0 L760.0,932.5 L746.1,918.6 L754.4,901.9 L746.1,896.3 L732.2,896.3 L721.0,901.9 L729.4,932.5 L712.7,935.3 L707.1,918.6 L696.0,901.9 L670.9,907.5 L659.8,899.1 L640.3,911.6 L623.6,896.3 L609.7,911.6 L606.9,896.3 L606.9,888.0 L581.9,885.2 L565.2,871.3 L556.9,851.8 Z M734.9,840.7 L757.2,826.8 L746.1,849.0 Z M764.2,900.5 L773.9,889.4 L785.0,901.9 L773.9,906.1 Z M620.9,932.5 L625.0,926.9 L630.6,932.5 L625.0,936.7 Z M680.7,918.6 L684.9,913.0 L691.8,918.6 L684.9,924.2 Z M812.8,888.0 L819.8,879.6 L828.1,888.0 L819.8,897.7 Z M843.5,932.5 L849.0,926.9 L856.0,932.5 L849.0,938.1 Z M837.9,886.6 L857.4,869.9 L885.2,869.9 L862.9,904.7 Z M874.1,824.0 L888.0,807.3 L907.4,807.3 L920.0,819.8 M920.0,829.6 L910.2,837.9 L893.5,825.4 L879.6,829.6 L874.1,824.0 M920.0,915.8 L907.4,911.6 L901.9,918.6 L899.1,929.7 L910.2,939.5 L920.0,935.3 M551.3,1025.7 L568.0,1016.0 L581.9,1016.0 L609.7,1049.4 L623.6,1034.1 L640.3,1057.7 L640.3,1064.7 L612.5,1057.7 L595.8,1052.2 L581.9,1059.1 L573.6,1041.0 Z M530.4,1010.4 L536.0,1004.9 L542.9,1010.4 L536.0,1017.4 Z M665.4,1073.0 L673.7,1064.7 L687.6,1066.1 L693.2,1071.6 L670.9,1080.0 Z M696.0,1134.2 L701.5,1118.9 L715.5,1135.6 Z M634.8,1149.5 L640.3,1134.2 L647.3,1149.5 L640.3,1155.1 Z M729.4,1135.6 L743.3,1113.4 L771.1,1098.1 L787.8,1085.5 L790.6,1102.2 L801.7,1105.0 L821.2,1121.7 L819.8,1135.6 L798.9,1127.3 L773.9,1113.4 L746.1,1134.2 L748.8,1152.3 L765.5,1166.2 L760.0,1177.4 L740.5,1177.4 L729.4,1166.2 L740.5,1149.5 Z M920.0,1066.1 L885.2,1060.5 L862.9,1059.1 L840.7,1068.8 L826.8,1088.3 L849.0,1110.6 L885.2,1098.1 L910.2,1093.9 L920.0,1091.1 M857.4,1181.5 L862.9,1176.0 L869.9,1181.5 L862.9,1187.1 Z M679.3,1196.8 L684.9,1191.3 L691.8,1196.8 L684.9,1202.4 Z M800.3,1198.2 L804.5,1189.9 L808.7,1198.2 L804.5,1206.6 Z M665.4,1227.4 L670.9,1219.1 L679.3,1227.4 L670.9,1234.4 Z M694.6,1227.4 L700.2,1221.9 L707.1,1227.4 L700.2,1233.0 Z M718.2,1240.0 L734.9,1208.0 L746.1,1188.5 L771.1,1194.1 L776.7,1208.0 L787.8,1210.8 L812.8,1210.8 L832.3,1216.3 L849.0,1205.2 L851.8,1219.1 L865.7,1233.0 L885.2,1240.0 M920.0,1191.3 L907.4,1194.1 L899.1,1205.2 L904.7,1216.3 L920.0,1219.1 M920.0,822.6 L936.7,818.4 L953.4,818.4 L968.7,824.0 L950.6,832.9 L938.1,843.5 L927.0,828.2 L920.0,824.6 M964.5,917.2 L968.7,908.9 L972.9,917.2 L968.7,924.2 Z M986.8,915.8 L989.6,885.2 L1003.5,882.4 L1011.8,888.0 L1039.6,875.5 L1056.3,876.9 L1070.3,890.8 L1098.1,896.3 L1131.5,911.6 L1148.2,900.5 L1164.9,901.9 L1162.1,918.6 L1173.2,943.6 L1173.2,965.9 L1162.1,982.6 L1131.5,990.9 L1128.7,1004.9 L1142.6,1011.8 L1159.3,1004.9 L1176.0,1007.6 L1198.2,996.5 L1226.1,988.2 L1253.9,982.6 L1278.9,979.8 L1292.8,996.5 L1304.0,993.7 L1320.7,1004.9 L1340.1,1010.4 L1354.1,1002.1 L1359.6,1010.4 L1354.1,1021.5 L1381.9,1035.5 L1387.4,1052.2 L1390.2,1068.8 L1400.0,1074.4 M986.8,915.8 L1011.8,932.5 L986.8,963.1 L986.8,977.0 L967.3,993.7 L984.0,1004.9 L1003.5,1018.8 L1014.6,1035.5 L1039.6,1029.9 L1067.5,1034.1 L1086.9,1035.5 L1100.9,1041.0 L1070.3,1063.3 L1050.8,1085.5 L1031.3,1099.5 L995.1,1118.9 L997.9,1124.5 L1014.6,1130.1 L1031.3,1116.1 L1056.3,1114.8 L1100.9,1118.9 L1114.8,1093.9 L1131.5,1082.8 L1148.2,1098.1 L1159.3,1099.5 L1170.4,1110.6 L1176.0,1121.7 L1164.9,1132.8 L1178.8,1144.0 L1212.2,1149.5 L1231.6,1146.8 L1251.1,1152.3 L1265.0,1144.0 L1278.9,1166.2 L1267.8,1182.9 L1245.5,1210.8 L1259.5,1221.9 L1290.1,1219.1 L1298.4,1233.0 L1301.2,1240.0 M1004.9,900.5 L1010.4,889.4 L1016.0,900.5 L1010.4,911.6 Z M1181.5,1027.1 L1187.1,1022.9 L1209.4,1024.3 L1212.2,1028.5 L1203.8,1031.3 L1184.3,1031.3 Z M1226.1,1027.1 L1237.2,1020.2 L1251.1,1027.1 L1237.2,1032.7 Z M1315.1,1041.0 L1323.5,1032.7 L1331.8,1041.0 L1323.5,1046.6 Z M1245.5,1068.8 L1265.0,1063.3 L1287.3,1068.8 L1304.0,1088.3 L1309.5,1110.6 L1323.5,1093.9 L1331.8,1118.9 L1315.1,1121.7 L1295.6,1113.4 L1276.1,1102.2 L1253.9,1080.0 Z M1245.5,1105.0 L1249.7,1098.1 L1253.9,1105.0 L1249.7,1110.6 Z M1260.8,1118.9 L1265.0,1113.4 L1269.2,1118.9 L1265.0,1123.1 Z M1376.3,1102.2 L1381.9,1095.3 L1387.4,1103.6 L1381.9,1112.0 Z M1201.0,1118.9 L1205.2,1105.0 L1209.4,1118.9 Z M920.0,1132.8 L939.5,1130.1 L945.0,1135.6 L936.7,1141.2 L920.0,1139.8 M981.2,1149.5 L995.1,1144.0 L1006.3,1149.5 L995.1,1155.1 Z M1031.3,1132.8 L1042.4,1124.5 L1053.6,1120.3 L1067.5,1132.8 L1059.1,1144.0 L1050.8,1145.4 L1036.9,1138.4 Z M1084.2,1135.6 L1098.1,1138.4 L1109.2,1157.9 L1120.3,1163.5 L1131.5,1146.8 L1131.5,1132.8 L1148.2,1132.8 L1153.7,1149.5 L1134.2,1160.7 L1125.9,1171.8 L1120.3,1185.7 L1131.5,1205.2 L1148.2,1227.4 L1153.7,1240.0 M1084.2,1135.6 L1086.9,1149.5 L1100.9,1160.7 L1103.6,1177.4 L1086.9,1194.1 L1075.8,1191.3 L1064.7,1177.4 L1039.6,1177.4 L1022.9,1171.8 L1011.8,1188.5 L1003.5,1194.1 L989.6,1188.5 L981.2,1199.6 L975.6,1210.8 L953.4,1216.3 L936.7,1202.4 L920.0,1199.6 M1304.0,1166.2 L1320.7,1149.5 L1334.6,1160.7 L1356.8,1166.2 L1356.8,1177.4 L1340.1,1180.1 L1326.2,1171.8 L1309.5,1169.0 Z M1230.2,1227.4 L1235.8,1221.9 L1241.4,1227.4 L1235.8,1233.0 Z M1385.4,1052.2 L1386.8,1068.8 L1403.5,1077.2 L1436.9,1091.1 L1450.8,1088.3 L1459.1,1077.2 L1473.0,1080.0 L1484.2,1068.8 L1503.6,1060.5 L1517.6,1071.6 L1520.3,1082.8 L1534.2,1088.3 L1514.8,1091.1 L1503.6,1093.9 L1498.1,1105.0 L1512.0,1118.9 L1512.0,1132.8 L1503.6,1144.0 L1500.9,1160.7 L1517.6,1152.3 L1537.0,1166.2 L1550.9,1182.9 L1542.6,1191.3 L1531.5,1199.6 L1548.2,1208.0 L1564.9,1213.5 L1576.0,1230.2 L1576.0,1240.0 M1389.6,1011.8 L1399.3,1004.9 L1409.0,1011.8 L1399.3,1018.8 Z M1421.6,1011.8 L1427.1,1007.6 L1432.7,1011.8 L1427.1,1016.0 Z M1375.6,1103.6 L1382.6,1095.3 L1388.2,1105.0 L1382.6,1112.0 Z M1416.0,1118.9 L1431.3,1114.8 L1456.3,1117.5 L1473.0,1120.3 L1445.2,1121.7 L1422.9,1123.1 Z M1482.8,1134.2 L1486.9,1128.7 L1491.1,1134.2 L1486.9,1138.4 Z M1407.6,1150.9 L1414.6,1144.0 L1421.6,1150.9 L1414.6,1157.9 Z M718.2,1240.0 L721.0,1262.3 L729.4,1290.1 L746.1,1288.7 L773.9,1305.4 L801.7,1299.8 L818.4,1284.5 L835.1,1304.0 L849.0,1317.9 L862.9,1329.0 L879.6,1306.8 L896.3,1315.1 L907.4,1334.6 L920.0,1317.9 M920.0,1240.0 L899.1,1256.7 L896.3,1276.2 L907.4,1298.4 L920.0,1295.6 M754.4,1259.5 L760.0,1253.9 L765.5,1259.5 L760.0,1265.0 Z M664.0,1336.0 L669.5,1330.4 L675.1,1337.4 L669.5,1341.6 Z M755.8,1351.3 L762.8,1347.1 L769.7,1352.7 L761.4,1355.5 Z M854.6,1491.8 L864.3,1483.5 L874.1,1491.8 L864.3,1500.2 Z M920.0,1497.4 L907.4,1496.0 L879.6,1501.5 L862.9,1514.1 L840.7,1523.8 L824.0,1521.0 L822.6,1537.7 L840.7,1548.8 L862.9,1548.8 L879.6,1565.5 L893.5,1573.9 L907.4,1560.0 L920.0,1568.3 M1014.6,1242.8 L997.9,1259.5 L1011.8,1267.8 L1053.6,1265.0 L1086.9,1270.6 L1117.6,1274.8 L1100.9,1281.7 L1084.2,1298.4 L1075.8,1312.3 L1070.3,1323.5 L1056.3,1331.8 L1053.6,1337.4 L1067.5,1351.3 L1050.8,1368.0 L1059.1,1376.3 L1075.8,1384.7 L1100.9,1390.3 L1120.3,1390.3 L1139.8,1379.1 L1159.3,1368.0 L1189.9,1370.8 L1220.5,1373.6 L1228.8,1365.2 L1237.2,1351.3 L1248.3,1337.4 L1265.0,1345.7 L1281.7,1337.4 L1292.8,1351.3 L1309.5,1342.9 L1320.7,1340.2 L1334.6,1359.6 L1348.5,1340.2 L1365.2,1334.6 L1393.0,1315.1 L1400.0,1304.0 M1150.9,1240.0 L1173.2,1248.3 L1178.8,1262.3 L1156.5,1276.2 L1173.2,1284.5 L1150.9,1305.4 L1178.8,1315.1 L1198.2,1295.6 L1220.5,1279.0 L1251.1,1279.0 L1276.1,1284.5 L1301.2,1273.4 L1309.5,1290.1 L1309.5,1320.7 M1309.5,1290.1 L1320.7,1279.0 L1329.0,1256.7 L1315.1,1251.1 L1295.6,1256.7 L1281.7,1265.0 L1277.5,1251.1 L1281.7,1240.0 M1181.5,1274.8 L1189.9,1267.8 L1198.2,1274.8 L1189.9,1281.7 Z M1349.9,1260.9 L1365.2,1252.5 L1373.5,1256.7 L1368.0,1265.0 L1354.1,1266.4 Z M1376.3,1276.2 L1384.7,1267.8 L1393.0,1276.2 L1384.7,1284.5 Z M1276.1,1304.0 L1281.7,1298.4 L1287.3,1305.4 L1281.7,1311.0 Z M1234.4,1320.7 L1242.8,1317.9 L1248.3,1320.7 L1242.8,1323.5 Z M1255.3,1320.7 L1265.0,1315.1 L1274.8,1320.7 L1265.0,1326.3 Z M1329.0,1295.6 L1342.9,1285.9 L1354.1,1298.4 L1368.0,1290.1 L1376.3,1301.2 L1370.8,1315.1 L1356.8,1320.7 L1340.1,1312.3 Z M1009.0,1351.3 L1025.7,1341.6 L1042.4,1348.5 L1039.6,1356.9 L1025.7,1370.8 Z M920.0,1290.1 L936.7,1304.0 L928.3,1315.1 L920.0,1320.7 M945.0,1306.8 L950.6,1284.5 L957.6,1290.1 L956.2,1309.6 Z M978.4,1473.7 L984.0,1459.8 L995.1,1454.2 L1011.8,1451.5 L1028.5,1462.6 L1034.1,1479.3 L1031.3,1490.4 L1017.4,1484.9 L1000.7,1484.9 L986.8,1482.1 Z M920.0,1496.0 L936.7,1493.2 L953.4,1498.8 L967.3,1507.1 L986.8,1501.5 L1011.8,1496.0 L1031.3,1490.4 L1048.0,1504.3 L1070.3,1515.5 L1086.9,1515.5 L1095.3,1534.9 L1112.0,1554.4 L1098.1,1565.5 L1070.3,1565.5 L1059.1,1576.7 L1042.4,1593.4 L1025.7,1593.4 L1011.8,1582.2 L997.9,1601.7 L984.0,1590.6 L967.3,1596.1 L947.8,1590.6 L931.1,1596.1 L920.0,1598.9 M931.1,1554.4 L936.7,1548.8 L943.7,1555.8 L936.7,1562.8 Z M1164.9,1537.7 L1173.2,1532.2 L1181.5,1537.7 L1173.2,1543.3 Z M1201.0,1507.1 L1205.2,1502.9 L1209.4,1507.1 L1205.2,1511.3 Z M1276.1,1507.1 L1280.3,1502.9 L1284.5,1507.1 L1280.3,1511.3 Z M1267.8,1551.6 L1281.7,1543.3 L1309.5,1554.4 L1281.7,1561.4 Z M961.7,1630.9 L975.6,1626.8 L1003.5,1629.5 L992.3,1635.1 L970.1,1635.1 Z M1020.2,1615.6 L1028.5,1611.5 L1036.9,1615.6 L1028.5,1621.2 Z M1034.1,1629.5 L1048.0,1610.1 L1059.1,1604.5 L1075.8,1615.6 L1073.0,1635.1 L1053.6,1640.7 Z M1092.5,1610.1 L1103.6,1607.3 L1131.5,1617.0 L1117.6,1624.0 L1114.8,1635.1 L1142.6,1640.7 L1162.1,1629.5 L1153.7,1612.8 L1164.9,1612.8 L1178.8,1626.8 L1173.2,1649.0 L1178.8,1660.1 L1189.9,1643.5 L1209.4,1651.8 L1223.3,1657.4 L1234.4,1643.5 L1240.0,1665.7 L1234.4,1682.4 L1214.9,1668.5 L1192.7,1679.6 L1176.0,1668.5 L1159.3,1679.6 L1142.6,1665.7 L1120.3,1654.6 L1100.9,1654.6 L1095.3,1640.7 Z M1048.0,1693.5 L1064.7,1682.4 L1086.9,1674.1 L1095.3,1676.8 L1086.9,1688.0 L1070.3,1699.1 Z M1103.6,1678.2 L1114.8,1669.9 L1124.5,1678.2 L1114.8,1686.6 Z M1400.0,1676.8 L1381.9,1668.5 L1356.8,1662.9 L1331.8,1661.5 L1309.5,1662.9 L1301.2,1674.1 L1306.8,1693.5 L1320.7,1704.7 L1345.7,1710.2 L1370.8,1713.0 L1390.2,1707.4 L1400.0,1701.9 M1378.5,1690.8 L1381.9,1686.6 L1386.1,1690.8 L1381.9,1694.9 Z M1403.5,1265.0 L1414.6,1266.4 L1442.4,1269.2 L1473.0,1256.7 L1489.7,1259.5 L1514.8,1279.0 L1531.5,1284.5 L1548.2,1265.0 L1562.1,1267.8 L1576.0,1279.0 L1598.2,1273.4 L1612.2,1259.5 L1606.6,1248.3 L1587.1,1245.6 L1576.0,1242.8 M1450.8,1244.2 L1456.3,1240.0 L1461.9,1244.2 L1456.3,1251.1 Z M1528.1,1244.2 L1531.5,1241.4 L1534.8,1244.2 L1531.5,1247.0 Z M1516.2,1678.2 L1531.5,1667.1 L1544.0,1678.2 L1531.5,1689.4 Z M1491.1,1696.3 L1502.2,1686.6 L1512.0,1696.3 L1502.2,1710.2 Z M1570.4,1678.2 L1577.4,1672.7 L1584.3,1679.6 L1577.4,1686.6 Z M1584.3,1693.5 L1595.5,1679.6 L1606.6,1674.1 L1620.5,1676.8 L1637.2,1672.7 L1652.5,1693.5 L1634.4,1699.1 L1620.5,1713.0 L1601.0,1699.1 Z M1658.1,1678.2 L1665.0,1672.7 L1681.7,1672.7 L1701.2,1668.5 L1704.0,1679.6 L1690.1,1688.0 L1665.0,1688.0 Z M1726.2,1720.0 L1737.4,1707.4 L1751.3,1693.5 L1726.2,1679.6 L1715.1,1685.2 L1704.0,1693.5 L1715.1,1707.4 L1723.5,1720.0 M1662.2,1713.0 L1667.8,1701.9 L1681.7,1707.4 L1704.0,1710.2 L1687.3,1715.8 L1670.6,1713.0 Z M776.7,1802.4 L787.8,1791.3 L801.7,1802.4 L818.4,1791.3 L840.7,1810.8 L862.9,1810.8 L893.5,1816.3 L890.8,1830.3 L901.9,1824.7 L920.0,1821.9 M776.7,1802.4 L796.1,1816.3 L804.5,1835.8 L818.4,1841.4 L835.1,1838.6 L840.7,1846.9 L835.1,1863.6 L818.4,1855.3 L801.7,1863.6 L787.8,1872.0 L773.9,1869.2 L757.2,1874.8 L751.6,1885.9 L754.4,1897.0 L746.1,1910.9 L754.4,1922.1 L762.8,1936.0 L765.5,1944.3 L746.1,1944.3 L729.4,1949.9 L715.5,1944.3 L712.7,1927.6 L707.1,1916.5 L701.5,1894.2 L684.9,1885.9 L670.9,1894.2 L690.4,1910.9 L682.1,1924.9 L684.9,1938.8 L679.3,1955.5 L687.6,1974.9 L701.5,1986.1 L687.6,1991.6 L668.2,1997.2 L654.2,1997.2 L640.3,2008.3 L620.9,2019.5 L640.3,2030.6 L659.8,2044.5 L673.7,2047.3 L698.8,2058.4 L729.4,2075.1 L737.7,2066.8 L734.9,2041.7 L732.2,2022.2 L729.4,2005.5 L743.3,2013.9 L760.0,2030.6 L776.7,2013.9 L790.6,2011.1 L807.3,2019.5 L801.7,2002.8 L796.1,1994.4 L804.5,1974.9 L801.7,1963.8 L790.6,1955.5 L773.9,1958.2 L768.3,1952.7 L773.9,1947.1 L798.9,1955.5 L824.0,1974.9 L832.3,1974.9 L824.0,1988.8 L824.0,1997.2 L840.7,2002.8 L857.4,2005.5 M696.0,2019.5 L718.2,2018.1 L732.2,2020.8 M854.6,2002.8 L864.3,1991.6 L875.4,2004.2 L862.9,2016.7 Z M824.0,2019.5 L837.9,2030.6 L846.2,2041.7 L849.0,2047.3 L835.1,2050.1 L830.9,2050.1 L846.2,2047.3 L862.9,2047.3 L885.2,2058.4 L907.4,2064.0 L910.2,2077.9 L920.0,2080.7 M771.1,1834.4 L775.3,1830.3 L780.8,1834.4 L775.3,1838.6 Z M693.2,1958.2 L697.4,1954.1 L702.9,1958.2 L697.4,1962.4 Z M903.3,1988.8 L907.4,1984.7 L912.5,1988.8 L907.4,1993.0 Z M886.6,2002.8 L890.8,1998.6 L895.8,2002.8 L890.8,2006.9 Z M920.0,1827.5 L947.8,1830.3 L967.3,1835.8 L981.2,1810.8 L1011.8,1827.5 L1025.7,1813.6 L1056.3,1833.0 L1064.7,1819.1 L1064.7,1802.4 L1073.0,1799.6 L1075.8,1810.8 L1086.9,1824.7 L1109.2,1821.9 L1131.5,1833.0 L1145.4,1838.6 L1162.1,1830.3 L1181.5,1824.7 L1203.8,1821.9 L1209.4,1813.6 L1226.1,1808.0 L1248.3,1805.2 L1265.0,1796.9 L1290.1,1805.2 L1309.5,1808.0 L1331.8,1808.0 L1354.1,1802.4 L1370.8,1796.9 L1381.9,1802.4 L1400.0,1796.9 M1176.0,1880.3 L1170.4,1894.2 L1164.9,1908.2 L1145.4,1924.9 L1131.5,1919.3 L1114.8,1924.9 L1103.6,1913.7 L1092.5,1922.1 L1092.5,1930.4 L1103.6,1941.5 L1114.8,1941.5 L1131.5,1938.8 L1134.2,1952.7 L1125.9,1963.8 L1112.0,1974.9 L1100.9,1988.8 L1120.3,1994.4 L1139.8,2000.0 L1170.4,2002.8 L1198.2,2002.8 L1209.4,2005.5 L1220.5,2022.2 L1242.8,2013.9 L1256.7,2022.2 L1259.5,2036.1 L1237.2,2041.7 L1231.6,2050.1 L1212.2,2061.2 L1195.5,2064.0 L1176.0,2069.5 L1156.5,2064.0 L1134.2,2061.2 L1109.2,2061.2 L1086.9,2061.2 L1056.3,2061.2 L1028.5,2066.8 L1011.8,2058.4 L984.0,2066.8 L956.2,2066.8 L936.7,2069.5 L920.0,2072.3 M1176.0,1880.3 L1189.9,1894.2 L1214.9,1885.9 L1237.2,1877.6 L1262.2,1877.6 L1278.9,1883.1 L1290.1,1877.6 L1315.1,1874.8 L1337.4,1874.8 L1354.1,1883.1 L1365.2,1891.5 L1381.9,1910.9 L1393.0,1899.8 L1400.0,1891.5 M1036.9,1874.8 L1042.4,1872.0 L1059.1,1894.2 L1056.3,1905.4 L1039.6,1899.8 Z M1050.8,1865.0 L1059.1,1862.2 L1063.3,1865.0 L1056.3,1867.0 Z M1038.3,1924.9 L1041.0,1919.8 L1044.7,1924.9 L1041.0,1929.0 Z M1240.0,1895.6 L1249.7,1885.9 L1258.1,1895.6 L1249.7,1905.4 Z M1139.8,1958.2 L1148.2,1951.3 L1153.7,1958.2 L1146.8,1963.8 Z M1178.8,2111.3 L1195.5,2100.1 L1206.6,2087.6 L1223.3,2089.0 L1226.1,2102.9 L1214.9,2116.8 L1206.6,2125.2 L1189.9,2119.6 Z M1260.8,2112.7 L1265.0,2108.5 L1269.2,2112.7 L1265.0,2117.4 Z M1473.0,1802.4 L1486.9,1791.3 L1484.2,1780.2 L1481.4,1769.0 L1486.9,1757.9 L1509.2,1753.7 L1517.6,1753.7 L1548.2,1760.7 L1559.3,1769.0 L1581.5,1780.2 L1595.5,1794.1 L1598.2,1810.8 L1596.9,1838.6 L1581.5,1838.6 L1559.3,1841.4 L1542.6,1846.9 L1531.5,1846.9 L1514.8,1838.6 L1503.6,1824.7 L1486.9,1810.8 Z M1559.8,1820.5 L1563.5,1815.8 L1567.6,1820.5 L1563.5,1826.1 Z M1399.9,1891.5 L1411.8,1897.0 L1431.3,1899.8 L1453.6,1899.8 L1475.8,1897.0 L1473.0,1885.9 L1470.3,1866.4 L1464.7,1855.3 L1475.8,1852.5 L1475.8,1833.0 L1450.8,1819.1 L1453.6,1813.6 L1464.7,1805.2 L1459.1,1799.6 L1442.4,1802.4 L1425.7,1810.8 L1399.9,1796.9 M1442.4,1724.5 L1456.3,1720.3 L1467.5,1724.5 L1456.3,1728.7 Z M1646.9,1724.5 L1651.1,1720.3 L1655.3,1725.9 L1651.1,1730.1 Z" fill="none" stroke="#262626" stroke-width="5.6" stroke-linejoin="round" stroke-linecap="round"/>
<path d="M576.3,854.6 L584.7,846.3 L609.7,839.3 L626.4,854.6 L651.5,851.8 L662.6,861.6 L687.6,874.1 L696.0,871.3 L679.3,854.6 L682.1,835.1 L715.5,836.5 L729.4,854.6 L754.4,871.3 L746.1,879.6 L729.4,885.2 L715.5,882.4 L684.9,892.2 L657.0,879.6 L640.3,893.6 L637.6,869.9 L612.5,864.3 L587.5,860.2 Z M857.4,1073.0 L874.1,1068.8 L885.2,1073.0 L874.1,1080.0 L857.4,1077.2 Z M978.4,993.7 L997.9,979.8 L986.8,963.1 L1003.5,949.2 L1028.5,949.2 L1017.4,929.7 L1020.2,915.8 L1036.9,910.3 L1039.6,888.0 L1049.4,886.6 L1049.4,901.9 L1086.9,904.7 L1120.3,915.8 L1134.2,932.5 L1142.6,949.2 L1153.7,963.1 L1131.5,968.7 L1114.8,965.9 L1100.9,982.6 L1086.9,971.5 L1064.7,971.5 L1053.6,993.7 L1036.9,1007.6 L1011.8,1016.0 L989.6,1002.1 Z M1022.9,965.9 L1031.3,960.3 L1035.5,965.9 L1029.9,982.6 L1024.3,979.8 Z M1007.6,993.7 L1011.8,984.0 L1016.8,993.7 L1011.8,1000.7 Z M1038.3,993.7 L1042.4,984.0 L1047.4,993.7 L1042.4,1000.7 Z M1098.1,977.0 L1101.4,971.5 L1104.8,977.0 L1101.4,982.6 Z M1112.0,1021.5 L1125.9,1017.4 L1153.7,1027.1 L1164.9,1041.0 L1150.9,1052.2 L1139.8,1066.1 L1117.6,1068.8 L1112.0,1054.9 L1128.7,1043.8 L1114.8,1036.9 Z M1178.8,1071.6 L1201.0,1060.5 L1214.9,1068.8 L1217.7,1074.4 L1201.0,1085.5 L1184.3,1077.2 Z M1253.9,993.7 L1278.9,992.3 L1281.7,1004.9 L1276.1,1024.3 L1287.3,1027.1 L1265.0,1041.0 L1259.5,1016.0 Z M1320.7,1063.3 L1337.4,1052.2 L1359.6,1068.8 L1370.8,1074.4 L1362.4,1088.3 L1345.7,1093.9 L1334.6,1080.0 L1323.5,1071.6 Z M1184.3,1121.7 L1187.1,1118.9 L1214.9,1132.8 L1198.2,1135.6 L1187.1,1132.8 Z M1230.2,1134.2 L1234.4,1130.1 L1240.0,1134.2 L1234.4,1138.4 Z M1320.7,1134.2 L1342.9,1132.8 L1368.0,1116.1 L1376.3,1132.8 L1379.1,1149.5 L1373.5,1177.4 L1370.8,1205.2 L1359.6,1216.3 M1025.7,1210.8 L1039.6,1199.6 L1050.8,1194.1 L1064.7,1205.2 L1078.6,1210.8 L1086.9,1205.2 L1092.5,1233.0 M1393.7,1096.7 L1399.3,1085.5 L1403.5,1096.7 L1399.3,1107.8 Z M1422.9,1103.6 L1431.3,1100.8 L1445.2,1103.6 L1434.1,1106.4 Z M1438.3,1135.6 L1442.4,1132.8 L1446.6,1135.6 L1442.4,1138.4 Z M1400.1,1160.7 L1417.4,1171.8 L1436.9,1174.6 L1459.1,1155.1 L1470.3,1163.5 L1486.9,1152.3 L1492.5,1163.5 L1506.4,1171.8 L1520.3,1174.6 L1537.0,1177.4 L1537.0,1188.5 L1514.8,1194.1 L1498.1,1194.1 L1484.2,1205.2 L1486.9,1219.1 L1495.3,1233.0 L1492.5,1240.0 M1394.6,1182.9 L1397.9,1178.8 L1402.1,1182.9 L1397.9,1187.1 Z M1411.3,1195.4 L1414.6,1191.3 L1418.8,1195.4 L1414.6,1201.0 Z M1498.9,1195.4 L1502.2,1191.3 L1505.9,1195.4 L1502.2,1199.6 Z M1523.1,1230.2 L1537.0,1221.9 L1548.2,1230.2 L1537.0,1235.8 Z M1411.8,1240.0 L1431.3,1233.0 L1459.1,1230.2 L1486.9,1233.0 L1514.8,1238.6 M782.2,1256.7 L798.9,1245.6 L815.6,1242.8 L832.3,1245.6 L818.4,1256.7 L810.1,1276.2 L804.5,1281.7 L787.8,1265.0 Z M835.1,1259.5 L849.0,1247.0 L862.9,1259.5 L849.0,1270.6 Z M785.0,1290.1 L789.2,1284.5 L793.9,1290.1 L789.2,1294.3 Z M874.1,1537.7 L882.4,1529.4 L896.3,1529.4 L899.1,1534.9 L890.8,1554.4 L879.6,1546.1 Z M896.3,1529.4 L910.2,1511.3 L920.0,1507.1 M899.1,1534.9 L913.0,1540.5 L920.0,1540.5 M1034.1,1242.8 L1050.8,1248.3 L1064.7,1251.1 L1075.8,1245.6 L1100.9,1253.9 L1120.3,1262.3 L1131.5,1273.4 L1139.8,1262.3 L1142.6,1245.6 M1187.1,1306.8 L1201.0,1298.4 L1231.6,1295.6 L1251.1,1298.4 L1259.5,1306.8 L1240.0,1312.3 L1220.5,1323.5 L1209.4,1329.0 L1192.7,1320.7 Z M1092.5,1337.4 L1100.9,1329.0 L1109.2,1345.7 L1120.3,1351.3 L1125.9,1362.4 L1117.6,1373.6 L1103.6,1354.1 Z M1134.2,1351.3 L1153.7,1337.4 L1170.4,1329.0 L1184.3,1337.4 L1170.4,1348.5 L1150.9,1354.1 L1142.6,1356.9 Z M1112.5,1311.0 L1116.2,1302.6 L1120.3,1311.0 L1116.2,1317.9 Z M1379.7,1320.7 L1383.3,1317.4 L1386.9,1320.7 L1383.3,1324.0 Z M920.0,1507.1 L942.3,1504.3 L967.3,1507.1 L989.6,1511.3 L1017.4,1509.9 L1045.2,1504.3 L1042.4,1518.2 L1025.7,1529.4 L1003.5,1534.9 L989.6,1543.3 L970.1,1562.8 L959.0,1543.3 L936.7,1534.9 L920.0,1529.4 M964.0,1582.2 L967.3,1575.3 L970.6,1582.2 L967.3,1587.8 Z M1053.0,1565.5 L1056.3,1558.6 L1059.7,1565.5 L1056.3,1572.5 Z M1320.7,1690.8 L1337.4,1679.6 L1354.1,1676.8 L1368.0,1679.6 L1365.2,1696.3 L1348.5,1701.9 L1323.5,1696.3 Z M1570.4,1273.4 L1577.4,1262.3 L1584.3,1273.4 L1577.4,1279.0 Z M1509.2,1244.2 L1514.8,1240.0 L1521.7,1244.2 L1514.8,1249.7 Z M1528.1,1678.2 L1531.5,1674.9 L1534.8,1678.2 L1531.5,1681.6 Z M1612.2,1693.5 L1620.5,1686.6 L1628.8,1693.5 L1620.5,1701.9 Z M776.7,1897.0 L793.4,1883.1 L835.1,1874.8 L843.5,1858.1 L860.1,1846.9 L876.8,1833.0 L896.3,1833.0 L920.0,1835.8 M776.7,1897.0 L785.0,1908.2 L779.5,1924.9 L785.0,1938.8 L796.1,1947.1 L818.4,1947.1 L840.7,1944.3 L849.0,1958.2 L862.9,1958.2 L879.6,1947.1 L896.3,1947.1 L920.0,1952.7 M701.5,1969.4 L712.7,1952.7 L723.8,1958.2 L723.8,1974.9 L715.5,1986.1 L704.3,1977.7 Z M737.7,1961.0 L748.8,1955.5 L760.0,1972.2 L746.1,1974.9 L740.5,1969.4 Z M768.3,1986.1 L772.5,1980.5 L778.1,1986.1 L772.5,1993.0 Z M645.9,2019.5 L657.0,2011.1 L673.7,2022.2 L673.7,2036.1 L662.6,2036.1 L651.5,2027.8 Z M885.2,1849.7 L890.8,1846.4 L896.3,1849.7 L890.8,1853.1 Z M844.8,1865.0 L849.0,1861.7 L854.0,1865.0 L849.0,1868.4 Z M886.6,2052.8 L901.9,2030.6 L913.0,2016.7 L920.0,2013.9 M886.6,2052.8 L907.4,2050.1 L920.0,2047.3 M1200.5,2111.3 L1204.4,2107.1 L1208.5,2111.3 L1204.4,2115.4 Z M1178.8,1863.6 L1192.7,1846.9 L1214.9,1830.3 L1231.6,1821.9 L1253.9,1816.3 L1281.7,1821.9 L1295.6,1833.0 L1281.7,1844.2 L1262.2,1855.3 L1226.1,1866.4 L1201.0,1872.0 L1184.3,1872.0 Z M1331.8,1833.0 L1342.9,1827.5 L1365.2,1819.1 L1381.9,1816.3 L1400.0,1819.1 M1331.8,1833.0 L1348.5,1849.7 L1356.8,1869.2 L1365.2,1885.9 L1381.9,1885.9 L1400.0,1874.8 M1298.4,1849.7 L1306.8,1844.2 L1315.1,1851.1 L1308.1,1858.1 Z M1320.1,1863.6 L1323.5,1860.9 L1327.6,1863.6 L1323.5,1866.4 Z M920.0,1835.8 L936.7,1852.5 L942.3,1863.6 L931.1,1874.8 L920.0,1880.3 M970.1,1835.8 L986.8,1824.7 L1003.5,1833.0 L1020.2,1841.4 L1042.4,1846.9 L1020.2,1858.1 L1017.4,1874.8 L1003.5,1880.3 L992.3,1872.0 L975.6,1872.0 L964.5,1880.3 L956.2,1897.0 L967.3,1908.2 L992.3,1908.2 L1009.0,1908.2 L1017.4,1922.1 L1022.9,1944.3 L1028.5,1961.0 L1039.6,1949.9 L1059.1,1947.1 L1064.7,1958.2 L1053.6,1969.4 L1039.6,1974.9 L1031.3,1991.6 L1028.5,2013.9 L1017.4,2030.6 L1003.5,2041.7 L992.3,2050.1 L975.6,2055.6 L956.2,2055.6 L945.0,2044.5 L936.7,2030.6 L920.0,2027.8 M920.0,1913.7 L936.7,1916.5 L947.8,1927.6 L936.7,1938.8 L920.0,1952.7 M920.0,1977.7 L931.1,1991.6 L939.5,2005.5 L928.3,2019.5 L920.0,2022.2 M1078.6,1944.3 L1086.9,1936.0 L1098.1,1947.1 L1109.2,1958.2 L1095.3,1972.2 L1086.9,1974.9 L1081.4,1961.0 Z M1067.5,1891.5 L1075.8,1874.8 L1086.9,1872.0 L1114.8,1874.8 L1128.7,1880.3 L1120.3,1894.2 L1092.5,1897.0 L1075.8,1899.8 Z M1139.8,1894.2 L1145.4,1888.7 L1150.9,1895.6 L1145.4,1901.2 Z M1048.0,2005.5 L1064.7,1997.2 L1086.9,1994.4 L1114.8,1997.2 L1142.6,2002.8 L1170.4,2008.3 L1198.2,2013.9 L1209.4,2022.2 L1214.9,2036.1 L1201.0,2047.3 L1178.8,2052.8 L1153.7,2050.1 L1131.5,2047.3 L1103.6,2047.3 L1078.6,2041.7 L1056.3,2030.6 L1048.0,2016.7 Z M964.5,1994.4 L967.3,1986.1 L970.1,1994.4 L967.3,2005.5 Z M947.8,2019.5 L951.2,2016.7 L954.8,2019.5 L951.2,2022.2 Z M1498.1,1785.7 L1514.8,1771.8 L1542.6,1777.4 L1570.4,1785.7 L1564.9,1802.4 L1545.4,1802.4 L1525.9,1808.0 L1517.6,1810.8 L1503.6,1796.9 Z M1542.6,1817.7 L1546.8,1813.6 L1550.9,1817.7 L1546.8,1822.5 Z M1400.1,1819.1 L1414.6,1824.7 L1425.7,1835.8 L1436.9,1841.4 L1445.2,1846.9 L1439.6,1858.1 L1448.0,1880.3 L1431.3,1874.8 L1411.8,1874.8 L1400.1,1874.8" fill="none" stroke="#4d4d4d" stroke-width="5.6" stroke-linejoin="round" stroke-linecap="round"/>
<path d="M1022.9,918.6 L1036.9,911.6 L1075.8,914.4 L1098.1,924.2 L1109.2,932.5 L1098.1,954.8 L1086.9,965.9 L1070.3,968.7 L1053.6,960.3 L1039.6,943.6 L1028.5,932.5 Z M1329.0,1230.2 L1342.9,1216.3 L1356.8,1208.0 L1359.6,1216.3 L1342.9,1235.8 Z M1434.1,1196.8 L1453.6,1174.6 L1475.8,1174.6 L1492.5,1180.1 L1475.8,1185.7 L1453.6,1194.1 L1442.4,1202.4 Z M967.3,1522.4 L981.2,1518.2 L1003.5,1518.2 L1017.4,1523.8 L1003.5,1529.4 L981.2,1529.4 Z M1345.7,1674.1 L1359.6,1674.1 L1356.8,1693.5 L1351.3,1696.3 Z M787.8,1924.9 L801.7,1908.2 L826.8,1908.2 L812.8,1930.4 L798.9,1930.4 Z M837.9,1897.0 L860.1,1880.3 L874.1,1905.4 L857.4,1913.7 Z M888.0,1924.9 L899.1,1910.9 L913.0,1919.3 L920.0,1922.1 M865.7,1860.9 L878.2,1852.5 L889.4,1863.6 L878.2,1874.8 Z M901.9,2036.1 L913.0,2025.0 L920.0,2022.2 M1194.1,1849.7 L1209.4,1845.6 L1223.3,1841.4 L1237.2,1827.5 L1253.9,1821.9 L1260.8,1831.6 L1248.3,1846.9 L1237.2,1858.1 L1226.1,1852.5 L1214.9,1852.5 L1198.2,1853.9 Z M1348.5,1835.8 L1365.2,1830.3 L1381.9,1824.7 L1387.4,1835.8 L1400.0,1838.6 M1348.5,1835.8 L1354.1,1852.5 L1370.8,1863.6 L1393.0,1866.4 L1400.0,1863.6 M986.8,1846.9 L997.9,1844.2 L1009.0,1846.9 L997.9,1852.5 Z M992.3,1863.6 L997.9,1858.1 L1003.5,1869.2 L997.9,1874.8 Z M972.9,1927.6 L981.2,1922.1 L991.0,1926.2 L981.2,1931.8 Z M942.3,1958.2 L959.0,1952.7 L975.6,1955.5 L986.8,1949.9 L1003.5,1952.7 L1014.6,1958.2 L1003.5,1966.6 L986.8,1966.6 L964.5,1961.0 L947.8,1961.0 Z M1049.4,1958.2 L1053.6,1954.9 L1058.3,1958.2 L1053.6,1961.6 Z M947.8,2036.1 L967.3,2027.8 L984.0,2041.7 L981.2,2050.1 L959.0,2047.3 Z M989.6,2027.8 L1000.7,2005.5 L1014.6,2004.2 L1000.7,2011.1 M1082.8,1880.3 L1086.9,1877.0 L1092.5,1880.3 L1086.9,1883.7 Z M1078.6,2016.7 L1092.5,2011.1 L1114.8,2016.7 L1134.2,2022.2 L1150.9,2016.7 L1170.4,2025.0 L1181.5,2033.4 L1164.9,2038.9 L1134.2,2036.1 L1109.2,2038.9 L1095.3,2044.5 L1084.2,2030.6 Z M1514.8,1785.7 L1525.9,1782.9 L1539.8,1785.7 L1534.2,1792.7 L1520.3,1791.3 Z M1400.1,1835.8 L1414.6,1830.3 L1425.7,1841.4 L1431.3,1852.5 L1428.5,1863.6 L1414.6,1863.6 L1400.1,1863.6" fill="none" stroke="#777777" stroke-width="5.6" stroke-linejoin="round" stroke-linecap="round"/>
<path d="M1048.0,932.5 L1056.3,924.2 L1073.0,921.4 L1084.2,932.5 L1092.5,949.2 L1084.2,957.6 L1070.3,958.9 L1059.1,952.0 L1049.4,940.9 Z M1226.1,1846.9 L1240.0,1831.6 L1253.9,1830.3 L1245.5,1844.2 L1234.4,1855.3 Z M1379.1,1862.2 L1383.3,1852.5 L1388.0,1862.2 L1383.3,1866.4 Z M1098.1,2030.6 L1101.4,2025.0 L1105.0,2030.6 L1101.4,2037.5 Z" fill="none" stroke="#a3a3a3" stroke-width="5.6" stroke-linejoin="round" stroke-linecap="round"/>
<path d="M591.6,856.0 L598.6,851.8 L612.5,850.4 L618.1,856.0 L609.7,861.6 L597.2,860.7 Z M680.7,886.6 L684.9,882.4 L689.0,886.6 L684.9,890.2 Z M844.8,1086.9 L850.4,1082.8 L856.0,1088.3 L849.0,1091.1 Z M889.4,1086.9 L894.9,1082.8 L899.1,1088.3 L893.5,1092.5 Z M815.6,1244.2 L819.0,1241.4 L822.6,1244.2 L819.0,1247.0 Z M1169.9,1337.4 L1173.2,1334.0 L1177.4,1337.4 L1173.2,1340.7 Z M858.8,1924.9 L865.7,1919.3 L874.1,1924.9 L865.7,1930.4 Z M874.1,1863.6 L878.2,1859.5 L883.0,1863.6 L878.2,1867.8 Z" fill="#7a7a7a" stroke="#7a7a7a" stroke-width="5.6" stroke-linejoin="round" stroke-linecap="round"/>
<path d="M1059.1,933.9 L1067.5,929.7 L1074.4,932.5 L1070.3,939.5 L1062.5,938.1 Z M1229.4,1846.9 L1234.4,1842.8 L1239.4,1847.8 L1234.4,1852.5 Z" fill="#d9d9d9" stroke="#d9d9d9" stroke-width="5.6" stroke-linejoin="round" stroke-linecap="round"/></g>
<defs><linearGradient id="cbg" x1="0" y1="1" x2="0" y2="0">
<stop offset="0.000" stop-color="#663399"/>
<stop offset="0.050" stop-color="#5c3495"/>
<stop offset="0.100" stop-color="#523591"/>
<stop offset="0.150" stop-color="#47358c"/>
<stop offset="0.200" stop-color="#3d3688"/>
<stop offset="0.250" stop-color="#333784"/>
<stop offset="0.300" stop-color="#293880"/>
<stop offset="0.350" stop-color="#1f397c"/>
<stop offset="0.400" stop-color="#143977"/>
<stop offset="0.450" stop-color="#0a3a73"/>
<stop offset="0.500" stop-color="#003b6f"/>
<stop offset="0.550" stop-color="#034367"/>
<stop offset="0.600" stop-color="#074b60"/>
<stop offset="0.650" stop-color="#0a5358"/>
<stop offset="0.700" stop-color="#0e5b50"/>
<stop offset="0.750" stop-color="#116348"/>
<stop offset="0.800" stop-color="#146b41"/>
<stop offset="0.850" stop-color="#187339"/>
<stop offset="0.900" stop-color="#1b7b31"/>
<stop offset="0.950" stop-color="#1f832a"/>
<stop offset="1.000" stop-color="#228b22"/>
</linearGradient></defs>
<rect x="2610.5" y="720.5" width="150.0" height="1439.5" fill="url(#cbg)"/>
<line x1="360.50" y1="600.00" x2="360.50" y2="569.40" stroke="#000" stroke-width="3.00"/>
<line x1="360.50" y1="120.50" x2="360.50" y2="151.10" stroke="#000" stroke-width="3.00"/>
<line x1="723.70" y1="600.00" x2="723.70" y2="569.40" stroke="#000" stroke-width="3.00"/>
<line x1="723.70" y1="120.50" x2="723.70" y2="151.10" stroke="#000" stroke-width="3.00"/>
<line x1="1086.90" y1="600.00" x2="1086.90" y2="569.40" stroke="#000" stroke-width="3.00"/>
<line x1="1086.90" y1="120.50" x2="1086.90" y2="151.10" stroke="#000" stroke-width="3.00"/>
<line x1="1450.10" y1="600.00" x2="1450.10" y2="569.40" stroke="#000" stroke-width="3.00"/>
<line x1="1450.10" y1="120.50" x2="1450.10" y2="151.10" stroke="#000" stroke-width="3.00"/>
<line x1="451.30" y1="600.00" x2="451.30" y2="585.00" stroke="#000" stroke-width="3.00"/>
<line x1="451.30" y1="120.50" x2="451.30" y2="135.50" stroke="#000" stroke-width="3.00"/>
<line x1="542.10" y1="600.00" x2="542.10" y2="585.00" stroke="#000" stroke-width="3.00"/>
<line x1="542.10" y1="120.50" x2="542.10" y2="135.50" stroke="#000" stroke-width="3.00"/>
<line x1="632.90" y1="600.00" x2="632.90" y2="585.00" stroke="#000" stroke-width="3.00"/>
<line x1="632.90" y1="120.50" x2="632.90" y2="135.50" stroke="#000" stroke-width="3.00"/>
<line x1="814.50" y1="600.00" x2="814.50" y2="585.00" stroke="#000" stroke-width="3.00"/>
<line x1="814.50" y1="120.50" x2="814.50" y2="135.50" stroke="#000" stroke-width="3.00"/>
<line x1="905.30" y1="600.00" x2="905.30" y2="585.00" stroke="#000" stroke-width="3.00"/>
<line x1="905.30" y1="120.50" x2="905.30" y2="135.50" stroke="#000" stroke-width="3.00"/>
<line x1="996.10" y1="600.00" x2="996.10" y2="585.00" stroke="#000" stroke-width="3.00"/>
<line x1="996.10" y1="120.50" x2="996.10" y2="135.50" stroke="#000" stroke-width="3.00"/>
<line x1="1177.70" y1="600.00" x2="1177.70" y2="585.00" stroke="#000" stroke-width="3.00"/>
<line x1="1177.70" y1="120.50" x2="1177.70" y2="135.50" stroke="#000" stroke-width="3.00"/>
<line x1="1268.50" y1="600.00" x2="1268.50" y2="585.00" stroke="#000" stroke-width="3.00"/>
<line x1="1268.50" y1="120.50" x2="1268.50" y2="135.50" stroke="#000" stroke-width="3.00"/>
<line x1="1359.30" y1="600.00" x2="1359.30" y2="585.00" stroke="#000" stroke-width="3.00"/>
<line x1="1359.30" y1="120.50" x2="1359.30" y2="135.50" stroke="#000" stroke-width="3.00"/>
<line x1="1540.90" y1="600.00" x2="1540.90" y2="585.00" stroke="#000" stroke-width="3.00"/>
<line x1="1540.90" y1="120.50" x2="1540.90" y2="135.50" stroke="#000" stroke-width="3.00"/>
<line x1="1631.70" y1="600.00" x2="1631.70" y2="585.00" stroke="#000" stroke-width="3.00"/>
<line x1="1631.70" y1="120.50" x2="1631.70" y2="135.50" stroke="#000" stroke-width="3.00"/>
<line x1="1722.50" y1="600.00" x2="1722.50" y2="585.00" stroke="#000" stroke-width="3.00"/>
<line x1="1722.50" y1="120.50" x2="1722.50" y2="135.50" stroke="#000" stroke-width="3.00"/>
<line x1="360.50" y1="600.00" x2="391.10" y2="600.00" stroke="#000" stroke-width="3.00"/>
<line x1="1800.50" y1="600.00" x2="1769.90" y2="600.00" stroke="#000" stroke-width="3.00"/>
<line x1="360.50" y1="339.00" x2="391.10" y2="339.00" stroke="#000" stroke-width="3.00"/>
<line x1="1800.50" y1="339.00" x2="1769.90" y2="339.00" stroke="#000" stroke-width="3.00"/>
<line x1="360.50" y1="547.80" x2="375.50" y2="547.80" stroke="#000" stroke-width="3.00"/>
<line x1="1800.50" y1="547.80" x2="1785.50" y2="547.80" stroke="#000" stroke-width="3.00"/>
<line x1="360.50" y1="495.60" x2="375.50" y2="495.60" stroke="#000" stroke-width="3.00"/>
<line x1="1800.50" y1="495.60" x2="1785.50" y2="495.60" stroke="#000" stroke-width="3.00"/>
<line x1="360.50" y1="443.40" x2="375.50" y2="443.40" stroke="#000" stroke-width="3.00"/>
<line x1="1800.50" y1="443.40" x2="1785.50" y2="443.40" stroke="#000" stroke-width="3.00"/>
<line x1="360.50" y1="391.20" x2="375.50" y2="391.20" stroke="#000" stroke-width="3.00"/>
<line x1="1800.50" y1="391.20" x2="1785.50" y2="391.20" stroke="#000" stroke-width="3.00"/>
<line x1="360.50" y1="286.80" x2="375.50" y2="286.80" stroke="#000" stroke-width="3.00"/>
<line x1="1800.50" y1="286.80" x2="1785.50" y2="286.80" stroke="#000" stroke-width="3.00"/>
<line x1="360.50" y1="234.60" x2="375.50" y2="234.60" stroke="#000" stroke-width="3.00"/>
<line x1="1800.50" y1="234.60" x2="1785.50" y2="234.60" stroke="#000" stroke-width="3.00"/>
<line x1="360.50" y1="182.40" x2="375.50" y2="182.40" stroke="#000" stroke-width="3.00"/>
<line x1="1800.50" y1="182.40" x2="1785.50" y2="182.40" stroke="#000" stroke-width="3.00"/>
<line x1="360.50" y1="130.20" x2="375.50" y2="130.20" stroke="#000" stroke-width="3.00"/>
<line x1="1800.50" y1="130.20" x2="1785.50" y2="130.20" stroke="#000" stroke-width="3.00"/>
<rect x="360.50" y="120.50" width="1440.00" height="479.50" fill="none" stroke="#000" stroke-width="3.30"/>
<line x1="360.50" y1="2159.50" x2="360.50" y2="2128.90" stroke="#000" stroke-width="3.00"/>
<line x1="360.50" y1="720.50" x2="360.50" y2="751.10" stroke="#000" stroke-width="3.00"/>
<line x1="723.70" y1="2159.50" x2="723.70" y2="2128.90" stroke="#000" stroke-width="3.00"/>
<line x1="723.70" y1="720.50" x2="723.70" y2="751.10" stroke="#000" stroke-width="3.00"/>
<line x1="1086.90" y1="2159.50" x2="1086.90" y2="2128.90" stroke="#000" stroke-width="3.00"/>
<line x1="1086.90" y1="720.50" x2="1086.90" y2="751.10" stroke="#000" stroke-width="3.00"/>
<line x1="1450.10" y1="2159.50" x2="1450.10" y2="2128.90" stroke="#000" stroke-width="3.00"/>
<line x1="1450.10" y1="720.50" x2="1450.10" y2="751.10" stroke="#000" stroke-width="3.00"/>
<line x1="451.30" y1="2159.50" x2="451.30" y2="2144.50" stroke="#000" stroke-width="3.00"/>
<line x1="451.30" y1="720.50" x2="451.30" y2="735.50" stroke="#000" stroke-width="3.00"/>
<line x1="542.10" y1="2159.50" x2="542.10" y2="2144.50" stroke="#000" stroke-width="3.00"/>
<line x1="542.10" y1="720.50" x2="542.10" y2="735.50" stroke="#000" stroke-width="3.00"/>
<line x1="632.90" y1="2159.50" x2="632.90" y2="2144.50" stroke="#000" stroke-width="3.00"/>
<line x1="632.90" y1="720.50" x2="632.90" y2="735.50" stroke="#000" stroke-width="3.00"/>
<line x1="814.50" y1="2159.50" x2="814.50" y2="2144.50" stroke="#000" stroke-width="3.00"/>
<line x1="814.50" y1="720.50" x2="814.50" y2="735.50" stroke="#000" stroke-width="3.00"/>
<line x1="905.30" y1="2159.50" x2="905.30" y2="2144.50" stroke="#000" stroke-width="3.00"/>
<line x1="905.30" y1="720.50" x2="905.30" y2="735.50" stroke="#000" stroke-width="3.00"/>
<line x1="996.10" y1="2159.50" x2="996.10" y2="2144.50" stroke="#000" stroke-width="3.00"/>
<line x1="996.10" y1="720.50" x2="996.10" y2="735.50" stroke="#000" stroke-width="3.00"/>
<line x1="1177.70" y1="2159.50" x2="1177.70" y2="2144.50" stroke="#000" stroke-width="3.00"/>
<line x1="1177.70" y1="720.50" x2="1177.70" y2="735.50" stroke="#000" stroke-width="3.00"/>
<line x1="1268.50" y1="2159.50" x2="1268.50" y2="2144.50" stroke="#000" stroke-width="3.00"/>
<line x1="1268.50" y1="720.50" x2="1268.50" y2="735.50" stroke="#000" stroke-width="3.00"/>
<line x1="1359.30" y1="2159.50" x2="1359.30" y2="2144.50" stroke="#000" stroke-width="3.00"/>
<line x1="1359.30" y1="720.50" x2="1359.30" y2="735.50" stroke="#000" stroke-width="3.00"/>
<line x1="1540.90" y1="2159.50" x2="1540.90" y2="2144.50" stroke="#000" stroke-width="3.00"/>
<line x1="1540.90" y1="720.50" x2="1540.90" y2="735.50" stroke="#000" stroke-width="3.00"/>
<line x1="1631.70" y1="2159.50" x2="1631.70" y2="2144.50" stroke="#000" stroke-width="3.00"/>
<line x1="1631.70" y1="720.50" x2="1631.70" y2="735.50" stroke="#000" stroke-width="3.00"/>
<line x1="1722.50" y1="2159.50" x2="1722.50" y2="2144.50" stroke="#000" stroke-width="3.00"/>
<line x1="1722.50" y1="720.50" x2="1722.50" y2="735.50" stroke="#000" stroke-width="3.00"/>
<line x1="360.50" y1="2091.75" x2="391.10" y2="2091.75" stroke="#000" stroke-width="3.00"/>
<line x1="1800.50" y1="2091.75" x2="1769.90" y2="2091.75" stroke="#000" stroke-width="3.00"/>
<line x1="360.50" y1="1765.75" x2="391.10" y2="1765.75" stroke="#000" stroke-width="3.00"/>
<line x1="1800.50" y1="1765.75" x2="1769.90" y2="1765.75" stroke="#000" stroke-width="3.00"/>
<line x1="360.50" y1="1439.75" x2="391.10" y2="1439.75" stroke="#000" stroke-width="3.00"/>
<line x1="1800.50" y1="1439.75" x2="1769.90" y2="1439.75" stroke="#000" stroke-width="3.00"/>
<line x1="360.50" y1="1113.75" x2="391.10" y2="1113.75" stroke="#000" stroke-width="3.00"/>
<line x1="1800.50" y1="1113.75" x2="1769.90" y2="1113.75" stroke="#000" stroke-width="3.00"/>
<line x1="360.50" y1="787.75" x2="391.10" y2="787.75" stroke="#000" stroke-width="3.00"/>
<line x1="1800.50" y1="787.75" x2="1769.90" y2="787.75" stroke="#000" stroke-width="3.00"/>
<line x1="360.50" y1="2010.25" x2="375.50" y2="2010.25" stroke="#000" stroke-width="3.00"/>
<line x1="1800.50" y1="2010.25" x2="1785.50" y2="2010.25" stroke="#000" stroke-width="3.00"/>
<line x1="360.50" y1="1928.75" x2="375.50" y2="1928.75" stroke="#000" stroke-width="3.00"/>
<line x1="1800.50" y1="1928.75" x2="1785.50" y2="1928.75" stroke="#000" stroke-width="3.00"/>
<line x1="360.50" y1="1847.25" x2="375.50" y2="1847.25" stroke="#000" stroke-width="3.00"/>
<line x1="1800.50" y1="1847.25" x2="1785.50" y2="1847.25" stroke="#000" stroke-width="3.00"/>
<line x1="360.50" y1="1684.25" x2="375.50" y2="1684.25" stroke="#000" stroke-width="3.00"/>
<line x1="1800.50" y1="1684.25" x2="1785.50" y2="1684.25" stroke="#000" stroke-width="3.00"/>
<line x1="360.50" y1="1602.75" x2="375.50" y2="1602.75" stroke="#000" stroke-width="3.00"/>
<line x1="1800.50" y1="1602.75" x2="1785.50" y2="1602.75" stroke="#000" stroke-width="3.00"/>
<line x1="360.50" y1="1521.25" x2="375.50" y2="1521.25" stroke="#000" stroke-width="3.00"/>
<line x1="1800.50" y1="1521.25" x2="1785.50" y2="1521.25" stroke="#000" stroke-width="3.00"/>
<line x1="360.50" y1="1358.25" x2="375.50" y2="1358.25" stroke="#000" stroke-width="3.00"/>
<line x1="1800.50" y1="1358.25" x2="1785.50" y2="1358.25" stroke="#000" stroke-width="3.00"/>
<line x1="360.50" y1="1276.75" x2="375.50" y2="1276.75" stroke="#000" stroke-width="3.00"/>
<line x1="1800.50" y1="1276.75" x2="1785.50" y2="1276.75" stroke="#000" stroke-width="3.00"/>
<line x1="360.50" y1="1195.25" x2="375.50" y2="1195.25" stroke="#000" stroke-width="3.00"/>
<line x1="1800.50" y1="1195.25" x2="1785.50" y2="1195.25" stroke="#000" stroke-width="3.00"/>
<line x1="360.50" y1="1032.25" x2="375.50" y2="1032.25" stroke="#000" stroke-width="3.00"/>
<line x1="1800.50" y1="1032.25" x2="1785.50" y2="1032.25" stroke="#000" stroke-width="3.00"/>
<line x1="360.50" y1="950.75" x2="375.50" y2="950.75" stroke="#000" stroke-width="3.00"/>
<line x1="1800.50" y1="950.75" x2="1785.50" y2="950.75" stroke="#000" stroke-width="3.00"/>
<line x1="360.50" y1="869.25" x2="375.50" y2="869.25" stroke="#000" stroke-width="3.00"/>
<line x1="1800.50" y1="869.25" x2="1785.50" y2="869.25" stroke="#000" stroke-width="3.00"/>
<rect x="360.50" y="720.50" width="1440.00" height="1439.00" fill="none" stroke="#000" stroke-width="3.30"/>
<line x1="1920.50" y1="2159.50" x2="1920.50" y2="2128.90" stroke="#000" stroke-width="3.00"/>
<line x1="1920.50" y1="720.50" x2="1920.50" y2="751.10" stroke="#000" stroke-width="3.00"/>
<line x1="2482.70" y1="2159.50" x2="2482.70" y2="2128.90" stroke="#000" stroke-width="3.00"/>
<line x1="2482.70" y1="720.50" x2="2482.70" y2="751.10" stroke="#000" stroke-width="3.00"/>
<line x1="2032.94" y1="2159.50" x2="2032.94" y2="2144.50" stroke="#000" stroke-width="3.00"/>
<line x1="2032.94" y1="720.50" x2="2032.94" y2="735.50" stroke="#000" stroke-width="3.00"/>
<line x1="2145.38" y1="2159.50" x2="2145.38" y2="2144.50" stroke="#000" stroke-width="3.00"/>
<line x1="2145.38" y1="720.50" x2="2145.38" y2="735.50" stroke="#000" stroke-width="3.00"/>
<line x1="2257.82" y1="2159.50" x2="2257.82" y2="2144.50" stroke="#000" stroke-width="3.00"/>
<line x1="2257.82" y1="720.50" x2="2257.82" y2="735.50" stroke="#000" stroke-width="3.00"/>
<line x1="2370.26" y1="2159.50" x2="2370.26" y2="2144.50" stroke="#000" stroke-width="3.00"/>
<line x1="2370.26" y1="720.50" x2="2370.26" y2="735.50" stroke="#000" stroke-width="3.00"/>
<line x1="1920.50" y1="2091.75" x2="1951.10" y2="2091.75" stroke="#000" stroke-width="3.00"/>
<line x1="2490.50" y1="2091.75" x2="2459.90" y2="2091.75" stroke="#000" stroke-width="3.00"/>
<line x1="1920.50" y1="1765.75" x2="1951.10" y2="1765.75" stroke="#000" stroke-width="3.00"/>
<line x1="2490.50" y1="1765.75" x2="2459.90" y2="1765.75" stroke="#000" stroke-width="3.00"/>
<line x1="1920.50" y1="1439.75" x2="1951.10" y2="1439.75" stroke="#000" stroke-width="3.00"/>
<line x1="2490.50" y1="1439.75" x2="2459.90" y2="1439.75" stroke="#000" stroke-width="3.00"/>
<line x1="1920.50" y1="1113.75" x2="1951.10" y2="1113.75" stroke="#000" stroke-width="3.00"/>
<line x1="2490.50" y1="1113.75" x2="2459.90" y2="1113.75" stroke="#000" stroke-width="3.00"/>
<line x1="1920.50" y1="787.75" x2="1951.10" y2="787.75" stroke="#000" stroke-width="3.00"/>
<line x1="2490.50" y1="787.75" x2="2459.90" y2="787.75" stroke="#000" stroke-width="3.00"/>
<line x1="1920.50" y1="2010.25" x2="1935.50" y2="2010.25" stroke="#000" stroke-width="3.00"/>
<line x1="2490.50" y1="2010.25" x2="2475.50" y2="2010.25" stroke="#000" stroke-width="3.00"/>
<line x1="1920.50" y1="1928.75" x2="1935.50" y2="1928.75" stroke="#000" stroke-width="3.00"/>
<line x1="2490.50" y1="1928.75" x2="2475.50" y2="1928.75" stroke="#000" stroke-width="3.00"/>
<line x1="1920.50" y1="1847.25" x2="1935.50" y2="1847.25" stroke="#000" stroke-width="3.00"/>
<line x1="2490.50" y1="1847.25" x2="2475.50" y2="1847.25" stroke="#000" stroke-width="3.00"/>
<line x1="1920.50" y1="1684.25" x2="1935.50" y2="1684.25" stroke="#000" stroke-width="3.00"/>
<line x1="2490.50" y1="1684.25" x2="2475.50" y2="1684.25" stroke="#000" stroke-width="3.00"/>
<line x1="1920.50" y1="1602.75" x2="1935.50" y2="1602.75" stroke="#000" stroke-width="3.00"/>
<line x1="2490.50" y1="1602.75" x2="2475.50" y2="1602.75" stroke="#000" stroke-width="3.00"/>
<line x1="1920.50" y1="1521.25" x2="1935.50" y2="1521.25" stroke="#000" stroke-width="3.00"/>
<line x1="2490.50" y1="1521.25" x2="2475.50" y2="1521.25" stroke="#000" stroke-width="3.00"/>
<line x1="1920.50" y1="1358.25" x2="1935.50" y2="1358.25" stroke="#000" stroke-width="3.00"/>
<line x1="2490.50" y1="1358.25" x2="2475.50" y2="1358.25" stroke="#000" stroke-width="3.00"/>
<line x1="1920.50" y1="1276.75" x2="1935.50" y2="1276.75" stroke="#000" stroke-width="3.00"/>
<line x1="2490.50" y1="1276.75" x2="2475.50" y2="1276.75" stroke="#000" stroke-width="3.00"/>
<line x1="1920.50" y1="1195.25" x2="1935.50" y2="1195.25" stroke="#000" stroke-width="3.00"/>
<line x1="2490.50" y1="1195.25" x2="2475.50" y2="1195.25" stroke="#000" stroke-width="3.00"/>
<line x1="1920.50" y1="1032.25" x2="1935.50" y2="1032.25" stroke="#000" stroke-width="3.00"/>
<line x1="2490.50" y1="1032.25" x2="2475.50" y2="1032.25" stroke="#000" stroke-width="3.00"/>
<line x1="1920.50" y1="950.75" x2="1935.50" y2="950.75" stroke="#000" stroke-width="3.00"/>
<line x1="2490.50" y1="950.75" x2="2475.50" y2="950.75" stroke="#000" stroke-width="3.00"/>
<line x1="1920.50" y1="869.25" x2="1935.50" y2="869.25" stroke="#000" stroke-width="3.00"/>
<line x1="2490.50" y1="869.25" x2="2475.50" y2="869.25" stroke="#000" stroke-width="3.00"/>
<rect x="1920.50" y="720.50" width="570.00" height="1439.00" fill="none" stroke="#000" stroke-width="3.30"/>
<line x1="2760.50" y1="2088.03" x2="2745.50" y2="2088.03" stroke="#000" stroke-width="3.00"/>
<line x1="2760.50" y1="2016.05" x2="2745.50" y2="2016.05" stroke="#000" stroke-width="3.00"/>
<line x1="2760.50" y1="1944.08" x2="2745.50" y2="1944.08" stroke="#000" stroke-width="3.00"/>
<line x1="2760.50" y1="1872.10" x2="2729.90" y2="1872.10" stroke="#000" stroke-width="3.00"/>
<line x1="2760.50" y1="1800.12" x2="2745.50" y2="1800.12" stroke="#000" stroke-width="3.00"/>
<line x1="2760.50" y1="1728.15" x2="2745.50" y2="1728.15" stroke="#000" stroke-width="3.00"/>
<line x1="2760.50" y1="1656.17" x2="2745.50" y2="1656.17" stroke="#000" stroke-width="3.00"/>
<line x1="2760.50" y1="1584.20" x2="2729.90" y2="1584.20" stroke="#000" stroke-width="3.00"/>
<line x1="2760.50" y1="1512.22" x2="2745.50" y2="1512.22" stroke="#000" stroke-width="3.00"/>
<line x1="2760.50" y1="1440.25" x2="2745.50" y2="1440.25" stroke="#000" stroke-width="3.00"/>
<line x1="2760.50" y1="1368.28" x2="2745.50" y2="1368.28" stroke="#000" stroke-width="3.00"/>
<line x1="2760.50" y1="1296.30" x2="2729.90" y2="1296.30" stroke="#000" stroke-width="3.00"/>
<line x1="2760.50" y1="1224.32" x2="2745.50" y2="1224.32" stroke="#000" stroke-width="3.00"/>
<line x1="2760.50" y1="1152.35" x2="2745.50" y2="1152.35" stroke="#000" stroke-width="3.00"/>
<line x1="2760.50" y1="1080.38" x2="2745.50" y2="1080.38" stroke="#000" stroke-width="3.00"/>
<line x1="2760.50" y1="1008.40" x2="2729.90" y2="1008.40" stroke="#000" stroke-width="3.00"/>
<line x1="2760.50" y1="936.42" x2="2745.50" y2="936.42" stroke="#000" stroke-width="3.00"/>
<line x1="2760.50" y1="864.45" x2="2745.50" y2="864.45" stroke="#000" stroke-width="3.00"/>
<line x1="2760.50" y1="792.48" x2="2745.50" y2="792.48" stroke="#000" stroke-width="3.00"/>
<rect x="2610.50" y="720.50" width="150.00" height="1439.50" fill="none" stroke="#000" stroke-width="3.30"/>
<g font-family="'Liberation Sans', 'DejaVu Sans', sans-serif" font-weight="bold" fill="#000">
<text x="340.80" y="361.40" font-size="84.0" text-anchor="end" textLength="86.80" lengthAdjust="spacingAndGlyphs" >250</text>
<text x="340.80" y="621.50" font-size="84.0" text-anchor="end" textLength="25.50" lengthAdjust="spacingAndGlyphs" >0</text>
<text x="340.60" y="810.15" font-size="84.0" text-anchor="end" textLength="89.30" lengthAdjust="spacingAndGlyphs" >400</text>
<text x="340.60" y="1136.15" font-size="84.0" text-anchor="end" textLength="89.30" lengthAdjust="spacingAndGlyphs" >200</text>
<text x="340.60" y="1462.15" font-size="84.0" text-anchor="end" textLength="25.50" lengthAdjust="spacingAndGlyphs" >0</text>
<text x="340.60" y="1788.15" font-size="84.0" text-anchor="end" textLength="135.30" lengthAdjust="spacingAndGlyphs" >−200</text>
<text x="340.60" y="2114.15" font-size="84.0" text-anchor="end" textLength="135.30" lengthAdjust="spacingAndGlyphs" >−400</text>
<text x="360.50" y="2236.80" font-size="84.0" text-anchor="middle" textLength="25.30" lengthAdjust="spacingAndGlyphs" >0</text>
<text x="724.20" y="2236.80" font-size="84.0" text-anchor="middle" textLength="26.50" lengthAdjust="spacingAndGlyphs" >2</text>
<text x="1086.90" y="2236.80" font-size="84.0" text-anchor="middle" textLength="29.70" lengthAdjust="spacingAndGlyphs" >4</text>
<text x="1450.10" y="2236.80" font-size="84.0" text-anchor="middle" textLength="28.00" lengthAdjust="spacingAndGlyphs" >6</text>
<text x="1920.70" y="2237.20" font-size="84.0" text-anchor="middle" textLength="25.80" lengthAdjust="spacingAndGlyphs" >0</text>
<text x="2483.90" y="2237.20" font-size="84.0" text-anchor="middle" textLength="86.40" lengthAdjust="spacingAndGlyphs" >500</text>
<text x="2780.60" y="2182.00" font-size="84.0" text-anchor="start" textLength="70.30" lengthAdjust="spacingAndGlyphs" >0.0</text>
<text x="2780.60" y="1894.10" font-size="84.0" text-anchor="start" textLength="70.30" lengthAdjust="spacingAndGlyphs" >0.2</text>
<text x="2780.60" y="1606.20" font-size="84.0" text-anchor="start" textLength="70.30" lengthAdjust="spacingAndGlyphs" >0.4</text>
<text x="2780.60" y="1318.30" font-size="84.0" text-anchor="start" textLength="70.30" lengthAdjust="spacingAndGlyphs" >0.6</text>
<text x="2780.60" y="1030.40" font-size="84.0" text-anchor="start" textLength="70.30" lengthAdjust="spacingAndGlyphs" >0.8</text>
<text x="2780.60" y="742.50" font-size="84.0" text-anchor="start" textLength="70.30" lengthAdjust="spacingAndGlyphs" >1.0</text>
<text x="1078.90" y="2345.50" font-size="109.0" text-anchor="middle" textLength="837.20" lengthAdjust="spacingAndGlyphs" >Lateral displacement (nm)</text>
<text x="2204.40" y="2344.90" font-size="109.0" text-anchor="middle" textLength="275.30" lengthAdjust="spacingAndGlyphs" ># Counts</text>
<text x="160.20" y="1440.30" font-size="108.0" text-anchor="middle" textLength="677.30" lengthAdjust="spacingAndGlyphs" transform="rotate(-90 160.20 1440.30)" >Precession (degrees)</text>
<text x="210.30" y="360.40" font-size="110.0" text-anchor="middle" textLength="272.60" lengthAdjust="spacingAndGlyphs" transform="rotate(-90 210.30 360.40)" ># Counts</text>
<text x="2930.70" y="1440.00" font-size="88.0" text-anchor="middle" textLength="580.70" lengthAdjust="spacingAndGlyphs" transform="rotate(-90 2930.70 1440.00)" >Normalized Mean Time</text>
<text x="1922.30" y="281.60" font-size="130.7" text-anchor="start" textLength="237.90" lengthAdjust="spacingAndGlyphs" >PepDF</text>
<text x="1920.50" y="432.50" font-size="110.0" text-anchor="start" textLength="673.30" lengthAdjust="spacingAndGlyphs" >Time window: 200 ns</text>
</g>
</svg>
</body></html>
